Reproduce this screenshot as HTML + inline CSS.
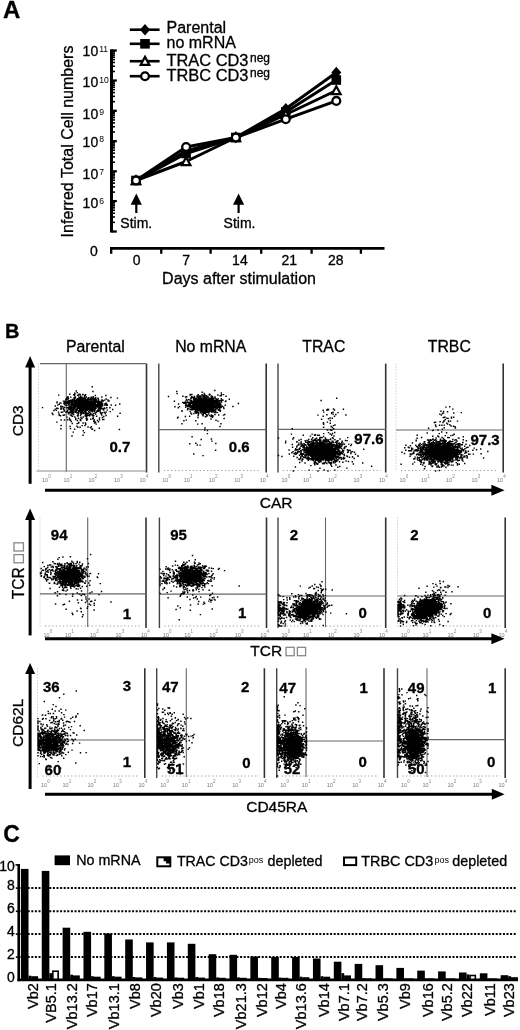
<!DOCTYPE html>
<html><head><meta charset="utf-8"><style>
html,body{margin:0;padding:0;background:#fff;overflow:hidden;}
svg{display:block;font-family:"Liberation Sans", sans-serif;filter:blur(0.35px);}
</style></head><body>
<svg width="520" height="1030" viewBox="0 0 520 1030">
<rect width="520" height="1030" fill="#fff"/>
<text x="3" y="18" font-size="24" font-weight="bold" fill="#000" stroke="#000" stroke-width="0.3">A</text>
<line x1="111.5" y1="49.3" x2="111.5" y2="232.5" stroke="#000" stroke-width="3.0"/>
<line x1="111.5" y1="50.5" x2="116.8" y2="50.5" stroke="#000" stroke-width="2.3"/>
<line x1="111.5" y1="80.5" x2="116.8" y2="80.5" stroke="#000" stroke-width="2.3"/>
<line x1="111.5" y1="110.8" x2="116.8" y2="110.8" stroke="#000" stroke-width="2.3"/>
<line x1="111.5" y1="141.2" x2="116.8" y2="141.2" stroke="#000" stroke-width="2.3"/>
<line x1="111.5" y1="171.3" x2="116.8" y2="171.3" stroke="#000" stroke-width="2.3"/>
<line x1="111.5" y1="201.1" x2="116.8" y2="201.1" stroke="#000" stroke-width="2.3"/>
<line x1="111.5" y1="231.5" x2="116.8" y2="231.5" stroke="#000" stroke-width="2.3"/>
<line x1="111.5" y1="71.46910013008056" x2="115.0" y2="71.46910013008056" stroke="#000" stroke-width="1.6"/>
<line x1="111.5" y1="66.18636235841012" x2="115.0" y2="66.18636235841012" stroke="#000" stroke-width="1.6"/>
<line x1="111.5" y1="62.438200260161125" x2="115.0" y2="62.438200260161125" stroke="#000" stroke-width="1.6"/>
<line x1="111.5" y1="59.53089986991944" x2="115.0" y2="59.53089986991944" stroke="#000" stroke-width="1.6"/>
<line x1="111.5" y1="57.15546248849069" x2="115.0" y2="57.15546248849069" stroke="#000" stroke-width="1.6"/>
<line x1="111.5" y1="55.14705879957229" x2="115.0" y2="55.14705879957229" stroke="#000" stroke-width="1.6"/>
<line x1="111.5" y1="53.407300390241694" x2="115.0" y2="53.407300390241694" stroke="#000" stroke-width="1.6"/>
<line x1="111.5" y1="51.87272471682026" x2="115.0" y2="51.87272471682026" stroke="#000" stroke-width="1.6"/>
<line x1="111.5" y1="101.67879113138137" x2="115.0" y2="101.67879113138137" stroke="#000" stroke-width="1.6"/>
<line x1="111.5" y1="96.34322598199422" x2="115.0" y2="96.34322598199422" stroke="#000" stroke-width="1.6"/>
<line x1="111.5" y1="92.55758226276274" x2="115.0" y2="92.55758226276274" stroke="#000" stroke-width="1.6"/>
<line x1="111.5" y1="89.62120886861862" x2="115.0" y2="89.62120886861862" stroke="#000" stroke-width="1.6"/>
<line x1="111.5" y1="87.2220171133756" x2="115.0" y2="87.2220171133756" stroke="#000" stroke-width="1.6"/>
<line x1="111.5" y1="85.19352938756802" x2="115.0" y2="85.19352938756802" stroke="#000" stroke-width="1.6"/>
<line x1="111.5" y1="83.43637339414411" x2="115.0" y2="83.43637339414411" stroke="#000" stroke-width="1.6"/>
<line x1="111.5" y1="81.88645196398846" x2="115.0" y2="81.88645196398846" stroke="#000" stroke-width="1.6"/>
<line x1="111.5" y1="132.04868813181497" x2="115.0" y2="132.04868813181497" stroke="#000" stroke-width="1.6"/>
<line x1="111.5" y1="126.69551385652225" x2="115.0" y2="126.69551385652225" stroke="#000" stroke-width="1.6"/>
<line x1="111.5" y1="122.89737626362994" x2="115.0" y2="122.89737626362994" stroke="#000" stroke-width="1.6"/>
<line x1="111.5" y1="119.95131186818503" x2="115.0" y2="119.95131186818503" stroke="#000" stroke-width="1.6"/>
<line x1="111.5" y1="117.54420198833722" x2="115.0" y2="117.54420198833722" stroke="#000" stroke-width="1.6"/>
<line x1="111.5" y1="115.50901958356658" x2="115.0" y2="115.50901958356658" stroke="#000" stroke-width="1.6"/>
<line x1="111.5" y1="113.7460643954449" x2="115.0" y2="113.7460643954449" stroke="#000" stroke-width="1.6"/>
<line x1="111.5" y1="112.19102771304452" x2="115.0" y2="112.19102771304452" stroke="#000" stroke-width="1.6"/>
<line x1="111.5" y1="162.23899713051418" x2="115.0" y2="162.23899713051418" stroke="#000" stroke-width="1.6"/>
<line x1="111.5" y1="156.93865023293816" x2="115.0" y2="156.93865023293816" stroke="#000" stroke-width="1.6"/>
<line x1="111.5" y1="153.17799426102832" x2="115.0" y2="153.17799426102832" stroke="#000" stroke-width="1.6"/>
<line x1="111.5" y1="150.26100286948582" x2="115.0" y2="150.26100286948582" stroke="#000" stroke-width="1.6"/>
<line x1="111.5" y1="147.87764736345233" x2="115.0" y2="147.87764736345233" stroke="#000" stroke-width="1.6"/>
<line x1="111.5" y1="145.86254899557088" x2="115.0" y2="145.86254899557088" stroke="#000" stroke-width="1.6"/>
<line x1="111.5" y1="144.11699139154248" x2="115.0" y2="144.11699139154248" stroke="#000" stroke-width="1.6"/>
<line x1="111.5" y1="142.5773004658763" x2="115.0" y2="142.5773004658763" stroke="#000" stroke-width="1.6"/>
<line x1="111.5" y1="192.12930612921335" x2="115.0" y2="192.12930612921335" stroke="#000" stroke-width="1.6"/>
<line x1="111.5" y1="186.88178660935407" x2="115.0" y2="186.88178660935407" stroke="#000" stroke-width="1.6"/>
<line x1="111.5" y1="183.15861225842673" x2="115.0" y2="183.15861225842673" stroke="#000" stroke-width="1.6"/>
<line x1="111.5" y1="180.27069387078666" x2="115.0" y2="180.27069387078666" stroke="#000" stroke-width="1.6"/>
<line x1="111.5" y1="177.91109273856742" x2="115.0" y2="177.91109273856742" stroke="#000" stroke-width="1.6"/>
<line x1="111.5" y1="175.91607840757516" x2="115.0" y2="175.91607840757516" stroke="#000" stroke-width="1.6"/>
<line x1="111.5" y1="174.18791838764008" x2="115.0" y2="174.18791838764008" stroke="#000" stroke-width="1.6"/>
<line x1="111.5" y1="172.66357321870814" x2="115.0" y2="172.66357321870814" stroke="#000" stroke-width="1.6"/>
<line x1="111.5" y1="222.34868813181498" x2="115.0" y2="222.34868813181498" stroke="#000" stroke-width="1.6"/>
<line x1="111.5" y1="216.99551385652225" x2="115.0" y2="216.99551385652225" stroke="#000" stroke-width="1.6"/>
<line x1="111.5" y1="213.19737626362993" x2="115.0" y2="213.19737626362993" stroke="#000" stroke-width="1.6"/>
<line x1="111.5" y1="210.251311868185" x2="115.0" y2="210.251311868185" stroke="#000" stroke-width="1.6"/>
<line x1="111.5" y1="207.84420198833723" x2="115.0" y2="207.84420198833723" stroke="#000" stroke-width="1.6"/>
<line x1="111.5" y1="205.8090195835666" x2="115.0" y2="205.8090195835666" stroke="#000" stroke-width="1.6"/>
<line x1="111.5" y1="204.04606439544492" x2="115.0" y2="204.04606439544492" stroke="#000" stroke-width="1.6"/>
<line x1="111.5" y1="202.49102771304453" x2="115.0" y2="202.49102771304453" stroke="#000" stroke-width="1.6"/>
<text x="98.2" y="55.8" font-size="14" text-anchor="end" fill="#000" stroke="#000" stroke-width="0.3">10</text>
<text x="99.2" y="51.5" font-size="8.6" fill="#000">11</text>
<text x="98.2" y="87.2" font-size="14" text-anchor="end" fill="#000" stroke="#000" stroke-width="0.3">10</text>
<text x="99.2" y="82.9" font-size="8.6" fill="#000">10</text>
<text x="98.2" y="118.8" font-size="14" text-anchor="end" fill="#000" stroke="#000" stroke-width="0.3">10</text>
<text x="99.2" y="114.5" font-size="8.6" fill="#000">9</text>
<text x="98.2" y="146.6" font-size="14" text-anchor="end" fill="#000" stroke="#000" stroke-width="0.3">10</text>
<text x="99.2" y="142.29999999999998" font-size="8.6" fill="#000">8</text>
<text x="98.2" y="179.1" font-size="14" text-anchor="end" fill="#000" stroke="#000" stroke-width="0.3">10</text>
<text x="99.2" y="174.79999999999998" font-size="8.6" fill="#000">7</text>
<text x="98.2" y="208.2" font-size="14" text-anchor="end" fill="#000" stroke="#000" stroke-width="0.3">10</text>
<text x="99.2" y="203.89999999999998" font-size="8.6" fill="#000">6</text>
<text transform="translate(72.9 141.5) rotate(-90)" font-size="16" text-anchor="middle" fill="#000" stroke="#000" stroke-width="0.3">Inferred Total Cell numbers</text>
<line x1="110" y1="248.4" x2="384.5" y2="248.4" stroke="#000" stroke-width="2.6"/>
<line x1="111.2" y1="248" x2="111.2" y2="253.8" stroke="#000" stroke-width="2.3"/>
<line x1="161.25" y1="248" x2="161.25" y2="253.8" stroke="#000" stroke-width="2.3"/>
<line x1="210.6" y1="248" x2="210.6" y2="253.8" stroke="#000" stroke-width="2.3"/>
<line x1="261.2" y1="248" x2="261.2" y2="253.8" stroke="#000" stroke-width="2.3"/>
<line x1="311.6" y1="248" x2="311.6" y2="253.8" stroke="#000" stroke-width="2.3"/>
<line x1="360.9" y1="248" x2="360.9" y2="253.8" stroke="#000" stroke-width="2.3"/>
<text x="93.8" y="256" font-size="14" text-anchor="middle" fill="#000" stroke="#000" stroke-width="0.3">0</text>
<text x="136.6" y="264.8" font-size="14" text-anchor="middle" fill="#000" stroke="#000" stroke-width="0.3">0</text>
<text x="186.2" y="264.8" font-size="14" text-anchor="middle" fill="#000" stroke="#000" stroke-width="0.3">7</text>
<text x="239.9" y="264.8" font-size="14" text-anchor="middle" fill="#000" stroke="#000" stroke-width="0.3">14</text>
<text x="289.3" y="264.8" font-size="14" text-anchor="middle" fill="#000" stroke="#000" stroke-width="0.3">21</text>
<text x="335.7" y="264.8" font-size="14" text-anchor="middle" fill="#000" stroke="#000" stroke-width="0.3">28</text>
<text x="162.1" y="284.3" font-size="16" fill="#000" stroke="#000" stroke-width="0.3">Days after stimulation</text>
<line x1="136.3" y1="203" x2="136.3" y2="213" stroke="#000" stroke-width="2.2"/>
<path d="M130.70000000000002 204.8 L136.3 193.5 L141.9 204.8 Z" fill="#000"/>
<text x="136.3" y="227.7" font-size="14" text-anchor="middle" fill="#000" stroke="#000" stroke-width="0.3">Stim.</text>
<line x1="238.6" y1="203" x2="238.6" y2="213" stroke="#000" stroke-width="2.2"/>
<path d="M233.0 204.8 L238.6 193.5 L244.2 204.8 Z" fill="#000"/>
<text x="239.5" y="227.7" font-size="14" text-anchor="middle" fill="#000" stroke="#000" stroke-width="0.3">Stim.</text>
<polyline points="136.0,180.5 186.1,151.0 235.8,137.5 285.8,108.8 336.3,72.5" fill="none" stroke="#000" stroke-width="3" stroke-linejoin="round"/>
<polyline points="136.0,180.5 186.1,153.5 235.8,137.5 285.8,112.0 336.3,80.0" fill="none" stroke="#000" stroke-width="3" stroke-linejoin="round"/>
<polyline points="136.0,180.5 186.1,161.5 235.8,137.5 285.8,114.5 336.3,90.5" fill="none" stroke="#000" stroke-width="3" stroke-linejoin="round"/>
<polyline points="136.0,180.5 186.1,147.0 235.8,137.5 285.8,119.2 336.3,100.9" fill="none" stroke="#000" stroke-width="3" stroke-linejoin="round"/>
<path d="M186.1 145.2 L191.1 151.0 L186.1 156.8 L181.1 151.0 Z" fill="#000"/>
<path d="M235.8 131.7 L240.8 137.5 L235.8 143.3 L230.8 137.5 Z" fill="#000"/>
<path d="M285.8 103.0 L290.8 108.8 L285.8 114.6 L280.8 108.8 Z" fill="#000"/>
<path d="M336.3 66.7 L341.3 72.5 L336.3 78.3 L331.3 72.5 Z" fill="#000"/>
<rect x="131.2" y="175.7" width="9.6" height="9.6" fill="#000"/>
<rect x="181.29999999999998" y="148.7" width="9.6" height="9.6" fill="#000"/>
<rect x="231.0" y="132.7" width="9.6" height="9.6" fill="#000"/>
<rect x="281.0" y="107.2" width="9.6" height="9.6" fill="#000"/>
<rect x="331.5" y="75.2" width="9.6" height="9.6" fill="#000"/>
<path d="M136.0 176.2 L140.3 184.1 L131.7 184.1 Z" fill="#fff" stroke="#000" stroke-width="2.2" stroke-linejoin="miter"/>
<path d="M186.1 157.2 L190.4 165.1 L181.79999999999998 165.1 Z" fill="#fff" stroke="#000" stroke-width="2.2" stroke-linejoin="miter"/>
<path d="M235.8 133.2 L240.10000000000002 141.1 L231.5 141.1 Z" fill="#fff" stroke="#000" stroke-width="2.2" stroke-linejoin="miter"/>
<path d="M285.8 110.2 L290.1 118.1 L281.5 118.1 Z" fill="#fff" stroke="#000" stroke-width="2.2" stroke-linejoin="miter"/>
<path d="M336.3 86.2 L340.6 94.1 L332.0 94.1 Z" fill="#fff" stroke="#000" stroke-width="2.2" stroke-linejoin="miter"/>
<circle cx="136.0" cy="180.5" r="3.9" fill="#fff" stroke="#000" stroke-width="2.3"/>
<circle cx="186.1" cy="147.0" r="3.9" fill="#fff" stroke="#000" stroke-width="2.3"/>
<circle cx="235.8" cy="137.5" r="3.9" fill="#fff" stroke="#000" stroke-width="2.3"/>
<circle cx="285.8" cy="119.2" r="3.9" fill="#fff" stroke="#000" stroke-width="2.3"/>
<circle cx="336.3" cy="100.9" r="3.9" fill="#fff" stroke="#000" stroke-width="2.3"/>
<line x1="129.8" y1="29.7" x2="159.6" y2="29.7" stroke="#000" stroke-width="2.6"/>
<path d="M145 23.9 L150 29.7 L145 35.5 L140 29.7 Z" fill="#000"/>
<text x="166.5" y="32.8" font-size="16" fill="#000" stroke="#000" stroke-width="0.3">Parental</text>
<line x1="129.8" y1="43.8" x2="159.6" y2="43.8" stroke="#000" stroke-width="2.6"/>
<rect x="140.2" y="39.0" width="9.6" height="9.6" fill="#000"/>
<text x="166.5" y="48.0" font-size="16" fill="#000" stroke="#000" stroke-width="0.3">no mRNA</text>
<line x1="129.8" y1="61.2" x2="159.6" y2="61.2" stroke="#000" stroke-width="2.6"/>
<path d="M145 56.900000000000006 L149.3 64.8 L140.7 64.8 Z" fill="#fff" stroke="#000" stroke-width="2.2" stroke-linejoin="miter"/>
<text x="166.5" y="65.8" font-size="16.4" fill="#000" stroke="#000" stroke-width="0.3">TRAC CD3</text>
<line x1="129.8" y1="76.2" x2="159.6" y2="76.2" stroke="#000" stroke-width="2.6"/>
<circle cx="145" cy="76.2" r="3.9" fill="#fff" stroke="#000" stroke-width="2.3"/>
<text x="166.5" y="80.8" font-size="16.4" fill="#000" stroke="#000" stroke-width="0.3">TRBC CD3</text>
<text x="250.0" y="61.6" font-size="12" fill="#000" stroke="#000" stroke-width="0.3">neg</text>
<text x="250.0" y="76.6" font-size="12" fill="#000" stroke="#000" stroke-width="0.3">neg</text>
<text x="5" y="338" font-size="20" font-weight="bold" fill="#000" stroke="#000" stroke-width="0.3">B</text>
<text x="95.3" y="351.5" font-size="15.8" text-anchor="middle" fill="#000" stroke="#000" stroke-width="0.3">Parental</text>
<text x="210.7" y="351.5" font-size="15.8" text-anchor="middle" fill="#000" stroke="#000" stroke-width="0.3">No mRNA</text>
<text x="323.8" y="351.5" font-size="15.8" text-anchor="middle" fill="#000" stroke="#000" stroke-width="0.3">TRAC</text>
<text x="449.3" y="351.5" font-size="15.8" text-anchor="middle" fill="#000" stroke="#000" stroke-width="0.3">TRBC</text>
<line x1="146.5" y1="363.6" x2="146.5" y2="472.5" stroke="#333" stroke-width="1.6"/>
<line x1="38.5" y1="363.6" x2="38.5" y2="471.5" stroke="#bbb" stroke-width="1.0" stroke-dasharray="1 2"/>
<line x1="40.0" y1="363.6" x2="146.5" y2="363.6" stroke="#666" stroke-width="1.3"/>
<line x1="36.5" y1="471.0" x2="146.5" y2="471.0" stroke="#888" stroke-width="1.0"/>
<text x="45.0" y="481.5" font-size="5.5" text-anchor="middle" fill="#777">10</text>
<text x="48.2" y="477.8" font-size="4.5" fill="#888">0</text>
<text x="66.5" y="481.5" font-size="5.5" text-anchor="middle" fill="#777">10</text>
<text x="69.7" y="477.8" font-size="4.5" fill="#888">1</text>
<text x="91.5" y="481.5" font-size="5.5" text-anchor="middle" fill="#777">10</text>
<text x="94.7" y="477.8" font-size="4.5" fill="#888">2</text>
<text x="117.0" y="481.5" font-size="5.5" text-anchor="middle" fill="#777">10</text>
<text x="120.2" y="477.8" font-size="4.5" fill="#888">3</text>
<text x="142.5" y="481.5" font-size="5.5" text-anchor="middle" fill="#777">10</text>
<text x="145.7" y="477.8" font-size="4.5" fill="#888">4</text>
<line x1="66.3" y1="363.6" x2="66.3" y2="471.5" stroke="#666" stroke-width="1.1"/>
<line x1="266.2" y1="363.6" x2="266.2" y2="472.5" stroke="#333" stroke-width="1.6"/>
<line x1="158.8" y1="363.6" x2="158.8" y2="472.5" stroke="#444" stroke-width="1.4"/>
<line x1="163.8" y1="470.5" x2="261.2" y2="470.5" stroke="#999" stroke-width="1.1" stroke-dasharray="1.2 2.4"/>
<text x="165.3" y="481.5" font-size="5.5" text-anchor="middle" fill="#777">10</text>
<text x="168.5" y="477.8" font-size="4.5" fill="#888">0</text>
<text x="186.8" y="481.5" font-size="5.5" text-anchor="middle" fill="#777">10</text>
<text x="190.0" y="477.8" font-size="4.5" fill="#888">1</text>
<text x="211.8" y="481.5" font-size="5.5" text-anchor="middle" fill="#777">10</text>
<text x="215.0" y="477.8" font-size="4.5" fill="#888">2</text>
<text x="237.3" y="481.5" font-size="5.5" text-anchor="middle" fill="#777">10</text>
<text x="240.5" y="477.8" font-size="4.5" fill="#888">3</text>
<text x="262.8" y="481.5" font-size="5.5" text-anchor="middle" fill="#777">10</text>
<text x="266.0" y="477.8" font-size="4.5" fill="#888">4</text>
<line x1="158.8" y1="429.6" x2="266.2" y2="429.6" stroke="#666" stroke-width="1.2"/>
<line x1="385.7" y1="363.6" x2="385.7" y2="472.5" stroke="#333" stroke-width="1.6"/>
<line x1="278.0" y1="363.6" x2="278.0" y2="472.5" stroke="#444" stroke-width="1.4"/>
<line x1="283.0" y1="470.5" x2="380.7" y2="470.5" stroke="#999" stroke-width="1.1" stroke-dasharray="1.2 2.4"/>
<text x="284.5" y="481.5" font-size="5.5" text-anchor="middle" fill="#777">10</text>
<text x="287.7" y="477.8" font-size="4.5" fill="#888">0</text>
<text x="306.0" y="481.5" font-size="5.5" text-anchor="middle" fill="#777">10</text>
<text x="309.2" y="477.8" font-size="4.5" fill="#888">1</text>
<text x="331.0" y="481.5" font-size="5.5" text-anchor="middle" fill="#777">10</text>
<text x="334.2" y="477.8" font-size="4.5" fill="#888">2</text>
<text x="356.5" y="481.5" font-size="5.5" text-anchor="middle" fill="#777">10</text>
<text x="359.7" y="477.8" font-size="4.5" fill="#888">3</text>
<text x="382.0" y="481.5" font-size="5.5" text-anchor="middle" fill="#777">10</text>
<text x="385.2" y="477.8" font-size="4.5" fill="#888">4</text>
<line x1="278.0" y1="429.4" x2="385.7" y2="429.4" stroke="#666" stroke-width="1.2"/>
<line x1="503.2" y1="363.6" x2="503.2" y2="472.5" stroke="#333" stroke-width="1.6"/>
<line x1="396.0" y1="363.6" x2="396.0" y2="471.5" stroke="#bbb" stroke-width="1.0" stroke-dasharray="1 2"/>
<line x1="401.0" y1="470.5" x2="498.2" y2="470.5" stroke="#999" stroke-width="1.1" stroke-dasharray="1.2 2.4"/>
<text x="402.5" y="481.5" font-size="5.5" text-anchor="middle" fill="#777">10</text>
<text x="405.7" y="477.8" font-size="4.5" fill="#888">0</text>
<text x="424.0" y="481.5" font-size="5.5" text-anchor="middle" fill="#777">10</text>
<text x="427.2" y="477.8" font-size="4.5" fill="#888">1</text>
<text x="449.0" y="481.5" font-size="5.5" text-anchor="middle" fill="#777">10</text>
<text x="452.2" y="477.8" font-size="4.5" fill="#888">2</text>
<text x="474.5" y="481.5" font-size="5.5" text-anchor="middle" fill="#777">10</text>
<text x="477.7" y="477.8" font-size="4.5" fill="#888">3</text>
<text x="500.0" y="481.5" font-size="5.5" text-anchor="middle" fill="#777">10</text>
<text x="503.2" y="477.8" font-size="4.5" fill="#888">4</text>
<line x1="396.0" y1="430.0" x2="503.2" y2="430.0" stroke="#666" stroke-width="1.2"/>
<line x1="30.1" y1="366.5" x2="30.1" y2="483.8" stroke="#000" stroke-width="3.0"/>
<path d="M25.1 367.5 L30.1 355.9 L35.1 367.5 Z" fill="#000"/>
<line x1="45.0" y1="490.2" x2="492.4" y2="490.2" stroke="#000" stroke-width="3.0"/>
<path d="M491.4 484.7 L504.6 490.2 L491.4 495.7 Z" fill="#000"/>
<text transform="translate(23.3 420.8) rotate(-90)" font-size="15.5" text-anchor="middle" fill="#000" stroke="#000" stroke-width="0.3">CD3</text>
<text x="259.8" y="507.9" font-size="15.5" fill="#000" stroke="#000" stroke-width="0.3">CAR</text>
<path d="M82.8 404.3h0M87.6 401.4h0M79.8 405.7h0M78.8 403.2h0M91.2 406.6h0M78.6 403.2h0M75.6 402.9h0M88.0 403.6h0M93.7 403.5h0M78.6 404.0h0M82.8 401.8h0M82.9 404.6h0M70.7 411.8h0M99.6 403.2h0M106.5 404.2h0M95.2 399.6h0M85.9 405.4h0M67.0 407.7h0M70.3 401.3h0M85.3 408.2h0M79.5 397.7h0M86.4 401.6h0M88.6 402.3h0M87.9 399.8h0M89.0 408.3h0M60.2 403.0h0M89.5 404.5h0M101.9 403.3h0M88.0 406.0h0M78.6 403.5h0M82.6 405.0h0M83.1 402.6h0M105.4 403.7h0M87.9 398.2h0M74.3 407.9h0M84.8 400.0h0M96.3 405.9h0M78.0 408.3h0M63.4 408.1h0M88.9 409.7h0M80.2 399.8h0M89.0 405.0h0M90.7 403.5h0M88.0 406.5h0M72.8 403.0h0M84.8 404.0h0M77.9 404.1h0M70.7 400.1h0M93.3 406.4h0M70.0 407.4h0M93.5 403.0h0M84.8 411.2h0M92.4 404.5h0M79.3 405.3h0M79.1 400.2h0M84.1 407.6h0M81.0 401.1h0M93.6 405.6h0M88.5 408.6h0M85.5 405.8h0M90.7 402.1h0M80.9 408.2h0M79.1 399.1h0M86.2 401.4h0M75.9 405.5h0M71.7 403.5h0M81.5 403.0h0M73.7 408.0h0M99.3 405.3h0M80.2 400.7h0M76.9 404.9h0M83.1 400.0h0M83.8 404.9h0M72.0 410.5h0M78.0 399.6h0M86.2 403.6h0M79.1 402.6h0M79.2 405.3h0M72.1 410.1h0M81.2 397.3h0M91.2 405.4h0M84.6 403.0h0M85.5 405.3h0M86.8 401.7h0M82.6 404.3h0M92.6 406.8h0M86.2 400.9h0M82.8 404.9h0M88.4 405.2h0M87.3 408.4h0M67.4 411.5h0M80.0 410.7h0M93.8 406.3h0M70.8 402.4h0M74.2 406.3h0M84.9 402.0h0M71.6 403.1h0M85.1 401.9h0M82.2 404.4h0M74.0 398.0h0M73.4 409.1h0M83.0 403.5h0M81.1 404.2h0M77.4 409.8h0M92.6 407.2h0M88.3 404.6h0M88.1 403.5h0M94.3 411.4h0M81.6 406.3h0M93.2 406.3h0M90.2 404.9h0M86.7 409.7h0M90.6 408.0h0M85.6 415.1h0M105.5 403.5h0M93.8 401.4h0M96.3 401.9h0M92.3 408.8h0M84.9 403.5h0M89.6 409.8h0M85.4 399.5h0M89.4 405.9h0M86.4 413.8h0M85.4 407.3h0M78.8 399.2h0M71.3 402.1h0M97.9 398.2h0M85.8 404.5h0M101.9 400.0h0M77.5 406.6h0M80.0 400.6h0M89.5 405.7h0M79.9 408.3h0M91.3 409.0h0M93.2 403.3h0M71.8 401.9h0M88.0 399.3h0M68.9 403.4h0M106.3 405.2h0M95.8 400.8h0M88.0 408.7h0M93.4 404.6h0M86.6 408.4h0M84.0 405.5h0M86.0 401.4h0M82.4 403.8h0M68.6 401.6h0M85.8 401.0h0M93.0 407.5h0M81.3 406.7h0M86.4 407.4h0M80.0 400.8h0M74.7 399.5h0M88.6 399.8h0M95.2 403.7h0M70.5 402.8h0M98.5 403.0h0M88.8 403.0h0M70.9 406.6h0M82.1 397.4h0M83.2 407.0h0M75.9 405.8h0M91.9 405.9h0M74.2 399.5h0M85.7 408.8h0M84.0 402.0h0M89.6 404.2h0M74.9 397.0h0M77.8 406.0h0M78.2 401.8h0M90.9 404.6h0M75.5 401.7h0M78.6 406.9h0M94.6 408.5h0M73.8 407.8h0M65.4 400.9h0M85.5 402.2h0M82.6 404.2h0M84.2 401.5h0M90.7 403.6h0M73.0 403.8h0M90.0 399.8h0M90.1 401.9h0M89.0 405.3h0M98.3 405.6h0M77.8 398.6h0M84.9 402.2h0M96.8 406.0h0M92.6 404.0h0M72.2 401.3h0M66.7 398.3h0M92.1 403.5h0M83.2 404.7h0M91.4 406.6h0M79.6 402.0h0M95.7 407.1h0M78.7 400.4h0M88.0 405.8h0M81.9 410.8h0M86.6 403.5h0M103.3 401.0h0M85.8 401.5h0M100.9 402.7h0M85.6 404.7h0M75.0 407.2h0M107.3 405.3h0M78.7 400.3h0M79.5 404.1h0M83.8 398.2h0M101.1 404.9h0M70.5 410.5h0M80.4 406.0h0M86.8 407.0h0M89.1 404.9h0M72.1 404.8h0M79.3 403.3h0M89.3 404.3h0M88.2 402.9h0M79.1 399.9h0M65.9 399.2h0M83.5 409.4h0M74.9 403.6h0M78.8 405.4h0M101.3 408.7h0M80.3 402.4h0M86.0 401.9h0M77.4 400.0h0M86.8 400.5h0M98.5 402.5h0M79.4 404.6h0M83.7 405.9h0M67.0 403.2h0M83.3 399.0h0M77.1 405.3h0M88.7 399.1h0M77.7 400.2h0M87.2 399.5h0M83.2 407.4h0M81.1 406.7h0M96.0 400.7h0M76.1 401.5h0M79.5 404.2h0M71.5 404.7h0M77.3 407.4h0M105.0 404.0h0M104.3 407.9h0M88.8 397.8h0M86.2 401.7h0M93.2 407.7h0M86.1 402.6h0M106.9 404.8h0M90.2 402.5h0M87.8 401.4h0M84.8 403.5h0M78.7 402.4h0M82.6 403.4h0M81.4 402.7h0M80.6 404.5h0M79.9 405.4h0M79.0 407.5h0M76.7 399.8h0M65.6 403.0h0M79.5 405.0h0M80.5 401.0h0M92.7 402.6h0M92.7 404.3h0M94.5 403.0h0M88.0 401.0h0M81.1 403.1h0M85.3 405.6h0M77.1 405.8h0M71.2 402.2h0M84.5 406.8h0M88.8 404.3h0M69.0 409.1h0M87.7 407.3h0M96.6 404.4h0M76.5 405.5h0M78.2 405.8h0M78.9 405.2h0M78.8 396.1h0M91.6 402.2h0M100.2 404.4h0M72.4 405.1h0M74.3 398.7h0M73.9 403.6h0M85.9 404.8h0M86.8 405.7h0M95.4 402.4h0M92.2 404.5h0M68.7 407.5h0M73.8 406.3h0M83.3 407.1h0M98.6 406.9h0M68.6 404.4h0M80.3 403.3h0M83.0 407.1h0M85.8 400.8h0M100.6 402.7h0M79.7 400.0h0M80.9 401.0h0M99.0 408.1h0M60.8 406.2h0M82.6 399.5h0M71.0 406.4h0M84.4 407.3h0M76.6 409.9h0M88.1 403.5h0M92.8 404.5h0M79.8 400.6h0M85.6 394.8h0M76.9 399.5h0M91.8 407.6h0M79.6 402.3h0M98.1 404.9h0M97.7 403.8h0M89.8 410.7h0M80.4 406.9h0M90.6 398.3h0M101.9 400.9h0M90.8 404.0h0M78.0 402.7h0M93.2 399.4h0M84.9 395.6h0M77.6 395.3h0M79.0 404.4h0M61.0 403.1h0M77.7 402.0h0M88.2 405.1h0M94.7 407.8h0M79.2 407.3h0M92.4 403.5h0M79.0 401.3h0M76.5 406.4h0M79.5 404.6h0M76.4 400.5h0M103.7 410.1h0M91.6 403.8h0M75.1 409.1h0M71.7 403.8h0M85.4 398.2h0M82.9 408.0h0M91.3 397.3h0M95.4 399.3h0M82.8 403.3h0M74.1 408.1h0M84.2 405.3h0M70.5 400.7h0M99.3 403.9h0M81.7 404.3h0M75.4 397.3h0M71.9 403.5h0M91.0 405.7h0M69.7 400.6h0M75.9 409.9h0M73.7 401.7h0M88.4 409.1h0M90.5 406.8h0M98.5 399.4h0M89.9 403.2h0M92.8 401.8h0M94.4 410.4h0M108.3 401.1h0M79.7 405.9h0M97.4 401.5h0M97.7 401.4h0M99.3 403.5h0M93.1 396.8h0M64.7 407.4h0M63.3 408.6h0M70.9 402.7h0M92.6 404.2h0M83.8 404.5h0M81.2 406.5h0M89.7 405.7h0M88.2 402.1h0M74.9 393.7h0M98.9 404.3h0M88.0 405.7h0M76.4 411.3h0M87.0 402.9h0M85.0 402.6h0M59.3 415.2h0M87.3 402.8h0M74.9 402.5h0M75.5 397.8h0M63.4 401.1h0M88.5 402.7h0M89.9 404.8h0M69.4 403.7h0M93.4 399.5h0M76.7 400.1h0M78.6 401.1h0M74.6 398.3h0M93.4 399.6h0M82.3 402.8h0M79.1 407.4h0M81.8 406.2h0M71.3 408.7h0M81.6 412.1h0M93.9 404.1h0M81.1 398.2h0M88.7 404.1h0M95.1 405.9h0M91.9 406.0h0M83.1 405.6h0M76.8 406.7h0M76.3 402.5h0M91.7 405.3h0M83.7 403.7h0M82.1 403.9h0M88.1 402.3h0M79.9 403.7h0M67.9 402.2h0M98.4 400.8h0M84.9 403.7h0M85.0 403.0h0M105.9 395.5h0M81.4 399.3h0M83.6 402.5h0M86.7 402.9h0M84.5 406.8h0M80.4 400.8h0M75.5 406.7h0M84.4 397.3h0M88.4 401.6h0M88.0 404.5h0M95.8 407.8h0M97.8 407.0h0M98.5 404.1h0M84.2 409.0h0M84.9 398.9h0M85.7 404.3h0M68.7 409.1h0M76.8 404.6h0M66.7 405.2h0M85.3 405.7h0M92.7 402.2h0M76.3 405.0h0M84.7 411.0h0M86.4 401.5h0M80.7 396.2h0M60.8 408.9h0M99.2 407.6h0M88.3 401.8h0M82.7 406.7h0M95.3 408.8h0M78.7 398.2h0M79.4 401.9h0M90.3 405.4h0M84.5 403.3h0M75.8 403.4h0M81.9 407.1h0M79.2 402.8h0M94.0 409.7h0M84.3 400.7h0M84.1 408.6h0M99.3 401.5h0M71.4 405.7h0M74.5 408.3h0M81.8 403.9h0M75.1 397.7h0M78.4 404.2h0M82.0 406.2h0M92.3 399.2h0M81.6 406.8h0M91.2 406.7h0M99.8 403.1h0M87.4 403.5h0M102.7 400.5h0M85.9 402.3h0M101.8 396.9h0M83.3 399.8h0M73.2 410.0h0M77.2 402.2h0M85.5 404.3h0M81.6 401.2h0M89.5 406.2h0M66.1 405.6h0M79.1 404.3h0M90.7 399.4h0M64.5 401.9h0M76.2 405.9h0M97.8 405.8h0M67.4 398.1h0M93.8 404.2h0M74.9 405.4h0M100.8 405.7h0M97.1 405.3h0M80.2 407.4h0M87.4 402.0h0M76.5 403.8h0M74.8 401.2h0M81.9 402.6h0M74.6 400.2h0M106.8 407.8h0M94.0 399.0h0M86.5 400.0h0M88.8 403.0h0M83.0 394.4h0M96.7 405.9h0M89.2 403.7h0M65.1 401.3h0M83.4 406.4h0M80.6 397.9h0M96.9 402.2h0M100.6 406.2h0M81.3 408.4h0M79.2 394.5h0M79.0 403.4h0M71.9 403.7h0M84.1 401.7h0M81.1 403.6h0M86.0 403.9h0M78.3 403.4h0M82.5 407.5h0M83.9 406.7h0M80.0 407.8h0M90.3 403.4h0M85.3 404.9h0M98.3 400.9h0M86.6 402.3h0M70.8 405.9h0M68.9 402.9h0M91.0 411.1h0M73.1 401.4h0M75.2 402.1h0M89.7 404.2h0M80.1 404.2h0M78.9 402.7h0M80.1 400.7h0M79.9 401.7h0M94.0 407.6h0M87.0 401.9h0M102.6 405.6h0M84.3 398.0h0M86.5 400.5h0M100.4 402.1h0M84.8 395.7h0M94.3 401.5h0M95.9 405.6h0M82.2 404.0h0M77.1 410.0h0M68.5 398.3h0M84.2 401.8h0M83.3 402.9h0M89.4 401.9h0M86.9 403.8h0M83.8 402.4h0M95.4 399.1h0M71.8 403.7h0M85.7 407.3h0M89.7 406.8h0M92.7 407.8h0M75.1 404.1h0M70.7 411.1h0M109.0 400.9h0M81.4 405.1h0M93.8 409.9h0M80.8 405.6h0M90.5 403.3h0M74.9 402.7h0M89.9 406.6h0M86.8 399.7h0M85.1 403.5h0M91.9 406.3h0M77.9 401.2h0M81.2 410.3h0M92.3 400.0h0M94.5 408.3h0M71.9 400.4h0M82.9 399.5h0M70.5 408.4h0M104.8 400.1h0M81.8 406.3h0M89.1 408.9h0M90.8 403.4h0M72.7 405.4h0M73.6 406.2h0M75.3 407.4h0M100.0 403.2h0M93.7 403.2h0M87.8 405.9h0M85.9 410.0h0M86.0 408.4h0M92.9 402.4h0M85.6 411.3h0M87.5 403.8h0M95.3 395.5h0M81.4 407.2h0M86.4 406.3h0M85.3 400.2h0M80.7 407.1h0M110.9 397.5h0M80.8 406.5h0M82.0 410.1h0M89.2 402.8h0M90.8 405.9h0M92.9 398.1h0M93.4 402.9h0M86.8 404.3h0M87.2 400.8h0M87.7 406.5h0M101.1 408.6h0M73.8 405.8h0M87.6 408.0h0M83.5 412.3h0M94.0 399.8h0M69.9 401.8h0M91.8 405.7h0M96.3 399.8h0M80.2 407.2h0M84.2 404.1h0M89.8 403.3h0M85.9 401.9h0M72.6 405.2h0M87.1 406.6h0M84.5 404.2h0M71.7 408.9h0M85.9 407.7h0M75.0 406.6h0M84.7 405.1h0M71.2 412.5h0M74.9 402.1h0M79.8 409.3h0M91.8 407.9h0M80.4 404.0h0M75.4 404.0h0M94.4 404.3h0M85.3 405.6h0M79.3 399.9h0M72.5 407.5h0M90.5 401.7h0M64.3 402.8h0M82.9 407.8h0M75.0 404.3h0M68.5 401.7h0M90.8 401.4h0M80.6 409.9h0M81.8 401.3h0M77.3 404.9h0M77.6 403.6h0M90.7 405.2h0M90.8 405.5h0M80.1 406.7h0M98.6 401.5h0M82.5 411.6h0M82.4 404.1h0M80.1 404.3h0M80.3 412.8h0M57.0 402.0h0M76.0 405.1h0M84.9 406.6h0M85.7 399.4h0M91.0 400.9h0M98.0 398.5h0M96.6 406.3h0M91.9 405.5h0M93.4 407.6h0M86.9 405.1h0M82.7 398.7h0M95.8 397.7h0M79.9 397.6h0M81.5 407.8h0M74.8 403.0h0M73.4 404.9h0M81.3 403.9h0M93.7 408.8h0M88.3 402.2h0M89.3 405.7h0M91.4 401.4h0M95.0 403.5h0M96.1 408.0h0M94.7 407.7h0M99.7 403.9h0M87.9 400.6h0M90.3 405.0h0M94.6 399.2h0M78.3 402.9h0M66.6 404.9h0M99.9 408.8h0M97.4 406.6h0M102.5 404.8h0M79.2 408.1h0M97.6 405.4h0M92.1 403.9h0M86.9 402.3h0M97.7 405.2h0M82.0 409.5h0M88.7 404.7h0M79.4 407.9h0M84.3 405.8h0M90.9 406.2h0M95.0 405.7h0M95.3 404.8h0M82.9 404.9h0M96.4 404.6h0M82.6 401.9h0M80.4 403.4h0M66.9 405.4h0M89.8 414.7h0M93.1 405.1h0M85.1 405.4h0M80.4 419.1h0M91.8 404.0h0M73.3 411.1h0M88.4 413.4h0M93.7 400.8h0M94.1 401.0h0M76.1 400.6h0M87.8 415.3h0M78.4 411.9h0M71.3 421.4h0M119.7 404.0h0M73.2 406.6h0M76.2 412.1h0M111.2 404.9h0M88.0 400.3h0M61.3 409.0h0M101.1 401.4h0M102.0 405.1h0M94.2 400.5h0M59.3 404.3h0M58.5 412.1h0M82.2 425.6h0M82.9 403.7h0M79.4 403.1h0M90.1 410.0h0M52.9 414.4h0M85.4 416.1h0M76.0 409.5h0M80.0 402.8h0M110.2 411.6h0M84.3 406.0h0M72.3 409.7h0M77.3 403.3h0M82.7 406.1h0M100.9 402.9h0M63.2 415.2h0M83.3 402.4h0M100.9 413.0h0M59.0 414.0h0M99.5 417.9h0M89.3 404.3h0M83.3 417.0h0M80.5 415.3h0M70.3 406.7h0M92.2 411.7h0M93.4 397.2h0M101.3 413.9h0M98.0 401.9h0M102.1 405.9h0M70.1 409.3h0M66.2 403.2h0M92.0 407.8h0M70.5 420.3h0M79.3 402.9h0M79.3 407.1h0M86.3 409.5h0M88.3 405.1h0M75.3 412.2h0M82.2 405.6h0M92.6 408.2h0M72.1 405.5h0M94.2 410.5h0M81.9 418.4h0M83.4 406.7h0M87.4 405.3h0M72.1 412.0h0M90.6 408.6h0M82.9 398.1h0M92.9 391.4h0M93.1 404.5h0M72.7 400.0h0M87.4 418.9h0M99.8 403.3h0M86.2 402.8h0M91.0 403.2h0M78.0 415.9h0M72.0 403.3h0M95.5 398.5h0M55.3 405.9h0M72.7 411.8h0M96.1 407.3h0M102.4 417.5h0M79.4 402.7h0M91.4 398.8h0M67.6 410.3h0M100.6 405.5h0M96.0 412.2h0M72.3 423.5h0M70.9 410.5h0M86.3 397.0h0M102.5 412.7h0M100.9 404.5h0M78.5 422.9h0M98.9 411.0h0M89.7 415.8h0M60.5 415.8h0M98.0 411.2h0M82.4 411.0h0M95.4 400.2h0M73.7 414.4h0M79.3 408.7h0M82.2 409.5h0M106.1 415.4h0M86.3 402.7h0M112.7 409.5h0M93.5 410.0h0M94.6 401.1h0M61.4 412.3h0M100.0 403.8h0M88.7 406.8h0M62.8 406.8h0M93.0 401.9h0M76.0 404.1h0M81.7 399.5h0M101.1 407.5h0M92.8 418.8h0M76.9 409.0h0M99.9 406.2h0M88.6 411.8h0M83.1 422.9h0M85.4 406.4h0M80.2 402.5h0M62.7 412.1h0M80.9 413.2h0M106.4 403.2h0M95.3 398.6h0M106.7 405.3h0M83.7 402.6h0M74.8 393.3h0M63.9 403.5h0M91.1 414.5h0M61.7 406.1h0M73.8 407.4h0M100.0 407.3h0M103.8 416.4h0M61.1 419.9h0M107.3 410.1h0M74.5 398.7h0M100.1 409.8h0M72.2 407.9h0M100.4 412.7h0M56.9 422.1h0M85.4 414.4h0M79.9 405.1h0M87.5 410.3h0M98.2 398.7h0M92.4 411.6h0M81.5 406.1h0M92.4 409.6h0M85.8 403.2h0M83.8 404.1h0M70.0 400.7h0M78.4 404.9h0M73.6 409.1h0M78.4 413.2h0M91.6 405.7h0M64.6 414.9h0M105.3 413.4h0M100.1 402.9h0M97.8 404.8h0M92.3 386.7h0M68.6 408.2h0M104.6 405.1h0M69.9 407.8h0M76.3 391.0h0M68.4 407.8h0M80.0 407.9h0M94.0 398.7h0M68.9 400.8h0M89.4 401.5h0M74.7 405.9h0M65.0 404.7h0M75.5 406.4h0M83.3 409.8h0M67.9 412.1h0M71.4 415.7h0M72.2 412.9h0M89.2 415.6h0M86.1 412.5h0M66.0 412.0h0M74.0 407.6h0M64.3 403.7h0M85.7 411.2h0M92.6 403.6h0M69.0 405.2h0M71.9 407.6h0M96.6 416.2h0M69.8 394.2h0M56.7 408.2h0M42.5 407.6h0M89.9 412.8h0M85.8 401.2h0M57.1 402.8h0M85.2 410.3h0M103.3 409.0h0M93.8 406.4h0M69.2 407.8h0M58.0 408.5h0M98.0 402.3h0M53.9 410.4h0M72.8 409.9h0M63.6 409.3h0M86.2 418.7h0M80.5 409.6h0M74.6 395.2h0M117.4 398.1h0M120.1 413.2h0M107.9 400.0h0M104.9 408.5h0M93.7 421.2h0M83.2 410.2h0M65.7 402.8h0M69.9 406.6h0M104.4 412.3h0M102.4 408.4h0M96.6 412.1h0M74.8 405.6h0M84.3 403.0h0M93.3 403.2h0M78.1 401.4h0M81.4 410.6h0M80.5 406.6h0M70.0 409.3h0M81.2 412.8h0M55.2 409.1h0M87.3 402.6h0M67.6 402.9h0M80.6 399.0h0M91.2 409.4h0M86.6 403.1h0M79.8 407.1h0M73.9 405.4h0M86.3 408.3h0M85.2 415.8h0M84.0 406.4h0M71.4 407.7h0M67.0 401.7h0M93.1 410.5h0M98.0 401.0h0M92.7 415.0h0M78.7 410.8h0M69.7 412.4h0M68.0 396.8h0M77.8 427.2h0M70.4 414.9h0M71.9 412.3h0M75.1 398.1h0M86.7 408.6h0M77.0 412.7h0M52.2 413.2h0M80.8 412.4h0M72.6 410.5h0M69.5 412.2h0M101.8 415.1h0M68.3 399.9h0M75.9 409.5h0M82.7 394.8h0M101.4 401.5h0M92.2 411.8h0M82.5 406.3h0M81.1 414.3h0M84.9 406.5h0M81.0 417.2h0M96.0 408.2h0M82.6 400.8h0M83.5 403.1h0M82.1 404.3h0M67.0 399.7h0M94.5 410.0h0M69.8 419.8h0M97.1 410.8h0M90.1 407.9h0M89.2 407.3h0M69.3 406.1h0M79.3 403.1h0M56.3 410.3h0M99.5 419.8h0M91.2 410.3h0M86.8 416.0h0M78.2 414.8h0M95.0 410.0h0M91.1 408.1h0M74.3 401.0h0M80.9 408.3h0M84.3 405.1h0M79.5 401.7h0M88.4 405.9h0M81.6 409.5h0M101.9 404.6h0M79.6 411.3h0M94.2 404.1h0M95.1 413.2h0M67.1 417.1h0M106.2 412.1h0M87.8 406.5h0M74.4 398.5h0M85.4 394.9h0M64.2 409.9h0M71.1 404.4h0M95.7 414.1h0M71.3 407.0h0M80.2 394.5h0M70.4 407.6h0M61.1 407.4h0M75.7 419.5h0M72.4 399.4h0M79.7 406.6h0M67.0 397.6h0M70.8 397.1h0M93.4 413.7h0M77.2 392.6h0M92.2 410.2h0M84.7 413.0h0M75.4 402.6h0M102.6 403.5h0M73.8 394.7h0M86.2 406.8h0M66.0 412.3h0M79.0 394.1h0M88.6 415.3h0M91.3 405.5h0M98.2 409.8h0M85.7 409.5h0M68.4 413.7h0M67.0 397.9h0M81.8 413.1h0M87.9 406.7h0M77.7 406.0h0M84.4 404.8h0M90.0 403.4h0M102.0 404.2h0M85.2 403.7h0M74.3 399.6h0M69.6 412.9h0M57.8 405.1h0M109.9 407.8h0M77.5 408.0h0M58.7 395.1h0M85.7 411.4h0M86.2 410.6h0M74.6 407.7h0M106.2 399.0h0M95.9 402.2h0M64.3 411.1h0M69.0 412.7h0M100.3 411.1h0M74.9 406.3h0M90.5 427.8h0M115.6 405.2h0M82.3 413.1h0M72.0 436.0h0M83.3 430.7h0M83.3 413.6h0M93.2 417.3h0M103.8 419.4h0M69.5 418.2h0M103.5 410.1h0M95.1 421.9h0M97.5 420.5h0M81.7 412.4h0M78.4 418.2h0M88.0 426.9h0M84.4 432.6h0M86.9 413.2h0M90.8 413.7h0M94.2 409.2h0M64.5 420.0h0M87.0 414.5h0M93.8 415.6h0M119.4 429.5h0M102.7 419.4h0M86.8 420.3h0M88.6 408.0h0M101.6 403.0h0M69.7 409.5h0M76.8 426.1h0M77.4 415.4h0M71.0 406.3h0M61.1 425.4h0M85.8 413.8h0M94.5 422.9h0M71.9 414.0h0M94.6 430.4h0M80.1 427.2h0M99.3 428.2h0M85.0 425.4h0M93.6 415.6h0M86.5 417.4h0M67.7 419.7h0M81.2 411.4h0M92.0 428.9h0M92.4 415.5h0M70.2 426.5h0M74.6 429.3h0M78.8 422.4h0M80.8 420.4h0M96.2 424.1h0M73.3 432.1h0M95.5 422.4h0M72.5 413.8h0M73.5 412.8h0M93.3 418.7h0M80.3 419.9h0M86.3 410.0h0M90.8 419.2h0M75.8 418.5h0M60.9 428.8h0M85.8 424.2h0M77.2 423.6h0M87.4 407.5h0M83.1 435.2h0M85.4 422.9h0M92.5 429.2h0M87.8 407.4h0M91.4 426.8h0M92.2 409.7h0M85.8 415.4h0M87.4 415.4h0M98.5 421.8h0M74.7 411.0h0M77.4 420.4h0M72.6 416.3h0M94.4 420.0h0M70.5 428.6h0M117.6 416.3h0M74.8 416.9h0M98.5 408.8h0" stroke="#000" stroke-width="1.45" stroke-linecap="square" fill="none"/>
<path d="M210.1 403.8h0M214.5 404.4h0M201.1 402.3h0M208.2 403.5h0M198.2 396.4h0M206.2 402.0h0M218.8 403.6h0M218.0 404.3h0M209.5 403.7h0M205.8 407.2h0M199.8 404.9h0M216.2 400.4h0M201.4 407.0h0M207.9 406.4h0M203.6 407.8h0M203.7 403.2h0M191.8 402.0h0M205.1 409.9h0M203.1 412.5h0M197.3 404.5h0M212.5 402.4h0M200.9 406.1h0M209.5 406.6h0M219.4 405.6h0M216.0 400.1h0M197.5 404.9h0M203.5 406.5h0M203.0 407.7h0M199.6 404.4h0M195.8 403.8h0M210.8 408.4h0M214.9 400.9h0M199.0 403.8h0M203.3 401.8h0M208.0 402.0h0M209.0 410.7h0M206.0 407.5h0M202.1 401.0h0M191.4 409.7h0M220.2 395.8h0M197.7 403.2h0M198.0 402.4h0M210.2 403.9h0M210.6 398.6h0M202.1 411.0h0M199.8 398.2h0M200.4 404.3h0M185.9 405.5h0M210.0 402.7h0M203.4 403.8h0M202.7 399.6h0M199.9 406.4h0M209.3 405.9h0M197.4 406.2h0M211.0 409.3h0M209.2 404.7h0M203.5 406.8h0M211.6 395.9h0M197.8 405.1h0M211.5 399.2h0M194.5 397.5h0M213.5 406.8h0M202.3 414.4h0M218.8 407.6h0M206.7 403.8h0M211.2 401.5h0M211.3 402.0h0M211.0 404.1h0M208.2 409.5h0M210.2 404.1h0M202.2 401.8h0M197.3 408.3h0M205.6 400.1h0M214.4 402.2h0M214.6 405.7h0M209.9 405.1h0M197.0 403.7h0M201.5 400.9h0M208.0 400.0h0M195.9 401.6h0M195.2 404.4h0M208.8 404.6h0M202.4 407.0h0M208.6 410.0h0M200.3 405.3h0M201.9 402.5h0M203.0 406.9h0M200.6 400.5h0M216.2 405.0h0M207.0 407.2h0M212.6 407.6h0M199.2 403.5h0M212.1 404.4h0M213.5 409.6h0M196.1 404.2h0M197.8 401.8h0M202.5 405.0h0M207.3 399.9h0M203.9 403.2h0M197.7 405.1h0M193.1 403.6h0M204.0 410.7h0M203.5 403.1h0M211.1 400.4h0M202.6 412.5h0M213.9 405.9h0M211.8 399.6h0M211.9 402.2h0M206.5 403.9h0M206.7 402.3h0M190.5 395.1h0M190.0 404.6h0M198.5 397.8h0M213.2 404.6h0M197.4 399.5h0M208.9 403.6h0M194.2 403.7h0M191.0 409.5h0M201.6 404.5h0M196.7 399.6h0M201.8 400.3h0M190.1 406.0h0M201.0 398.8h0M206.0 402.9h0M199.9 397.4h0M202.6 395.4h0M194.5 408.4h0M205.7 398.2h0M195.9 404.1h0M209.1 403.2h0M202.6 406.6h0M212.5 398.5h0M199.8 407.5h0M207.1 399.2h0M187.8 408.4h0M201.2 404.2h0M199.8 407.1h0M210.6 408.8h0M193.4 402.6h0M208.8 403.1h0M202.7 409.8h0M203.6 398.7h0M217.0 406.7h0M204.6 406.0h0M208.1 404.1h0M209.4 403.6h0M209.0 412.6h0M202.0 395.0h0M215.5 405.9h0M199.0 405.7h0M192.4 407.5h0M187.5 406.3h0M213.9 402.5h0M207.4 405.9h0M190.8 402.8h0M216.4 404.5h0M220.8 404.5h0M201.2 403.4h0M199.2 396.0h0M203.0 409.4h0M197.4 400.8h0M199.6 408.6h0M212.9 402.2h0M209.3 408.8h0M204.4 403.0h0M210.0 401.2h0M205.7 407.1h0M217.3 408.1h0M207.8 400.9h0M209.8 404.3h0M218.6 404.6h0M204.8 402.1h0M203.2 405.9h0M195.8 402.9h0M194.8 399.1h0M208.4 401.6h0M200.7 405.6h0M198.1 402.6h0M202.4 401.5h0M197.5 408.7h0M207.7 406.8h0M194.1 402.5h0M210.1 407.2h0M197.2 405.6h0M214.9 406.9h0M202.7 401.8h0M190.8 402.9h0M204.4 404.0h0M202.3 406.9h0M212.4 400.2h0M204.5 403.9h0M204.4 402.4h0M207.9 408.4h0M200.0 402.7h0M212.4 399.8h0M208.6 404.0h0M197.4 405.2h0M201.8 405.6h0M207.7 403.4h0M205.8 404.7h0M208.4 397.1h0M202.3 406.7h0M203.0 408.5h0M200.0 402.5h0M203.7 398.3h0M220.5 400.6h0M203.9 395.5h0M205.9 400.8h0M209.7 404.9h0M214.9 402.6h0M205.6 403.3h0M205.9 401.5h0M202.3 408.4h0M210.4 399.3h0M205.3 404.5h0M194.9 406.5h0M197.4 405.7h0M211.7 401.8h0M208.8 407.6h0M199.6 406.4h0M216.1 408.7h0M198.2 394.8h0M201.2 400.4h0M213.6 402.0h0M216.3 399.2h0M199.3 404.8h0M195.8 411.0h0M198.0 406.4h0M206.8 410.9h0M219.6 404.6h0M207.2 406.7h0M203.2 408.5h0M193.7 401.4h0M193.3 405.1h0M214.6 405.8h0M201.9 403.7h0M214.4 403.5h0M199.4 404.8h0M190.0 403.6h0M203.5 403.0h0M197.9 412.4h0M212.7 407.8h0M212.2 400.3h0M203.1 403.7h0M203.3 407.2h0M203.8 410.1h0M203.9 405.1h0M211.8 405.8h0M195.8 406.5h0M199.1 410.7h0M219.0 401.0h0M211.3 403.2h0M190.0 407.0h0M212.4 411.6h0M207.1 401.5h0M213.7 404.6h0M206.1 406.8h0M198.8 407.1h0M204.1 398.6h0M208.9 398.3h0M198.9 406.6h0M197.8 407.7h0M194.8 405.0h0M210.6 402.7h0M200.0 403.6h0M195.5 402.4h0M200.8 400.8h0M209.0 407.2h0M203.7 406.9h0M214.9 401.8h0M221.3 401.3h0M203.6 407.7h0M196.8 404.6h0M201.7 405.3h0M217.7 401.0h0M198.2 402.7h0M196.9 401.8h0M195.7 408.7h0M204.2 408.1h0M210.1 399.2h0M206.6 407.8h0M200.1 404.2h0M203.8 399.2h0M200.1 407.1h0M206.4 406.8h0M196.1 402.4h0M211.8 398.8h0M203.3 399.5h0M205.2 408.6h0M214.9 400.4h0M204.0 396.6h0M207.5 402.0h0M221.3 398.9h0M196.2 401.8h0M211.3 398.5h0M211.3 402.0h0M210.0 401.5h0M196.3 406.0h0M203.0 404.0h0M206.4 411.8h0M219.8 406.2h0M212.0 402.6h0M216.8 399.2h0M194.8 408.9h0M206.5 408.2h0M207.5 407.4h0M215.1 403.7h0M203.0 406.0h0M215.1 397.5h0M206.9 404.4h0M206.2 401.4h0M207.4 408.7h0M198.5 412.7h0M208.6 407.5h0M210.5 409.7h0M195.8 404.7h0M212.6 401.5h0M189.6 403.9h0M190.8 400.2h0M197.1 399.7h0M200.9 404.2h0M191.2 400.6h0M205.0 395.0h0M204.0 412.0h0M205.1 405.0h0M209.5 405.1h0M206.6 411.1h0M189.3 404.0h0M201.7 406.1h0M203.3 406.9h0M206.5 395.6h0M195.4 403.1h0M193.8 402.2h0M211.4 398.3h0M196.2 406.0h0M200.1 405.0h0M217.0 407.7h0M200.2 405.3h0M206.1 404.7h0M195.7 406.6h0M215.5 401.3h0M196.3 407.4h0M208.9 404.8h0M195.2 406.4h0M197.2 396.8h0M199.7 407.4h0M208.4 406.9h0M209.6 411.1h0M195.0 399.8h0M212.3 406.2h0M201.5 402.3h0M202.4 404.3h0M198.4 400.4h0M203.2 403.6h0M197.7 403.5h0M207.2 415.7h0M192.9 403.6h0M188.7 404.8h0M208.9 408.3h0M203.1 402.3h0M209.9 408.0h0M189.7 402.7h0M201.1 402.3h0M197.8 410.8h0M207.9 407.3h0M200.1 409.1h0M203.6 402.3h0M190.8 407.5h0M196.3 398.2h0M210.0 400.8h0M203.5 407.8h0M188.5 403.1h0M202.1 411.1h0M204.2 407.3h0M211.6 405.8h0M207.3 400.8h0M202.2 403.4h0M201.0 408.8h0M210.6 404.8h0M205.9 402.9h0M206.9 399.2h0M205.1 406.9h0M199.8 400.2h0M196.9 410.2h0M187.9 402.0h0M200.0 407.9h0M207.7 401.7h0M205.7 397.9h0M198.9 400.2h0M207.7 402.8h0M219.1 402.5h0M204.2 404.7h0M220.4 404.5h0M191.5 396.6h0M208.1 407.2h0M200.9 405.9h0M211.1 411.3h0M196.8 404.2h0M194.7 407.7h0M202.3 400.8h0M209.8 406.5h0M203.0 406.8h0M188.5 399.6h0M202.3 403.9h0M215.7 411.3h0M211.7 404.0h0M198.8 405.4h0M197.5 397.0h0M194.4 401.4h0M219.4 405.0h0M202.4 404.1h0M198.2 409.9h0M208.2 411.1h0M196.4 400.9h0M217.3 399.2h0M202.9 406.4h0M200.3 398.6h0M203.3 408.3h0M207.2 402.7h0M219.0 409.7h0M209.7 404.7h0M212.7 405.0h0M202.7 402.0h0M210.7 407.7h0M206.7 409.3h0M199.2 405.8h0M206.9 401.8h0M202.5 404.1h0M207.8 402.7h0M191.9 394.4h0M206.6 410.3h0M219.8 408.2h0M198.3 399.4h0M211.6 405.5h0M199.7 402.9h0M204.8 399.6h0M208.1 411.9h0M201.0 402.2h0M198.0 409.1h0M199.4 401.4h0M203.2 403.3h0M204.9 406.2h0M199.9 398.9h0M201.6 399.3h0M199.9 408.4h0M200.8 405.4h0M206.0 402.6h0M202.1 410.6h0M206.7 403.2h0M205.1 401.7h0M207.4 403.6h0M210.5 404.3h0M204.0 411.6h0M202.2 406.4h0M198.7 412.9h0M196.3 403.1h0M201.2 403.8h0M193.7 402.1h0M209.3 404.5h0M212.4 402.6h0M203.6 409.7h0M202.6 405.3h0M211.1 403.5h0M197.6 405.3h0M207.1 401.1h0M200.3 408.1h0M220.4 403.2h0M220.8 407.4h0M201.1 403.3h0M199.2 409.5h0M216.5 401.9h0M199.7 408.2h0M205.8 399.5h0M201.9 404.2h0M206.5 406.3h0M206.4 410.3h0M196.3 403.2h0M200.3 403.7h0M209.7 409.1h0M209.3 404.1h0M199.5 404.0h0M223.9 408.4h0M207.0 397.7h0M202.9 403.3h0M191.0 413.2h0M192.8 405.3h0M216.0 403.0h0M211.4 412.1h0M204.1 401.7h0M210.9 405.4h0M199.4 405.8h0M198.4 407.4h0M208.0 412.3h0M192.8 397.2h0M200.9 402.8h0M210.2 405.8h0M190.1 402.1h0M211.4 396.7h0M205.2 399.9h0M201.8 406.2h0M217.5 404.9h0M200.0 402.6h0M205.7 405.0h0M199.1 405.2h0M206.2 403.4h0M196.2 404.8h0M202.0 402.3h0M199.7 403.0h0M200.2 406.1h0M208.5 400.4h0M213.0 404.9h0M206.6 403.0h0M210.6 399.8h0M204.3 398.3h0M212.1 405.3h0M210.4 399.4h0M204.9 399.2h0M194.1 409.4h0M214.2 410.1h0M208.7 400.7h0M194.6 401.2h0M208.9 404.8h0M206.5 401.5h0M193.7 408.1h0M203.5 403.3h0M200.2 406.1h0M197.4 405.7h0M195.9 409.5h0M194.0 405.3h0M206.2 407.6h0M194.5 405.6h0M192.8 407.4h0M200.9 406.6h0M201.7 408.6h0M211.7 399.4h0M208.4 414.1h0M212.7 401.0h0M189.4 403.7h0M199.8 399.9h0M213.3 405.8h0M208.9 401.2h0M211.3 403.2h0M192.5 407.6h0M199.9 405.5h0M202.1 403.4h0M212.7 407.8h0M200.8 404.1h0M203.3 404.9h0M213.5 398.7h0M210.6 406.3h0M204.7 410.0h0M195.0 404.1h0M210.8 400.7h0M193.6 401.8h0M205.8 410.7h0M213.8 402.2h0M210.1 402.8h0M200.6 409.0h0M213.0 406.1h0M212.5 407.6h0M205.9 404.3h0M203.8 405.1h0M200.7 407.4h0M208.7 404.6h0M198.2 401.5h0M201.8 401.2h0M202.0 399.2h0M205.4 401.3h0M201.6 404.6h0M200.8 408.6h0M212.5 396.8h0M204.0 401.4h0M194.3 408.2h0M218.3 399.0h0M199.8 407.0h0M204.2 400.0h0M208.8 401.1h0M208.9 407.6h0M193.2 402.7h0M190.2 411.6h0M209.1 407.5h0M205.8 406.7h0M215.1 398.0h0M213.7 403.1h0M206.5 404.8h0M205.7 413.9h0M195.6 412.5h0M202.9 405.3h0M207.1 398.5h0M196.3 402.1h0M203.1 402.3h0M200.3 407.7h0M212.0 408.2h0M200.4 403.8h0M206.6 403.3h0M200.9 406.3h0M204.9 402.1h0M217.1 407.3h0M196.2 409.2h0M201.1 397.0h0M196.8 410.1h0M190.7 403.6h0M203.9 406.3h0M193.7 398.0h0M201.1 409.0h0M201.8 403.7h0M194.8 400.0h0M204.1 405.0h0M200.3 407.8h0M200.7 403.1h0M219.5 406.9h0M197.0 403.2h0M205.1 402.9h0M198.7 397.9h0M198.5 406.9h0M208.4 403.5h0M198.7 401.1h0M193.8 404.5h0M194.7 401.8h0M204.5 410.9h0M199.1 405.5h0M211.2 409.9h0M217.9 400.8h0M209.2 395.0h0M213.7 403.7h0M204.1 403.0h0M208.1 404.9h0M191.6 397.9h0M188.1 405.9h0M208.3 410.0h0M201.9 402.9h0M200.1 410.1h0M193.0 403.4h0M190.5 404.4h0M196.2 401.8h0M211.9 398.0h0M190.3 395.0h0M194.7 398.6h0M190.9 403.2h0M199.6 407.6h0M197.6 396.9h0M213.6 398.2h0M194.5 397.8h0M208.9 404.4h0M203.1 407.8h0M190.6 405.7h0M212.4 400.9h0M211.4 406.0h0M199.0 397.4h0M213.8 410.5h0M208.9 398.1h0M190.1 394.5h0M203.8 400.4h0M213.5 404.0h0M214.1 403.6h0M206.4 398.7h0M208.3 404.8h0M206.4 403.7h0M195.8 406.4h0M207.9 402.4h0M197.1 410.8h0M193.2 407.1h0M211.9 409.1h0M185.7 405.2h0M198.0 406.2h0M202.7 406.9h0M201.5 402.9h0M200.9 408.6h0M207.7 402.4h0M213.9 411.6h0M202.8 400.9h0M210.2 406.1h0M205.6 405.9h0M201.0 407.8h0M202.0 394.6h0M204.0 407.3h0M205.6 406.8h0M202.6 399.7h0M208.3 408.0h0M197.8 407.3h0M204.8 397.2h0M208.2 400.4h0M204.2 393.4h0M213.1 403.0h0M206.9 402.8h0M196.0 404.7h0M195.0 405.7h0M210.7 403.1h0M192.8 408.5h0M195.1 404.0h0M204.6 404.5h0M191.9 407.0h0M197.7 404.1h0M213.4 408.0h0M201.5 403.2h0M213.7 404.5h0M192.4 402.3h0M202.9 403.9h0M202.5 401.3h0M201.6 399.1h0M206.5 401.6h0M197.3 406.1h0M197.8 405.3h0M209.2 405.6h0M199.7 405.8h0M198.1 403.1h0M201.3 402.5h0M195.8 402.2h0M216.3 402.2h0M211.1 401.3h0M202.6 404.2h0M196.3 404.6h0M211.7 406.2h0M196.0 404.9h0M207.6 404.5h0M198.1 403.9h0M200.4 408.0h0M216.8 399.9h0M207.6 407.3h0M195.2 401.0h0M199.8 402.7h0M200.8 400.6h0M188.2 406.4h0M202.6 411.9h0M200.2 399.1h0M200.6 407.1h0M201.0 399.9h0M208.2 405.4h0M204.0 403.7h0M200.9 404.7h0M202.1 401.6h0M199.3 402.0h0M205.4 403.6h0M216.1 403.5h0M207.5 404.6h0M188.7 405.6h0M204.3 404.6h0M205.9 402.3h0M205.7 411.0h0M191.4 400.4h0M205.1 403.8h0M195.3 399.7h0M192.7 401.7h0M201.6 400.1h0M212.1 400.2h0M204.3 409.4h0M212.9 401.0h0M207.0 403.4h0M205.4 408.0h0M200.3 403.1h0M214.6 407.7h0M199.8 405.0h0M206.0 404.4h0M198.2 397.0h0M204.1 400.2h0M205.2 410.0h0M214.2 412.4h0M197.2 403.7h0M185.7 407.2h0M213.6 408.5h0M208.1 406.8h0M204.7 410.2h0M200.4 402.2h0M190.8 403.5h0M211.9 405.8h0M196.7 409.6h0M213.1 399.0h0M192.4 409.7h0M204.9 399.8h0M206.9 403.7h0M198.0 409.8h0M194.5 396.4h0M212.1 400.6h0M197.4 406.2h0M210.0 403.5h0M204.5 405.1h0M216.7 408.3h0M201.8 407.9h0M209.8 403.6h0M209.5 402.1h0M215.1 397.0h0M188.8 402.9h0M202.0 407.2h0M205.8 398.3h0M212.2 402.8h0M206.5 403.9h0M209.5 403.8h0M197.6 396.6h0M211.2 400.9h0M205.1 400.5h0M201.9 402.5h0M212.8 409.8h0M190.9 402.7h0M208.7 405.5h0M203.3 400.0h0M211.8 409.1h0M199.0 403.7h0M204.6 409.9h0M211.5 404.3h0M206.3 409.9h0M200.2 399.3h0M192.2 407.7h0M201.4 411.6h0M221.6 399.8h0M199.3 404.0h0M203.6 403.6h0M204.3 401.4h0M206.0 403.7h0M211.8 402.9h0M200.5 409.1h0M219.4 404.1h0M196.4 406.2h0M211.8 408.0h0M205.6 406.0h0M201.9 404.8h0M198.5 408.1h0M207.4 401.5h0M201.7 401.6h0M201.4 407.4h0M201.8 405.2h0M189.1 402.7h0M195.6 407.1h0M195.5 403.0h0M206.0 404.7h0M200.6 412.0h0M214.2 405.5h0M204.9 404.7h0M211.3 409.1h0M212.7 405.3h0M204.1 399.0h0M191.4 409.3h0M199.5 403.7h0M209.3 411.3h0M205.6 408.0h0M204.3 399.5h0M200.8 406.1h0M212.2 405.4h0M195.8 399.6h0M210.7 406.7h0M213.4 410.7h0M197.1 407.1h0M204.3 399.3h0M217.4 404.7h0M213.9 406.1h0M189.9 403.0h0M211.1 400.1h0M200.9 405.1h0M200.9 411.5h0M195.4 409.3h0M200.4 405.9h0M187.9 405.1h0M212.2 401.3h0M212.5 417.2h0M199.1 406.7h0M203.6 407.3h0M211.7 405.4h0M192.0 409.3h0M202.4 399.9h0M209.4 403.8h0M184.6 403.0h0M209.1 404.8h0M207.2 406.4h0M194.1 404.9h0M211.6 404.2h0M209.2 403.7h0M213.7 407.4h0M209.8 399.9h0M200.3 408.5h0M210.0 402.7h0M213.5 401.9h0M204.8 406.8h0M196.0 401.2h0M199.4 403.2h0M194.4 407.4h0M201.7 404.9h0M201.9 402.4h0M210.2 402.4h0M192.1 403.4h0M200.8 403.6h0M184.2 403.3h0M201.4 404.8h0M212.9 401.1h0M196.6 412.6h0M207.2 410.3h0M202.9 407.0h0M206.6 409.4h0M204.5 401.1h0M212.9 402.3h0M194.1 405.2h0M192.4 402.7h0M217.4 400.8h0M217.5 405.9h0M209.3 410.2h0M209.1 405.2h0M201.3 406.3h0M198.6 400.3h0M190.8 398.3h0M213.2 406.4h0M208.9 406.7h0M193.8 408.0h0M203.3 399.9h0M205.7 400.7h0M200.6 408.2h0M213.9 400.3h0M197.2 405.0h0M198.9 406.0h0M203.3 404.4h0M209.4 403.5h0M204.4 412.2h0M212.0 406.7h0M205.2 406.8h0M206.1 406.8h0M193.2 409.4h0M214.7 402.4h0M202.3 407.8h0M204.3 408.0h0M207.0 401.3h0M205.7 400.1h0M212.4 404.8h0M193.7 406.5h0M204.6 407.7h0M209.3 410.6h0M217.8 406.3h0M193.8 402.8h0M195.3 408.2h0M199.6 399.5h0M210.1 394.6h0M203.3 404.4h0M205.2 406.7h0M199.5 404.4h0M196.5 399.2h0M202.5 401.8h0M186.1 402.8h0M200.4 401.2h0M218.4 405.7h0M199.3 401.1h0M211.3 396.3h0M208.0 408.1h0M203.4 404.0h0M189.7 405.3h0M203.2 409.5h0M199.1 398.3h0M209.9 399.6h0M204.5 402.9h0M205.4 412.4h0M199.6 403.0h0M198.7 407.4h0M202.4 405.6h0M197.2 404.2h0M217.7 407.0h0M205.8 405.8h0M218.5 403.6h0M206.7 412.2h0M207.8 402.6h0M204.9 402.8h0M207.2 401.1h0M204.9 413.2h0M195.6 407.2h0M192.7 409.4h0M212.2 397.2h0M191.4 401.6h0M178.3 407.8h0M201.0 403.3h0M192.9 402.9h0M203.6 411.0h0M200.1 398.7h0M197.1 402.4h0M197.2 402.4h0M196.7 403.2h0M205.0 408.0h0M199.5 403.8h0M202.5 404.0h0M206.0 407.3h0M206.3 404.7h0M194.3 405.1h0M194.3 397.7h0M196.5 407.6h0M208.6 406.6h0M219.2 407.3h0M205.3 398.5h0M215.0 401.1h0M217.6 402.7h0M208.9 407.5h0M197.1 407.4h0M205.9 398.9h0M194.3 407.1h0M207.3 404.0h0M208.9 406.9h0M210.7 410.6h0M207.0 402.3h0M212.0 406.1h0M208.3 409.3h0M212.5 403.1h0M194.9 402.2h0M220.2 411.2h0M208.9 407.0h0M197.0 402.1h0M210.7 404.8h0M201.2 401.5h0M216.1 406.5h0M210.3 408.2h0M221.0 423.7h0M193.1 402.9h0M202.0 398.0h0M210.7 404.1h0M201.1 413.1h0M203.3 414.8h0M201.8 407.3h0M198.4 406.2h0M203.2 396.4h0M203.0 402.1h0M197.1 406.7h0M204.0 406.0h0M214.8 390.4h0M211.3 397.6h0M194.6 401.8h0M192.0 403.2h0M194.9 411.6h0M207.0 407.7h0M195.8 420.7h0M185.5 397.0h0M200.2 395.9h0M188.9 405.8h0M208.9 406.5h0M215.7 406.6h0M210.4 406.9h0M224.8 414.5h0M201.6 410.1h0M209.7 398.4h0M200.1 410.2h0M209.3 403.8h0M214.9 407.7h0M198.5 397.3h0M213.8 409.5h0M187.6 402.5h0M200.2 399.8h0M204.2 399.0h0M208.5 408.2h0M215.8 412.4h0M211.8 406.4h0M225.2 405.3h0M199.3 406.0h0M198.6 408.9h0M203.5 413.2h0M208.1 403.9h0M200.1 403.6h0M211.9 411.8h0M207.0 401.5h0M186.7 396.7h0M194.7 403.3h0M198.1 415.4h0M196.5 398.2h0M195.6 398.8h0M174.9 406.7h0M206.8 407.2h0M179.5 406.6h0M182.0 411.3h0M192.1 409.3h0M202.2 392.2h0M192.4 405.9h0M214.6 404.0h0M193.6 400.9h0M200.9 404.9h0M194.8 399.3h0M221.3 398.7h0M196.1 399.5h0M203.7 401.9h0M220.6 407.1h0M195.2 409.8h0M208.1 409.3h0M193.5 403.7h0M217.4 403.8h0M200.5 411.1h0M223.6 407.3h0M222.3 406.2h0M209.6 407.3h0M203.8 410.9h0M211.9 410.3h0M207.7 406.8h0M211.8 408.7h0M218.1 409.7h0M183.7 402.8h0M219.2 408.0h0M224.1 418.4h0M208.2 409.8h0M225.4 401.6h0M204.8 405.2h0M206.2 406.3h0M178.6 404.0h0M209.8 410.2h0M190.0 406.6h0M212.3 404.1h0M193.9 413.4h0M197.2 409.7h0M197.0 404.8h0M186.3 420.1h0M210.2 408.3h0M197.6 402.5h0M187.1 405.7h0M207.8 409.0h0M206.9 415.4h0M177.1 393.6h0M196.8 411.9h0M216.0 420.2h0M199.0 397.8h0M211.6 416.1h0M207.1 403.3h0M218.7 415.0h0M186.0 403.7h0M221.6 402.0h0M207.7 409.1h0M199.9 397.8h0M216.1 398.9h0M198.3 413.6h0M182.9 396.2h0M217.1 405.1h0M188.6 408.6h0M192.1 405.6h0M206.5 409.4h0M193.1 404.4h0M186.1 405.0h0M208.3 410.1h0M206.1 401.0h0M189.6 416.3h0M214.5 406.5h0M218.0 421.1h0M225.9 400.9h0M189.7 405.5h0M190.0 400.0h0M209.5 394.3h0M200.7 404.6h0M201.4 399.9h0M185.6 405.1h0M218.2 401.5h0M176.8 391.4h0M221.4 407.0h0M215.4 410.5h0M203.6 411.7h0M208.9 401.4h0M216.6 401.1h0M216.7 401.1h0M193.2 401.2h0M205.3 405.6h0M209.9 408.7h0M226.1 396.3h0M208.2 410.4h0M196.2 406.8h0M205.7 409.7h0M206.1 402.9h0M186.4 399.1h0M206.2 412.2h0M209.5 406.3h0M190.1 409.4h0M211.0 418.9h0M168.5 396.4h0M189.4 406.4h0M196.8 398.4h0M190.7 402.0h0M203.1 415.7h0M203.9 397.8h0M198.0 410.6h0M203.5 407.7h0M182.7 402.4h0M174.4 401.2h0M201.5 405.3h0M202.1 405.2h0M183.9 420.7h0M210.9 401.4h0M205.5 408.1h0M209.0 409.3h0M209.9 401.5h0M221.2 395.7h0M213.6 405.7h0M205.4 397.0h0M215.0 414.5h0M200.3 404.0h0M195.9 408.4h0M196.1 406.5h0M204.6 406.8h0M198.9 401.8h0M198.5 414.0h0M202.0 399.9h0M210.2 405.4h0M206.0 416.5h0M198.7 407.8h0M205.1 403.6h0M210.9 402.2h0M204.6 400.1h0M195.1 404.8h0M209.9 401.3h0M223.5 415.1h0M206.4 400.9h0M193.7 408.6h0M212.6 415.6h0M204.6 395.3h0M208.6 411.2h0M201.8 403.5h0M204.5 400.5h0M214.1 406.0h0M212.9 403.0h0M201.7 408.7h0M200.4 407.8h0M219.8 406.6h0M207.2 400.2h0M216.0 403.4h0M191.5 406.8h0M214.1 401.4h0M196.3 408.8h0M189.2 405.9h0M182.0 410.7h0M215.7 407.2h0M212.9 409.0h0M221.3 393.0h0M196.1 413.3h0M204.5 407.8h0M218.8 407.3h0M185.6 401.1h0M204.0 402.0h0M220.4 410.2h0M205.4 416.8h0M184.7 402.4h0M208.7 411.0h0M208.2 404.1h0M192.4 405.8h0M210.6 404.5h0M200.2 403.1h0M194.1 407.7h0M211.5 415.0h0M187.6 409.7h0M207.9 403.9h0M229.3 399.2h0M201.2 406.5h0M203.7 408.8h0M208.2 410.2h0M199.4 405.1h0M215.5 403.6h0M203.9 407.3h0M187.0 400.4h0M213.5 399.5h0M201.9 405.7h0M178.1 417.1h0M213.1 416.1h0M193.6 399.0h0M193.0 406.9h0M207.0 396.5h0M203.4 406.0h0M196.2 407.8h0M215.6 409.5h0M177.6 418.0h0M198.0 417.5h0M212.1 412.1h0M202.4 407.1h0M215.7 410.5h0M205.8 404.9h0M211.0 416.4h0M193.6 398.8h0M196.0 404.9h0M200.7 406.1h0M204.8 405.4h0M217.2 407.9h0M212.5 408.7h0M204.6 399.7h0M200.2 401.8h0M208.2 405.4h0M198.5 403.2h0M196.2 408.7h0M232.9 406.4h0M197.1 395.9h0M220.7 406.0h0M200.2 402.7h0M219.0 410.2h0M195.2 408.9h0M223.0 400.2h0M209.6 415.5h0M213.0 406.6h0M220.4 406.3h0M208.7 412.6h0M201.4 410.1h0M204.2 401.6h0M193.8 400.2h0M210.0 404.0h0M217.4 412.6h0M191.6 414.1h0M202.6 408.5h0M219.8 400.7h0M238.4 403.5h0M205.6 408.0h0M204.7 410.7h0M207.7 397.0h0M206.7 415.0h0M185.4 416.4h0M207.0 403.6h0M197.7 404.8h0M223.5 394.6h0M202.2 395.8h0M208.6 411.2h0M214.4 405.8h0M208.9 399.6h0M221.6 394.6h0M217.9 395.0h0M195.8 443.3h0M202.1 423.8h0M189.8 443.7h0M182.0 423.7h0M215.6 450.3h0M205.1 428.0h0M204.7 429.9h0M207.5 430.6h0M220.0 426.4h0M215.8 443.5h0M211.4 438.9h0M211.9 441.1h0M192.1 436.8h0M201.2 439.4h0M193.7 454.0h0M200.1 445.1h0M197.3 444.9h0M197.7 424.1h0M203.1 455.6h0M207.4 433.6h0" stroke="#000" stroke-width="1.45" stroke-linecap="square" fill="none"/>
<path d="M305.5 457.4h0M319.5 458.8h0M334.3 448.8h0M322.0 457.5h0M311.7 448.4h0M322.5 452.0h0M322.4 450.7h0M318.7 447.1h0M320.9 452.6h0M315.9 449.6h0M329.6 456.1h0M315.6 454.1h0M322.0 456.5h0M321.0 437.5h0M313.1 450.7h0M328.4 458.8h0M323.9 453.9h0M312.1 447.8h0M322.3 451.0h0M329.9 451.1h0M330.8 442.7h0M315.5 462.8h0M310.0 453.9h0M321.9 448.4h0M329.9 460.3h0M321.0 459.6h0M313.6 452.4h0M335.5 448.5h0M329.2 453.1h0M324.4 463.4h0M317.5 448.2h0M317.6 452.4h0M334.3 451.3h0M314.3 453.7h0M330.7 443.2h0M331.2 444.9h0M339.1 446.6h0M308.3 455.4h0M323.1 453.0h0M332.8 451.1h0M321.0 456.0h0M321.2 449.7h0M318.0 446.3h0M333.3 452.4h0M322.0 448.0h0M316.7 440.2h0M325.9 462.6h0M322.0 456.0h0M319.3 448.1h0M309.0 454.4h0M320.5 453.0h0M323.5 442.8h0M323.8 455.8h0M325.0 457.2h0M331.2 445.0h0M324.1 443.7h0M315.8 453.4h0M334.9 455.4h0M320.6 452.1h0M308.8 459.6h0M315.1 446.9h0M337.6 454.0h0M316.5 449.8h0M312.2 443.4h0M329.1 462.8h0M292.3 444.4h0M322.1 458.4h0M316.1 450.6h0M325.0 452.6h0M341.7 442.4h0M332.5 452.4h0M311.5 447.2h0M309.5 446.8h0M322.3 451.7h0M314.5 435.2h0M343.0 443.1h0M318.3 459.6h0M320.4 449.6h0M315.3 452.0h0M321.0 447.0h0M309.8 448.8h0M302.7 445.7h0M334.3 456.0h0M317.1 451.3h0M330.4 449.0h0M316.1 448.2h0M335.9 457.7h0M335.1 455.8h0M329.2 450.3h0M330.5 452.8h0M348.5 461.5h0M326.8 453.0h0M358.2 455.9h0M318.7 449.7h0M332.5 451.4h0M319.7 460.8h0M323.8 447.2h0M329.8 451.1h0M326.2 454.1h0M324.6 458.6h0M302.2 455.6h0M326.5 445.6h0M310.3 452.0h0M332.3 450.1h0M316.7 452.3h0M336.3 445.5h0M314.1 442.9h0M308.4 457.7h0M322.1 451.2h0M314.2 443.4h0M310.9 448.1h0M319.3 450.6h0M303.5 447.1h0M329.7 451.5h0M312.0 450.4h0M319.7 448.2h0M313.0 447.0h0M325.0 443.8h0M318.7 447.1h0M330.1 448.5h0M315.3 447.9h0M331.6 444.2h0M301.4 445.5h0M330.2 448.4h0M321.2 455.6h0M322.3 455.3h0M335.3 456.5h0M308.2 458.4h0M330.5 451.3h0M341.6 448.4h0M348.6 450.5h0M333.0 446.2h0M327.5 450.4h0M309.4 452.7h0M324.6 444.2h0M328.3 461.0h0M307.7 450.6h0M351.0 452.0h0M350.9 453.5h0M314.1 446.8h0M315.0 446.3h0M339.0 447.3h0M332.5 451.5h0M314.5 459.1h0M318.1 455.4h0M334.0 448.7h0M318.3 454.3h0M328.8 451.2h0M327.1 459.2h0M331.5 449.7h0M323.9 451.4h0M342.6 450.0h0M333.4 445.2h0M313.2 450.8h0M315.2 455.8h0M325.3 456.2h0M333.4 448.9h0M310.6 450.3h0M300.9 450.6h0M312.3 444.2h0M337.1 447.1h0M316.8 441.4h0M310.2 454.7h0M320.3 461.5h0M326.8 445.6h0M307.0 440.5h0M316.6 457.2h0M330.5 446.6h0M327.8 452.7h0M330.1 453.6h0M337.1 454.3h0M322.8 451.7h0M324.6 451.4h0M323.3 449.7h0M308.6 458.2h0M325.8 447.3h0M341.4 451.9h0M309.2 441.6h0M316.0 442.8h0M310.9 445.7h0M318.4 449.2h0M322.2 459.4h0M327.4 449.8h0M325.3 455.2h0M302.9 446.9h0M335.5 461.8h0M318.7 451.2h0M312.7 450.4h0M304.7 457.5h0M330.2 451.8h0M313.1 449.6h0M306.8 451.3h0M317.8 451.6h0M318.7 450.4h0M312.5 458.1h0M321.9 454.8h0M322.8 452.0h0M316.4 449.5h0M321.6 449.1h0M332.3 456.0h0M315.9 448.2h0M333.3 459.2h0M313.7 447.0h0M328.0 454.5h0M317.8 449.0h0M303.3 447.3h0M311.7 454.6h0M317.7 452.4h0M318.0 450.4h0M340.0 443.6h0M339.8 445.9h0M322.3 458.1h0M321.8 445.5h0M317.3 444.0h0M324.8 451.7h0M339.6 444.5h0M319.7 444.8h0M328.4 440.0h0M322.3 443.2h0M329.3 452.2h0M316.5 456.0h0M317.3 460.0h0M332.0 450.8h0M324.9 446.7h0M323.6 447.0h0M318.2 453.8h0M313.6 450.1h0M326.1 449.2h0M327.6 448.8h0M325.1 458.8h0M319.6 448.4h0M314.2 448.1h0M313.8 447.6h0M317.4 451.2h0M338.5 456.4h0M334.0 458.7h0M316.7 458.4h0M312.1 454.1h0M321.8 455.3h0M332.0 458.6h0M342.2 452.0h0M323.7 447.2h0M327.7 460.2h0M315.6 452.5h0M299.9 447.9h0M330.4 446.2h0M306.5 448.4h0M320.5 452.2h0M317.2 450.7h0M320.1 455.4h0M319.1 450.6h0M322.1 451.8h0M340.0 438.9h0M321.5 450.0h0M333.9 457.2h0M306.5 452.3h0M308.3 460.3h0M317.8 457.6h0M314.8 449.3h0M316.3 463.7h0M339.4 446.3h0M320.0 444.3h0M320.0 453.2h0M337.9 447.4h0M321.0 461.8h0M318.2 449.9h0M318.8 454.5h0M323.9 441.3h0M314.6 447.0h0M328.2 446.8h0M330.9 457.0h0M339.5 444.9h0M326.9 446.0h0M307.8 451.8h0M300.1 448.5h0M313.7 441.9h0M319.2 449.8h0M328.6 452.9h0M304.6 445.1h0M332.5 446.7h0M320.6 457.9h0M322.5 457.3h0M298.6 451.6h0M324.6 450.1h0M327.7 444.6h0M313.2 447.7h0M335.3 445.3h0M327.7 454.8h0M322.0 454.7h0M326.1 458.5h0M316.9 453.9h0M312.9 459.9h0M334.2 459.4h0M312.8 447.5h0M339.8 466.4h0M328.6 444.6h0M308.5 449.5h0M320.1 451.8h0M325.5 455.3h0M335.5 456.3h0M303.9 447.8h0M331.9 446.4h0M318.2 447.9h0M334.9 456.2h0M326.9 448.4h0M328.0 446.5h0M304.1 445.6h0M337.0 445.5h0M329.2 443.9h0M331.0 442.7h0M320.7 457.8h0M328.4 452.1h0M327.8 449.8h0M316.4 453.0h0M323.0 456.3h0M335.7 455.7h0M323.1 453.9h0M311.1 452.5h0M300.3 458.8h0M340.4 447.5h0M317.2 449.8h0M319.1 447.4h0M316.6 450.1h0M319.1 447.7h0M337.9 447.7h0M317.5 450.1h0M324.8 456.4h0M319.3 445.3h0M331.9 446.8h0M321.6 454.5h0M338.9 454.8h0M336.5 444.5h0M336.9 444.8h0M312.0 451.2h0M302.8 444.2h0M330.1 463.2h0M320.9 448.2h0M327.6 451.5h0M328.3 448.1h0M327.2 443.3h0M325.1 455.4h0M322.2 453.6h0M314.2 457.9h0M309.5 450.8h0M308.1 452.6h0M316.7 449.9h0M329.3 453.7h0M317.1 442.0h0M302.4 449.5h0M312.4 442.9h0M307.9 443.1h0M319.0 454.6h0M312.4 445.5h0M314.9 449.8h0M322.0 443.4h0M309.6 452.6h0M319.3 456.0h0M327.4 450.4h0M308.3 451.4h0M310.9 451.0h0M336.5 456.5h0M330.7 452.9h0M317.1 452.9h0M336.4 444.8h0M324.8 451.2h0M328.8 452.4h0M327.2 456.2h0M324.0 452.1h0M342.9 451.0h0M330.1 453.2h0M323.7 453.8h0M312.0 449.1h0M317.4 456.6h0M319.1 451.2h0M331.1 453.6h0M317.1 441.9h0M320.5 451.6h0M323.6 450.0h0M320.4 457.9h0M314.2 451.4h0M317.4 449.0h0M322.2 449.6h0M330.6 452.0h0M327.8 441.3h0M330.9 448.4h0M330.5 448.4h0M315.4 450.7h0M316.7 448.0h0M328.4 447.8h0M332.9 447.6h0M311.4 456.2h0M323.3 457.0h0M314.9 452.3h0M327.3 451.5h0M322.6 450.1h0M318.6 454.1h0M331.9 454.4h0M329.8 447.2h0M329.4 449.7h0M322.7 450.0h0M329.5 458.6h0M333.0 452.6h0M304.0 451.9h0M310.8 444.7h0M327.5 452.3h0M311.4 448.1h0M342.6 444.6h0M329.7 442.8h0M320.5 457.8h0M307.1 450.7h0M320.0 456.5h0M323.4 459.7h0M340.4 452.5h0M324.4 448.9h0M325.4 448.3h0M320.0 449.5h0M319.4 457.7h0M335.5 448.8h0M323.3 452.5h0M324.8 447.2h0M306.9 453.3h0M319.7 447.8h0M295.0 450.1h0M315.6 457.1h0M320.0 451.6h0M330.8 449.1h0M333.4 450.5h0M313.8 450.0h0M338.1 454.2h0M320.8 460.6h0M307.4 442.6h0M317.1 455.0h0M316.2 445.5h0M331.5 449.0h0M324.8 447.3h0M318.7 457.7h0M315.0 449.5h0M325.3 451.7h0M316.1 454.8h0M311.9 453.4h0M318.7 454.0h0M323.4 457.1h0M344.8 447.0h0M329.1 448.7h0M318.8 454.5h0M332.4 444.7h0M327.2 450.0h0M332.0 451.8h0M332.0 453.8h0M296.8 442.0h0M306.4 453.7h0M321.7 443.2h0M308.2 448.7h0M325.9 448.1h0M337.5 452.8h0M331.8 458.0h0M301.0 456.8h0M317.2 447.2h0M323.8 452.2h0M331.4 453.7h0M315.5 435.0h0M321.1 444.6h0M310.4 447.7h0M334.4 453.5h0M327.4 452.3h0M328.5 448.2h0M317.6 447.0h0M325.1 456.3h0M301.9 445.7h0M317.0 449.7h0M334.1 451.0h0M329.4 453.6h0M324.9 451.9h0M324.2 444.6h0M309.8 454.9h0M323.2 450.1h0M336.6 447.1h0M312.0 446.2h0M329.1 445.0h0M327.5 447.1h0M327.6 457.6h0M319.7 438.0h0M330.2 445.3h0M328.7 443.5h0M309.3 446.2h0M327.8 454.6h0M315.8 449.2h0M321.4 452.6h0M352.4 451.6h0M326.8 451.9h0M315.3 445.3h0M330.7 455.7h0M319.2 449.3h0M322.3 447.7h0M336.5 457.0h0M317.2 451.9h0M319.2 447.7h0M317.5 450.5h0M316.9 444.1h0M320.0 452.9h0M318.0 447.1h0M337.2 441.3h0M325.3 451.8h0M323.5 451.2h0M348.2 452.0h0M317.4 459.4h0M311.5 445.0h0M318.1 455.1h0M322.7 452.3h0M316.6 450.1h0M317.3 448.5h0M324.6 455.0h0M330.3 454.5h0M323.6 448.9h0M320.7 449.8h0M322.3 455.2h0M311.6 458.1h0M332.6 451.9h0M316.0 453.8h0M326.0 454.1h0M304.1 446.9h0M330.0 448.2h0M329.8 452.4h0M319.9 446.2h0M316.4 452.9h0M331.8 445.4h0M311.2 452.9h0M332.3 453.0h0M332.0 446.2h0M317.9 446.8h0M307.7 453.4h0M314.1 451.4h0M327.0 454.7h0M312.5 456.1h0M331.9 459.5h0M325.2 457.9h0M313.0 444.0h0M327.3 443.5h0M328.4 454.8h0M343.5 457.5h0M317.9 457.5h0M331.6 445.4h0M332.0 448.5h0M329.5 445.1h0M316.9 455.5h0M320.5 448.6h0M315.2 445.8h0M318.2 452.1h0M320.2 449.7h0M335.9 465.0h0M344.1 454.3h0M312.9 451.1h0M334.7 459.9h0M327.4 458.2h0M316.3 451.3h0M326.1 453.5h0M349.5 457.3h0M323.4 463.7h0M321.2 457.2h0M328.6 457.7h0M321.4 452.1h0M328.6 455.4h0M325.9 452.0h0M313.0 456.4h0M323.1 458.3h0M314.3 443.6h0M347.4 449.9h0M315.7 456.7h0M338.3 447.2h0M323.2 440.5h0M312.5 451.0h0M306.8 454.2h0M317.9 452.0h0M325.7 449.1h0M338.7 447.7h0M294.1 453.5h0M326.8 454.6h0M327.1 452.7h0M318.6 451.8h0M319.3 445.5h0M313.4 454.0h0M315.7 460.2h0M329.5 458.2h0M333.5 456.9h0M318.3 453.3h0M322.9 449.0h0M323.9 446.3h0M323.1 453.0h0M324.7 449.6h0M326.1 447.9h0M312.0 447.2h0M317.3 446.3h0M312.3 452.5h0M309.9 446.0h0M313.4 460.6h0M334.9 450.2h0M312.2 442.2h0M320.4 441.9h0M333.4 452.1h0M332.8 446.5h0M321.5 448.4h0M326.3 452.6h0M322.5 458.6h0M320.4 448.4h0M337.0 447.2h0M331.6 446.8h0M316.6 449.7h0M310.4 455.7h0M338.5 449.9h0M329.5 459.7h0M327.5 449.4h0M341.0 446.4h0M322.3 450.0h0M337.1 442.7h0M339.2 458.0h0M325.0 448.0h0M324.2 456.2h0M312.0 444.8h0M311.4 451.1h0M320.7 453.0h0M316.6 452.3h0M328.8 454.2h0M296.3 450.1h0M305.7 450.5h0M335.4 454.5h0M315.1 452.5h0M323.6 446.3h0M328.0 459.4h0M325.3 449.9h0M321.3 444.3h0M326.0 447.5h0M320.0 439.5h0M325.6 459.7h0M308.1 457.1h0M318.4 460.1h0M325.1 458.2h0M316.1 449.4h0M333.3 451.2h0M334.9 447.4h0M336.0 446.8h0M307.3 458.9h0M316.5 445.6h0M317.7 448.5h0M311.4 449.4h0M329.2 448.4h0M316.2 453.5h0M330.4 447.8h0M325.2 450.2h0M330.0 444.5h0M330.7 450.5h0M315.7 456.8h0M318.4 458.2h0M326.6 444.5h0M329.7 458.1h0M337.7 445.6h0M317.5 445.9h0M334.6 454.7h0M320.5 452.6h0M332.4 453.2h0M330.1 455.5h0M297.3 452.9h0M326.5 459.0h0M318.6 451.4h0M329.0 452.5h0M332.3 456.6h0M311.8 455.8h0M327.4 453.6h0M320.8 450.3h0M315.7 454.0h0M328.9 448.0h0M347.1 440.6h0M322.1 454.0h0M325.8 457.0h0M326.0 453.3h0M319.0 452.3h0M324.7 452.3h0M310.4 454.9h0M314.2 456.3h0M305.6 449.6h0M328.5 453.0h0M322.0 447.9h0M326.4 441.3h0M318.6 445.4h0M311.5 450.1h0M330.1 454.6h0M320.4 458.0h0M317.0 453.1h0M334.0 452.7h0M322.0 451.4h0M301.0 446.3h0M320.5 449.6h0M323.7 449.1h0M306.9 458.2h0M321.9 456.9h0M307.1 449.7h0M303.4 454.3h0M336.2 451.2h0M309.2 455.0h0M330.4 457.9h0M321.2 448.4h0M324.9 441.4h0M321.9 449.0h0M322.5 455.3h0M328.0 441.4h0M334.5 452.1h0M332.2 450.4h0M323.8 439.9h0M320.2 442.6h0M331.8 451.1h0M322.2 451.2h0M319.9 444.2h0M324.5 447.8h0M316.7 458.3h0M304.2 447.1h0M308.1 455.4h0M331.2 452.4h0M314.8 451.2h0M336.1 447.6h0M343.7 450.6h0M325.7 461.0h0M321.2 448.9h0M325.6 452.4h0M319.6 448.6h0M319.3 454.1h0M328.9 453.0h0M334.4 460.9h0M326.8 449.9h0M329.2 462.4h0M317.9 454.5h0M326.0 446.2h0M325.9 441.6h0M333.6 453.8h0M313.8 458.1h0M311.3 450.9h0M333.7 442.7h0M332.0 441.1h0M324.4 455.5h0M332.7 447.6h0M347.0 455.9h0M313.1 454.1h0M310.4 436.1h0M311.3 448.8h0M322.6 453.4h0M324.7 451.8h0M331.9 453.3h0M312.7 446.9h0M318.0 449.1h0M338.5 445.7h0M332.1 446.3h0M308.5 454.6h0M324.1 449.5h0M326.5 451.8h0M335.1 455.2h0M339.7 451.0h0M311.7 446.6h0M315.8 453.2h0M338.8 453.8h0M333.6 451.4h0M326.5 452.4h0M327.0 446.0h0M315.1 458.8h0M328.6 453.5h0M312.7 450.0h0M308.4 452.2h0M330.7 457.6h0M320.4 456.8h0M324.7 446.8h0M332.3 449.9h0M309.9 442.3h0M323.9 450.1h0M330.8 464.8h0M318.5 455.9h0M316.5 444.3h0M317.7 442.7h0M314.6 449.0h0M321.3 444.8h0M319.2 455.8h0M314.1 454.2h0M320.2 442.2h0M339.5 461.8h0M337.2 453.8h0M332.9 448.7h0M311.8 450.7h0M304.6 457.3h0M332.1 450.8h0M328.0 450.6h0M322.8 449.1h0M328.8 448.7h0M335.0 453.3h0M328.2 444.8h0M297.1 457.5h0M313.9 451.7h0M321.2 456.6h0M324.1 446.4h0M311.6 448.6h0M312.3 440.1h0M299.5 455.3h0M323.9 453.9h0M319.4 450.7h0M309.2 451.1h0M325.2 454.2h0M312.3 459.2h0M323.7 450.0h0M293.8 456.2h0M315.6 445.5h0M316.9 450.4h0M317.8 456.0h0M332.4 454.2h0M335.5 451.9h0M325.9 446.3h0M319.2 440.2h0M318.5 452.9h0M319.8 458.1h0M325.6 448.1h0M323.9 450.8h0M331.4 446.2h0M338.9 450.7h0M339.2 443.4h0M324.4 447.6h0M310.4 452.5h0M335.9 460.6h0M320.3 453.7h0M321.6 453.6h0M334.9 462.8h0M320.7 453.3h0M332.1 457.5h0M337.4 457.4h0M315.3 452.8h0M334.3 454.9h0M316.7 448.0h0M323.7 452.7h0M326.6 456.4h0M326.0 451.2h0M321.2 445.6h0M329.6 450.3h0M318.0 448.7h0M315.8 449.0h0M318.0 471.0h0M338.0 451.5h0M315.6 458.9h0M317.3 449.2h0M322.6 463.4h0M327.4 450.5h0M315.1 447.0h0M319.2 460.4h0M332.1 457.0h0M327.4 452.2h0M326.9 451.4h0M338.7 450.6h0M340.3 447.1h0M340.3 454.3h0M319.2 453.6h0M322.8 448.8h0M312.2 457.6h0M310.7 444.2h0M328.9 444.2h0M334.1 451.1h0M313.5 456.4h0M315.0 447.2h0M325.7 448.5h0M327.7 457.7h0M327.7 450.0h0M312.9 443.5h0M311.0 459.8h0M313.2 446.5h0M329.2 455.8h0M296.0 454.2h0M307.3 448.0h0M328.3 440.3h0M324.3 454.4h0M324.3 447.1h0M323.3 452.5h0M309.9 450.8h0M329.7 462.8h0M327.8 454.2h0M326.4 455.3h0M339.9 444.4h0M328.0 454.1h0M336.0 452.2h0M309.3 445.7h0M316.3 451.7h0M316.7 463.2h0M314.0 458.6h0M316.3 441.9h0M312.6 450.0h0M325.9 447.0h0M332.9 446.7h0M320.7 453.7h0M313.5 451.6h0M322.7 452.9h0M340.8 457.5h0M337.6 449.7h0M320.9 452.3h0M326.9 446.2h0M329.9 446.8h0M316.1 450.6h0M318.9 445.7h0M332.8 451.2h0M328.9 450.8h0M308.7 450.3h0M320.4 448.3h0M329.5 450.0h0M328.3 445.6h0M319.6 448.6h0M315.3 453.6h0M323.4 452.5h0M313.6 458.3h0M335.7 451.8h0M320.7 448.8h0M328.4 443.9h0M313.2 440.9h0M317.3 449.0h0M312.9 448.7h0M313.0 458.4h0M338.4 451.3h0M331.3 451.3h0M331.9 452.9h0M323.5 458.6h0M307.9 454.8h0M323.9 453.3h0M324.7 457.7h0M298.4 449.1h0M336.0 458.7h0M333.3 442.5h0M336.0 453.3h0M344.2 455.0h0M328.3 455.4h0M319.5 452.9h0M309.0 452.0h0M324.9 452.8h0M330.6 452.3h0M326.7 449.0h0M309.9 451.6h0M303.6 457.3h0M316.5 454.7h0M326.1 450.8h0M321.6 443.7h0M313.2 446.7h0M315.6 453.0h0M313.9 448.1h0M311.8 444.2h0M312.4 446.7h0M331.6 453.5h0M314.4 452.9h0M315.1 454.8h0M309.3 446.4h0M318.9 443.6h0M341.4 453.6h0M322.2 447.4h0M338.6 445.8h0M323.8 452.9h0M339.4 455.0h0M338.7 453.9h0M312.0 453.6h0M317.9 458.5h0M335.3 450.4h0M311.2 453.3h0M310.0 449.7h0M315.4 458.6h0M313.3 451.6h0M306.0 451.4h0M317.0 445.9h0M326.3 451.0h0M312.9 451.6h0M344.1 448.3h0M294.9 454.1h0M327.8 446.4h0M309.4 444.2h0M323.1 458.3h0M333.2 457.5h0M319.9 446.4h0M310.9 446.6h0M310.8 449.3h0M331.2 463.4h0M328.5 445.4h0M323.6 453.2h0M337.0 440.9h0M320.4 450.1h0M315.0 456.3h0M322.4 452.8h0M311.2 441.4h0M327.3 455.6h0M326.6 449.9h0M321.9 452.5h0M330.6 449.9h0M330.3 454.1h0M304.2 457.2h0M325.8 455.4h0M327.0 458.2h0M329.7 456.0h0M301.0 452.6h0M325.0 445.7h0M336.4 452.6h0M318.1 460.8h0M318.5 453.6h0M289.1 450.0h0M335.7 442.3h0M319.6 449.0h0M309.6 458.4h0M329.7 457.7h0M332.9 448.4h0M318.1 452.2h0M323.9 446.8h0M328.4 454.2h0M319.9 452.8h0M344.4 444.2h0M308.5 458.5h0M315.5 454.8h0M336.4 458.6h0M329.5 451.4h0M313.3 446.8h0M326.9 443.2h0M302.9 459.3h0M314.0 446.7h0M318.9 446.6h0M330.2 458.6h0M318.7 461.3h0M329.7 452.6h0M322.5 448.2h0M322.7 459.9h0M304.3 449.5h0M329.2 446.2h0M332.7 456.8h0M316.2 459.1h0M332.3 454.7h0M321.8 451.6h0M329.1 455.8h0M347.5 456.4h0M327.1 449.7h0M324.5 451.6h0M326.1 448.7h0M314.7 449.1h0M298.6 459.1h0M319.9 441.2h0M311.5 446.2h0M305.9 457.8h0M317.6 444.3h0M337.2 456.2h0M328.9 445.0h0M317.5 457.1h0M322.4 459.3h0M311.3 447.7h0M317.1 450.9h0M326.1 449.9h0M315.7 454.5h0M306.8 446.9h0M321.8 455.7h0M306.9 446.4h0M299.4 449.3h0M311.2 451.3h0M315.1 451.0h0M334.5 453.2h0M324.9 445.0h0M314.6 454.6h0M324.9 453.3h0M323.6 449.5h0M322.2 455.7h0M325.1 441.3h0M332.0 444.9h0M328.1 445.1h0M328.0 446.4h0M297.9 451.5h0M314.8 454.7h0M333.6 455.7h0M329.7 447.8h0M323.6 442.1h0M323.9 446.3h0M337.4 453.1h0M309.2 445.3h0M340.0 453.5h0M332.5 451.6h0M312.2 452.9h0M306.4 449.1h0M334.7 432.5h0M319.6 456.2h0M308.0 452.5h0M336.8 445.6h0M318.0 448.6h0M339.0 458.6h0M325.6 446.2h0M317.1 447.7h0M323.3 445.5h0M341.0 443.9h0M318.9 445.4h0M332.5 437.8h0M315.6 455.1h0M327.9 459.8h0M325.2 459.8h0M335.3 448.5h0M329.7 456.2h0M329.0 454.9h0M328.1 455.5h0M319.9 447.3h0M317.7 453.1h0M331.7 466.3h0M335.1 445.5h0M329.7 456.8h0M309.7 447.9h0M326.7 450.1h0M318.7 456.6h0M329.0 458.1h0M321.7 451.7h0M324.3 457.3h0M332.5 446.9h0M304.6 454.9h0M325.7 446.6h0M318.7 440.0h0M305.8 442.2h0M307.1 449.0h0M306.2 451.0h0M325.6 453.9h0M318.7 456.1h0M293.0 451.6h0M308.7 445.3h0M317.4 446.1h0M312.0 442.7h0M324.0 455.0h0M323.6 446.5h0M329.3 456.0h0M325.0 450.1h0M332.8 446.8h0M309.9 454.6h0M332.3 451.6h0M308.3 450.7h0M341.9 445.1h0M329.1 448.2h0M327.6 448.2h0M343.7 457.7h0M317.1 450.5h0M324.2 449.5h0M322.5 445.9h0M321.0 447.9h0M316.6 438.3h0M321.5 453.9h0M310.7 450.1h0M317.8 447.5h0M308.0 441.2h0M326.9 451.1h0M330.7 449.4h0M314.7 453.8h0M336.5 445.0h0M319.0 458.9h0M330.2 455.0h0M321.5 444.8h0M311.2 450.0h0M320.3 449.6h0M334.8 453.2h0M311.0 452.5h0M327.6 446.0h0M304.2 449.1h0M315.1 458.3h0M310.8 465.6h0M326.4 445.6h0M318.8 447.3h0M330.2 453.6h0M325.4 438.0h0M317.8 454.8h0M347.5 449.6h0M318.8 448.3h0M323.3 444.2h0M325.6 453.2h0M328.5 447.4h0M307.0 447.4h0M319.2 445.6h0M320.5 454.6h0M312.1 457.3h0M331.2 449.5h0M305.5 455.9h0M324.5 450.1h0M316.0 453.4h0M304.1 443.6h0M309.5 447.4h0M314.4 449.3h0M321.1 444.0h0M334.0 454.7h0M330.3 459.1h0M319.2 439.7h0M319.8 449.7h0M333.3 444.7h0M327.8 446.5h0M313.2 446.6h0M335.9 449.0h0M318.5 451.7h0M325.9 454.6h0M301.7 453.9h0M320.7 448.7h0M329.2 451.0h0M325.8 455.7h0M310.9 458.8h0M321.8 446.2h0M326.9 456.3h0M322.1 452.7h0M329.3 447.2h0M334.2 445.5h0M309.0 454.2h0M329.7 442.5h0M326.2 445.8h0M310.1 444.4h0M313.4 445.7h0M333.5 457.7h0M324.8 456.7h0M328.9 458.3h0M304.8 450.8h0M318.1 448.0h0M319.3 456.3h0M325.1 451.2h0M328.7 455.3h0M325.5 449.4h0M331.2 453.3h0M319.1 450.7h0M311.0 449.3h0M324.3 454.4h0M305.0 452.7h0M314.1 443.4h0M320.6 449.4h0M323.0 449.6h0M328.0 456.4h0M338.1 453.8h0M301.2 442.0h0M328.4 443.8h0M318.3 454.9h0M334.0 449.6h0M329.0 450.9h0M326.1 440.2h0M334.8 453.6h0M309.8 448.0h0M319.3 447.5h0M337.7 445.2h0M333.3 454.2h0M332.8 441.3h0M322.0 454.1h0M316.5 444.0h0M301.9 455.2h0M337.6 457.4h0M325.5 450.9h0M344.5 448.5h0M322.5 442.1h0M336.8 446.3h0M339.5 453.1h0M312.7 452.0h0M328.4 458.1h0M320.4 437.4h0M324.7 449.6h0M339.8 454.9h0M316.5 452.7h0M318.4 450.8h0M311.8 456.6h0M315.4 454.3h0M332.5 437.8h0M326.3 446.8h0M301.1 454.4h0M320.3 450.5h0M318.2 456.4h0M305.6 455.0h0M317.7 442.9h0M308.2 448.6h0M330.7 452.5h0M339.9 452.7h0M328.6 452.5h0M327.3 454.3h0M337.0 448.0h0M313.2 442.8h0M326.0 453.9h0M322.2 442.1h0M316.3 447.1h0M331.0 456.1h0M320.4 450.1h0M335.2 448.8h0M330.3 454.8h0M326.6 447.9h0M320.8 449.4h0M330.5 453.3h0M329.6 459.1h0M315.8 451.6h0M335.9 446.9h0M325.8 454.3h0M327.9 450.0h0M331.5 452.5h0M334.3 444.8h0M328.2 451.0h0M309.5 451.8h0M317.9 447.9h0M317.5 448.2h0M324.2 453.9h0M336.9 448.9h0M312.9 458.4h0M311.7 448.5h0M335.8 452.7h0M318.9 456.5h0M317.0 453.5h0M314.0 444.3h0M321.6 444.3h0M322.2 448.1h0M323.4 451.9h0M337.9 440.8h0M317.7 452.7h0M313.4 456.6h0M308.6 451.7h0M336.6 451.8h0M347.6 452.5h0M323.7 446.8h0M336.9 460.1h0M326.7 454.9h0M328.3 461.5h0M335.4 448.3h0M317.2 446.0h0M315.5 450.0h0M336.9 443.9h0M308.8 452.1h0M302.0 453.6h0M321.7 452.7h0M333.4 461.8h0M320.3 449.7h0M327.3 452.8h0M312.8 442.8h0M315.7 441.0h0M312.1 446.8h0M305.1 444.7h0M313.2 452.0h0M313.9 453.9h0M330.6 439.0h0M329.2 449.1h0M307.8 457.7h0M316.5 456.6h0M320.3 452.6h0M328.7 461.8h0M322.8 450.6h0M295.7 449.3h0M315.6 453.1h0M315.2 453.4h0M326.6 450.7h0M308.2 454.8h0M312.5 444.7h0M316.0 452.1h0M325.6 452.9h0M328.2 451.6h0M319.9 446.6h0M315.4 449.6h0M331.8 451.3h0M317.1 458.4h0M315.5 445.4h0M339.4 452.0h0M318.3 447.2h0M339.0 451.7h0M314.3 463.4h0M317.4 452.1h0M318.6 450.5h0M329.6 445.6h0M306.1 445.1h0M343.3 452.1h0M315.9 455.6h0M319.0 455.2h0M332.8 447.5h0M328.5 453.6h0M330.2 458.6h0M331.1 459.7h0M313.9 448.8h0M331.8 442.9h0M324.2 457.2h0M323.1 450.8h0M334.5 451.8h0M324.7 444.7h0M322.1 445.3h0M329.7 452.3h0M319.3 453.8h0M336.7 452.8h0M326.3 455.3h0M323.6 448.8h0M338.8 443.3h0M330.2 455.0h0M303.8 447.5h0M321.2 452.4h0M315.6 451.0h0M306.0 453.1h0M327.6 447.3h0M316.0 460.5h0M321.6 442.8h0M314.0 455.0h0M320.0 449.0h0M311.2 455.4h0M329.2 448.2h0M334.5 451.0h0M319.1 453.0h0M307.7 450.9h0M315.4 448.1h0M336.8 461.2h0M330.9 450.9h0M311.5 446.0h0M321.0 455.2h0M333.7 454.0h0M329.8 456.0h0M316.5 452.5h0M311.1 441.4h0M310.4 445.9h0M328.5 448.6h0M328.1 448.1h0M307.0 450.3h0M316.2 440.4h0M330.0 455.8h0M316.4 447.1h0M308.4 442.6h0M330.1 448.3h0M334.0 446.0h0M319.7 452.7h0M314.4 448.8h0M348.7 444.1h0M310.3 454.4h0M318.7 454.2h0M297.0 449.8h0M333.6 445.3h0M317.5 447.7h0M326.1 459.9h0M308.4 449.0h0M324.3 447.2h0M318.8 457.5h0M316.4 456.6h0M306.0 455.1h0M325.3 446.8h0M305.0 448.1h0M313.5 440.3h0M337.1 448.4h0M323.5 447.5h0M312.5 454.6h0M330.5 455.6h0M319.0 452.5h0M331.4 446.6h0M316.8 448.7h0M314.1 452.4h0M322.6 449.0h0M303.0 450.0h0M319.8 448.1h0M315.4 453.6h0M312.2 449.5h0M332.5 452.0h0M308.6 448.7h0M323.7 453.7h0M321.5 453.3h0M310.8 456.0h0M316.2 457.7h0M314.2 450.1h0M312.8 443.0h0M333.7 450.2h0M317.9 456.5h0M328.3 444.2h0M318.0 451.3h0M326.1 444.6h0M319.7 457.2h0M316.4 449.8h0M339.3 450.8h0M319.8 454.9h0M332.3 449.8h0M313.9 459.7h0M325.0 453.5h0M319.1 451.0h0M329.4 441.6h0M301.1 439.5h0M314.5 448.8h0M330.3 454.1h0M314.1 455.1h0M316.6 457.7h0M314.7 451.0h0M312.7 453.1h0M320.3 457.5h0M328.8 452.1h0M308.8 454.7h0M334.9 456.5h0M308.8 439.4h0M314.8 451.4h0M325.8 447.8h0M321.6 455.3h0M322.0 450.5h0M317.9 458.9h0M326.8 447.5h0M316.2 446.3h0M313.2 452.5h0M326.2 447.6h0M309.2 445.7h0M331.0 446.8h0M318.0 459.7h0M325.1 451.1h0M329.4 453.0h0M326.5 447.9h0M336.4 447.4h0M312.7 437.7h0M298.4 451.3h0M328.6 453.2h0M326.9 443.9h0M321.4 447.7h0M313.4 450.3h0M337.8 454.3h0M320.4 453.4h0M311.3 449.1h0M331.6 457.0h0M325.5 439.1h0M311.0 446.1h0M314.9 450.6h0M320.8 441.2h0M324.2 457.5h0M317.5 464.2h0M302.3 458.9h0M337.0 444.2h0M321.8 451.1h0M303.0 453.8h0M324.5 440.4h0M313.9 452.6h0M325.3 448.1h0M329.8 454.9h0M328.0 471.0h0M337.9 459.8h0M298.2 445.0h0M334.9 470.1h0M324.2 469.9h0M321.6 450.8h0M305.5 444.9h0M306.2 449.9h0M313.8 454.0h0M335.5 461.8h0M339.6 457.5h0M299.6 459.6h0M293.4 471.0h0M310.5 444.8h0M332.2 453.8h0M344.4 458.2h0M347.7 437.6h0M325.6 450.1h0M314.3 451.3h0M319.6 450.1h0M330.6 457.7h0M322.9 452.3h0M330.2 439.4h0M337.2 452.4h0M314.9 439.8h0M323.6 436.4h0M307.9 444.3h0M320.2 452.7h0M321.5 457.9h0M355.5 454.2h0M312.0 452.3h0M326.5 456.7h0M319.2 454.5h0M311.5 446.9h0M317.1 447.1h0M341.6 446.0h0M306.2 455.8h0M293.6 437.7h0M325.2 442.2h0M314.4 462.0h0M312.6 458.1h0M331.9 458.4h0M322.1 458.1h0M327.6 453.0h0M321.6 452.7h0M318.1 447.7h0M362.7 462.9h0M296.9 446.3h0M285.6 442.8h0M299.5 451.7h0M333.2 462.7h0M329.7 455.8h0M331.7 447.9h0M319.9 458.8h0M323.0 459.5h0M325.1 451.6h0M308.8 449.2h0M335.4 451.8h0M330.7 450.9h0M334.1 448.6h0M315.3 439.0h0M291.9 452.8h0M325.8 447.2h0M285.7 441.1h0M304.6 447.5h0M308.1 456.3h0M310.3 452.6h0M322.8 455.6h0M314.4 455.6h0M320.9 444.7h0M303.3 435.3h0M339.3 444.2h0M337.9 446.3h0M329.1 450.3h0M336.9 443.2h0M306.2 447.9h0M278.5 438.0h0M319.3 442.3h0M346.2 446.5h0M326.9 463.5h0M346.1 460.9h0M337.8 467.3h0M310.5 454.1h0M331.2 462.5h0M325.9 453.0h0M337.7 445.1h0M298.9 443.1h0M307.7 447.4h0M289.3 454.0h0M333.9 451.9h0M319.9 447.2h0M311.8 450.9h0M317.8 463.4h0M315.2 445.3h0M312.2 454.2h0M352.5 457.1h0M355.3 441.2h0M320.8 454.6h0M326.3 441.4h0M322.8 443.3h0M339.1 448.6h0M320.8 444.7h0M324.1 462.5h0M315.2 434.7h0M312.8 455.4h0M316.1 455.4h0M323.3 455.5h0M345.5 440.5h0M319.4 449.9h0M350.7 445.6h0M323.6 458.1h0M313.5 459.8h0M297.7 452.5h0M291.4 434.1h0M317.3 444.5h0M309.8 446.0h0M311.0 443.7h0M320.0 440.2h0M310.3 447.8h0M309.1 470.1h0M371.6 466.2h0M320.4 452.6h0M341.2 459.3h0M319.2 462.3h0M352.3 461.8h0M333.3 445.3h0M327.6 429.9h0M325.5 458.4h0M326.6 453.5h0M309.1 457.9h0M322.1 437.6h0M314.4 446.6h0M322.3 456.1h0M317.8 460.6h0M307.6 447.5h0M332.2 447.0h0M317.7 457.6h0M298.9 444.7h0M329.6 442.3h0M352.6 456.6h0M322.9 448.5h0M336.1 458.6h0M305.1 463.0h0M322.2 446.2h0M292.8 439.0h0M326.7 455.6h0M315.7 440.9h0M302.0 460.9h0M343.3 458.9h0M337.4 449.4h0M330.3 447.5h0M304.3 450.4h0M307.5 448.0h0M350.1 450.2h0M357.8 455.9h0M296.5 453.2h0M315.6 453.3h0M321.7 442.1h0M319.1 454.9h0M323.2 446.0h0M319.9 468.3h0M297.0 441.6h0M321.2 451.0h0M331.7 460.6h0M318.8 450.5h0M363.7 449.3h0M335.6 457.5h0M292.3 428.8h0M335.0 451.5h0M327.0 459.9h0M302.1 445.3h0M310.9 445.1h0M325.1 453.8h0M346.9 468.1h0M314.0 444.8h0M325.5 449.9h0M296.7 446.9h0M299.7 462.4h0M305.2 440.8h0M332.8 457.9h0M295.4 466.9h0M342.3 441.1h0M308.3 458.6h0M295.7 448.6h0M326.7 439.4h0M330.9 452.2h0M339.3 443.1h0M316.7 453.9h0M340.3 447.8h0M315.0 443.5h0M308.3 447.9h0M278.5 455.4h0M322.3 451.5h0M334.0 436.0h0M342.5 453.8h0M329.1 451.3h0M344.6 458.4h0M322.1 452.4h0M334.9 439.8h0M330.4 453.1h0M306.0 455.5h0M329.6 455.1h0M317.6 435.3h0M311.2 447.1h0M332.7 446.9h0M337.9 459.9h0M316.6 449.8h0M313.4 455.8h0M323.6 445.9h0M317.8 458.4h0M342.9 462.3h0M318.3 454.5h0M332.2 458.1h0M318.0 443.9h0M320.7 459.2h0M319.7 443.2h0M302.0 460.2h0M317.5 440.0h0M313.1 458.0h0M351.4 444.5h0M332.9 447.7h0M320.9 440.1h0M333.2 438.5h0M312.1 434.1h0M321.4 451.7h0M332.0 453.9h0M318.5 457.0h0M300.7 457.4h0M310.1 445.9h0M305.3 455.8h0M321.9 450.2h0M315.0 446.0h0M310.5 453.7h0M300.9 443.4h0M314.6 458.1h0M341.3 453.1h0M328.9 454.6h0M314.7 464.7h0M301.1 444.0h0M334.4 453.9h0M318.2 449.2h0M323.9 456.1h0M336.3 445.5h0M312.3 456.3h0M354.4 452.2h0M325.3 452.3h0M301.2 451.3h0M326.5 456.6h0M331.6 455.4h0M312.9 452.3h0M292.6 447.3h0M323.2 443.4h0M314.1 453.0h0M302.8 456.6h0M311.6 439.3h0M306.2 451.0h0M330.2 434.0h0M309.1 453.1h0M321.4 455.1h0M320.6 449.2h0M326.2 458.0h0M322.0 459.7h0M336.6 443.7h0M281.9 456.4h0M336.3 451.6h0M302.3 445.2h0M325.6 451.1h0M354.2 458.5h0M316.0 457.3h0M324.5 453.1h0M338.0 454.6h0M315.1 461.6h0M325.0 449.3h0M310.5 455.0h0M332.4 452.7h0M322.0 450.6h0M319.2 435.3h0M300.6 454.0h0M326.6 457.8h0M316.3 441.5h0M344.5 455.5h0M323.3 448.8h0M314.8 440.2h0M295.4 452.4h0M353.4 463.9h0M327.9 456.5h0M322.9 459.3h0M330.1 443.8h0M300.6 450.6h0M299.0 440.3h0M310.1 455.0h0M341.8 458.1h0M323.1 448.4h0M333.2 414.1h0M333.4 425.6h0M323.5 422.6h0M338.0 412.6h0M323.7 424.3h0M330.3 420.4h0M334.5 416.3h0M332.4 427.5h0M326.9 414.7h0M333.1 412.1h0M330.1 417.9h0M334.5 409.9h0M327.9 409.3h0M323.4 423.4h0M331.1 426.5h0M336.7 398.3h0M323.2 410.3h0M343.4 409.2h0M321.1 400.4h0M328.5 432.6h0M326.7 410.0h0M327.2 410.0h0M345.9 415.0h0M317.9 415.1h0M323.7 433.6h0M333.7 428.7h0M323.6 427.3h0M332.5 433.4h0M328.5 409.7h0M331.6 435.0h0M333.5 409.0h0M332.3 418.3h0M335.0 424.9h0M331.7 412.6h0M323.7 412.1h0M327.3 430.1h0M321.6 419.3h0M335.8 414.4h0M330.4 429.9h0M331.9 430.2h0M330.3 423.3h0M328.5 418.7h0M323.2 416.2h0M327.4 422.1h0M331.6 413.6h0" stroke="#000" stroke-width="1.45" stroke-linecap="square" fill="none"/>
<path d="M432.6 455.2h0M431.8 454.7h0M442.3 449.4h0M435.5 455.5h0M433.2 441.6h0M431.6 454.7h0M440.4 457.9h0M447.3 459.4h0M421.0 453.6h0M439.1 451.6h0M442.7 446.1h0M440.0 448.7h0M451.4 449.4h0M431.0 447.4h0M437.4 445.2h0M454.7 452.8h0M459.2 443.6h0M435.1 447.2h0M442.4 442.9h0M452.9 452.1h0M430.1 450.8h0M437.4 454.7h0M442.4 447.6h0M442.9 452.4h0M440.6 451.2h0M440.4 444.7h0M438.4 442.0h0M431.1 448.9h0M434.4 455.0h0M435.2 462.9h0M446.0 463.2h0M439.4 452.3h0M437.7 444.0h0M445.1 451.9h0M424.3 441.9h0M443.5 438.5h0M446.0 454.5h0M438.8 449.6h0M464.9 453.3h0M441.5 443.8h0M431.8 455.7h0M439.8 457.6h0M457.5 465.0h0M440.3 446.9h0M437.4 449.4h0M454.7 453.4h0M439.4 456.2h0M414.5 462.1h0M458.1 450.2h0M422.6 448.9h0M433.4 463.0h0M441.7 447.7h0M442.2 446.5h0M441.4 457.0h0M437.0 453.7h0M452.8 448.4h0M439.8 451.0h0M451.2 456.8h0M426.8 444.8h0M438.4 455.4h0M423.8 463.3h0M443.8 451.3h0M436.5 445.8h0M454.3 451.7h0M425.7 450.5h0M430.0 454.3h0M447.7 448.7h0M436.6 455.2h0M424.4 458.3h0M449.6 455.6h0M436.0 450.9h0M431.2 457.7h0M418.1 460.3h0M456.7 446.7h0M441.8 454.7h0M449.7 460.8h0M455.3 453.2h0M452.4 447.9h0M452.0 459.1h0M447.0 447.4h0M426.9 447.8h0M447.3 453.8h0M431.6 455.7h0M413.5 452.3h0M432.9 457.5h0M433.9 450.5h0M439.8 454.7h0M435.8 444.7h0M457.5 458.5h0M426.3 450.3h0M431.1 458.5h0M441.2 449.1h0M456.9 444.3h0M446.6 445.1h0M439.4 453.5h0M457.7 457.2h0M421.7 446.9h0M443.0 451.9h0M441.8 452.2h0M450.8 452.9h0M448.1 444.0h0M428.9 446.8h0M455.6 444.9h0M452.7 456.3h0M438.0 455.9h0M437.6 454.0h0M441.2 449.6h0M447.7 452.8h0M429.2 449.9h0M427.2 454.1h0M433.6 462.0h0M423.3 446.6h0M424.4 447.2h0M428.4 439.9h0M440.4 452.7h0M452.1 454.6h0M457.6 454.9h0M462.2 448.1h0M447.4 452.5h0M435.0 452.1h0M449.2 456.6h0M446.1 452.1h0M433.4 449.8h0M461.3 450.9h0M427.6 452.2h0M446.6 458.0h0M436.4 459.7h0M445.9 467.3h0M420.8 462.0h0M442.6 451.5h0M455.5 446.5h0M453.3 450.4h0M448.5 454.8h0M436.7 453.8h0M454.5 443.5h0M456.5 455.8h0M449.2 453.3h0M429.6 447.8h0M430.4 459.6h0M452.2 453.8h0M426.7 451.1h0M441.6 447.5h0M442.0 452.5h0M436.6 453.5h0M440.4 457.1h0M437.9 459.8h0M455.8 447.0h0M442.1 456.0h0M452.8 446.0h0M432.2 444.3h0M449.2 455.2h0M425.9 454.8h0M439.0 450.6h0M425.1 443.6h0M428.6 452.0h0M439.4 443.0h0M450.9 443.5h0M429.6 453.9h0M440.8 455.6h0M473.3 454.1h0M466.4 440.8h0M450.1 445.0h0M431.2 454.5h0M429.5 449.6h0M435.1 449.4h0M433.3 445.0h0M458.1 443.8h0M442.8 453.6h0M431.9 460.9h0M455.2 457.1h0M433.1 447.8h0M432.8 446.0h0M426.8 455.1h0M452.0 449.3h0M451.3 454.4h0M446.5 449.2h0M458.1 445.9h0M438.4 454.5h0M444.2 452.6h0M448.4 452.9h0M444.7 444.2h0M429.4 451.8h0M434.2 442.6h0M440.3 452.6h0M437.8 436.0h0M454.8 454.9h0M431.1 449.8h0M442.0 454.9h0M442.6 461.7h0M439.2 458.2h0M453.1 448.5h0M432.6 443.3h0M463.7 450.1h0M436.3 464.1h0M450.7 450.1h0M439.2 451.8h0M428.0 445.9h0M449.5 451.3h0M434.7 457.0h0M437.3 444.8h0M432.0 454.6h0M438.7 448.8h0M433.7 449.6h0M469.9 454.1h0M440.4 447.8h0M444.5 448.8h0M454.8 455.3h0M442.9 456.8h0M441.8 462.9h0M425.9 449.5h0M440.7 457.8h0M424.0 453.7h0M450.2 452.1h0M452.0 449.4h0M429.5 463.9h0M462.3 444.6h0M443.4 460.2h0M445.9 450.2h0M462.5 458.7h0M453.8 450.9h0M447.6 449.4h0M436.6 453.6h0M447.6 457.2h0M439.9 450.0h0M439.1 451.5h0M450.4 456.5h0M445.0 451.5h0M436.0 447.7h0M430.4 452.4h0M433.6 444.1h0M445.1 448.1h0M442.0 454.3h0M447.9 459.3h0M421.6 451.3h0M422.7 451.5h0M440.1 458.0h0M451.0 458.2h0M422.0 450.5h0M445.6 453.4h0M438.1 443.4h0M462.2 460.1h0M437.5 454.5h0M439.4 467.1h0M442.6 456.4h0M438.4 455.4h0M448.2 447.2h0M456.4 454.3h0M442.6 455.1h0M445.2 451.7h0M427.9 450.1h0M418.0 449.0h0M453.1 449.6h0M443.2 452.8h0M445.4 446.3h0M436.7 456.0h0M438.1 447.9h0M442.3 446.7h0M449.6 454.2h0M443.5 441.9h0M437.6 448.0h0M451.1 454.5h0M449.1 453.8h0M449.4 446.0h0M437.1 447.2h0M431.8 443.0h0M443.9 449.7h0M435.3 454.2h0M436.9 451.0h0M430.2 446.5h0M410.0 456.2h0M455.0 460.1h0M438.8 449.4h0M436.9 466.9h0M450.3 459.1h0M433.9 448.0h0M438.0 455.7h0M448.3 450.8h0M444.2 454.0h0M417.1 438.2h0M436.1 449.4h0M451.6 444.1h0M441.3 452.7h0M436.6 450.9h0M441.1 456.2h0M464.7 463.5h0M445.1 451.6h0M451.9 450.8h0M434.5 455.5h0M417.2 454.0h0M458.7 449.9h0M440.5 451.1h0M454.8 446.3h0M450.3 455.9h0M435.6 451.9h0M452.3 448.4h0M436.0 455.6h0M429.9 457.1h0M435.4 450.5h0M411.4 450.8h0M455.2 450.5h0M457.0 455.5h0M432.1 456.7h0M447.3 449.0h0M444.5 450.7h0M430.6 453.2h0M443.0 448.6h0M442.9 458.2h0M443.5 440.2h0M454.2 456.9h0M428.6 454.3h0M425.2 457.1h0M431.7 451.7h0M442.4 453.2h0M446.0 456.8h0M454.2 456.7h0M424.7 452.7h0M436.0 457.6h0M459.0 444.5h0M429.9 444.8h0M418.8 448.3h0M446.3 455.3h0M449.2 448.5h0M436.9 454.8h0M437.7 451.5h0M444.6 459.4h0M439.8 453.2h0M438.2 455.9h0M434.2 454.8h0M437.1 455.7h0M425.9 447.8h0M423.2 445.4h0M444.2 450.4h0M449.0 452.6h0M459.7 458.0h0M447.1 455.0h0M435.0 447.8h0M446.2 454.2h0M433.8 454.8h0M461.6 452.0h0M442.4 446.1h0M453.8 448.1h0M431.5 455.7h0M439.0 457.6h0M435.0 454.8h0M438.0 447.6h0M454.8 440.1h0M445.7 448.6h0M426.2 449.3h0M453.4 455.5h0M439.6 454.4h0M421.3 450.1h0M433.5 455.1h0M450.8 459.9h0M431.3 458.6h0M447.8 449.7h0M430.3 452.8h0M442.9 453.4h0M441.7 446.7h0M436.1 450.5h0M431.7 452.9h0M448.5 451.8h0M461.6 454.6h0M438.0 450.6h0M444.1 446.4h0M444.8 452.0h0M439.1 447.1h0M445.0 451.0h0M435.5 446.1h0M439.8 443.8h0M447.1 452.5h0M448.1 453.3h0M418.1 454.0h0M442.2 456.2h0M452.0 453.1h0M440.6 439.9h0M444.9 450.0h0M443.6 449.7h0M439.7 452.4h0M440.1 451.3h0M450.8 460.0h0M447.6 448.5h0M445.0 456.4h0M439.1 449.8h0M434.7 447.0h0M453.2 454.2h0M427.9 446.0h0M438.4 466.6h0M442.0 456.2h0M438.2 448.3h0M436.0 455.5h0M426.6 458.0h0M429.2 444.8h0M448.6 453.5h0M431.6 452.2h0M452.2 453.1h0M440.1 453.7h0M432.0 450.9h0M448.6 447.6h0M430.2 456.4h0M432.9 439.4h0M429.9 454.0h0M431.3 459.0h0M427.0 451.3h0M454.6 451.4h0M451.0 448.5h0M433.7 460.4h0M451.3 454.9h0M436.3 454.9h0M438.5 445.4h0M420.3 449.8h0M442.8 456.4h0M441.2 464.4h0M432.3 455.1h0M437.7 449.9h0M449.2 449.3h0M433.8 452.5h0M433.1 446.2h0M423.0 443.8h0M466.0 444.3h0M445.2 454.4h0M446.1 452.2h0M424.3 452.2h0M439.9 448.1h0M445.0 450.2h0M426.8 454.0h0M427.3 460.1h0M440.8 456.8h0M465.6 451.6h0M437.8 447.5h0M452.5 450.3h0M447.8 454.3h0M451.2 449.2h0M445.6 447.6h0M430.2 452.9h0M419.3 457.7h0M445.2 452.7h0M443.2 452.8h0M443.8 455.1h0M443.3 460.2h0M433.4 450.4h0M449.5 453.3h0M452.7 458.4h0M434.0 458.4h0M446.7 448.1h0M441.1 449.7h0M434.9 445.7h0M432.5 453.5h0M422.2 451.3h0M442.1 465.5h0M431.2 457.5h0M437.8 447.6h0M436.7 449.2h0M434.7 448.6h0M446.1 441.3h0M459.1 445.6h0M449.2 455.2h0M429.2 454.9h0M422.9 454.7h0M441.1 456.5h0M449.1 460.9h0M454.7 454.8h0M446.6 456.7h0M426.8 451.2h0M453.4 451.0h0M439.9 455.7h0M439.3 449.7h0M426.1 455.6h0M447.6 448.6h0M435.5 448.3h0M432.3 460.1h0M429.1 455.0h0M450.8 454.3h0M431.1 443.7h0M434.0 448.4h0M438.9 456.0h0M453.5 449.3h0M437.4 455.3h0M428.9 449.2h0M431.5 451.6h0M449.7 455.1h0M436.8 453.2h0M424.5 446.1h0M437.7 450.3h0M448.7 459.8h0M442.9 455.6h0M437.8 452.4h0M457.0 449.5h0M447.9 447.6h0M436.8 453.8h0M438.4 457.7h0M448.7 448.2h0M457.3 448.1h0M450.4 443.7h0M460.4 457.3h0M447.1 450.9h0M415.5 450.8h0M438.8 444.3h0M445.4 454.8h0M424.7 445.5h0M452.2 450.3h0M434.3 453.3h0M438.1 452.1h0M446.8 447.8h0M436.0 447.1h0M440.3 452.4h0M440.5 454.9h0M448.2 452.6h0M427.6 452.1h0M432.3 446.9h0M447.1 455.9h0M437.4 452.9h0M448.2 452.2h0M446.7 452.9h0M449.6 453.4h0M443.9 452.6h0M437.4 443.9h0M442.2 451.1h0M449.7 441.6h0M421.1 460.5h0M428.1 450.4h0M432.9 460.5h0M436.0 453.6h0M431.1 448.5h0M436.6 454.5h0M443.4 448.8h0M448.9 462.6h0M448.1 451.6h0M457.9 460.8h0M444.9 456.7h0M451.4 465.1h0M435.9 449.8h0M452.4 450.8h0M435.8 457.4h0M445.2 457.6h0M441.8 461.6h0M445.9 455.5h0M447.0 449.0h0M463.3 436.8h0M437.8 445.7h0M440.1 446.2h0M428.5 456.0h0M449.5 452.5h0M455.6 454.2h0M450.9 454.9h0M432.4 449.0h0M424.3 445.4h0M448.2 455.4h0M429.2 442.2h0M443.7 441.0h0M440.9 454.0h0M431.8 461.3h0M435.3 458.4h0M452.4 453.4h0M437.3 448.1h0M444.8 447.8h0M441.2 449.0h0M456.1 456.3h0M440.0 453.7h0M439.1 446.4h0M446.0 459.8h0M444.6 454.4h0M445.1 457.4h0M446.2 462.9h0M445.5 457.8h0M453.6 454.0h0M453.8 455.8h0M442.1 464.5h0M440.5 447.2h0M447.5 453.5h0M451.5 444.4h0M430.3 449.7h0M456.1 449.7h0M422.7 456.7h0M446.8 446.9h0M425.2 458.3h0M425.0 452.8h0M441.0 447.7h0M459.9 451.0h0M429.8 456.8h0M438.8 452.3h0M443.3 449.8h0M456.2 457.4h0M428.5 447.0h0M462.0 450.0h0M451.4 441.6h0M429.1 453.1h0M452.0 457.0h0M434.1 454.8h0M420.7 447.8h0M438.1 456.2h0M428.6 444.5h0M432.1 446.7h0M440.1 447.3h0M427.0 449.3h0M458.5 444.4h0M453.0 445.0h0M443.7 448.7h0M472.9 450.3h0M436.9 448.3h0M439.2 452.4h0M457.6 458.0h0M437.1 457.4h0M441.3 451.9h0M433.9 448.9h0M439.3 446.4h0M458.3 451.7h0M456.4 452.9h0M447.1 459.6h0M434.7 453.5h0M430.7 453.0h0M453.7 450.9h0M426.2 451.6h0M437.1 449.5h0M445.4 453.9h0M427.4 449.1h0M435.2 452.9h0M437.3 452.0h0M449.7 458.1h0M432.6 466.0h0M439.1 446.3h0M444.3 450.8h0M459.3 446.6h0M461.9 457.5h0M441.2 449.4h0M431.2 455.8h0M450.4 450.5h0M450.6 447.0h0M436.7 449.1h0M459.6 447.0h0M433.1 439.0h0M454.9 453.7h0M448.4 445.7h0M458.1 453.0h0M449.5 450.1h0M436.2 450.2h0M452.6 452.5h0M418.6 445.2h0M437.7 456.5h0M453.1 449.0h0M428.2 451.7h0M433.3 452.9h0M440.2 444.7h0M430.4 452.0h0M441.3 459.9h0M449.0 457.8h0M443.2 449.1h0M417.9 447.6h0M431.3 445.3h0M434.2 450.2h0M437.4 448.3h0M447.6 446.1h0M427.9 458.7h0M432.8 436.2h0M461.3 445.0h0M435.0 452.6h0M436.4 452.4h0M434.8 443.1h0M435.7 446.3h0M442.5 442.6h0M451.2 449.2h0M443.2 456.3h0M456.5 459.7h0M441.6 451.1h0M452.9 456.1h0M427.4 445.5h0M435.6 444.9h0M445.5 457.4h0M448.5 451.2h0M456.3 452.0h0M432.5 439.6h0M450.0 451.0h0M434.1 459.2h0M442.1 452.4h0M438.5 446.3h0M439.7 452.3h0M442.8 451.1h0M442.7 446.4h0M441.5 459.5h0M442.8 459.5h0M450.5 457.8h0M435.8 452.1h0M430.4 447.4h0M442.9 453.9h0M447.8 454.1h0M447.5 452.8h0M456.6 453.0h0M449.2 464.4h0M446.3 449.8h0M445.8 450.7h0M447.9 452.8h0M434.8 451.3h0M431.7 453.4h0M455.0 446.3h0M443.5 451.5h0M433.3 456.8h0M433.7 456.0h0M439.6 455.0h0M449.5 454.4h0M441.9 446.6h0M448.5 448.4h0M443.3 449.9h0M439.4 448.9h0M460.4 448.3h0M447.6 452.6h0M453.4 448.6h0M422.8 454.7h0M443.0 458.6h0M435.9 451.2h0M417.3 459.0h0M435.1 456.8h0M434.4 447.4h0M448.7 455.2h0M438.4 446.9h0M443.7 453.0h0M445.9 448.7h0M432.6 459.5h0M458.4 445.7h0M413.9 453.3h0M442.9 450.6h0M452.8 457.4h0M423.1 449.1h0M422.3 459.2h0M437.0 459.1h0M441.5 450.2h0M436.6 449.1h0M455.1 449.8h0M449.8 451.6h0M425.9 454.6h0M452.0 445.4h0M429.7 455.8h0M444.7 446.8h0M450.2 453.8h0M431.3 454.2h0M433.2 456.9h0M441.4 448.7h0M439.5 446.8h0M440.3 454.9h0M444.6 449.7h0M453.0 460.7h0M438.5 454.2h0M441.6 458.3h0M424.0 452.9h0M444.3 451.8h0M444.9 452.8h0M444.5 450.2h0M440.9 452.1h0M451.3 450.2h0M434.5 446.8h0M464.8 456.9h0M428.1 457.2h0M452.1 447.8h0M445.0 457.4h0M423.1 456.8h0M429.7 452.7h0M423.5 446.7h0M437.3 453.3h0M450.5 457.1h0M457.6 450.3h0M424.8 459.5h0M428.8 456.1h0M448.5 455.7h0M433.7 453.3h0M440.9 440.6h0M438.2 455.6h0M442.5 453.8h0M454.7 448.7h0M445.0 462.4h0M421.3 451.1h0M427.3 452.3h0M445.5 463.9h0M440.8 447.7h0M444.3 447.6h0M447.4 456.9h0M428.1 446.7h0M450.7 444.8h0M437.0 445.5h0M446.8 461.7h0M456.4 454.6h0M420.1 445.7h0M445.3 441.2h0M459.4 451.8h0M434.2 451.1h0M444.4 454.1h0M450.6 459.9h0M440.5 447.2h0M439.2 451.8h0M434.9 454.4h0M431.0 456.3h0M424.7 441.6h0M429.9 443.5h0M459.1 438.1h0M446.3 452.3h0M442.6 450.4h0M446.5 443.8h0M446.6 451.4h0M430.9 465.0h0M444.0 462.3h0M442.7 450.6h0M451.6 448.4h0M449.6 441.8h0M433.3 449.8h0M439.3 447.7h0M443.4 447.3h0M429.3 453.4h0M420.2 443.4h0M430.6 449.8h0M422.8 465.0h0M434.9 451.4h0M440.4 452.7h0M445.3 445.8h0M421.3 455.2h0M447.6 454.3h0M448.0 450.9h0M461.7 449.5h0M449.8 458.2h0M426.5 453.0h0M424.7 454.6h0M434.7 445.9h0M436.3 442.3h0M437.8 451.9h0M435.9 453.9h0M441.6 453.8h0M431.7 448.4h0M440.4 451.4h0M435.1 446.8h0M427.9 458.7h0M457.1 447.5h0M458.1 447.7h0M443.1 455.0h0M447.9 445.6h0M433.2 453.7h0M433.7 451.3h0M418.3 450.4h0M438.6 451.9h0M425.2 449.7h0M424.5 445.0h0M457.8 451.8h0M438.7 436.8h0M436.4 455.9h0M466.6 452.5h0M441.1 454.7h0M423.4 448.8h0M435.1 455.7h0M442.0 449.1h0M446.1 456.2h0M438.5 456.3h0M445.3 449.5h0M424.1 442.6h0M464.9 456.0h0M452.0 454.0h0M445.4 447.6h0M433.3 452.3h0M440.0 459.4h0M427.4 449.5h0M438.1 450.3h0M440.1 457.8h0M444.1 453.5h0M440.1 454.3h0M437.9 454.4h0M445.2 452.2h0M443.3 443.8h0M437.0 457.5h0M438.8 449.7h0M454.8 443.6h0M457.4 451.2h0M439.1 442.1h0M443.6 447.3h0M424.0 462.4h0M454.8 450.0h0M431.3 457.6h0M450.9 453.2h0M434.7 453.0h0M439.6 450.9h0M436.3 453.6h0M411.8 449.4h0M450.5 449.2h0M444.3 449.4h0M437.2 456.5h0M427.6 439.9h0M412.7 448.9h0M426.5 446.1h0M452.3 446.6h0M442.8 446.4h0M445.3 450.1h0M450.5 445.5h0M442.1 452.4h0M428.4 458.9h0M422.9 453.5h0M435.7 452.5h0M455.6 453.0h0M445.6 446.5h0M449.2 454.2h0M434.8 461.4h0M430.6 458.0h0M434.6 453.5h0M438.0 453.9h0M466.7 455.6h0M442.2 465.7h0M421.0 456.1h0M441.5 452.3h0M462.8 455.1h0M445.3 447.5h0M432.3 449.8h0M447.0 459.8h0M462.0 459.5h0M432.9 454.0h0M434.2 447.9h0M431.5 440.3h0M452.4 459.4h0M453.3 454.2h0M439.9 460.9h0M442.4 448.8h0M437.8 454.5h0M449.5 447.1h0M430.8 458.7h0M448.0 452.2h0M436.9 463.6h0M435.1 456.7h0M439.9 455.7h0M420.7 464.3h0M437.0 450.1h0M423.8 454.9h0M445.5 449.1h0M438.3 454.4h0M464.7 446.3h0M447.7 457.2h0M438.8 460.7h0M446.7 453.0h0M424.2 445.6h0M447.4 451.8h0M428.8 442.8h0M431.4 456.4h0M437.5 452.6h0M436.1 454.6h0M443.3 446.1h0M457.2 453.3h0M439.9 443.8h0M446.3 453.2h0M456.2 456.1h0M460.1 444.0h0M447.2 450.2h0M431.0 461.6h0M444.0 450.9h0M449.7 448.5h0M435.6 444.9h0M435.9 448.1h0M442.0 448.7h0M443.8 457.2h0M440.8 462.5h0M444.7 450.0h0M445.5 459.0h0M432.2 447.3h0M453.8 448.4h0M447.7 453.9h0M448.8 451.0h0M430.1 454.2h0M445.1 458.9h0M446.3 460.9h0M422.1 452.3h0M443.3 450.1h0M449.3 452.5h0M443.5 451.7h0M436.8 457.1h0M458.2 450.0h0M442.7 454.5h0M446.2 460.2h0M453.4 448.5h0M435.6 455.1h0M441.7 455.4h0M449.9 451.4h0M459.8 454.0h0M451.5 451.5h0M442.7 448.5h0M428.7 445.2h0M439.8 448.5h0M437.5 456.6h0M443.6 446.1h0M436.4 454.1h0M449.0 449.7h0M438.2 465.4h0M426.7 449.9h0M430.9 452.1h0M438.5 454.5h0M442.4 455.9h0M439.6 453.8h0M431.6 447.8h0M449.8 452.1h0M445.7 450.7h0M429.9 453.4h0M443.2 444.5h0M445.5 452.5h0M441.0 450.8h0M442.3 455.7h0M436.1 464.9h0M436.9 458.2h0M439.9 452.7h0M432.0 452.7h0M419.8 460.9h0M436.4 440.1h0M433.7 455.4h0M428.3 451.7h0M439.7 448.1h0M448.5 453.2h0M441.9 457.7h0M442.0 440.9h0M439.3 458.0h0M454.6 456.8h0M440.3 443.5h0M434.4 444.0h0M454.0 449.0h0M451.9 457.1h0M449.4 448.9h0M429.6 452.9h0M458.2 456.6h0M440.1 440.9h0M445.1 450.6h0M435.4 458.9h0M445.1 447.2h0M433.3 462.0h0M444.9 444.4h0M440.6 447.1h0M453.5 453.8h0M451.7 452.5h0M466.5 447.7h0M441.8 454.5h0M442.4 452.6h0M444.3 455.3h0M439.9 452.6h0M435.9 455.7h0M442.3 447.5h0M442.7 455.0h0M447.8 458.0h0M454.9 450.8h0M452.4 459.4h0M432.1 452.7h0M435.0 454.8h0M431.3 452.2h0M426.4 459.4h0M421.8 462.6h0M459.6 450.6h0M439.9 453.9h0M448.0 461.0h0M440.8 457.2h0M417.2 450.9h0M456.7 455.3h0M425.5 452.9h0M431.4 463.6h0M447.1 462.0h0M439.4 470.5h0M454.4 453.3h0M451.8 444.1h0M432.3 447.5h0M446.0 450.0h0M452.7 441.4h0M437.5 449.9h0M429.2 458.9h0M449.0 451.7h0M429.7 453.1h0M448.1 464.2h0M449.9 449.8h0M450.0 441.0h0M439.1 448.3h0M451.1 451.5h0M450.8 454.7h0M438.6 442.3h0M446.0 455.3h0M440.3 458.6h0M438.9 450.2h0M444.1 451.2h0M433.6 450.9h0M436.1 452.1h0M435.4 446.9h0M434.5 456.1h0M438.6 459.6h0M433.4 455.0h0M445.7 456.0h0M451.1 456.4h0M460.7 452.8h0M457.1 444.1h0M433.0 452.3h0M448.2 444.3h0M444.5 457.1h0M443.9 456.9h0M440.1 454.9h0M459.5 452.5h0M448.5 453.7h0M448.1 455.3h0M427.5 453.6h0M443.0 445.9h0M446.9 446.9h0M449.4 455.3h0M446.3 459.6h0M439.3 450.1h0M454.6 456.4h0M439.0 453.2h0M451.1 461.5h0M445.2 449.8h0M432.4 453.5h0M413.8 458.9h0M436.0 443.3h0M446.6 451.3h0M429.1 452.6h0M428.3 454.6h0M448.2 451.3h0M450.2 444.3h0M419.4 444.5h0M456.3 450.5h0M449.8 443.9h0M429.7 444.7h0M443.0 455.3h0M426.1 452.5h0M453.9 443.8h0M436.6 449.5h0M429.3 444.9h0M446.7 451.7h0M447.8 450.7h0M449.2 447.3h0M435.5 451.2h0M420.1 454.4h0M434.8 448.5h0M448.6 455.8h0M440.2 443.2h0M445.3 448.8h0M440.9 455.0h0M427.1 456.4h0M433.6 451.8h0M444.2 454.2h0M436.3 458.0h0M453.6 447.6h0M434.0 451.8h0M419.8 446.2h0M448.5 444.6h0M442.4 452.7h0M429.0 462.0h0M436.3 459.6h0M448.6 454.8h0M446.9 454.5h0M437.4 458.9h0M429.2 461.0h0M443.7 451.8h0M442.0 446.7h0M441.4 444.8h0M431.9 461.7h0M439.6 448.8h0M447.3 447.3h0M448.3 454.7h0M431.1 457.0h0M457.8 449.4h0M461.2 450.2h0M441.4 466.9h0M446.3 453.9h0M446.7 459.6h0M453.1 446.7h0M442.3 464.4h0M452.8 461.4h0M426.9 459.2h0M428.5 447.4h0M439.6 453.7h0M444.3 451.6h0M424.4 459.9h0M460.8 452.1h0M442.2 459.1h0M428.9 447.5h0M444.8 450.9h0M420.6 448.5h0M444.6 452.7h0M449.2 445.2h0M432.4 459.1h0M463.5 457.0h0M436.2 448.6h0M441.7 454.6h0M439.8 445.3h0M431.8 449.2h0M447.7 455.3h0M438.8 452.3h0M441.4 455.4h0M435.6 445.5h0M446.6 452.8h0M446.7 455.4h0M434.9 446.8h0M432.2 450.7h0M457.2 448.1h0M449.1 453.0h0M442.7 453.9h0M439.3 454.3h0M449.5 444.3h0M434.3 455.6h0M431.3 447.3h0M444.5 451.6h0M455.8 458.5h0M450.3 455.7h0M438.3 446.4h0M444.3 456.8h0M431.3 450.9h0M436.9 455.6h0M442.9 454.1h0M450.3 456.0h0M463.3 449.6h0M446.4 445.3h0M442.2 449.6h0M432.5 448.7h0M442.0 457.7h0M439.8 453.2h0M452.1 443.8h0M448.2 454.3h0M431.6 446.4h0M433.4 447.2h0M443.5 447.1h0M426.1 451.5h0M425.7 445.0h0M436.4 455.4h0M437.3 452.2h0M440.9 453.2h0M443.2 454.3h0M445.0 449.8h0M423.4 449.5h0M442.0 461.1h0M446.8 459.7h0M449.6 454.0h0M447.8 448.4h0M449.4 454.1h0M432.1 451.2h0M446.7 456.2h0M459.9 446.1h0M427.5 445.3h0M442.7 453.8h0M437.5 451.2h0M438.1 449.7h0M434.9 448.5h0M431.5 450.8h0M445.4 442.4h0M447.9 446.9h0M434.9 452.5h0M441.1 449.8h0M442.9 452.5h0M444.1 458.5h0M439.9 452.6h0M453.8 451.1h0M431.5 442.8h0M445.3 454.3h0M435.5 448.8h0M447.8 437.4h0M450.7 453.8h0M416.6 446.6h0M445.9 451.9h0M442.5 456.1h0M434.7 454.5h0M444.1 457.2h0M443.7 454.7h0M432.6 447.7h0M438.3 450.4h0M430.0 453.7h0M438.4 449.3h0M429.5 454.4h0M457.4 451.6h0M441.4 455.4h0M434.2 458.3h0M432.7 453.2h0M439.8 449.4h0M447.7 457.1h0M434.0 451.4h0M442.7 457.0h0M456.7 459.7h0M438.7 448.7h0M449.4 455.9h0M424.1 459.2h0M431.5 451.6h0M429.8 446.6h0M442.8 452.6h0M438.1 460.2h0M440.6 443.8h0M449.4 453.3h0M429.8 463.3h0M432.9 457.0h0M460.7 457.7h0M436.4 448.9h0M441.8 460.4h0M425.8 449.5h0M435.0 453.0h0M421.5 460.2h0M435.8 455.0h0M446.7 453.5h0M436.2 455.5h0M454.0 453.1h0M421.5 451.7h0M445.8 456.6h0M434.2 458.6h0M446.5 452.6h0M433.5 447.7h0M453.0 456.1h0M447.1 456.3h0M444.5 448.2h0M461.1 455.0h0M438.8 456.3h0M424.4 450.0h0M432.4 445.1h0M416.4 449.6h0M433.1 452.5h0M451.6 445.1h0M442.8 449.8h0M426.8 446.0h0M436.5 459.6h0M432.1 456.8h0M430.4 445.1h0M419.9 451.0h0M435.3 452.7h0M455.2 454.1h0M450.5 450.8h0M446.1 453.8h0M447.3 453.8h0M439.0 454.0h0M436.5 444.1h0M449.7 446.9h0M434.0 456.5h0M430.8 449.1h0M430.4 456.3h0M417.9 446.7h0M438.0 442.5h0M459.2 443.9h0M447.8 461.0h0M431.4 449.2h0M436.4 452.3h0M446.1 447.0h0M432.4 446.3h0M439.1 449.0h0M458.3 454.8h0M438.7 453.3h0M437.3 455.7h0M441.1 448.9h0M432.4 455.9h0M436.4 450.1h0M434.3 447.0h0M434.4 453.1h0M440.1 445.9h0M437.5 450.5h0M439.1 461.0h0M429.3 453.3h0M448.9 451.0h0M450.1 455.0h0M451.1 452.0h0M439.1 450.0h0M458.1 452.2h0M442.5 447.1h0M448.5 453.8h0M423.6 455.6h0M455.4 455.1h0M440.6 451.4h0M439.9 442.5h0M434.8 456.6h0M450.5 452.6h0M442.3 455.0h0M444.0 454.4h0M443.8 458.4h0M425.1 466.5h0M439.2 444.1h0M446.2 455.8h0M429.8 455.8h0M417.2 454.3h0M448.7 450.8h0M447.9 451.8h0M447.4 463.8h0M428.9 451.3h0M436.6 450.3h0M420.5 452.3h0M455.2 452.7h0M437.8 459.6h0M455.3 447.4h0M416.3 450.8h0M425.4 444.4h0M445.1 455.6h0M445.4 455.8h0M452.1 454.1h0M428.8 456.0h0M434.9 456.4h0M457.1 456.6h0M428.4 458.5h0M449.0 441.8h0M459.3 464.3h0M451.5 456.3h0M442.1 437.5h0M432.7 445.3h0M443.6 453.1h0M440.4 450.5h0M446.5 450.3h0M433.6 457.6h0M442.6 453.4h0M422.0 450.4h0M449.5 443.3h0M440.9 454.3h0M415.2 449.9h0M453.7 447.3h0M433.8 455.8h0M442.5 459.6h0M437.9 449.1h0M444.3 453.8h0M441.0 448.8h0M446.7 444.3h0M433.4 459.5h0M444.5 449.6h0M447.3 462.4h0M438.2 455.6h0M431.6 453.2h0M425.0 449.0h0M445.4 442.9h0M422.1 454.5h0M447.5 445.7h0M444.7 456.4h0M449.2 457.8h0M449.8 450.6h0M424.7 457.3h0M437.0 454.2h0M444.0 465.9h0M419.3 452.7h0M442.7 457.1h0M433.3 450.8h0M429.2 447.9h0M453.2 465.1h0M432.0 457.2h0M440.7 448.4h0M439.2 450.0h0M428.0 449.4h0M443.0 457.9h0M445.5 451.3h0M437.1 447.5h0M441.3 448.0h0M445.3 460.6h0M442.7 454.7h0M444.6 455.4h0M416.6 454.8h0M443.0 451.2h0M437.6 458.3h0M442.7 453.5h0M461.2 457.3h0M458.3 456.9h0M443.5 452.3h0M459.8 453.3h0M447.5 446.9h0M448.9 452.8h0M429.5 456.1h0M421.2 461.3h0M448.8 455.6h0M441.6 450.3h0M451.8 462.0h0M452.4 448.1h0M454.1 452.3h0M437.7 441.8h0M449.1 448.1h0M434.6 449.1h0M448.5 447.0h0M429.3 452.7h0M442.7 461.0h0M435.5 461.1h0M450.2 452.0h0M449.9 453.9h0M450.9 451.8h0M430.0 455.3h0M448.6 455.9h0M436.5 454.4h0M432.7 453.8h0M445.6 452.4h0M444.9 455.2h0M412.4 442.9h0M430.3 439.6h0M418.8 455.0h0M442.9 447.9h0M451.3 454.1h0M454.0 449.6h0M433.1 461.5h0M446.8 452.1h0M442.8 451.5h0M442.0 453.7h0M424.1 446.1h0M456.0 439.7h0M432.3 455.2h0M449.2 449.8h0M456.5 456.6h0M456.0 442.3h0M447.9 456.1h0M446.6 457.5h0M447.1 444.9h0M427.5 452.8h0M456.3 451.3h0M432.2 463.0h0M435.0 453.3h0M453.4 448.3h0M468.6 454.2h0M448.7 444.4h0M440.8 460.9h0M441.3 451.2h0M443.4 453.3h0M437.7 444.3h0M439.3 448.6h0M437.0 454.8h0M440.1 450.4h0M442.0 450.1h0M442.8 452.8h0M441.1 453.0h0M441.0 449.7h0M447.2 448.8h0M441.8 440.4h0M435.2 464.2h0M432.3 445.0h0M444.2 449.6h0M436.1 455.6h0M429.3 444.8h0M446.3 459.7h0M447.9 465.6h0M452.6 449.3h0M420.2 454.4h0M432.8 448.3h0M452.4 447.4h0M421.7 437.4h0M445.3 435.6h0M432.8 459.3h0M448.5 443.3h0M404.7 447.8h0M463.3 439.8h0M444.7 443.0h0M439.4 455.8h0M439.1 467.3h0M441.4 448.8h0M430.8 449.0h0M438.1 456.4h0M443.7 444.8h0M434.8 457.8h0M437.6 456.2h0M419.0 447.9h0M444.6 439.7h0M408.8 450.7h0M457.5 463.8h0M438.3 456.3h0M449.5 455.7h0M410.4 445.7h0M448.0 454.1h0M436.1 451.3h0M442.3 453.2h0M418.4 458.1h0M404.5 453.4h0M436.1 438.0h0M408.3 447.3h0M436.6 451.0h0M447.6 442.7h0M428.8 440.8h0M453.0 455.0h0M450.5 455.4h0M442.7 447.6h0M455.0 446.6h0M428.8 464.1h0M436.2 451.9h0M453.2 446.4h0M405.7 450.2h0M439.5 445.9h0M443.6 449.4h0M440.6 453.5h0M429.3 448.7h0M459.5 452.4h0M441.1 456.0h0M447.4 457.5h0M448.9 454.3h0M487.8 451.4h0M425.6 456.1h0M447.5 453.0h0M439.1 451.9h0M429.4 451.8h0M434.4 443.1h0M410.3 454.0h0M422.9 447.8h0M452.8 458.9h0M411.6 447.9h0M436.6 447.6h0M442.3 449.3h0M469.8 445.4h0M434.1 456.6h0M429.0 453.9h0M443.7 454.9h0M454.4 451.1h0M444.8 454.0h0M448.7 453.7h0M432.4 444.8h0M461.6 449.6h0M468.4 451.2h0M428.7 449.7h0M452.8 439.5h0M429.4 463.9h0M437.6 458.5h0M426.2 453.5h0M434.3 440.3h0M421.2 449.5h0M414.8 458.7h0M423.6 453.1h0M451.6 449.2h0M440.8 452.5h0M414.4 450.8h0M443.0 455.5h0M456.5 451.2h0M444.8 463.3h0M430.6 449.0h0M415.8 445.2h0M442.7 440.8h0M476.5 449.7h0M430.3 462.7h0M434.6 462.0h0M474.3 448.1h0M442.0 460.0h0M454.7 451.9h0M440.7 461.1h0M438.3 452.9h0M441.8 461.1h0M446.2 446.5h0M442.0 461.8h0M454.6 449.2h0M438.3 458.8h0M453.4 453.7h0M440.4 439.2h0M441.4 455.1h0M416.2 440.2h0M423.2 446.3h0M430.4 443.9h0M432.7 449.9h0M439.2 446.5h0M449.6 460.0h0M428.9 452.7h0M465.7 451.0h0M445.2 450.2h0M409.1 447.8h0M445.9 467.5h0M419.5 454.9h0M443.4 445.3h0M442.2 452.9h0M438.6 458.3h0M457.4 459.8h0M446.9 455.4h0M418.0 450.4h0M448.8 449.9h0M483.6 458.0h0M457.4 446.6h0M461.8 444.7h0M444.2 452.5h0M425.9 444.7h0M428.3 451.1h0M436.4 450.6h0M434.4 461.0h0M456.3 446.7h0M425.6 453.1h0M462.7 442.4h0M432.2 450.7h0M448.4 452.2h0M440.1 446.7h0M435.1 456.7h0M440.4 452.0h0M436.0 456.1h0M481.1 453.7h0M444.1 441.8h0M447.0 455.7h0M467.1 458.0h0M412.8 463.9h0M463.1 449.7h0M421.5 444.6h0M424.5 468.8h0M444.0 449.1h0M442.1 466.2h0M450.6 445.4h0M443.7 449.8h0M438.0 447.3h0M447.6 452.2h0M456.7 457.5h0M432.6 430.6h0M444.7 444.5h0M461.1 456.2h0M428.2 446.7h0M417.2 435.2h0M440.6 440.0h0M452.2 449.7h0M442.8 445.5h0M464.9 448.7h0M463.6 450.8h0M437.6 450.7h0M435.5 439.7h0M431.5 445.6h0M452.0 457.5h0M449.2 447.2h0M449.9 441.5h0M427.9 458.6h0M449.6 451.7h0M429.3 456.5h0M430.8 453.3h0M428.7 452.4h0M465.8 451.9h0M438.2 462.1h0M401.9 452.2h0M432.4 449.8h0M401.1 464.2h0M444.7 455.1h0M436.0 440.9h0M450.9 435.6h0M440.6 450.2h0M444.3 452.5h0M449.2 437.6h0M436.8 454.5h0M423.7 458.6h0M441.0 448.2h0M420.0 454.8h0M429.8 455.6h0M451.6 449.9h0M413.3 453.5h0M445.0 446.6h0M438.7 449.7h0M439.3 433.6h0M452.9 435.3h0M421.4 448.9h0M405.9 445.3h0M431.3 460.7h0M411.9 454.0h0M457.8 453.5h0M442.1 451.0h0M425.7 450.2h0M426.5 460.0h0M439.5 441.6h0M446.0 461.5h0M438.3 447.4h0M442.2 459.8h0M447.7 452.7h0M430.4 440.7h0M433.4 442.0h0M433.6 459.7h0M415.1 457.1h0M438.9 461.4h0M443.0 452.7h0M431.7 450.8h0M444.6 448.4h0M458.0 452.2h0M443.6 453.8h0M429.4 441.7h0M440.2 452.0h0M419.7 459.5h0M442.0 454.0h0M467.2 456.4h0M440.9 460.8h0M454.9 443.1h0M443.1 465.2h0M439.7 454.8h0M425.4 452.0h0M433.1 457.4h0M422.9 448.5h0M441.5 450.0h0M436.2 451.8h0M456.3 462.6h0M440.1 450.9h0M437.9 461.6h0M448.6 451.8h0M441.3 458.9h0M443.0 440.8h0M445.9 440.8h0M463.1 461.1h0M456.5 449.9h0M433.9 457.5h0M460.7 451.8h0M454.2 452.1h0M436.2 448.2h0M416.2 440.8h0M449.5 455.4h0M421.8 457.5h0M446.5 447.9h0M440.3 446.5h0M468.0 447.2h0M435.6 471.0h0M428.1 442.7h0M455.2 447.0h0M433.9 450.4h0M433.8 461.3h0M450.0 451.3h0M432.6 455.1h0M417.5 457.3h0M429.0 457.1h0M428.4 447.5h0M437.8 453.2h0M440.3 460.9h0M442.3 455.1h0M440.9 456.6h0M426.1 448.9h0M420.2 457.1h0M480.7 449.0h0M435.3 451.0h0M424.8 454.3h0M424.9 457.9h0M456.6 452.7h0M411.0 454.5h0M434.8 448.6h0M431.3 451.7h0M430.5 455.7h0M444.9 444.1h0M431.1 454.3h0M459.4 460.3h0M432.1 466.4h0M444.2 445.3h0M450.4 460.8h0M438.4 456.6h0M410.1 450.7h0M458.3 452.1h0M457.0 440.9h0M452.8 409.1h0M439.6 425.2h0M443.8 420.9h0M436.0 426.5h0M445.0 417.1h0M448.7 421.5h0M441.7 432.0h0M444.7 441.4h0M439.7 414.1h0M451.5 417.3h0M442.4 429.2h0M443.5 413.1h0M445.9 407.1h0M435.5 425.0h0M447.6 411.8h0M445.3 419.4h0M441.3 415.0h0M446.8 423.3h0M461.3 412.6h0M457.5 421.1h0M444.2 417.3h0M435.5 422.2h0M453.7 417.2h0M449.8 424.8h0M455.1 426.7h0M458.3 438.1h0M449.7 406.7h0M444.3 427.8h0M454.2 434.3h0M453.7 412.9h0M433.3 430.1h0M428.6 428.3h0M447.6 424.1h0M443.6 411.5h0M434.4 422.5h0M440.1 421.7h0M438.0 429.9h0M451.1 425.9h0M427.2 433.0h0M451.4 418.1h0M441.9 425.2h0M450.6 421.1h0M444.3 425.1h0M443.3 417.6h0M455.4 427.9h0M443.0 422.4h0M448.5 421.0h0M441.0 411.3h0M448.1 418.5h0M444.4 420.9h0M442.5 413.4h0M462.9 442.5h0M453.5 426.2h0M446.6 432.8h0M446.8 418.1h0" stroke="#000" stroke-width="1.45" stroke-linecap="square" fill="none"/>
<text x="109.5" y="451.8" font-size="15" font-weight="bold" fill="#000" stroke="#000" stroke-width="0.3">0.7</text>
<text x="228.8" y="451.7" font-size="15" font-weight="bold" fill="#000" stroke="#000" stroke-width="0.3">0.6</text>
<text x="354.3" y="444.3" font-size="15" font-weight="bold" fill="#000" stroke="#000" stroke-width="0.3">97.6</text>
<text x="470.5" y="444.7" font-size="15" font-weight="bold" fill="#000" stroke="#000" stroke-width="0.3">97.3</text>
<line x1="146.0" y1="517.5" x2="146.0" y2="628.0" stroke="#333" stroke-width="1.6"/>
<line x1="40.0" y1="517.5" x2="40.0" y2="627.0" stroke="#bbb" stroke-width="1.0" stroke-dasharray="1 2"/>
<line x1="45.0" y1="626.0" x2="141.0" y2="626.0" stroke="#999" stroke-width="1.1" stroke-dasharray="1.2 2.4"/>
<text x="46.5" y="637.0" font-size="5.5" text-anchor="middle" fill="#777">10</text>
<text x="49.7" y="633.3" font-size="4.5" fill="#888">0</text>
<text x="68.0" y="637.0" font-size="5.5" text-anchor="middle" fill="#777">10</text>
<text x="71.2" y="633.3" font-size="4.5" fill="#888">1</text>
<text x="93.0" y="637.0" font-size="5.5" text-anchor="middle" fill="#777">10</text>
<text x="96.2" y="633.3" font-size="4.5" fill="#888">2</text>
<text x="118.5" y="637.0" font-size="5.5" text-anchor="middle" fill="#777">10</text>
<text x="121.7" y="633.3" font-size="4.5" fill="#888">3</text>
<text x="144.0" y="637.0" font-size="5.5" text-anchor="middle" fill="#777">10</text>
<text x="147.2" y="633.3" font-size="4.5" fill="#888">4</text>
<line x1="87.7" y1="517.5" x2="87.7" y2="627.0" stroke="#666" stroke-width="1.1"/>
<line x1="40.0" y1="593.8" x2="146.0" y2="593.8" stroke="#666" stroke-width="1.2"/>
<line x1="266.5" y1="517.5" x2="266.5" y2="628.0" stroke="#333" stroke-width="1.6"/>
<line x1="159.4" y1="517.5" x2="159.4" y2="628.0" stroke="#444" stroke-width="1.4"/>
<line x1="164.4" y1="626.0" x2="261.5" y2="626.0" stroke="#999" stroke-width="1.1" stroke-dasharray="1.2 2.4"/>
<text x="165.9" y="637.0" font-size="5.5" text-anchor="middle" fill="#777">10</text>
<text x="169.1" y="633.3" font-size="4.5" fill="#888">0</text>
<text x="187.4" y="637.0" font-size="5.5" text-anchor="middle" fill="#777">10</text>
<text x="190.6" y="633.3" font-size="4.5" fill="#888">1</text>
<text x="212.4" y="637.0" font-size="5.5" text-anchor="middle" fill="#777">10</text>
<text x="215.6" y="633.3" font-size="4.5" fill="#888">2</text>
<text x="237.9" y="637.0" font-size="5.5" text-anchor="middle" fill="#777">10</text>
<text x="241.1" y="633.3" font-size="4.5" fill="#888">3</text>
<text x="263.4" y="637.0" font-size="5.5" text-anchor="middle" fill="#777">10</text>
<text x="266.6" y="633.3" font-size="4.5" fill="#888">4</text>
<line x1="159.4" y1="594.2" x2="266.5" y2="594.2" stroke="#666" stroke-width="1.2"/>
<line x1="385.7" y1="517.5" x2="385.7" y2="628.0" stroke="#333" stroke-width="1.6"/>
<line x1="278.0" y1="517.5" x2="278.0" y2="628.0" stroke="#444" stroke-width="1.4"/>
<line x1="283.0" y1="626.0" x2="380.7" y2="626.0" stroke="#999" stroke-width="1.1" stroke-dasharray="1.2 2.4"/>
<text x="284.5" y="637.0" font-size="5.5" text-anchor="middle" fill="#777">10</text>
<text x="287.7" y="633.3" font-size="4.5" fill="#888">0</text>
<text x="306.0" y="637.0" font-size="5.5" text-anchor="middle" fill="#777">10</text>
<text x="309.2" y="633.3" font-size="4.5" fill="#888">1</text>
<text x="331.0" y="637.0" font-size="5.5" text-anchor="middle" fill="#777">10</text>
<text x="334.2" y="633.3" font-size="4.5" fill="#888">2</text>
<text x="356.5" y="637.0" font-size="5.5" text-anchor="middle" fill="#777">10</text>
<text x="359.7" y="633.3" font-size="4.5" fill="#888">3</text>
<text x="382.0" y="637.0" font-size="5.5" text-anchor="middle" fill="#777">10</text>
<text x="385.2" y="633.3" font-size="4.5" fill="#888">4</text>
<line x1="325.5" y1="517.5" x2="325.5" y2="627.0" stroke="#666" stroke-width="1.1"/>
<line x1="278.0" y1="596.0" x2="385.7" y2="596.0" stroke="#666" stroke-width="1.2"/>
<line x1="505.2" y1="517.5" x2="505.2" y2="628.0" stroke="#333" stroke-width="1.6"/>
<line x1="397.5" y1="517.5" x2="397.5" y2="627.0" stroke="#bbb" stroke-width="1.0" stroke-dasharray="1 2"/>
<line x1="402.5" y1="626.0" x2="500.2" y2="626.0" stroke="#999" stroke-width="1.1" stroke-dasharray="1.2 2.4"/>
<text x="404.0" y="637.0" font-size="5.5" text-anchor="middle" fill="#777">10</text>
<text x="407.2" y="633.3" font-size="4.5" fill="#888">0</text>
<text x="425.5" y="637.0" font-size="5.5" text-anchor="middle" fill="#777">10</text>
<text x="428.7" y="633.3" font-size="4.5" fill="#888">1</text>
<text x="450.5" y="637.0" font-size="5.5" text-anchor="middle" fill="#777">10</text>
<text x="453.7" y="633.3" font-size="4.5" fill="#888">2</text>
<text x="476.0" y="637.0" font-size="5.5" text-anchor="middle" fill="#777">10</text>
<text x="479.2" y="633.3" font-size="4.5" fill="#888">3</text>
<text x="501.5" y="637.0" font-size="5.5" text-anchor="middle" fill="#777">10</text>
<text x="504.7" y="633.3" font-size="4.5" fill="#888">4</text>
<line x1="397.5" y1="596.0" x2="505.2" y2="596.0" stroke="#666" stroke-width="1.2"/>
<line x1="30.1" y1="519.0" x2="30.1" y2="635.4" stroke="#000" stroke-width="3.0"/>
<path d="M25.1 520.0 L30.1 508.6 L35.1 520.0 Z" fill="#000"/>
<line x1="45.0" y1="638.8" x2="492.4" y2="638.8" stroke="#000" stroke-width="3.0"/>
<path d="M491.4 633.3 L504.6 638.8 L491.4 644.3 Z" fill="#000"/>
<text transform="translate(23.9 567.1) rotate(-90)" font-size="15.6" text-anchor="end" fill="#000" stroke="#000" stroke-width="0.3">TCR</text>
<text x="250.3" y="656.2" font-size="15.5" fill="#000" stroke="#000" stroke-width="0.3">TCR</text>
<path d="M72.4 575.6h0M69.8 584.4h0M66.8 571.4h0M72.2 575.8h0M68.9 569.2h0M76.1 580.9h0M76.9 565.8h0M70.7 570.6h0M80.8 579.7h0M61.6 567.2h0M65.7 574.3h0M63.0 580.5h0M60.5 575.6h0M73.1 573.7h0M76.5 578.3h0M62.3 567.7h0M65.0 563.7h0M60.7 568.4h0M71.2 572.3h0M68.6 577.3h0M81.2 576.6h0M72.9 570.2h0M63.6 577.8h0M66.3 580.0h0M62.6 586.0h0M69.3 572.5h0M69.5 570.4h0M66.1 571.5h0M75.5 581.5h0M74.4 569.9h0M58.4 577.6h0M64.1 572.9h0M73.6 572.9h0M64.8 576.6h0M68.4 581.5h0M61.8 575.7h0M74.6 583.8h0M71.0 565.2h0M59.2 569.9h0M63.2 582.3h0M73.8 574.7h0M68.5 568.5h0M66.9 579.1h0M70.5 571.1h0M80.1 572.9h0M70.3 585.2h0M68.1 582.6h0M73.0 578.3h0M77.2 575.2h0M67.2 563.4h0M80.4 579.7h0M77.9 571.4h0M64.4 576.2h0M68.8 579.3h0M78.1 589.1h0M81.3 571.1h0M63.5 576.2h0M65.1 575.6h0M70.3 578.2h0M68.4 572.2h0M68.2 575.5h0M76.0 563.7h0M75.1 580.5h0M61.9 576.9h0M69.2 574.5h0M81.5 581.0h0M65.4 584.1h0M62.2 576.1h0M79.9 581.9h0M58.9 576.3h0M67.5 578.3h0M80.0 574.2h0M76.4 574.1h0M69.6 581.2h0M66.2 568.9h0M61.2 575.9h0M75.5 581.0h0M67.6 576.1h0M65.2 575.4h0M68.2 570.3h0M78.3 576.9h0M66.0 591.1h0M82.0 571.0h0M72.4 576.2h0M61.5 575.5h0M67.0 581.6h0M64.9 585.5h0M77.5 575.6h0M72.6 582.3h0M80.7 580.1h0M76.2 588.7h0M70.2 581.1h0M71.6 573.7h0M74.4 571.2h0M64.5 576.8h0M74.4 579.0h0M64.7 576.3h0M61.0 579.3h0M64.0 567.5h0M67.8 571.6h0M78.2 574.5h0M60.2 575.8h0M57.6 583.3h0M65.0 577.1h0M60.2 581.7h0M74.4 579.1h0M59.8 579.3h0M71.5 576.8h0M57.4 580.1h0M71.0 584.7h0M74.1 572.6h0M72.8 575.2h0M84.7 583.0h0M83.2 578.6h0M81.7 569.3h0M66.9 577.6h0M68.5 575.2h0M74.8 571.6h0M60.3 572.1h0M67.1 580.1h0M68.5 577.4h0M70.4 556.8h0M57.4 563.8h0M69.2 576.0h0M69.0 580.7h0M58.7 582.0h0M82.3 572.4h0M82.5 563.9h0M74.9 570.7h0M74.2 576.3h0M61.9 583.5h0M75.8 580.6h0M75.9 580.8h0M69.6 580.7h0M61.3 570.5h0M85.2 583.2h0M72.6 575.6h0M67.6 571.2h0M70.6 569.5h0M55.4 579.4h0M74.0 578.9h0M67.5 580.9h0M67.7 573.0h0M59.3 577.9h0M67.1 579.2h0M77.3 571.3h0M70.6 578.4h0M66.0 594.6h0M67.0 572.7h0M69.9 578.1h0M66.4 577.8h0M72.9 581.1h0M65.8 587.4h0M58.9 573.1h0M68.3 571.4h0M82.3 586.4h0M85.7 574.0h0M66.3 575.6h0M73.2 573.5h0M71.4 580.0h0M77.6 579.8h0M68.8 582.6h0M49.3 569.6h0M72.5 578.3h0M69.5 575.0h0M76.5 574.6h0M63.5 583.4h0M67.2 585.2h0M63.8 569.1h0M67.3 576.6h0M69.5 576.6h0M67.2 569.8h0M66.8 575.5h0M65.0 581.8h0M71.7 569.5h0M79.7 574.3h0M72.9 565.4h0M59.9 569.3h0M75.7 577.3h0M72.7 580.2h0M62.8 582.1h0M73.7 579.4h0M68.3 575.3h0M55.8 575.5h0M69.7 573.8h0M55.2 576.6h0M69.5 576.2h0M68.7 574.7h0M67.5 575.2h0M67.5 576.6h0M71.8 584.8h0M71.0 566.0h0M65.0 580.5h0M66.6 578.0h0M65.2 585.7h0M75.8 569.9h0M61.7 574.4h0M68.6 568.4h0M62.5 577.4h0M82.8 575.7h0M75.7 575.5h0M62.5 575.1h0M74.5 574.9h0M76.2 575.3h0M56.9 573.1h0M70.5 583.3h0M72.0 586.2h0M68.9 582.4h0M62.9 578.7h0M62.9 579.4h0M72.5 577.0h0M71.9 579.0h0M69.6 576.3h0M64.9 580.3h0M57.0 569.0h0M60.5 569.9h0M70.7 572.3h0M76.9 579.9h0M65.3 571.2h0M78.0 575.2h0M65.0 581.7h0M75.2 579.7h0M82.2 578.7h0M72.2 576.0h0M69.2 576.1h0M70.3 574.1h0M79.5 585.2h0M76.6 570.8h0M62.5 577.3h0M65.3 568.4h0M71.3 576.6h0M74.1 575.7h0M71.9 570.8h0M76.9 578.8h0M80.2 565.9h0M69.8 573.5h0M70.9 565.9h0M77.2 579.4h0M65.3 578.5h0M74.0 581.8h0M64.2 582.8h0M68.2 572.2h0M59.1 578.6h0M69.8 577.1h0M65.5 575.1h0M62.3 580.1h0M79.9 573.0h0M64.7 572.6h0M73.4 577.1h0M76.6 571.4h0M73.8 571.3h0M71.4 578.1h0M79.3 579.7h0M70.1 573.9h0M77.4 579.2h0M64.5 571.3h0M60.3 572.5h0M73.5 574.8h0M73.4 577.8h0M97.3 577.0h0M78.3 575.4h0M67.8 572.0h0M66.5 571.3h0M65.7 584.7h0M60.1 573.7h0M60.3 573.7h0M55.2 563.7h0M68.1 574.3h0M69.0 570.1h0M61.5 573.4h0M69.8 573.5h0M66.5 578.0h0M74.5 569.5h0M72.2 572.8h0M75.8 573.6h0M75.2 577.4h0M53.9 576.4h0M74.8 569.0h0M71.9 569.8h0M77.8 579.2h0M84.8 577.6h0M74.9 568.1h0M62.1 577.3h0M69.0 575.2h0M76.7 573.8h0M73.9 573.3h0M67.1 562.6h0M76.8 573.7h0M79.6 579.2h0M70.8 579.7h0M74.8 572.4h0M77.4 582.8h0M78.6 577.7h0M71.0 578.0h0M64.8 585.0h0M59.8 568.7h0M79.8 567.7h0M74.9 572.1h0M64.7 565.7h0M64.5 577.0h0M55.5 571.0h0M68.6 585.3h0M66.4 572.6h0M74.2 581.9h0M74.0 579.1h0M77.2 576.3h0M75.7 573.2h0M61.9 575.2h0M75.3 578.8h0M76.0 576.2h0M59.8 572.9h0M75.5 577.6h0M65.7 579.5h0M69.2 574.9h0M58.8 574.3h0M66.1 571.2h0M69.0 570.6h0M71.7 581.5h0M81.1 581.6h0M73.4 575.1h0M79.7 578.0h0M72.2 565.8h0M61.8 579.8h0M69.9 570.8h0M83.6 576.9h0M58.7 574.1h0M68.3 575.8h0M78.2 573.4h0M54.0 577.2h0M68.8 570.4h0M74.8 568.1h0M71.3 580.0h0M65.8 582.7h0M76.8 575.1h0M75.1 582.0h0M67.3 573.5h0M80.2 580.7h0M61.4 573.4h0M63.6 571.2h0M69.7 577.0h0M68.0 576.1h0M71.0 575.5h0M63.5 579.4h0M73.5 579.8h0M65.1 573.8h0M76.9 580.0h0M81.1 568.0h0M64.1 569.8h0M75.4 581.7h0M78.0 579.6h0M56.6 572.7h0M80.8 574.5h0M60.1 579.9h0M64.8 577.3h0M70.2 568.6h0M74.9 568.3h0M73.2 584.2h0M74.1 578.1h0M73.9 582.0h0M67.5 580.7h0M66.6 577.3h0M80.8 573.0h0M61.0 577.9h0M64.2 570.8h0M77.7 578.7h0M66.6 575.8h0M70.3 570.9h0M64.8 568.5h0M72.5 572.6h0M62.9 571.2h0M62.9 571.9h0M69.3 577.6h0M60.9 585.6h0M64.8 571.5h0M59.5 587.2h0M71.0 581.0h0M66.8 574.4h0M70.2 578.8h0M81.0 566.1h0M67.9 572.6h0M78.6 576.8h0M77.2 562.4h0M75.1 574.2h0M74.5 566.7h0M61.8 572.5h0M71.2 580.1h0M78.9 568.8h0M56.8 567.5h0M69.3 564.8h0M67.4 590.0h0M73.9 574.8h0M75.7 570.2h0M75.4 579.9h0M73.3 565.8h0M60.5 578.5h0M61.9 575.0h0M71.1 572.0h0M70.4 573.3h0M72.3 572.2h0M79.2 577.5h0M69.2 574.5h0M80.3 578.6h0M62.6 582.1h0M58.6 573.6h0M78.2 567.6h0M84.8 576.2h0M56.0 578.8h0M73.0 585.0h0M67.1 579.9h0M82.5 577.8h0M69.8 575.0h0M67.1 576.8h0M77.3 581.0h0M69.2 578.8h0M72.1 570.9h0M69.2 579.2h0M74.7 565.7h0M69.5 571.9h0M72.2 579.5h0M75.4 574.0h0M62.3 585.6h0M67.6 572.2h0M71.7 571.6h0M69.9 572.2h0M75.8 579.8h0M69.7 576.4h0M80.4 567.7h0M70.8 586.2h0M69.2 574.4h0M63.7 573.3h0M60.4 571.5h0M70.9 574.1h0M63.7 576.7h0M72.2 571.4h0M74.2 571.2h0M71.9 579.8h0M64.0 578.1h0M61.8 571.7h0M72.1 571.1h0M72.9 584.9h0M80.4 574.6h0M72.0 572.6h0M75.1 577.3h0M63.4 571.8h0M66.9 568.5h0M64.5 577.8h0M67.2 579.6h0M59.4 579.6h0M75.2 575.6h0M70.7 569.6h0M71.3 573.2h0M87.6 576.5h0M76.1 567.2h0M64.7 567.8h0M82.6 574.9h0M72.7 568.7h0M67.8 578.3h0M84.9 576.2h0M85.9 572.6h0M66.7 580.0h0M75.8 581.6h0M80.1 576.2h0M72.6 579.1h0M80.0 574.7h0M71.1 584.8h0M64.3 569.4h0M73.3 586.1h0M69.4 581.7h0M65.4 576.0h0M66.4 583.4h0M66.8 567.1h0M81.1 568.0h0M70.9 583.0h0M71.2 582.9h0M55.2 576.7h0M78.0 568.7h0M63.8 578.3h0M64.8 587.4h0M67.8 580.7h0M69.0 584.3h0M72.1 571.0h0M63.4 584.0h0M78.0 573.6h0M65.4 578.5h0M62.2 579.3h0M77.2 571.6h0M66.2 574.9h0M69.9 579.6h0M65.9 586.7h0M82.0 574.0h0M69.1 568.6h0M70.8 574.4h0M75.5 572.2h0M72.0 571.5h0M72.3 580.0h0M71.4 570.6h0M72.6 575.0h0M69.7 571.1h0M62.8 565.6h0M69.9 583.8h0M72.3 577.6h0M53.1 578.4h0M61.4 570.6h0M68.6 575.4h0M77.8 576.7h0M74.2 574.3h0M75.5 568.7h0M65.3 577.1h0M59.7 573.6h0M71.9 574.0h0M68.6 573.8h0M74.0 571.5h0M70.4 575.0h0M69.4 575.7h0M66.1 581.2h0M65.5 580.0h0M61.6 584.3h0M56.7 570.6h0M62.6 569.5h0M67.7 569.3h0M85.8 580.9h0M62.5 584.3h0M85.3 573.6h0M65.3 574.6h0M79.1 571.8h0M85.9 572.5h0M69.7 564.6h0M66.8 573.4h0M64.9 566.5h0M76.1 580.5h0M77.0 568.2h0M84.7 571.4h0M66.2 583.1h0M70.7 575.5h0M63.5 574.3h0M58.4 575.3h0M63.5 581.4h0M65.9 574.4h0M81.7 575.2h0M74.7 576.1h0M67.6 584.8h0M75.7 569.8h0M70.5 575.1h0M71.5 583.5h0M76.7 580.5h0M70.8 570.0h0M63.6 570.1h0M64.9 579.0h0M57.4 576.7h0M66.3 581.2h0M74.6 577.7h0M56.0 574.4h0M77.2 584.9h0M64.0 573.0h0M78.6 584.9h0M68.9 574.8h0M68.7 571.3h0M71.3 579.4h0M63.8 577.4h0M68.3 573.4h0M67.2 565.7h0M69.3 573.1h0M65.5 572.6h0M68.2 571.8h0M62.2 573.5h0M66.7 578.5h0M72.3 569.7h0M68.4 571.8h0M67.5 584.7h0M74.2 568.9h0M65.8 575.7h0M57.4 575.9h0M67.0 575.5h0M75.4 576.5h0M74.4 571.9h0M65.5 575.9h0M78.3 572.4h0M62.5 574.1h0M72.2 580.2h0M70.9 575.0h0M65.5 575.1h0M76.1 580.6h0M73.1 578.1h0M65.4 577.7h0M74.1 573.0h0M70.3 578.4h0M71.9 578.7h0M67.6 581.3h0M69.7 570.2h0M75.7 578.8h0M68.5 564.0h0M74.3 574.4h0M71.8 579.8h0M64.8 563.9h0M78.7 581.2h0M77.9 575.9h0M70.4 572.4h0M62.4 585.5h0M65.6 574.2h0M60.2 572.1h0M67.1 575.8h0M73.6 565.3h0M77.1 570.1h0M56.7 578.7h0M87.0 575.6h0M61.3 576.7h0M64.1 583.1h0M67.6 577.2h0M64.0 574.4h0M75.5 569.1h0M67.6 570.4h0M61.6 565.5h0M82.6 570.4h0M67.8 578.1h0M70.0 584.4h0M76.9 569.9h0M62.1 577.8h0M72.1 579.1h0M76.8 569.7h0M68.2 579.1h0M76.9 577.9h0M74.1 573.3h0M67.3 567.5h0M66.8 575.6h0M83.4 573.1h0M60.7 577.8h0M60.6 572.4h0M73.1 582.0h0M68.7 575.3h0M64.7 572.0h0M75.5 575.6h0M71.0 574.8h0M65.1 582.7h0M70.0 572.5h0M82.8 576.5h0M76.5 583.2h0M75.7 581.1h0M86.4 566.9h0M72.6 577.6h0M58.1 575.7h0M80.1 579.8h0M67.4 582.0h0M67.8 568.9h0M76.6 581.5h0M72.1 575.0h0M65.9 571.0h0M64.6 575.5h0M78.2 577.6h0M68.6 577.6h0M75.1 576.3h0M72.0 579.3h0M60.1 568.6h0M67.8 576.1h0M79.4 577.8h0M68.9 572.8h0M72.8 576.6h0M79.8 576.4h0M73.0 574.8h0M76.6 581.2h0M66.1 576.3h0M74.6 583.6h0M69.2 573.9h0M68.6 573.3h0M67.0 575.6h0M72.8 584.8h0M62.4 575.6h0M72.8 579.6h0M63.5 573.4h0M67.7 581.9h0M76.0 578.9h0M69.3 567.1h0M59.5 574.1h0M66.7 579.6h0M66.8 576.5h0M82.7 581.3h0M74.7 566.1h0M77.2 575.5h0M63.1 573.5h0M71.7 577.0h0M67.6 573.9h0M73.3 568.7h0M64.3 571.6h0M72.6 572.6h0M65.2 580.4h0M69.5 573.4h0M66.5 580.0h0M75.4 569.3h0M69.8 583.1h0M76.4 583.7h0M67.2 582.5h0M77.5 571.6h0M73.6 574.5h0M64.2 579.8h0M77.3 561.7h0M83.6 571.3h0M70.3 586.7h0M79.6 585.5h0M65.1 578.6h0M67.3 568.6h0M67.9 579.0h0M79.0 586.6h0M68.7 573.1h0M76.1 583.6h0M69.7 580.0h0M73.3 570.2h0M59.9 576.3h0M77.4 568.7h0M69.2 582.4h0M71.1 579.2h0M76.0 582.0h0M66.2 577.8h0M68.3 570.9h0M71.4 564.3h0M89.9 573.6h0M77.7 586.2h0M70.9 588.3h0M64.0 576.0h0M78.5 581.3h0M73.7 567.4h0M70.3 581.5h0M73.9 575.1h0M67.8 571.3h0M62.8 573.1h0M70.4 576.0h0M74.3 575.6h0M61.9 577.8h0M69.3 574.6h0M74.7 581.0h0M60.6 574.5h0M73.8 571.9h0M69.8 573.6h0M57.6 573.9h0M63.9 584.7h0M77.3 572.0h0M68.1 574.6h0M70.4 570.5h0M66.1 578.5h0M67.3 571.7h0M75.2 571.8h0M69.1 580.0h0M73.3 577.4h0M70.6 570.0h0M66.9 574.6h0M63.1 578.3h0M80.3 574.8h0M78.6 576.1h0M74.1 575.7h0M77.4 576.4h0M60.2 565.4h0M72.0 577.2h0M69.9 573.3h0M60.5 579.4h0M69.2 565.4h0M66.3 575.5h0M74.2 579.7h0M83.0 575.6h0M70.2 568.9h0M58.9 577.3h0M71.2 582.8h0M62.8 577.6h0M68.7 585.3h0M62.9 578.0h0M77.6 580.6h0M72.6 575.7h0M74.1 568.9h0M89.3 576.1h0M74.6 577.4h0M66.2 579.6h0M72.5 583.8h0M77.7 575.3h0M66.3 578.1h0M62.4 577.9h0M54.3 583.4h0M83.2 572.6h0M76.7 575.3h0M67.8 572.5h0M70.0 572.8h0M78.7 573.4h0M72.7 579.4h0M63.1 579.1h0M70.4 572.2h0M68.5 578.8h0M65.3 578.1h0M66.2 577.6h0M73.9 573.2h0M69.0 582.8h0M73.7 565.9h0M67.3 574.2h0M69.5 576.2h0M81.7 577.2h0M69.4 577.6h0M70.8 578.7h0M69.3 572.0h0M84.0 569.0h0M79.1 580.2h0M62.0 572.5h0M69.3 577.7h0M70.6 575.8h0M72.9 562.2h0M66.3 573.9h0M69.5 577.0h0M62.6 574.9h0M74.8 579.5h0M64.0 572.6h0M79.9 576.0h0M71.5 576.6h0M63.8 572.9h0M69.7 574.2h0M71.7 582.0h0M65.1 571.5h0M76.2 569.4h0M72.2 578.1h0M75.2 582.7h0M58.9 578.9h0M70.2 568.7h0M63.7 574.1h0M65.8 577.3h0M68.8 569.8h0M60.1 565.2h0M66.9 571.9h0M74.4 572.9h0M55.7 570.4h0M69.4 575.9h0M66.5 583.1h0M65.9 576.9h0M72.5 568.5h0M68.9 572.9h0M66.6 576.7h0M62.9 556.9h0M68.5 571.4h0M71.8 580.1h0M67.0 572.2h0M78.7 573.1h0M86.3 570.0h0M54.7 577.9h0M59.7 578.5h0M73.0 578.3h0M77.1 577.4h0M90.5 573.4h0M73.2 571.9h0M66.6 575.0h0M64.9 570.8h0M71.6 580.2h0M73.4 573.8h0M71.1 574.9h0M68.0 578.1h0M71.1 579.4h0M66.5 571.1h0M65.1 573.8h0M58.5 573.5h0M74.5 574.7h0M73.2 571.5h0M65.1 576.4h0M76.3 570.6h0M78.3 575.7h0M67.4 572.6h0M87.1 575.3h0M69.9 575.9h0M78.1 570.8h0M74.9 574.5h0M68.9 567.0h0M73.1 578.3h0M59.3 573.3h0M71.9 572.3h0M54.4 582.4h0M68.1 568.9h0M57.1 577.4h0M63.0 575.0h0M67.1 579.4h0M71.1 576.8h0M74.7 572.1h0M78.6 581.9h0M79.9 568.6h0M80.1 580.4h0M60.3 575.9h0M76.1 585.8h0M66.5 574.6h0M67.3 575.7h0M72.9 578.8h0M64.6 579.6h0M63.2 580.4h0M73.1 569.2h0M69.2 578.9h0M63.7 578.5h0M70.4 575.4h0M68.2 575.1h0M62.6 587.2h0M73.3 573.3h0M73.9 567.2h0M68.2 575.4h0M74.3 582.1h0M72.1 578.9h0M63.2 578.2h0M82.9 581.9h0M72.2 572.2h0M75.2 574.8h0M65.0 577.6h0M76.3 572.7h0M78.5 585.3h0M68.7 582.2h0M62.4 590.3h0M63.4 577.2h0M72.2 576.7h0M56.1 569.4h0M74.5 586.7h0M68.2 572.1h0M81.0 576.2h0M65.3 580.7h0M61.3 571.0h0M63.5 576.3h0M66.8 569.0h0M59.7 570.3h0M82.3 577.3h0M59.2 563.1h0M98.5 573.7h0M74.2 586.9h0M79.2 570.6h0M61.8 564.2h0M59.5 576.8h0M57.9 583.6h0M60.6 583.5h0M69.4 579.4h0M63.8 590.5h0M75.4 567.2h0M47.9 570.4h0M81.4 566.0h0M52.5 569.7h0M58.6 571.8h0M45.1 574.5h0M71.6 575.3h0M89.7 585.3h0M56.5 577.7h0M53.3 567.2h0M57.9 559.2h0M66.9 582.3h0M72.3 577.9h0M70.1 584.2h0M87.1 575.2h0M70.2 573.7h0M76.4 572.1h0M73.7 573.5h0M62.2 573.4h0M81.4 569.4h0M71.3 577.8h0M50.1 588.4h0M64.0 573.8h0M57.2 567.0h0M58.2 581.6h0M66.6 568.9h0M66.0 577.6h0M84.2 568.2h0M62.1 579.2h0M55.1 574.3h0M75.0 582.1h0M59.2 557.6h0M42.7 570.1h0M90.6 554.5h0M67.2 576.2h0M55.1 592.7h0M61.2 575.8h0M68.1 579.1h0M63.4 567.2h0M69.1 583.7h0M55.5 574.0h0M66.8 573.7h0M70.5 567.5h0M69.9 567.3h0M59.2 582.1h0M54.3 563.4h0M69.0 582.5h0M74.8 575.8h0M66.4 584.3h0M77.3 574.2h0M60.3 574.4h0M59.9 574.1h0M69.6 579.0h0M66.9 566.8h0M63.4 588.7h0M78.3 573.6h0M60.2 582.7h0M61.2 573.2h0M75.6 571.8h0M62.2 581.6h0M88.4 563.4h0M66.1 581.8h0M80.2 578.6h0M79.8 572.4h0M64.4 579.4h0M61.8 575.3h0M55.2 571.5h0M72.0 574.9h0M71.7 561.1h0M68.7 564.4h0M83.3 569.8h0M74.6 575.0h0M68.7 583.8h0M66.7 577.9h0M69.9 570.4h0M82.0 565.4h0M78.3 579.5h0M97.8 577.6h0M76.4 578.3h0M70.4 582.2h0M63.4 572.4h0M58.3 565.0h0M55.8 574.9h0M67.2 571.3h0M79.6 576.4h0M64.5 581.8h0M70.0 577.8h0M60.5 564.6h0M68.7 572.5h0M56.9 570.0h0M78.4 577.4h0M86.7 586.3h0M63.6 571.6h0M77.5 579.9h0M61.2 570.9h0M71.8 579.0h0M77.7 573.1h0M79.1 564.1h0M60.0 576.1h0M54.7 573.8h0M60.9 577.6h0M66.9 578.3h0M63.0 577.9h0M63.5 571.0h0M71.3 574.3h0M77.9 576.3h0M61.9 583.3h0M100.3 583.6h0M41.4 572.9h0M77.0 578.8h0M80.6 588.3h0M54.9 583.6h0M49.6 564.9h0M63.0 574.6h0M80.4 565.7h0M70.2 563.4h0M73.3 578.9h0M67.8 573.8h0M72.3 568.0h0M72.0 573.9h0M81.6 576.1h0M67.6 571.2h0M60.1 571.1h0M53.1 576.4h0M65.1 580.8h0M53.1 571.0h0M77.3 593.0h0M40.5 573.0h0M64.5 566.2h0M65.8 575.0h0M78.4 583.4h0M86.0 568.9h0M59.7 569.4h0M57.8 571.7h0M60.8 581.9h0M59.8 580.1h0M72.9 594.2h0M61.0 575.7h0M76.9 580.3h0M57.7 576.8h0M88.7 582.9h0M61.7 574.8h0M74.3 569.6h0M68.7 575.4h0M71.8 573.5h0M88.3 567.0h0M73.5 573.3h0M71.3 563.2h0M71.6 578.5h0M45.6 569.9h0M50.6 572.0h0M69.5 584.2h0M70.8 581.5h0M68.9 576.2h0M87.4 574.1h0M57.5 591.7h0M66.8 587.5h0M55.8 566.8h0M65.7 581.9h0M71.7 570.8h0M57.5 564.3h0M70.1 565.7h0M71.8 570.6h0M77.3 561.5h0M55.8 580.5h0M68.9 576.0h0M90.0 580.7h0M60.4 579.0h0M61.0 585.1h0M55.7 572.2h0M77.1 577.2h0M63.4 577.6h0M75.7 567.9h0M65.0 574.2h0M62.9 578.7h0M64.1 574.6h0M73.1 579.7h0M64.8 565.6h0M87.5 558.7h0M56.0 580.4h0M65.8 580.2h0M73.8 577.1h0M73.7 563.5h0M51.3 567.0h0M70.4 574.8h0M49.3 583.2h0M70.7 574.9h0M43.4 570.2h0M80.0 566.4h0M58.5 566.2h0M54.7 573.7h0M52.9 561.8h0M81.9 570.6h0M68.2 579.2h0M74.5 567.8h0M62.6 574.1h0M56.1 575.0h0M69.6 582.4h0M65.6 576.1h0M56.6 578.5h0M72.2 577.4h0M79.8 562.2h0M58.3 568.8h0M69.9 576.4h0M71.2 579.1h0M76.0 579.1h0M73.9 572.7h0M77.1 567.9h0M71.7 570.8h0M65.1 574.8h0M67.6 579.5h0M74.5 585.0h0M76.2 570.7h0M57.1 584.2h0M60.0 583.4h0M72.0 577.2h0M86.0 599.0h0M74.2 582.1h0M53.2 579.4h0M70.3 580.1h0M70.8 574.5h0M78.5 571.4h0M59.8 580.5h0M78.4 581.6h0M59.6 563.8h0M60.1 565.8h0M76.1 574.0h0M50.9 570.2h0M50.7 564.9h0M52.8 566.2h0M45.9 568.8h0M41.4 575.8h0M49.8 577.4h0M47.3 576.2h0M46.9 574.7h0M48.9 577.4h0M46.6 580.9h0M46.1 574.8h0M44.3 577.4h0M47.5 571.0h0M41.5 571.1h0M41.2 576.2h0M51.9 570.0h0M45.2 573.2h0M47.8 567.4h0M46.5 568.5h0M45.7 574.4h0M50.8 574.4h0M46.4 579.5h0M43.9 577.2h0M40.5 573.7h0M47.3 577.3h0M51.6 579.7h0M45.6 578.8h0M46.1 571.8h0M49.7 583.1h0M51.0 573.2h0M47.9 579.5h0M42.7 562.5h0M47.9 565.4h0M44.2 566.6h0M47.2 574.8h0M41.2 568.5h0M48.1 572.2h0M53.1 567.5h0M51.0 578.2h0M44.5 576.2h0M80.6 608.2h0M85.9 596.9h0M94.1 610.0h0M69.4 601.2h0M81.2 595.3h0M111.0 601.9h0M87.7 606.6h0M99.0 594.6h0M87.2 608.3h0M81.5 591.0h0M77.5 599.9h0M72.8 614.4h0M66.1 609.2h0M85.5 602.5h0M92.0 592.0h0M77.1 610.9h0M89.1 598.9h0M94.3 605.3h0M82.9 594.3h0M64.5 604.3h0M84.6 594.7h0M59.8 594.0h0M101.5 591.5h0M81.7 600.2h0M79.5 594.1h0M81.0 608.6h0M55.6 604.0h0M90.5 601.5h0M57.4 595.8h0M91.7 601.3h0M81.4 595.6h0M72.2 613.3h0M72.8 585.2h0M82.4 616.7h0M90.0 593.0h0M83.0 614.7h0M81.3 611.7h0M87.0 601.0h0M78.4 602.8h0M90.5 604.9h0M63.2 604.8h0M89.2 603.9h0M95.0 600.3h0M94.2 603.2h0M72.6 596.2h0" stroke="#000" stroke-width="1.45" stroke-linecap="square" fill="none"/>
<path d="M200.5 571.3h0M195.7 577.3h0M203.6 568.3h0M194.8 570.6h0M189.5 576.3h0M194.0 566.4h0M190.1 577.9h0M183.8 572.4h0M188.7 585.4h0M202.1 581.5h0M181.7 576.0h0M181.4 576.4h0M186.8 586.5h0M191.8 575.3h0M186.3 576.8h0M189.6 575.6h0M201.1 574.2h0M186.3 573.9h0M182.8 577.6h0M187.7 576.8h0M202.6 580.5h0M191.9 578.3h0M197.3 575.0h0M192.2 576.3h0M186.0 578.7h0M185.0 571.3h0M193.5 574.4h0M190.4 577.5h0M192.5 578.4h0M201.1 583.3h0M182.4 573.6h0M182.1 576.2h0M185.6 570.4h0M207.0 574.4h0M180.2 575.9h0M180.9 568.3h0M199.2 575.9h0M199.3 576.1h0M187.0 579.1h0M195.2 584.6h0M193.0 578.6h0M185.6 577.0h0M188.0 571.9h0M193.9 571.0h0M198.1 580.6h0M183.1 578.9h0M190.4 576.8h0M194.1 575.6h0M198.7 576.2h0M199.9 584.7h0M187.0 581.6h0M176.8 579.1h0M194.9 575.4h0M200.7 572.6h0M185.7 579.7h0M183.8 580.3h0M168.2 568.0h0M195.0 570.8h0M188.9 579.1h0M188.9 575.1h0M193.3 579.5h0M197.1 575.8h0M199.5 578.3h0M193.8 579.8h0M191.8 579.1h0M189.8 571.7h0M189.4 573.1h0M190.8 573.1h0M199.8 568.2h0M197.9 579.1h0M199.7 574.2h0M193.6 578.3h0M185.8 575.1h0M179.7 581.1h0M195.4 569.3h0M193.8 574.2h0M194.3 571.1h0M190.4 578.0h0M196.4 573.0h0M184.6 572.5h0M192.1 570.3h0M201.2 573.5h0M189.6 579.0h0M197.1 573.2h0M192.4 575.4h0M191.1 582.6h0M182.4 576.9h0M185.4 572.5h0M191.0 586.0h0M191.1 568.7h0M194.0 576.0h0M189.4 572.1h0M194.7 568.3h0M194.3 566.6h0M184.5 569.0h0M206.1 574.1h0M200.0 566.9h0M204.0 566.7h0M181.4 575.5h0M200.1 573.2h0M192.3 579.9h0M198.9 580.6h0M194.3 578.1h0M191.9 573.3h0M177.7 565.5h0M187.9 574.2h0M187.4 580.9h0M187.4 582.6h0M198.0 575.7h0M193.1 577.4h0M187.8 577.2h0M185.2 573.7h0M183.3 578.0h0M198.1 568.5h0M194.6 574.8h0M187.1 576.1h0M192.3 575.0h0M181.6 572.8h0M188.8 577.3h0M189.9 575.8h0M187.3 572.8h0M184.1 586.5h0M204.8 586.9h0M187.2 590.7h0M201.3 579.4h0M197.8 583.8h0M183.7 577.9h0M191.5 577.3h0M190.4 571.9h0M201.3 577.1h0M195.8 580.9h0M184.5 571.6h0M198.7 575.2h0M181.1 579.8h0M191.6 580.5h0M191.5 581.2h0M188.7 582.4h0M194.7 578.5h0M191.2 576.4h0M187.2 575.1h0M197.2 570.5h0M188.8 575.5h0M194.0 584.8h0M186.0 581.7h0M182.1 573.9h0M188.9 576.4h0M179.6 574.8h0M196.5 581.1h0M191.9 577.3h0M189.6 575.2h0M196.4 572.4h0M179.5 572.9h0M201.9 570.5h0M195.1 563.2h0M194.0 573.1h0M182.5 577.9h0M197.2 573.1h0M190.5 566.4h0M192.0 571.0h0M200.5 576.8h0M183.3 575.3h0M187.5 573.8h0M192.6 579.0h0M199.2 578.6h0M192.2 578.9h0M190.3 579.8h0M185.1 578.3h0M200.3 579.2h0M197.0 581.2h0M188.0 574.4h0M186.4 579.5h0M188.4 580.7h0M188.5 577.5h0M186.7 572.0h0M199.1 572.8h0M185.6 573.8h0M182.6 568.7h0M204.9 566.0h0M190.3 577.6h0M189.5 580.8h0M184.9 576.0h0M192.9 580.6h0M184.5 576.4h0M200.7 583.6h0M195.1 574.8h0M189.0 581.5h0M180.7 569.8h0M192.3 574.3h0M198.0 581.0h0M197.0 573.9h0M178.5 568.2h0M191.3 577.6h0M203.0 580.4h0M190.9 574.6h0M193.4 568.1h0M188.1 580.0h0M189.9 570.7h0M196.8 582.1h0M176.2 569.8h0M182.0 573.8h0M185.6 575.2h0M180.8 585.2h0M180.7 570.5h0M192.1 579.2h0M195.4 573.6h0M193.9 578.6h0M193.7 583.7h0M197.4 569.0h0M197.7 578.1h0M197.2 574.4h0M193.3 570.9h0M190.7 568.9h0M181.5 576.4h0M185.9 571.0h0M190.0 571.0h0M182.9 583.3h0M199.4 581.7h0M196.8 571.4h0M196.5 578.9h0M197.5 574.6h0M189.7 577.5h0M190.4 569.5h0M203.2 582.1h0M188.8 579.3h0M196.4 573.6h0M178.1 581.6h0M183.9 577.9h0M194.7 577.8h0M183.5 584.5h0M190.1 568.0h0M193.4 590.7h0M199.1 577.4h0M197.9 584.2h0M195.8 577.2h0M171.6 581.3h0M187.0 576.8h0M195.8 581.4h0M198.8 577.0h0M191.9 576.2h0M197.1 569.9h0M194.7 574.5h0M194.9 573.8h0M186.8 585.3h0M193.3 579.4h0M192.3 576.0h0M197.3 570.9h0M192.1 570.2h0M186.6 574.0h0M192.6 576.8h0M190.0 575.6h0M186.7 576.5h0M180.6 568.9h0M195.9 573.8h0M209.1 568.0h0M191.4 575.2h0M189.1 578.6h0M199.4 577.5h0M189.9 576.2h0M197.7 578.1h0M196.9 574.4h0M184.8 591.9h0M178.9 583.5h0M187.4 567.2h0M188.2 577.1h0M191.3 575.1h0M180.7 577.8h0M193.2 571.9h0M204.9 577.1h0M188.2 573.1h0M195.3 572.4h0M206.4 570.3h0M197.0 572.4h0M194.4 565.1h0M184.8 572.3h0M196.4 569.4h0M189.5 575.8h0M190.4 580.0h0M184.2 578.9h0M195.5 579.1h0M203.9 585.6h0M181.1 579.2h0M190.5 571.5h0M188.3 573.6h0M193.1 575.7h0M185.6 572.8h0M186.1 582.1h0M194.6 576.2h0M182.2 573.2h0M188.7 574.0h0M203.3 573.5h0M192.7 570.8h0M187.7 574.6h0M191.2 581.4h0M187.6 574.2h0M204.7 573.7h0M202.4 574.5h0M193.3 573.3h0M196.3 569.8h0M174.2 572.5h0M188.3 576.5h0M187.5 578.9h0M214.1 579.1h0M191.6 575.5h0M193.0 567.6h0M180.1 580.7h0M202.1 574.8h0M181.0 576.4h0M188.9 578.3h0M190.2 578.5h0M202.7 575.0h0M193.0 573.3h0M179.7 576.7h0M205.1 567.6h0M188.8 578.6h0M189.3 579.4h0M186.2 572.9h0M180.7 575.6h0M202.2 573.9h0M187.2 577.1h0M187.9 580.1h0M194.6 563.3h0M188.2 572.2h0M196.5 568.6h0M191.4 573.8h0M189.9 570.5h0M196.5 583.7h0M195.8 575.5h0M189.0 574.8h0M183.3 588.0h0M190.4 572.4h0M199.8 570.5h0M188.6 577.0h0M185.3 582.3h0M197.1 575.6h0M188.2 567.2h0M189.9 575.2h0M190.7 574.3h0M200.9 574.7h0M192.8 580.7h0M193.3 585.4h0M197.5 570.3h0M198.5 580.9h0M177.2 575.4h0M193.2 579.1h0M196.6 579.4h0M195.4 575.3h0M182.8 573.3h0M196.0 574.2h0M208.5 571.0h0M207.0 574.0h0M201.5 583.7h0M197.2 577.2h0M199.0 585.1h0M192.0 570.3h0M188.6 580.0h0M191.1 573.6h0M189.2 574.8h0M176.4 578.3h0M191.4 574.9h0M195.5 582.3h0M183.6 577.4h0M190.2 581.2h0M193.0 571.8h0M182.7 571.5h0M189.5 570.4h0M196.7 576.3h0M196.8 583.3h0M207.7 571.1h0M189.5 579.4h0M192.0 567.6h0M193.2 579.2h0M196.1 578.1h0M179.1 567.6h0M191.0 570.8h0M188.3 581.8h0M198.8 573.0h0M192.5 584.1h0M189.8 573.3h0M186.0 575.0h0M178.5 580.1h0M191.7 582.7h0M187.7 576.6h0M191.4 574.2h0M205.1 578.6h0M187.2 580.0h0M183.9 574.4h0M195.6 579.7h0M192.2 568.8h0M201.0 573.2h0M183.6 578.9h0M188.3 579.3h0M175.7 580.6h0M187.5 577.5h0M189.2 574.3h0M187.8 573.8h0M197.2 573.0h0M185.8 570.0h0M185.0 574.5h0M201.8 577.4h0M198.0 576.3h0M193.0 567.7h0M198.6 571.2h0M188.9 579.1h0M187.7 578.2h0M194.2 577.3h0M213.1 573.7h0M183.6 574.6h0M201.0 568.0h0M189.5 571.0h0M185.4 573.9h0M183.2 575.5h0M190.6 575.1h0M194.5 578.8h0M193.3 567.8h0M195.8 576.7h0M199.2 586.1h0M186.2 578.2h0M181.1 577.9h0M193.7 579.4h0M193.3 576.2h0M191.0 572.8h0M190.3 572.3h0M183.6 565.4h0M196.9 580.4h0M184.7 572.5h0M182.9 580.0h0M209.1 576.7h0M190.6 579.5h0M188.4 583.6h0M198.4 581.2h0M192.8 583.8h0M190.2 579.1h0M190.9 572.0h0M178.9 573.3h0M187.3 568.9h0M183.9 572.4h0M186.1 580.7h0M212.2 578.0h0M196.9 580.4h0M208.5 580.5h0M198.2 576.8h0M192.3 585.6h0M189.0 576.9h0M203.2 574.4h0M178.6 579.7h0M187.9 572.5h0M195.4 576.1h0M173.7 586.0h0M195.3 580.1h0M184.4 573.4h0M197.3 578.4h0M185.8 580.4h0M198.3 581.2h0M182.8 573.5h0M201.0 570.4h0M200.0 568.4h0M195.9 578.7h0M195.6 577.9h0M174.9 577.0h0M175.5 570.1h0M199.8 572.0h0M180.6 580.7h0M187.5 572.2h0M192.5 570.4h0M190.0 574.9h0M187.2 578.0h0M199.0 563.0h0M180.5 580.3h0M186.2 569.4h0M187.7 575.7h0M199.3 578.4h0M188.0 574.4h0M181.4 579.5h0M204.3 583.7h0M183.4 572.6h0M184.3 582.5h0M187.4 585.3h0M187.6 581.8h0M193.8 576.0h0M179.6 573.4h0M199.0 572.9h0M196.1 577.4h0M200.8 576.1h0M192.6 573.7h0M194.1 581.6h0M185.7 572.4h0M199.9 585.9h0M199.6 581.5h0M181.7 568.2h0M195.6 568.8h0M187.1 578.3h0M182.1 575.3h0M203.4 576.9h0M183.6 574.1h0M195.0 577.3h0M199.1 580.1h0M181.7 565.8h0M194.1 576.9h0M197.7 570.6h0M192.2 575.6h0M184.4 580.9h0M189.3 582.9h0M200.2 580.9h0M178.9 575.2h0M200.1 570.5h0M183.0 577.2h0M190.6 581.2h0M187.8 577.8h0M194.8 573.2h0M175.9 577.4h0M196.5 582.4h0M190.4 575.2h0M196.7 574.3h0M198.8 564.6h0M197.9 577.8h0M190.1 569.8h0M184.3 577.3h0M180.7 586.4h0M182.4 577.5h0M184.7 577.2h0M195.7 578.4h0M195.5 584.3h0M187.3 566.9h0M187.4 572.6h0M187.4 569.9h0M189.9 574.8h0M191.9 586.3h0M184.5 570.8h0M180.0 581.5h0M190.7 573.3h0M191.9 573.9h0M194.1 568.4h0M165.7 568.9h0M192.4 579.4h0M189.5 572.8h0M195.5 575.7h0M188.0 573.7h0M196.2 571.4h0M188.4 576.6h0M200.2 578.2h0M184.7 570.3h0M191.3 570.3h0M192.0 578.6h0M185.2 570.8h0M187.3 578.9h0M192.5 580.4h0M198.4 575.0h0M195.0 574.9h0M196.1 578.4h0M202.9 575.5h0M198.2 567.0h0M189.2 577.5h0M195.3 573.0h0M186.0 579.3h0M218.4 569.3h0M186.8 578.4h0M195.4 578.3h0M186.6 580.0h0M184.3 586.5h0M201.6 578.4h0M188.7 573.9h0M180.1 572.9h0M201.2 569.5h0M198.7 579.0h0M194.0 579.8h0M195.0 576.9h0M187.7 566.1h0M189.9 580.1h0M183.8 567.8h0M194.2 575.6h0M205.9 572.4h0M196.3 572.5h0M186.1 580.9h0M195.2 579.1h0M192.0 571.1h0M201.1 575.1h0M184.5 580.2h0M195.7 575.2h0M195.7 570.8h0M182.5 581.8h0M192.9 575.5h0M190.7 567.9h0M182.1 567.4h0M194.5 579.9h0M195.3 559.8h0M192.2 573.1h0M194.1 566.0h0M185.2 579.5h0M185.5 571.6h0M200.2 581.2h0M197.0 579.7h0M190.7 576.9h0M187.7 576.7h0M191.7 579.5h0M180.1 578.7h0M190.0 573.3h0M195.7 571.7h0M182.1 574.5h0M193.2 571.9h0M195.7 580.7h0M184.5 579.7h0M186.9 572.5h0M187.5 576.4h0M192.2 569.0h0M193.1 568.7h0M191.7 576.3h0M192.6 573.8h0M179.6 586.6h0M194.6 578.8h0M187.9 565.9h0M193.2 578.6h0M179.5 579.8h0M192.1 578.2h0M192.9 590.7h0M186.0 576.6h0M192.4 574.6h0M199.0 576.2h0M194.1 577.3h0M189.7 579.1h0M173.3 575.4h0M195.3 569.7h0M197.2 579.3h0M203.3 579.2h0M172.6 566.0h0M199.4 582.9h0M195.6 575.0h0M200.8 579.7h0M192.5 567.7h0M198.3 572.4h0M190.4 582.3h0M187.5 581.9h0M191.5 576.2h0M185.0 570.0h0M200.3 571.2h0M196.2 572.5h0M188.7 573.4h0M191.7 569.4h0M189.9 574.8h0M187.4 566.2h0M181.7 584.9h0M193.2 578.7h0M195.7 578.6h0M193.2 575.9h0M193.0 577.6h0M196.7 576.5h0M193.1 572.0h0M183.0 578.0h0M198.5 574.2h0M200.6 567.7h0M187.4 576.0h0M193.2 571.7h0M187.3 581.5h0M190.3 582.6h0M189.3 573.2h0M190.2 581.1h0M176.7 578.0h0M184.8 578.1h0M190.6 579.2h0M198.1 578.9h0M194.9 579.5h0M189.2 580.4h0M197.7 580.7h0M188.4 584.0h0M190.5 582.7h0M189.8 573.0h0M191.1 579.7h0M194.4 566.0h0M178.2 571.6h0M179.7 586.4h0M197.2 578.6h0M192.3 581.0h0M191.5 574.7h0M187.0 570.7h0M199.0 573.7h0M196.4 579.8h0M195.4 569.5h0M184.2 582.4h0M199.5 580.0h0M204.2 576.0h0M186.1 573.6h0M193.5 582.0h0M192.3 571.1h0M184.1 571.8h0M190.1 579.6h0M194.8 574.8h0M185.5 578.6h0M190.9 571.9h0M188.6 571.0h0M193.0 580.4h0M192.9 580.9h0M194.9 572.1h0M200.7 576.0h0M192.3 580.2h0M184.9 577.1h0M193.0 571.3h0M176.8 575.4h0M196.7 573.6h0M200.3 575.3h0M199.6 579.5h0M193.6 574.0h0M193.3 578.2h0M182.6 574.5h0M180.4 572.5h0M193.4 580.1h0M187.7 580.1h0M180.5 583.1h0M198.8 573.2h0M190.5 567.6h0M184.9 582.4h0M187.3 575.8h0M200.7 570.3h0M183.8 570.7h0M195.8 581.1h0M197.1 576.1h0M192.2 580.3h0M202.5 585.5h0M195.2 571.9h0M181.9 573.3h0M195.8 576.7h0M205.1 572.6h0M198.4 584.9h0M198.3 571.4h0M193.8 576.1h0M182.8 564.2h0M193.6 575.4h0M192.9 576.3h0M184.6 571.3h0M181.5 566.9h0M193.8 572.4h0M189.2 571.1h0M197.5 576.0h0M183.5 575.7h0M195.9 575.8h0M200.6 573.7h0M192.6 580.9h0M193.9 580.3h0M187.8 572.7h0M184.6 575.4h0M179.2 581.7h0M193.4 577.1h0M192.0 566.3h0M194.7 582.4h0M197.2 570.7h0M196.6 574.9h0M198.5 570.8h0M194.9 572.9h0M198.2 573.7h0M201.5 580.2h0M198.3 572.3h0M196.4 589.8h0M183.2 564.5h0M199.9 575.9h0M192.1 576.5h0M193.4 573.4h0M190.4 568.4h0M197.2 588.0h0M186.7 577.6h0M183.4 581.6h0M204.2 580.4h0M194.9 579.9h0M182.3 571.1h0M186.8 578.2h0M195.4 577.3h0M192.3 572.9h0M195.3 577.3h0M191.1 579.5h0M186.5 569.8h0M198.5 579.5h0M185.8 579.1h0M180.3 580.0h0M199.5 580.1h0M190.4 578.8h0M203.9 573.3h0M190.9 577.9h0M205.5 576.2h0M193.2 576.9h0M190.5 578.5h0M189.8 580.6h0M193.4 575.2h0M191.8 580.5h0M199.3 571.3h0M188.6 569.8h0M194.6 577.3h0M198.0 575.1h0M185.0 575.9h0M185.2 584.8h0M204.3 578.8h0M199.8 568.8h0M176.9 571.3h0M190.8 580.3h0M183.3 570.7h0M192.0 577.7h0M195.0 575.7h0M198.2 575.8h0M190.3 572.0h0M202.1 579.2h0M191.7 583.7h0M191.5 577.9h0M173.2 571.1h0M185.0 578.1h0M192.3 578.4h0M191.1 573.5h0M197.0 577.7h0M189.5 576.8h0M187.3 570.2h0M203.0 575.6h0M182.5 569.8h0M186.7 567.9h0M183.3 580.7h0M205.2 574.7h0M189.9 573.6h0M199.9 575.7h0M203.2 574.6h0M193.2 572.5h0M191.0 576.6h0M209.1 581.1h0M197.3 571.5h0M183.6 571.1h0M191.4 579.9h0M190.0 569.4h0M188.5 578.2h0M191.4 579.0h0M192.1 576.0h0M192.6 575.2h0M177.1 574.5h0M191.3 583.5h0M197.2 584.6h0M182.4 583.3h0M187.2 577.3h0M175.6 577.5h0M198.8 577.8h0M182.8 569.4h0M195.8 577.1h0M195.5 584.5h0M198.9 589.2h0M190.1 571.9h0M194.0 578.1h0M191.2 578.0h0M183.5 584.6h0M191.1 577.2h0M183.4 577.5h0M181.6 570.9h0M194.5 572.3h0M184.7 582.2h0M184.1 575.5h0M193.0 578.4h0M195.0 572.5h0M186.0 579.7h0M187.8 568.0h0M184.7 568.5h0M169.5 569.8h0M194.4 584.5h0M184.7 576.8h0M186.0 570.6h0M194.2 580.9h0M203.6 571.3h0M195.8 570.9h0M198.4 576.4h0M195.9 570.5h0M183.9 577.7h0M180.9 577.3h0M197.8 569.3h0M185.0 587.6h0M195.1 579.3h0M195.7 574.1h0M179.7 581.6h0M187.8 572.6h0M196.0 576.7h0M196.2 577.6h0M190.1 574.4h0M182.4 576.7h0M196.4 584.9h0M179.1 571.1h0M192.8 572.4h0M186.3 582.7h0M185.9 566.9h0M195.9 577.7h0M184.1 572.2h0M196.3 571.4h0M190.3 581.4h0M190.1 578.5h0M205.9 583.7h0M193.6 574.1h0M179.9 576.7h0M193.0 585.7h0M200.3 580.0h0M187.5 573.4h0M191.1 579.8h0M189.7 575.3h0M185.3 580.5h0M192.5 569.0h0M184.9 566.9h0M196.4 566.7h0M182.3 576.0h0M196.6 581.6h0M191.8 574.4h0M194.8 579.0h0M188.1 577.0h0M201.6 572.2h0M188.1 573.1h0M173.2 576.8h0M182.5 566.0h0M162.9 589.4h0M164.4 587.8h0M210.9 579.5h0M202.0 567.5h0M186.0 568.7h0M173.4 573.0h0M179.4 568.8h0M197.9 576.5h0M191.6 570.9h0M205.9 573.7h0M186.7 574.1h0M187.2 577.7h0M193.8 581.4h0M177.5 579.4h0M192.4 582.7h0M192.6 573.2h0M193.5 574.8h0M194.2 572.8h0M170.3 576.4h0M183.6 570.8h0M186.9 562.3h0M198.5 578.5h0M160.0 593.4h0M180.5 585.2h0M182.8 576.3h0M160.0 569.2h0M183.3 586.2h0M180.1 568.6h0M187.4 584.5h0M180.0 584.0h0M174.3 574.0h0M210.0 581.1h0M195.2 567.1h0M197.8 577.6h0M187.4 583.2h0M173.1 582.3h0M207.3 582.7h0M191.6 570.7h0M181.3 568.9h0M208.9 573.4h0M201.8 572.5h0M175.9 579.1h0M181.9 578.1h0M206.8 570.5h0M197.4 564.9h0M184.0 571.8h0M189.7 583.3h0M188.6 573.4h0M182.3 583.2h0M181.0 581.5h0M206.8 576.9h0M197.1 576.7h0M192.1 570.4h0M212.2 575.1h0M180.4 583.9h0M190.5 576.3h0M181.6 593.6h0M183.8 562.2h0M210.8 594.8h0M176.5 580.7h0M190.4 582.6h0M200.0 582.1h0M211.5 571.2h0M196.0 587.9h0M173.5 573.6h0M189.5 582.7h0M206.3 566.3h0M169.6 583.0h0M166.6 582.3h0M190.0 584.9h0M193.0 590.6h0M198.8 584.8h0M182.5 580.5h0M198.8 581.6h0M191.4 573.4h0M177.5 582.3h0M207.9 580.8h0M190.1 573.1h0M179.4 583.6h0M201.9 569.7h0M176.6 587.0h0M183.4 573.2h0M193.4 567.7h0M211.4 581.2h0M191.5 581.5h0M184.3 564.8h0M167.1 583.1h0M175.8 575.8h0M177.8 577.1h0M167.3 592.6h0M187.2 582.1h0M199.0 591.6h0M187.7 576.6h0M185.6 563.9h0M204.4 568.6h0M164.2 573.5h0M195.1 573.6h0M211.1 577.0h0M191.4 578.4h0M195.4 576.5h0M208.3 583.6h0M209.8 576.7h0M185.5 579.8h0M197.5 585.7h0M185.3 563.4h0M190.3 580.6h0M202.8 582.3h0M175.0 576.2h0M192.5 555.5h0M183.2 578.4h0M182.1 571.1h0M224.6 570.6h0M184.6 570.9h0M202.0 587.6h0M214.4 577.6h0M176.5 576.2h0M187.7 592.5h0M185.5 585.3h0M181.1 574.4h0M177.6 576.2h0M201.1 576.3h0M197.7 581.2h0M162.3 581.2h0M184.1 593.3h0M199.6 586.4h0M191.1 567.3h0M200.3 570.7h0M200.3 563.7h0M207.9 570.1h0M187.2 573.7h0M184.5 576.8h0M172.3 569.6h0M201.6 578.0h0M194.5 562.2h0M170.1 572.5h0M174.5 581.1h0M197.3 573.0h0M202.4 579.8h0M190.6 569.6h0M177.2 578.4h0M193.1 577.9h0M181.6 575.1h0M169.8 576.9h0M189.0 572.8h0M184.5 577.2h0M189.6 583.5h0M199.7 568.2h0M175.5 561.2h0M189.6 584.8h0M204.6 585.3h0M200.7 568.4h0M187.2 580.8h0M166.2 566.8h0M191.1 573.4h0M175.4 565.1h0M211.5 568.2h0M202.8 578.9h0M211.7 575.6h0M188.8 581.7h0M171.1 591.1h0M186.1 567.7h0M184.5 570.8h0M179.9 585.8h0M198.1 580.2h0M196.5 580.3h0M184.3 592.4h0M185.9 574.4h0M185.8 589.3h0M204.9 567.2h0M197.2 587.3h0M203.7 571.8h0M186.4 574.3h0M182.8 575.1h0M204.7 574.2h0M183.8 581.5h0M187.0 569.4h0M200.7 581.7h0M168.2 569.5h0M192.1 575.2h0M183.0 565.5h0M189.5 584.2h0M172.9 578.8h0M167.8 577.8h0M188.1 579.5h0M177.9 579.4h0M193.4 571.7h0M184.1 589.7h0M190.8 578.0h0M219.3 568.5h0M187.7 569.1h0M178.2 580.2h0M180.7 585.4h0M189.2 560.8h0M197.8 586.9h0M202.6 565.8h0M196.9 576.9h0M198.9 581.1h0M180.1 567.7h0M164.3 573.7h0M179.4 567.1h0M194.3 575.7h0M176.7 571.0h0M174.7 577.5h0M187.9 580.3h0M194.5 578.3h0M191.4 578.6h0M185.4 566.4h0M184.4 571.8h0M188.9 575.6h0M177.3 583.8h0M190.6 570.9h0M202.8 580.4h0M188.1 576.4h0M212.1 585.8h0M200.2 582.7h0M202.0 583.8h0M199.4 576.4h0M179.7 583.0h0M193.0 589.6h0M187.6 572.0h0M184.0 568.0h0M194.2 575.5h0M202.9 582.9h0M187.4 576.2h0M187.4 588.8h0M184.1 571.5h0M164.2 577.9h0M194.3 585.0h0M189.4 590.5h0M199.3 567.6h0M164.4 588.3h0M179.4 580.8h0M191.6 576.9h0M192.8 568.9h0M195.2 572.0h0M198.5 575.1h0M191.8 579.5h0M167.7 578.8h0M160.0 580.1h0M177.1 581.2h0M182.9 592.0h0M199.3 581.7h0M195.2 573.5h0M186.9 566.8h0M213.3 568.6h0M162.9 573.8h0M186.7 571.8h0M191.5 572.9h0M169.4 579.5h0M160.4 576.7h0M165.3 581.1h0M167.6 580.0h0M169.7 570.6h0M160.0 582.0h0M168.3 574.7h0M163.4 580.4h0M174.2 573.0h0M161.4 577.9h0M160.3 584.1h0M165.2 578.5h0M164.0 578.7h0M177.3 579.6h0M173.7 578.5h0M171.7 578.9h0M166.5 573.8h0M167.3 568.9h0M160.0 577.7h0M161.2 573.2h0M168.1 578.3h0M163.7 581.2h0M167.1 579.1h0M170.6 577.2h0M169.9 568.9h0M166.0 576.1h0M170.2 576.4h0M163.7 575.5h0M166.2 580.5h0M168.1 577.5h0M162.9 571.5h0M164.7 582.1h0M166.6 579.1h0M166.8 583.7h0M160.0 585.6h0M160.0 580.0h0M161.9 583.6h0M166.3 578.1h0M165.1 583.3h0M169.1 575.5h0M187.3 596.9h0M215.1 600.0h0M204.7 603.5h0M212.2 609.0h0M217.6 596.9h0M183.2 593.7h0M200.4 614.6h0M209.2 590.2h0M212.4 597.7h0M212.5 593.3h0M239.2 586.0h0M198.7 601.5h0M203.3 604.1h0M177.8 606.0h0M190.5 605.0h0M214.2 599.1h0M208.9 601.1h0M197.3 599.0h0M179.2 619.7h0M210.9 602.1h0M211.9 600.3h0M192.8 594.9h0M168.1 597.7h0M176.1 609.4h0M196.2 596.5h0M180.7 595.0h0M204.0 602.3h0M203.0 589.8h0M193.6 597.9h0M180.2 596.3h0M198.1 603.9h0M190.3 610.3h0M209.7 595.4h0M210.7 600.2h0M195.5 597.6h0M209.6 599.3h0M200.7 597.1h0M190.0 599.5h0M180.3 607.8h0M214.0 597.1h0" stroke="#000" stroke-width="1.45" stroke-linecap="square" fill="none"/>
<path d="M301.4 605.3h0M300.4 611.4h0M309.7 606.4h0M309.7 599.3h0M300.3 611.4h0M318.7 606.5h0M313.0 608.2h0M301.9 606.0h0M308.8 607.7h0M301.4 614.4h0M315.3 608.1h0M316.5 599.8h0M305.4 605.3h0M309.3 602.2h0M308.0 607.3h0M306.6 606.7h0M312.0 605.3h0M310.1 614.2h0M302.9 608.9h0M304.6 616.4h0M305.8 605.4h0M307.4 610.5h0M311.0 605.7h0M297.5 609.6h0M310.8 607.1h0M310.9 603.5h0M312.0 606.0h0M310.5 609.8h0M295.3 616.1h0M312.1 603.8h0M315.0 608.6h0M312.5 613.9h0M306.1 603.3h0M301.7 611.7h0M304.1 608.7h0M311.9 602.1h0M329.1 605.5h0M304.1 606.8h0M311.2 608.1h0M310.7 605.9h0M313.3 612.4h0M317.3 610.5h0M315.7 609.1h0M304.5 600.7h0M317.6 611.5h0M305.2 613.8h0M317.1 600.9h0M305.9 610.4h0M298.0 609.7h0M304.8 608.2h0M305.3 599.7h0M299.5 616.4h0M307.6 605.5h0M320.8 609.6h0M297.8 610.5h0M314.3 606.0h0M306.4 610.2h0M303.9 610.0h0M314.2 616.0h0M313.5 609.6h0M308.8 609.8h0M293.3 611.5h0M312.6 610.5h0M295.7 608.4h0M303.5 617.0h0M303.8 601.1h0M306.2 605.2h0M309.7 617.0h0M307.1 605.7h0M311.0 608.6h0M307.7 602.3h0M299.0 610.2h0M306.6 611.4h0M316.3 604.9h0M308.4 613.9h0M314.8 611.1h0M314.1 598.5h0M304.1 606.8h0M305.7 605.6h0M308.8 612.9h0M313.4 612.9h0M312.8 612.4h0M311.3 609.4h0M308.1 609.5h0M309.3 605.3h0M316.4 609.2h0M309.3 596.2h0M306.7 613.5h0M315.1 604.0h0M317.8 602.3h0M302.4 609.6h0M300.6 613.8h0M299.0 613.9h0M299.6 611.2h0M313.3 609.9h0M310.3 603.9h0M303.2 603.4h0M309.2 603.5h0M316.0 607.1h0M315.1 602.5h0M312.8 607.7h0M299.9 610.0h0M311.1 609.8h0M306.3 609.5h0M320.5 603.9h0M306.2 603.2h0M301.6 613.0h0M311.5 602.8h0M302.7 606.4h0M309.2 607.2h0M297.8 606.4h0M311.2 605.2h0M316.6 609.8h0M318.6 605.2h0M300.9 615.8h0M311.5 609.4h0M296.5 602.5h0M311.2 606.5h0M319.4 599.5h0M305.6 608.3h0M304.4 609.5h0M314.0 606.4h0M319.7 611.0h0M310.1 603.6h0M311.4 609.3h0M301.5 604.1h0M314.4 608.7h0M306.9 609.6h0M299.2 610.7h0M307.5 610.0h0M308.6 603.5h0M303.2 606.4h0M310.9 610.7h0M316.1 606.6h0M308.4 604.2h0M303.1 612.6h0M313.2 598.5h0M305.5 612.9h0M306.4 606.9h0M299.1 607.9h0M300.2 612.1h0M302.9 612.8h0M313.1 608.8h0M312.1 613.8h0M308.6 609.5h0M315.9 608.5h0M304.6 608.5h0M303.0 612.4h0M305.3 613.2h0M312.2 602.9h0M298.5 612.1h0M303.6 608.1h0M309.2 605.5h0M300.5 615.4h0M311.5 612.0h0M321.3 608.9h0M303.5 616.1h0M315.3 610.8h0M302.6 621.9h0M314.7 604.3h0M306.9 604.8h0M307.1 618.7h0M304.0 601.4h0M307.2 614.2h0M317.3 614.7h0M294.6 609.9h0M313.9 614.4h0M304.3 612.1h0M311.3 608.7h0M308.9 613.3h0M311.2 609.7h0M300.5 616.3h0M323.3 605.2h0M308.5 606.9h0M311.4 600.7h0M314.2 610.6h0M308.1 605.4h0M299.2 611.1h0M316.3 604.2h0M305.3 617.8h0M309.6 613.2h0M316.1 600.7h0M312.8 602.9h0M319.7 604.5h0M307.6 612.4h0M305.6 617.0h0M301.8 609.2h0M311.3 604.0h0M298.3 616.5h0M306.8 606.8h0M302.7 608.0h0M309.2 605.0h0M298.3 608.5h0M309.9 612.3h0M307.5 610.4h0M310.5 605.2h0M306.5 603.5h0M312.2 610.3h0M317.3 606.3h0M312.7 605.9h0M305.4 615.5h0M312.9 616.9h0M299.7 616.9h0M316.5 607.5h0M318.1 603.5h0M309.8 608.9h0M307.1 603.7h0M307.9 606.0h0M301.0 614.2h0M301.7 611.3h0M323.0 608.9h0M304.2 610.0h0M306.2 606.5h0M311.5 611.3h0M317.5 613.2h0M308.6 606.5h0M325.3 600.7h0M293.4 607.3h0M296.5 603.7h0M319.4 595.2h0M307.0 620.0h0M313.0 602.4h0M315.4 607.0h0M310.0 605.5h0M305.0 601.8h0M320.0 596.0h0M324.7 607.7h0M311.5 605.0h0M304.0 610.8h0M318.2 606.4h0M307.9 600.8h0M308.0 613.1h0M317.1 608.5h0M327.1 607.3h0M302.6 623.0h0M310.0 610.6h0M301.4 608.9h0M306.7 605.9h0M323.8 609.1h0M320.8 602.3h0M318.3 615.2h0M311.0 606.7h0M327.3 602.9h0M315.1 606.1h0M325.7 600.8h0M297.4 613.3h0M316.8 608.5h0M307.6 607.4h0M302.3 613.4h0M319.8 605.5h0M298.2 617.5h0M313.1 616.5h0M292.3 611.0h0M304.7 609.7h0M300.2 612.3h0M306.6 595.7h0M323.4 596.1h0M306.6 612.3h0M290.5 617.5h0M305.6 617.2h0M317.5 612.8h0M310.3 606.9h0M311.4 616.6h0M307.3 608.4h0M289.5 613.3h0M308.4 610.6h0M310.2 606.5h0M308.0 599.6h0M307.9 601.4h0M304.6 614.6h0M308.1 610.7h0M323.1 614.6h0M307.5 605.2h0M302.5 604.7h0M315.8 609.6h0M296.7 614.9h0M307.0 604.3h0M305.2 612.3h0M309.9 613.1h0M310.4 613.2h0M315.2 606.6h0M301.3 614.2h0M311.2 604.1h0M310.5 602.5h0M304.0 611.5h0M306.0 608.1h0M300.1 606.9h0M311.9 604.8h0M306.9 603.9h0M305.3 603.2h0M305.4 606.2h0M310.4 621.3h0M310.2 614.3h0M315.2 610.7h0M319.8 605.0h0M316.0 612.4h0M313.1 605.2h0M311.6 603.1h0M305.2 613.9h0M308.6 607.6h0M303.3 617.5h0M309.8 602.6h0M308.2 609.5h0M313.0 606.2h0M302.0 611.2h0M317.6 608.1h0M316.0 601.8h0M307.3 622.9h0M299.8 613.2h0M307.8 614.0h0M292.8 614.9h0M304.2 603.8h0M301.2 617.7h0M298.3 611.1h0M304.0 608.8h0M314.9 602.9h0M305.0 609.1h0M310.1 600.0h0M317.9 607.4h0M286.9 611.8h0M305.6 605.1h0M309.5 617.5h0M307.0 611.0h0M306.5 612.7h0M313.0 613.4h0M309.1 605.6h0M313.8 607.9h0M302.8 617.9h0M302.3 612.4h0M300.1 609.4h0M298.5 616.8h0M310.5 609.2h0M303.4 611.9h0M310.6 616.4h0M302.4 613.5h0M312.1 600.3h0M306.1 603.5h0M307.3 604.9h0M311.7 611.2h0M318.7 606.6h0M319.6 601.8h0M323.5 603.0h0M309.0 603.7h0M306.9 604.4h0M310.2 604.6h0M318.0 609.5h0M317.6 604.3h0M304.2 611.8h0M314.0 605.6h0M299.7 611.1h0M310.9 609.1h0M307.6 609.4h0M302.5 609.4h0M305.5 613.1h0M316.7 613.8h0M303.3 607.7h0M310.7 607.8h0M301.9 607.1h0M308.8 612.2h0M330.7 613.1h0M301.7 617.0h0M310.8 606.3h0M307.3 601.6h0M299.9 616.6h0M326.7 604.5h0M304.1 610.3h0M317.1 607.1h0M313.9 614.8h0M302.7 601.7h0M311.4 619.2h0M302.4 610.4h0M322.2 601.4h0M301.1 605.5h0M305.7 606.9h0M310.7 600.9h0M297.4 618.9h0M305.2 606.3h0M312.1 611.6h0M303.8 611.1h0M302.9 601.1h0M309.7 603.3h0M307.6 604.6h0M314.6 609.4h0M292.2 612.1h0M307.0 609.7h0M311.0 608.1h0M313.9 604.0h0M316.7 617.1h0M309.6 601.3h0M321.2 592.8h0M312.1 607.0h0M313.5 604.2h0M302.1 608.1h0M318.4 609.3h0M312.9 618.3h0M307.5 601.2h0M311.9 601.6h0M307.7 614.2h0M301.6 616.4h0M303.7 604.0h0M304.8 617.3h0M314.5 602.2h0M313.3 609.8h0M318.8 615.4h0M306.2 617.2h0M316.2 612.4h0M299.7 604.3h0M307.0 610.6h0M298.3 617.7h0M318.3 605.8h0M314.1 614.7h0M308.1 608.7h0M294.6 603.9h0M306.0 612.0h0M310.9 611.4h0M315.4 612.3h0M312.2 613.2h0M304.7 612.7h0M298.3 612.2h0M302.8 614.8h0M317.4 602.2h0M322.0 603.3h0M303.7 614.3h0M314.6 604.5h0M310.2 613.3h0M305.8 617.6h0M316.8 601.6h0M313.7 602.5h0M303.9 603.1h0M307.6 597.1h0M309.1 605.1h0M314.2 614.6h0M312.9 608.5h0M304.7 617.8h0M300.2 602.6h0M302.0 607.1h0M327.9 606.2h0M316.0 606.0h0M302.5 614.0h0M313.1 602.4h0M298.0 613.7h0M299.2 610.0h0M301.5 606.8h0M311.4 612.8h0M313.9 608.7h0M309.7 604.6h0M309.0 618.9h0M309.2 605.5h0M305.3 607.3h0M318.1 607.3h0M310.3 607.2h0M305.8 610.8h0M305.4 610.7h0M295.2 608.7h0M311.8 609.2h0M304.4 611.0h0M306.1 606.3h0M307.9 602.3h0M304.4 615.1h0M309.9 601.7h0M299.7 613.0h0M298.4 594.6h0M309.0 606.8h0M314.4 610.0h0M327.0 603.8h0M299.4 608.4h0M295.3 612.7h0M314.2 604.0h0M308.7 607.0h0M291.7 621.6h0M321.5 611.6h0M307.7 601.9h0M306.2 608.3h0M314.5 612.4h0M312.1 609.7h0M303.9 612.7h0M318.3 607.2h0M303.8 601.0h0M313.9 602.2h0M301.1 604.7h0M310.3 616.3h0M309.0 608.5h0M301.1 621.6h0M308.0 610.0h0M307.0 605.0h0M313.8 614.9h0M307.9 602.5h0M314.7 605.0h0M311.2 608.9h0M318.8 607.2h0M318.2 605.0h0M319.0 606.9h0M301.6 611.5h0M312.4 598.3h0M325.2 605.4h0M290.9 617.5h0M304.9 601.9h0M310.9 607.4h0M304.4 611.0h0M307.2 600.9h0M304.7 606.3h0M312.3 611.0h0M319.2 608.6h0M298.7 609.8h0M309.0 614.7h0M311.0 608.1h0M312.3 610.7h0M303.0 614.0h0M303.5 610.2h0M312.6 612.2h0M304.6 610.7h0M317.1 609.6h0M307.5 606.8h0M305.3 609.6h0M306.6 599.1h0M300.6 611.1h0M310.7 612.0h0M311.6 608.0h0M308.2 619.1h0M289.6 612.8h0M302.5 602.4h0M313.7 607.6h0M317.6 612.8h0M303.3 618.8h0M308.4 603.9h0M308.1 618.1h0M319.1 608.1h0M312.5 611.2h0M307.2 613.6h0M297.0 620.2h0M323.7 611.4h0M310.4 599.5h0M311.7 607.0h0M300.8 608.1h0M296.7 610.8h0M310.2 611.4h0M312.3 612.2h0M313.0 617.6h0M307.4 619.0h0M306.9 600.8h0M306.1 611.9h0M308.6 603.1h0M311.1 604.5h0M303.9 615.8h0M298.4 610.5h0M309.4 599.9h0M306.9 608.6h0M320.1 607.2h0M296.6 610.3h0M300.9 614.7h0M312.0 609.6h0M308.4 612.1h0M309.3 598.7h0M320.0 602.4h0M308.6 602.7h0M296.8 611.1h0M316.1 609.4h0M314.5 607.1h0M306.2 604.9h0M292.8 611.5h0M313.5 605.5h0M303.3 607.6h0M308.2 605.9h0M309.2 611.7h0M311.7 603.6h0M315.6 610.9h0M308.0 613.7h0M303.1 615.5h0M311.2 607.1h0M309.3 606.2h0M307.2 608.4h0M323.9 599.7h0M302.4 613.2h0M314.9 609.0h0M318.6 616.6h0M296.9 619.3h0M308.6 613.2h0M307.8 612.2h0M303.5 610.8h0M312.8 604.4h0M302.9 611.8h0M305.3 602.1h0M304.5 607.7h0M303.6 613.3h0M309.7 594.8h0M299.2 603.3h0M307.2 609.7h0M314.5 612.0h0M303.7 610.8h0M307.8 609.5h0M303.3 607.1h0M307.4 614.5h0M310.8 607.8h0M301.7 608.5h0M301.8 612.3h0M312.0 609.5h0M312.1 601.1h0M304.1 609.8h0M314.1 609.5h0M297.6 613.7h0M309.7 610.8h0M307.1 610.7h0M317.5 607.0h0M316.0 607.5h0M299.5 613.2h0M304.5 607.9h0M311.9 606.6h0M299.4 609.2h0M297.1 618.5h0M310.7 611.7h0M311.0 612.0h0M317.4 600.6h0M304.3 604.8h0M320.0 610.1h0M311.8 601.2h0M320.2 610.3h0M305.9 608.1h0M301.4 609.0h0M304.2 614.8h0M315.0 599.9h0M314.7 607.1h0M300.0 595.4h0M303.2 617.6h0M303.8 613.1h0M324.2 606.3h0M306.3 605.1h0M318.5 607.7h0M302.5 613.7h0M311.2 609.7h0M312.1 610.3h0M308.0 608.5h0M318.1 617.2h0M318.2 594.4h0M307.3 613.9h0M313.3 598.1h0M319.1 595.9h0M310.7 609.4h0M318.0 600.1h0M309.2 606.6h0M316.4 610.0h0M310.7 608.4h0M309.0 605.7h0M295.8 617.0h0M298.4 609.8h0M306.5 612.2h0M304.1 604.5h0M309.7 617.7h0M305.2 614.1h0M313.8 601.1h0M310.3 607.8h0M302.0 605.8h0M313.1 606.7h0M317.5 602.4h0M297.4 616.6h0M305.2 613.0h0M305.3 607.5h0M323.1 598.2h0M309.7 602.2h0M301.9 606.8h0M318.5 606.0h0M299.5 606.5h0M325.0 600.9h0M309.8 607.0h0M301.8 612.9h0M304.8 606.0h0M310.9 613.5h0M306.5 609.8h0M311.1 602.8h0M311.3 608.9h0M311.1 606.3h0M307.1 610.0h0M313.4 604.4h0M299.3 611.2h0M318.3 596.6h0M302.8 612.5h0M311.9 608.9h0M305.2 611.2h0M309.2 615.6h0M309.2 614.8h0M306.0 608.5h0M306.0 607.2h0M319.3 595.2h0M316.5 613.8h0M323.0 608.0h0M310.4 611.4h0M305.8 605.5h0M309.2 601.0h0M307.1 608.3h0M296.6 608.5h0M306.6 614.2h0M312.7 604.7h0M303.6 610.1h0M297.9 613.2h0M315.5 606.6h0M306.3 614.3h0M315.6 611.7h0M304.5 599.6h0M300.3 609.6h0M303.3 613.1h0M302.3 612.9h0M308.1 613.5h0M321.5 610.1h0M301.7 605.1h0M312.6 605.3h0M318.5 609.1h0M315.2 594.2h0M304.6 608.9h0M308.2 612.2h0M319.8 606.5h0M303.3 607.1h0M308.8 606.9h0M307.6 615.1h0M309.1 609.6h0M314.8 607.7h0M300.5 619.5h0M315.8 607.4h0M313.4 610.1h0M304.0 604.4h0M308.4 600.7h0M317.4 616.3h0M313.1 608.4h0M312.4 606.8h0M322.2 612.9h0M314.4 603.9h0M302.9 621.3h0M301.9 607.6h0M305.8 610.8h0M316.8 607.4h0M311.7 606.0h0M311.7 608.2h0M315.1 605.7h0M316.1 605.2h0M301.5 603.7h0M306.8 615.8h0M308.2 610.7h0M296.3 600.7h0M314.5 606.8h0M307.8 605.9h0M301.7 612.0h0M318.4 604.7h0M304.6 608.8h0M312.2 605.7h0M318.2 598.3h0M312.6 609.9h0M300.0 611.5h0M312.0 607.0h0M305.2 609.4h0M308.1 610.3h0M298.6 616.1h0M316.3 607.7h0M302.9 611.2h0M294.2 611.0h0M311.8 612.8h0M307.7 609.7h0M315.4 601.2h0M317.1 611.5h0M310.0 607.2h0M310.0 603.4h0M308.9 604.5h0M303.9 602.3h0M308.2 608.8h0M302.6 603.4h0M312.4 608.1h0M305.7 606.9h0M307.2 606.6h0M313.4 606.4h0M308.7 606.0h0M305.2 600.4h0M317.0 605.1h0M315.9 613.8h0M304.4 612.1h0M305.9 612.8h0M302.2 612.0h0M312.8 609.9h0M312.4 619.0h0M313.2 604.9h0M318.0 603.0h0M302.9 603.6h0M304.7 611.2h0M306.5 606.3h0M310.7 599.4h0M300.2 617.4h0M322.4 610.0h0M304.6 607.8h0M315.8 607.6h0M306.7 608.7h0M301.3 604.3h0M314.8 616.2h0M304.5 605.9h0M320.8 610.6h0M297.3 612.7h0M308.9 606.5h0M318.3 613.4h0M316.8 605.9h0M319.8 611.6h0M303.4 605.9h0M306.5 602.0h0M306.5 602.7h0M314.1 607.8h0M314.0 607.5h0M305.4 606.5h0M307.9 606.3h0M313.5 615.1h0M299.1 616.3h0M302.8 601.5h0M315.8 611.8h0M306.3 610.2h0M303.4 604.3h0M311.1 617.5h0M296.3 613.2h0M309.7 608.3h0M309.3 606.7h0M308.1 594.8h0M306.1 607.3h0M307.9 609.6h0M312.1 604.9h0M315.4 605.9h0M299.1 608.7h0M311.7 599.0h0M303.9 607.8h0M320.9 604.8h0M320.7 619.1h0M301.6 613.0h0M310.5 601.6h0M315.1 607.6h0M309.2 613.7h0M306.9 605.7h0M312.0 609.7h0M307.2 611.1h0M319.9 605.8h0M311.0 608.5h0M317.2 613.8h0M315.3 610.3h0M301.0 613.5h0M320.9 607.1h0M314.7 605.4h0M304.1 612.8h0M317.4 610.8h0M308.7 607.1h0M308.8 611.5h0M315.7 604.5h0M311.9 603.9h0M317.0 603.5h0M308.1 615.9h0M312.8 603.7h0M317.0 602.9h0M317.2 600.1h0M298.9 607.6h0M300.5 613.2h0M304.6 609.0h0M303.7 614.8h0M304.4 618.8h0M331.8 605.2h0M297.5 614.1h0M313.3 609.7h0M299.8 613.8h0M313.1 596.0h0M315.5 610.4h0M316.0 597.8h0M305.8 602.6h0M311.1 606.9h0M308.9 608.2h0M306.5 616.0h0M311.4 608.0h0M309.8 616.5h0M308.1 599.6h0M303.1 617.3h0M310.7 610.3h0M312.6 611.5h0M305.4 614.5h0M302.3 612.1h0M311.0 610.1h0M314.5 607.4h0M319.9 603.4h0M305.5 610.9h0M302.6 606.1h0M310.5 607.3h0M315.4 600.6h0M301.6 615.5h0M317.8 606.0h0M293.1 603.7h0M313.8 605.4h0M307.8 595.3h0M310.6 606.7h0M317.0 606.9h0M312.5 605.0h0M297.9 613.1h0M307.0 604.0h0M304.8 602.8h0M309.0 605.3h0M302.6 606.9h0M314.4 608.7h0M302.0 597.9h0M304.1 607.2h0M313.7 603.9h0M313.3 605.9h0M310.9 600.6h0M307.1 610.7h0M308.9 616.4h0M311.9 620.2h0M313.6 614.9h0M321.9 607.6h0M316.6 604.1h0M303.6 598.7h0M313.6 602.6h0M316.9 605.0h0M312.1 598.8h0M311.6 607.3h0M315.7 597.8h0M307.6 612.8h0M305.3 610.0h0M298.9 612.3h0M322.4 607.8h0M308.6 612.5h0M320.9 603.4h0M319.0 605.7h0M305.1 611.1h0M307.8 605.1h0M313.3 609.0h0M309.4 607.2h0M302.8 615.5h0M303.0 614.3h0M307.5 618.9h0M309.9 613.2h0M312.1 608.1h0M303.8 604.8h0M306.1 623.8h0M296.2 602.8h0M301.7 595.4h0M319.6 604.3h0M309.9 606.8h0M313.5 610.5h0M302.4 607.1h0M312.9 607.3h0M301.2 613.6h0M312.7 609.9h0M316.3 609.5h0M325.1 598.2h0M293.9 616.6h0M307.8 609.7h0M305.8 613.1h0M314.2 601.7h0M307.3 612.3h0M321.4 603.9h0M307.0 605.4h0M312.6 605.8h0M298.7 608.9h0M303.0 606.1h0M309.3 606.5h0M309.1 602.4h0M310.8 607.4h0M308.2 617.2h0M311.9 608.8h0M304.8 606.9h0M320.9 610.1h0M318.5 611.7h0M313.5 611.4h0M310.7 612.3h0M309.8 602.1h0M310.3 607.4h0M310.3 601.1h0M303.5 613.9h0M320.3 608.1h0M307.2 613.0h0M321.4 601.8h0M303.0 608.2h0M307.1 598.0h0M313.8 605.0h0M306.4 610.9h0M315.7 606.7h0M311.7 610.8h0M309.1 619.0h0M307.8 608.5h0M294.9 605.3h0M318.8 604.8h0M311.1 609.4h0M306.5 604.4h0M312.8 602.8h0M306.3 600.8h0M306.6 615.1h0M301.8 612.5h0M305.0 609.0h0M311.2 606.5h0M305.8 610.2h0M302.5 613.5h0M320.3 606.8h0M310.6 605.7h0M307.7 609.2h0M300.4 613.7h0M304.4 616.0h0M317.6 608.7h0M313.3 604.8h0M298.7 614.4h0M303.9 612.0h0M316.8 611.0h0M312.8 607.1h0M305.0 620.3h0M310.6 609.1h0M307.4 604.1h0M310.3 606.4h0M308.6 612.6h0M306.5 613.1h0M315.7 606.5h0M300.6 616.7h0M298.8 609.2h0M307.5 605.5h0M299.5 614.1h0M316.3 604.8h0M308.7 605.4h0M312.0 610.6h0M309.2 615.1h0M315.5 613.0h0M311.8 607.6h0M316.3 611.9h0M310.4 606.2h0M312.2 616.4h0M308.6 611.4h0M315.4 612.1h0M299.1 620.5h0M315.2 604.5h0M310.1 612.6h0M324.0 606.1h0M311.6 609.5h0M301.8 604.7h0M315.0 609.1h0M300.0 615.9h0M304.7 614.6h0M300.6 610.1h0M309.8 612.4h0M329.7 605.5h0M312.8 607.6h0M310.4 612.6h0M304.9 607.1h0M307.1 616.3h0M311.3 605.9h0M313.6 607.8h0M310.8 607.8h0M302.5 604.4h0M315.7 600.6h0M304.1 602.8h0M294.7 615.4h0M301.5 605.1h0M308.5 612.4h0M317.3 599.1h0M290.1 613.3h0M310.6 606.0h0M299.1 617.8h0M311.0 612.1h0M309.4 605.4h0M304.7 608.0h0M309.5 611.0h0M301.9 617.0h0M299.9 614.6h0M308.7 603.3h0M302.1 612.6h0M323.1 598.9h0M304.1 604.7h0M309.8 612.4h0M311.5 612.5h0M304.8 612.1h0M306.5 610.2h0M307.1 616.4h0M318.5 613.5h0M313.5 607.3h0M302.1 613.3h0M297.1 611.8h0M305.4 612.0h0M309.5 608.5h0M315.0 612.1h0M309.4 605.6h0M298.7 616.2h0M303.4 605.7h0M313.7 615.8h0M304.2 610.4h0M301.6 611.0h0M310.1 603.7h0M301.8 605.5h0M322.6 610.0h0M320.0 613.9h0M303.6 607.0h0M300.4 612.0h0M314.7 613.7h0M320.2 605.6h0M302.5 609.8h0M300.3 611.0h0M307.5 613.8h0M310.2 613.3h0M305.6 606.5h0M308.4 613.9h0M305.2 619.5h0M301.1 612.0h0M297.9 613.4h0M311.8 612.0h0M307.4 606.7h0M305.5 614.7h0M307.6 613.6h0M309.9 607.1h0M308.2 606.5h0M302.4 603.8h0M316.5 601.4h0M303.9 609.3h0M311.4 597.5h0M302.5 602.8h0M309.4 602.8h0M310.5 616.5h0M293.4 609.3h0M303.9 610.9h0M304.7 610.5h0M300.4 612.3h0M311.2 611.9h0M305.7 609.5h0M316.4 610.2h0M296.5 615.9h0M323.1 599.2h0M311.2 612.7h0M297.4 606.7h0M307.1 604.2h0M308.8 604.3h0M310.1 604.3h0M312.9 605.7h0M311.8 606.2h0M314.8 611.2h0M312.0 612.9h0M309.1 602.8h0M311.8 621.2h0M308.9 616.2h0M312.2 609.0h0M305.9 608.3h0M304.1 611.7h0M308.9 607.6h0M315.2 604.6h0M309.9 605.2h0M316.5 617.9h0M314.3 613.8h0M304.8 602.5h0M320.6 598.5h0M322.6 590.2h0M320.6 599.4h0M311.1 609.3h0M307.3 611.5h0M310.7 596.9h0M315.4 605.6h0M303.7 611.2h0M305.9 613.1h0M295.9 615.4h0M304.7 608.2h0M305.8 600.2h0M317.2 610.0h0M314.6 610.7h0M302.8 612.4h0M312.9 607.5h0M313.7 608.8h0M304.7 606.4h0M306.1 611.1h0M310.6 605.9h0M305.5 616.3h0M312.5 611.3h0M318.1 600.1h0M306.6 604.9h0M304.8 613.0h0M310.8 604.7h0M308.6 608.8h0M295.2 611.3h0M293.5 616.0h0M305.3 606.1h0M304.0 602.9h0M304.0 605.6h0M310.8 607.8h0M304.8 612.6h0M315.3 599.9h0M304.0 606.2h0M307.7 604.9h0M313.8 597.2h0M307.6 608.3h0M310.9 605.6h0M296.5 609.5h0M313.6 612.7h0M308.3 615.1h0M313.7 608.1h0M316.4 604.5h0M320.5 604.4h0M303.5 602.7h0M303.3 601.8h0M303.1 612.6h0M307.8 612.7h0M305.2 611.2h0M310.1 607.4h0M315.7 608.5h0M309.1 601.5h0M312.7 610.9h0M315.4 604.9h0M303.6 602.4h0M306.4 609.7h0M313.0 603.3h0M302.5 612.2h0M308.0 609.7h0M307.4 610.3h0M299.1 613.1h0M311.5 603.4h0M315.0 608.4h0M278.5 604.0h0M311.3 604.4h0M289.7 616.1h0M314.5 602.5h0M309.2 606.6h0M319.2 603.5h0M289.3 610.9h0M308.6 604.9h0M289.9 599.2h0M312.4 619.0h0M298.4 614.0h0M302.0 609.3h0M295.8 596.9h0M297.4 608.2h0M304.8 611.2h0M317.9 606.4h0M326.0 611.9h0M302.4 612.6h0M295.5 595.6h0M300.9 612.7h0M299.1 606.2h0M300.8 610.8h0M317.3 615.5h0M307.5 611.9h0M311.7 619.1h0M306.2 603.9h0M307.3 623.9h0M316.3 606.0h0M298.2 609.0h0M319.6 619.2h0M306.6 602.7h0M298.6 611.7h0M304.0 617.3h0M314.3 614.9h0M303.1 611.4h0M310.2 605.8h0M305.8 618.7h0M310.1 608.8h0M315.5 611.7h0M306.8 611.6h0M308.2 606.0h0M313.4 616.7h0M303.1 617.2h0M300.1 612.5h0M294.6 608.6h0M299.8 604.6h0M293.1 604.8h0M297.1 618.4h0M310.5 610.7h0M301.1 606.8h0M308.8 609.4h0M307.3 607.8h0M303.5 611.2h0M294.0 610.2h0M287.0 597.8h0M316.7 600.4h0M303.2 611.6h0M307.9 615.6h0M298.9 598.7h0M284.8 614.0h0M312.9 611.4h0M315.1 611.8h0M312.1 605.5h0M287.8 609.2h0M305.1 614.0h0M319.9 612.9h0M298.7 612.5h0M304.3 601.6h0M303.9 614.0h0M316.4 618.2h0M305.4 605.9h0M297.4 614.2h0M278.5 595.3h0M305.7 603.8h0M303.0 610.8h0M302.9 607.7h0M295.5 619.0h0M289.7 597.7h0M311.1 595.0h0M299.2 596.7h0M288.9 613.8h0M303.7 617.3h0M290.7 607.6h0M305.2 621.7h0M316.1 605.1h0M302.8 611.5h0M291.5 606.2h0M301.2 611.4h0M300.9 600.4h0M292.6 614.4h0M308.8 621.0h0M289.3 611.5h0M313.4 597.5h0M313.5 611.0h0M304.2 611.0h0M308.2 603.5h0M299.1 604.4h0M297.9 601.0h0M293.7 597.0h0M292.1 615.1h0M294.4 600.6h0M320.5 612.8h0M304.8 609.8h0M290.1 616.0h0M307.0 604.2h0M295.8 600.9h0M298.7 619.9h0M309.4 607.0h0M319.2 618.5h0M296.5 616.8h0M295.2 605.8h0M297.3 605.5h0M309.3 609.5h0M313.5 613.1h0M308.1 615.1h0M288.8 615.0h0M315.2 610.4h0M311.1 619.9h0M290.3 611.5h0M285.4 623.9h0M311.6 611.6h0M286.8 605.8h0M298.7 615.9h0M317.2 611.2h0M298.6 597.1h0M306.0 606.5h0M304.0 612.6h0M294.3 621.6h0M313.4 618.7h0M301.9 599.0h0M307.2 610.8h0M312.2 606.9h0M312.5 595.4h0M324.4 609.2h0M298.5 601.4h0M296.2 616.5h0M297.0 609.7h0M304.7 620.2h0M323.4 610.7h0M312.0 615.3h0M300.6 608.6h0M323.3 625.5h0M300.7 607.6h0M312.4 609.3h0M311.3 602.3h0M315.2 617.3h0M306.8 602.0h0M291.3 614.8h0M305.8 613.0h0M305.3 618.5h0M299.7 610.0h0M307.7 609.5h0M301.7 604.6h0M311.5 609.9h0M308.2 613.9h0M305.6 613.0h0M278.5 606.4h0M312.2 613.0h0M299.6 613.3h0M305.1 612.0h0M303.0 598.9h0M317.5 617.1h0M307.5 607.5h0M294.1 616.0h0M306.0 593.4h0M293.1 614.4h0M313.6 608.4h0M290.2 620.0h0M309.9 612.1h0M314.9 615.3h0M325.2 608.4h0M303.9 620.2h0M311.2 611.2h0M303.7 607.2h0M299.4 610.4h0M346.4 613.8h0M304.1 600.8h0M296.1 605.2h0M300.0 615.2h0M320.0 619.0h0M308.1 615.5h0M305.3 603.8h0M291.7 607.4h0M285.2 605.1h0M299.6 613.2h0M309.7 608.5h0M323.1 598.7h0M303.4 606.4h0M278.8 602.3h0M306.6 610.5h0M319.8 608.9h0M304.2 610.4h0M311.5 613.4h0M316.1 592.5h0M296.5 607.1h0M314.8 610.7h0M292.6 610.9h0M312.0 626.0h0M300.6 623.4h0M313.1 612.7h0M300.1 620.1h0M303.8 612.6h0M297.1 614.5h0M302.5 605.3h0M316.2 610.7h0M297.3 602.1h0M279.3 609.8h0M316.9 610.2h0M287.2 600.0h0M291.8 593.7h0M300.4 619.2h0M292.8 620.2h0M303.5 601.3h0M309.8 616.7h0M293.7 605.0h0M318.4 611.1h0M321.2 600.3h0M288.9 615.7h0M317.9 600.8h0M302.3 605.2h0M282.2 611.1h0M280.4 618.8h0M284.4 602.7h0M280.2 615.3h0M281.4 617.5h0M283.1 596.6h0M279.3 608.4h0M281.9 618.3h0M278.5 601.6h0M283.0 606.9h0M281.3 626.0h0M280.6 605.5h0M280.6 602.2h0M281.8 617.4h0M281.4 621.1h0M289.5 614.8h0M281.7 626.0h0M280.6 612.8h0M278.9 614.9h0M281.5 602.1h0M278.5 611.3h0M280.7 623.1h0M283.2 603.1h0M280.5 609.9h0M281.1 603.2h0M286.6 617.5h0M279.4 603.1h0M280.7 609.4h0M278.5 625.6h0M280.7 609.7h0M278.5 607.9h0M279.6 604.8h0M278.5 614.3h0M279.3 625.4h0M279.3 605.9h0M278.7 610.7h0M280.7 613.8h0M282.4 611.5h0M280.9 609.2h0M283.1 623.5h0M281.1 609.3h0M278.5 604.0h0M284.9 608.7h0M279.0 617.7h0M284.4 608.0h0M280.8 601.7h0M279.9 601.9h0M280.2 616.3h0M285.4 620.7h0M278.5 609.1h0M285.8 605.1h0M278.5 609.2h0M283.5 615.1h0M280.3 616.1h0M282.6 608.5h0M278.5 619.1h0M284.0 604.5h0M284.6 608.1h0M284.7 621.9h0M284.9 608.4h0M282.3 608.9h0M287.1 612.8h0M283.8 609.3h0M284.0 607.5h0M278.5 611.0h0M279.8 607.8h0M280.3 607.9h0M278.5 621.3h0M280.3 609.3h0M280.3 619.1h0M284.2 618.6h0M283.7 599.6h0M284.3 605.5h0M283.0 611.2h0M283.5 611.8h0M283.4 612.9h0M281.3 610.9h0M278.7 605.6h0M280.4 626.0h0M284.1 605.0h0M281.9 613.2h0M282.8 604.5h0M282.1 610.3h0M280.1 596.1h0M283.9 618.3h0M280.9 608.2h0M285.1 626.0h0M284.4 610.9h0M285.1 615.1h0M279.8 605.4h0M283.8 604.5h0M281.8 608.1h0M283.2 608.5h0M284.0 614.8h0M282.2 613.7h0M282.5 604.1h0M279.4 626.0h0M282.7 610.6h0M286.1 609.6h0M278.7 594.6h0M285.6 615.1h0M281.2 622.5h0M287.0 602.7h0M281.6 618.0h0M281.9 609.6h0M280.1 614.3h0M283.8 602.5h0M286.4 608.8h0M282.0 611.6h0M278.5 612.7h0M283.7 610.2h0M281.7 609.9h0M279.4 611.6h0M280.9 612.6h0M282.9 608.9h0M283.8 613.2h0M278.5 624.6h0M278.5 605.7h0M278.5 615.2h0M279.6 610.4h0M300.3 586.1h0M321.0 586.3h0M332.2 590.0h0M315.5 593.5h0M321.5 591.5h0M315.2 595.9h0M321.6 590.6h0M323.4 589.1h0M322.1 581.8h0M321.4 597.0h0M325.5 595.6h0M320.1 595.2h0M314.5 588.7h0M314.8 584.4h0M323.0 594.8h0M313.7 588.4h0M322.1 589.8h0M312.2 585.9h0M310.2 587.3h0M320.8 585.7h0M316.6 587.0h0M318.4 587.4h0M308.8 588.1h0M320.0 584.4h0M320.9 588.5h0M316.2 594.9h0M318.2 590.4h0M307.4 594.9h0M316.3 593.0h0M325.7 589.2h0" stroke="#000" stroke-width="1.45" stroke-linecap="square" fill="none"/>
<path d="M420.9 622.7h0M422.3 612.0h0M436.0 608.0h0M426.9 601.3h0M419.0 602.4h0M428.9 615.4h0M428.4 615.5h0M431.6 610.5h0M421.6 609.1h0M436.7 599.2h0M417.6 605.7h0M428.7 606.5h0M440.2 603.5h0M427.9 604.1h0M426.0 613.9h0M420.1 612.0h0M414.7 613.0h0M425.8 613.2h0M428.2 599.6h0M428.5 610.5h0M436.2 604.5h0M425.7 605.3h0M422.5 608.1h0M428.5 609.7h0M425.5 606.9h0M424.0 613.7h0M420.5 611.9h0M438.1 605.9h0M427.0 610.2h0M434.3 604.1h0M424.9 606.8h0M420.2 618.7h0M421.0 609.5h0M433.0 615.9h0M425.1 606.0h0M421.4 604.9h0M434.0 613.8h0M422.8 605.9h0M427.0 605.8h0M441.3 594.2h0M423.3 609.6h0M424.6 604.5h0M436.2 610.6h0M423.1 611.4h0M432.5 602.8h0M425.2 610.0h0M429.1 612.9h0M429.2 604.3h0M434.3 608.3h0M425.0 607.1h0M431.6 615.1h0M437.9 599.6h0M431.4 611.7h0M428.1 602.6h0M428.1 602.1h0M427.8 606.9h0M429.6 597.4h0M439.7 596.6h0M424.5 613.8h0M435.8 608.6h0M438.6 597.8h0M442.7 598.1h0M422.2 609.8h0M422.6 618.1h0M425.0 609.5h0M433.3 604.2h0M438.1 608.4h0M424.3 615.8h0M428.1 619.5h0M422.0 609.9h0M427.7 608.5h0M430.7 612.3h0M433.0 599.9h0M421.6 618.5h0M420.1 613.3h0M435.6 606.9h0M427.9 605.5h0M432.8 602.3h0M430.1 610.6h0M419.4 610.3h0M438.9 615.7h0M418.0 603.9h0M429.0 607.1h0M424.9 605.8h0M431.0 596.4h0M430.7 610.4h0M431.9 603.6h0M423.7 608.3h0M429.7 607.4h0M419.4 608.0h0M420.0 609.7h0M438.7 604.8h0M423.0 608.8h0M438.4 610.6h0M430.7 601.7h0M426.2 604.2h0M432.1 602.9h0M439.4 613.9h0M425.7 611.1h0M427.7 621.3h0M428.0 609.7h0M428.9 607.7h0M427.5 615.9h0M422.5 612.3h0M429.4 612.5h0M422.2 611.4h0M429.5 604.5h0M434.3 609.8h0M435.3 601.7h0M423.3 608.6h0M435.8 614.2h0M440.3 609.6h0M426.7 605.5h0M430.9 607.6h0M428.2 614.1h0M430.1 614.3h0M426.6 611.8h0M426.7 597.3h0M421.8 608.6h0M433.3 605.6h0M424.7 606.5h0M433.5 601.9h0M431.3 615.6h0M420.5 612.7h0M423.1 613.9h0M428.0 610.1h0M417.0 616.9h0M432.6 600.7h0M422.2 620.6h0M435.3 597.7h0M425.6 606.4h0M435.0 606.5h0M429.2 612.4h0M427.3 613.0h0M429.7 599.9h0M424.4 607.8h0M421.4 605.6h0M421.5 608.1h0M417.0 607.6h0M425.3 611.2h0M421.4 613.4h0M425.5 607.8h0M441.8 601.6h0M430.9 605.7h0M422.4 605.5h0M414.3 605.6h0M425.5 607.9h0M417.5 613.2h0M418.5 607.1h0M417.5 611.3h0M428.1 608.6h0M432.9 611.0h0M436.5 598.1h0M420.9 606.6h0M422.9 606.4h0M416.6 610.5h0M430.2 611.8h0M419.5 607.5h0M431.8 614.5h0M414.1 616.0h0M412.7 620.6h0M427.9 614.5h0M434.0 609.7h0M420.3 609.4h0M414.9 622.3h0M431.3 603.1h0M431.0 611.7h0M418.6 616.0h0M424.5 617.8h0M430.1 605.6h0M428.7 615.1h0M422.3 611.8h0M427.3 619.3h0M436.0 605.1h0M423.6 607.7h0M432.0 609.2h0M436.0 607.3h0M433.7 611.7h0M429.7 613.2h0M437.1 609.7h0M426.1 606.0h0M416.7 606.5h0M430.9 615.2h0M437.0 604.0h0M430.5 609.9h0M440.7 605.2h0M435.1 611.1h0M415.7 607.6h0M432.8 608.9h0M424.6 617.3h0M422.5 623.6h0M425.0 604.3h0M429.3 607.3h0M433.8 605.0h0M423.1 605.7h0M425.9 607.8h0M425.4 610.1h0M428.1 611.4h0M418.6 613.0h0M420.8 616.2h0M428.2 600.9h0M432.3 620.2h0M429.5 604.1h0M434.2 607.3h0M436.6 606.2h0M429.6 618.4h0M425.4 604.3h0M436.0 610.1h0M426.1 615.7h0M418.9 610.6h0M420.4 614.5h0M429.9 600.0h0M435.2 610.6h0M436.5 611.6h0M426.8 611.0h0M412.7 622.4h0M432.8 603.1h0M436.2 610.8h0M430.7 609.5h0M428.7 601.0h0M427.4 606.2h0M430.3 599.8h0M419.3 618.6h0M433.6 612.8h0M433.0 602.5h0M416.1 610.0h0M423.0 611.5h0M421.8 608.5h0M430.9 608.9h0M423.2 609.7h0M429.2 603.7h0M430.2 609.2h0M432.7 604.7h0M417.8 609.3h0M412.8 615.5h0M434.4 593.9h0M433.3 608.0h0M427.3 611.1h0M424.1 603.4h0M424.3 618.6h0M429.7 610.9h0M433.7 609.5h0M419.0 611.6h0M438.1 611.7h0M427.5 599.7h0M430.6 594.8h0M426.3 605.5h0M429.5 604.0h0M436.2 608.1h0M437.4 603.8h0M428.4 609.0h0M435.4 605.9h0M440.7 606.4h0M438.0 608.8h0M431.0 603.2h0M424.6 603.7h0M417.0 623.4h0M406.7 621.5h0M429.8 603.8h0M432.5 609.4h0M413.1 614.2h0M423.4 600.5h0M435.6 605.3h0M426.9 603.2h0M425.2 610.2h0M417.8 618.4h0M426.7 603.3h0M434.0 599.2h0M414.8 619.0h0M429.5 608.9h0M436.6 605.2h0M424.1 603.3h0M418.1 607.6h0M421.3 618.3h0M441.4 604.2h0M422.5 611.1h0M425.8 612.7h0M424.9 602.6h0M444.8 605.8h0M430.5 616.8h0M434.1 602.5h0M428.9 613.6h0M419.7 614.8h0M420.9 603.8h0M418.9 612.4h0M437.5 604.3h0M433.2 605.1h0M421.0 608.3h0M434.5 606.8h0M424.3 605.5h0M425.7 614.7h0M425.8 602.7h0M429.2 606.8h0M440.1 606.4h0M435.9 610.6h0M424.8 607.9h0M427.7 608.5h0M422.3 612.7h0M425.3 609.6h0M434.4 611.5h0M429.7 614.6h0M431.4 608.9h0M432.3 604.1h0M439.1 594.9h0M423.9 602.0h0M418.1 612.3h0M429.1 606.8h0M423.4 612.6h0M426.3 609.7h0M431.2 603.4h0M426.3 612.9h0M428.5 612.1h0M422.9 610.0h0M423.2 607.3h0M420.3 607.3h0M444.4 604.1h0M434.5 609.9h0M436.6 607.6h0M424.8 605.9h0M426.6 611.5h0M432.2 609.6h0M418.2 608.7h0M421.6 600.6h0M437.0 607.8h0M443.2 601.7h0M442.3 610.1h0M425.1 624.5h0M446.1 613.6h0M424.6 611.9h0M428.6 611.2h0M423.5 608.2h0M428.0 612.3h0M428.6 608.1h0M441.6 599.5h0M423.9 613.9h0M430.1 603.3h0M436.1 601.6h0M431.0 602.4h0M433.3 610.4h0M434.3 612.9h0M432.1 610.0h0M431.1 600.3h0M422.7 606.3h0M431.7 601.2h0M411.1 617.5h0M421.4 613.4h0M418.3 610.1h0M426.6 619.1h0M435.9 603.5h0M424.5 605.0h0M422.6 609.8h0M432.0 605.0h0M422.9 615.3h0M421.5 607.2h0M419.7 612.9h0M425.6 612.2h0M426.0 619.9h0M425.4 615.4h0M424.7 603.6h0M422.1 607.0h0M438.2 609.9h0M432.2 604.1h0M439.6 599.6h0M436.0 605.3h0M434.8 603.3h0M423.1 612.7h0M432.1 604.8h0M430.2 603.3h0M426.2 596.9h0M432.9 609.0h0M435.6 600.6h0M438.3 612.6h0M430.1 609.2h0M439.8 609.2h0M422.1 610.3h0M422.7 601.3h0M430.0 605.8h0M425.2 607.2h0M434.0 608.4h0M420.6 605.3h0M430.2 604.1h0M430.6 610.0h0M421.2 617.6h0M421.3 613.9h0M420.0 617.1h0M424.5 615.3h0M422.0 610.2h0M415.4 609.8h0M424.2 613.5h0M433.6 607.5h0M428.9 613.9h0M434.4 605.3h0M434.0 610.3h0M430.9 608.3h0M418.2 610.9h0M431.8 607.6h0M422.9 600.2h0M435.3 613.8h0M424.3 613.4h0M416.6 611.7h0M415.5 616.2h0M429.1 609.8h0M427.8 613.3h0M438.6 601.0h0M418.9 606.9h0M426.4 617.8h0M435.8 607.9h0M433.9 601.8h0M428.2 610.1h0M421.2 603.2h0M421.2 606.7h0M423.9 609.5h0M445.2 608.4h0M412.7 611.9h0M431.4 608.8h0M425.1 613.0h0M423.6 614.9h0M433.8 591.9h0M433.5 609.2h0M422.3 605.3h0M407.7 613.9h0M431.1 609.4h0M427.8 608.0h0M429.5 613.4h0M414.4 611.2h0M425.8 607.0h0M434.4 606.1h0M428.1 608.4h0M424.9 604.3h0M434.5 605.7h0M429.6 606.4h0M423.8 609.6h0M419.5 611.5h0M433.1 598.0h0M419.0 607.1h0M423.1 612.0h0M414.8 617.2h0M419.4 605.8h0M422.3 610.5h0M429.8 608.3h0M425.5 611.4h0M420.7 610.1h0M428.4 612.2h0M433.3 612.7h0M424.2 605.9h0M430.3 609.0h0M431.0 613.3h0M433.3 612.8h0M425.6 606.1h0M424.8 614.6h0M425.2 602.1h0M426.1 605.8h0M433.6 600.2h0M435.1 605.3h0M421.7 611.3h0M416.4 620.5h0M427.3 607.3h0M434.4 614.1h0M425.1 613.6h0M418.5 605.0h0M425.8 608.1h0M440.1 598.9h0M439.2 606.1h0M425.2 601.7h0M427.7 615.0h0M427.7 611.2h0M428.1 612.1h0M426.0 614.9h0M439.9 606.6h0M425.2 613.7h0M431.3 606.8h0M427.0 614.7h0M433.2 598.8h0M441.3 614.1h0M420.8 613.0h0M415.1 611.7h0M428.1 605.1h0M435.2 609.7h0M431.1 607.9h0M430.6 611.4h0M424.7 613.4h0M441.4 608.5h0M434.9 605.1h0M416.6 615.4h0M420.8 615.1h0M408.0 615.2h0M419.4 609.0h0M429.7 602.4h0M430.4 603.6h0M413.6 615.9h0M436.7 613.3h0M418.3 612.2h0M428.4 612.7h0M428.6 602.6h0M424.1 617.7h0M424.5 614.7h0M419.5 601.9h0M424.5 609.3h0M421.8 614.7h0M433.1 597.6h0M428.0 609.8h0M432.2 613.3h0M433.8 618.3h0M424.2 610.1h0M424.4 621.3h0M439.1 603.6h0M426.0 608.4h0M422.3 612.0h0M431.4 602.0h0M426.1 610.2h0M435.3 605.1h0M419.2 609.5h0M420.6 607.5h0M434.5 612.8h0M432.8 606.4h0M431.2 607.9h0M450.9 603.8h0M420.1 613.7h0M425.3 617.2h0M421.2 610.5h0M436.4 602.1h0M423.8 609.0h0M422.0 608.8h0M430.5 613.1h0M427.8 607.8h0M432.2 609.5h0M416.0 607.7h0M421.3 610.7h0M431.8 609.6h0M428.4 605.4h0M433.9 608.9h0M434.5 607.2h0M419.5 603.6h0M437.1 597.8h0M421.3 607.3h0M422.4 616.9h0M441.8 607.4h0M412.3 610.2h0M429.0 611.0h0M416.6 614.2h0M425.3 603.9h0M419.0 621.3h0M436.5 606.6h0M427.8 612.5h0M428.5 605.8h0M422.8 608.6h0M425.9 600.6h0M430.6 613.7h0M435.3 609.8h0M427.6 607.3h0M431.8 617.1h0M428.8 602.7h0M425.9 600.8h0M422.0 608.8h0M438.8 609.9h0M419.2 609.7h0M427.4 609.7h0M429.4 601.3h0M426.4 605.3h0M434.3 611.2h0M424.3 610.2h0M430.5 595.9h0M427.0 604.4h0M420.2 615.7h0M429.5 610.9h0M424.1 610.2h0M416.5 612.5h0M431.6 607.1h0M439.5 604.3h0M424.6 605.0h0M435.2 609.2h0M422.3 617.7h0M427.8 603.6h0M434.9 608.5h0M419.1 616.8h0M428.5 606.2h0M423.6 604.0h0M435.0 606.9h0M421.8 607.3h0M423.9 611.2h0M432.0 611.6h0M407.5 617.2h0M421.0 616.7h0M436.6 605.8h0M421.4 619.1h0M426.2 607.4h0M427.9 609.3h0M418.4 606.1h0M426.4 602.2h0M428.9 612.3h0M427.9 611.3h0M426.4 612.5h0M439.3 607.4h0M426.2 611.4h0M419.8 616.4h0M428.2 610.4h0M427.1 608.2h0M430.9 604.5h0M439.9 606.0h0M428.2 609.7h0M444.3 616.6h0M425.8 609.3h0M434.1 602.1h0M422.1 612.8h0M421.9 618.3h0M417.5 609.0h0M435.8 609.2h0M432.4 614.0h0M418.0 612.2h0M419.5 610.8h0M417.5 614.0h0M429.8 610.5h0M425.8 610.6h0M433.4 611.1h0M430.7 606.6h0M422.6 608.0h0M439.9 600.1h0M425.9 613.3h0M417.8 619.0h0M433.7 609.1h0M431.9 610.6h0M421.8 608.8h0M431.7 601.4h0M442.4 604.5h0M437.9 598.2h0M426.2 612.2h0M428.7 614.7h0M428.0 597.4h0M423.8 613.5h0M424.5 613.4h0M431.7 614.6h0M430.9 612.5h0M417.2 610.0h0M424.6 612.0h0M428.9 614.8h0M436.3 606.0h0M433.3 606.2h0M424.8 609.9h0M425.0 614.5h0M428.3 603.4h0M435.3 608.1h0M431.1 607.3h0M428.0 604.9h0M413.5 613.6h0M425.8 614.8h0M427.3 610.8h0M422.8 616.3h0M424.1 618.0h0M430.4 606.5h0M428.9 605.7h0M431.4 608.8h0M426.7 604.8h0M428.7 605.1h0M430.1 613.8h0M426.7 605.5h0M427.6 609.1h0M423.7 604.5h0M432.2 609.1h0M431.1 602.1h0M426.5 607.1h0M430.3 615.8h0M422.8 614.6h0M426.2 622.0h0M430.5 616.3h0M427.5 603.3h0M416.2 611.4h0M420.3 607.9h0M433.6 606.4h0M433.2 605.2h0M421.8 614.9h0M434.5 611.3h0M426.7 610.5h0M433.2 613.2h0M427.9 595.1h0M447.0 608.4h0M418.8 606.7h0M439.9 597.0h0M432.8 610.9h0M423.1 615.6h0M430.1 609.1h0M425.4 615.5h0M430.9 603.4h0M425.0 614.9h0M441.6 605.5h0M430.3 602.2h0M433.4 605.6h0M417.4 618.2h0M418.6 616.0h0M435.6 604.0h0M436.3 605.9h0M423.5 620.9h0M436.4 614.9h0M437.0 606.3h0M420.4 600.6h0M427.0 604.4h0M437.5 604.3h0M423.3 609.5h0M422.6 607.8h0M423.2 610.5h0M428.5 610.5h0M422.2 612.3h0M427.2 601.5h0M419.5 602.2h0M422.4 616.3h0M432.2 607.1h0M429.5 611.7h0M431.7 604.1h0M429.5 611.7h0M425.1 610.7h0M428.9 606.3h0M424.5 610.7h0M420.8 616.8h0M428.8 610.7h0M430.1 608.6h0M437.5 608.9h0M417.7 608.1h0M440.0 599.1h0M433.0 610.5h0M423.4 608.5h0M427.7 597.5h0M428.4 608.7h0M416.2 611.4h0M435.2 599.8h0M420.1 620.1h0M424.4 614.7h0M423.7 618.7h0M424.6 598.9h0M433.8 608.9h0M433.7 610.2h0M429.2 606.6h0M419.8 604.6h0M438.7 602.8h0M422.0 605.6h0M421.1 606.5h0M421.5 607.0h0M437.3 609.2h0M435.3 615.0h0M424.7 609.7h0M421.5 619.7h0M431.7 612.9h0M425.8 610.8h0M429.2 612.0h0M416.2 617.4h0M436.0 610.7h0M417.9 610.4h0M430.6 609.6h0M421.8 615.4h0M426.0 604.4h0M432.6 616.5h0M437.3 608.8h0M427.9 608.6h0M420.3 610.0h0M435.8 607.8h0M421.2 610.2h0M430.7 611.4h0M434.5 609.8h0M432.3 609.6h0M431.2 610.5h0M418.0 616.5h0M436.2 608.9h0M417.8 611.8h0M431.5 605.3h0M418.0 597.0h0M434.3 604.1h0M439.9 603.7h0M426.4 608.8h0M426.9 607.4h0M435.3 607.6h0M431.2 610.8h0M438.2 603.4h0M415.5 617.8h0M439.4 602.6h0M412.9 608.6h0M426.5 609.4h0M428.2 612.0h0M435.7 617.5h0M439.1 599.7h0M436.5 613.4h0M428.2 608.2h0M418.3 609.8h0M426.0 610.4h0M427.2 605.5h0M424.1 614.6h0M435.5 595.3h0M425.5 611.2h0M421.4 604.1h0M431.6 602.8h0M433.3 609.9h0M424.1 608.7h0M418.9 610.5h0M428.7 609.0h0M435.9 604.9h0M417.3 612.5h0M436.2 603.2h0M445.4 602.5h0M433.7 595.4h0M423.2 615.8h0M434.9 612.2h0M420.0 608.4h0M432.1 609.0h0M429.2 604.8h0M428.1 608.0h0M436.6 604.1h0M413.0 616.9h0M434.1 593.7h0M434.4 612.9h0M425.8 606.1h0M436.9 605.7h0M427.5 615.8h0M426.1 617.3h0M426.4 598.7h0M417.1 612.4h0M433.5 612.7h0M424.2 609.8h0M423.8 608.1h0M416.6 618.0h0M425.4 608.1h0M425.3 607.0h0M429.9 607.9h0M424.4 611.4h0M435.9 597.4h0M435.4 607.9h0M423.8 604.6h0M423.4 611.9h0M423.7 607.8h0M429.7 611.8h0M423.2 610.0h0M430.5 611.2h0M423.8 614.1h0M444.0 608.3h0M441.2 603.4h0M435.3 611.1h0M432.2 608.7h0M423.8 610.9h0M417.0 613.4h0M439.9 611.8h0M434.5 609.0h0M416.8 607.7h0M427.1 611.2h0M441.7 607.9h0M421.0 619.9h0M434.6 609.1h0M425.1 612.2h0M435.4 605.7h0M424.3 609.4h0M425.1 608.6h0M430.7 604.6h0M439.9 604.3h0M424.6 607.4h0M431.9 613.6h0M420.8 607.4h0M436.1 606.3h0M427.8 606.4h0M434.5 613.1h0M438.0 608.5h0M419.8 614.7h0M428.4 613.0h0M414.2 618.5h0M423.4 608.1h0M439.9 609.0h0M427.5 599.6h0M422.9 609.2h0M437.7 605.7h0M426.5 608.7h0M426.1 606.0h0M416.9 611.1h0M437.6 601.6h0M420.8 608.2h0M422.3 613.4h0M430.7 612.3h0M422.1 606.4h0M427.7 603.9h0M437.4 609.5h0M426.4 608.5h0M422.3 610.2h0M413.9 609.4h0M441.0 601.3h0M427.6 606.9h0M437.6 607.3h0M429.1 611.0h0M425.0 607.5h0M423.9 609.4h0M418.7 613.5h0M431.2 604.0h0M432.0 614.3h0M419.8 609.2h0M423.9 616.2h0M431.3 610.7h0M424.5 613.6h0M421.8 614.8h0M438.0 596.1h0M433.1 612.0h0M414.4 600.2h0M440.9 604.9h0M429.0 614.4h0M426.3 604.9h0M424.8 613.8h0M421.2 609.0h0M426.6 612.8h0M428.7 605.7h0M435.7 610.2h0M417.2 617.3h0M426.8 602.5h0M424.5 602.4h0M429.2 607.8h0M433.3 611.7h0M421.1 604.3h0M427.3 618.5h0M431.0 602.6h0M424.8 618.2h0M428.8 609.5h0M422.4 616.8h0M428.9 605.7h0M434.4 609.9h0M435.2 608.5h0M433.1 611.9h0M426.9 609.2h0M442.7 606.1h0M422.5 617.3h0M428.6 605.8h0M425.6 616.6h0M424.4 602.7h0M418.7 616.2h0M419.7 608.9h0M425.7 611.9h0M433.2 612.9h0M420.4 618.6h0M426.3 620.7h0M422.3 613.0h0M443.4 625.7h0M428.5 600.5h0M441.1 609.1h0M425.0 609.6h0M424.9 610.9h0M429.8 607.7h0M426.6 603.7h0M418.6 617.0h0M441.2 605.1h0M435.6 612.0h0M418.0 618.7h0M430.6 614.7h0M425.8 605.7h0M425.7 611.8h0M425.4 605.7h0M429.1 605.7h0M441.1 605.3h0M422.9 601.1h0M434.3 607.5h0M430.1 616.5h0M433.7 617.9h0M424.9 600.6h0M425.2 601.3h0M429.7 602.0h0M415.8 615.6h0M432.6 608.4h0M442.2 607.3h0M427.2 610.5h0M429.0 616.1h0M417.1 609.6h0M431.7 599.5h0M431.1 606.9h0M427.0 607.9h0M424.3 610.4h0M433.1 596.9h0M419.4 613.5h0M414.7 606.1h0M414.3 617.5h0M425.8 606.6h0M425.5 605.7h0M435.2 601.4h0M406.6 609.7h0M436.1 606.3h0M426.4 609.5h0M420.4 614.4h0M430.4 603.3h0M437.5 610.5h0M420.2 610.6h0M432.8 610.8h0M434.9 608.8h0M432.5 603.3h0M439.1 602.7h0M423.8 602.8h0M413.3 617.0h0M436.3 607.2h0M423.5 604.3h0M423.6 605.6h0M432.6 615.4h0M424.7 605.2h0M429.6 606.8h0M422.6 615.9h0M425.3 608.4h0M438.2 608.2h0M425.5 608.8h0M430.3 609.2h0M429.5 602.5h0M438.8 602.0h0M431.3 605.4h0M419.8 601.2h0M426.5 614.6h0M423.6 610.5h0M430.7 625.7h0M426.0 612.2h0M427.4 608.6h0M439.9 606.8h0M426.2 605.4h0M419.5 605.1h0M439.9 598.6h0M425.1 612.0h0M437.3 612.1h0M425.0 607.0h0M423.4 601.9h0M428.9 612.9h0M433.5 610.9h0M435.6 602.5h0M431.1 601.9h0M434.3 603.1h0M442.8 597.6h0M416.6 610.9h0M423.5 610.7h0M434.4 606.6h0M423.8 608.5h0M424.4 604.6h0M426.9 602.8h0M423.9 606.5h0M437.7 603.6h0M440.8 607.1h0M422.7 609.6h0M426.0 621.9h0M432.2 606.1h0M415.2 611.2h0M433.6 603.8h0M424.6 612.3h0M423.7 613.2h0M425.9 620.7h0M420.0 609.2h0M433.3 609.0h0M415.1 607.7h0M433.5 608.8h0M434.5 611.4h0M421.8 621.6h0M422.9 620.6h0M433.9 610.4h0M428.9 611.8h0M419.6 617.9h0M425.7 610.3h0M427.4 612.4h0M424.2 602.4h0M442.8 611.4h0M426.2 609.9h0M427.9 599.7h0M434.8 607.0h0M436.6 609.8h0M424.8 610.7h0M422.9 605.3h0M422.7 613.7h0M438.0 607.1h0M416.0 624.9h0M432.5 613.2h0M423.5 613.9h0M430.5 607.7h0M430.0 605.5h0M422.8 618.3h0M421.9 600.3h0M417.7 603.8h0M425.9 607.5h0M426.0 609.3h0M434.2 601.2h0M420.9 611.0h0M417.3 615.5h0M441.9 606.2h0M436.7 607.2h0M425.3 606.0h0M428.9 605.9h0M420.4 620.7h0M425.4 611.7h0M416.3 613.5h0M423.4 607.6h0M427.9 609.2h0M421.5 608.2h0M421.6 611.1h0M430.8 612.2h0M425.0 614.9h0M419.9 609.9h0M435.7 602.0h0M427.6 607.3h0M429.4 620.1h0M423.8 601.4h0M427.5 602.8h0M436.2 606.4h0M422.8 601.6h0M425.4 615.7h0M427.7 609.0h0M435.1 601.1h0M423.5 603.2h0M433.6 606.0h0M432.3 601.2h0M430.6 604.1h0M424.6 608.8h0M430.0 600.4h0M415.0 618.0h0M417.2 603.4h0M430.6 599.6h0M415.6 609.8h0M424.3 614.9h0M411.6 614.7h0M433.9 612.5h0M426.6 612.1h0M428.1 614.0h0M427.4 601.0h0M438.1 606.0h0M418.1 613.7h0M434.3 600.3h0M424.9 617.5h0M439.8 605.9h0M423.4 611.6h0M429.3 603.2h0M432.6 594.5h0M428.3 613.4h0M429.2 603.2h0M431.7 602.6h0M421.9 607.7h0M430.1 608.4h0M419.9 615.6h0M432.4 605.9h0M439.6 600.1h0M428.7 610.8h0M425.1 609.7h0M433.9 607.1h0M430.8 600.8h0M413.3 612.8h0M430.3 609.6h0M438.7 605.8h0M414.2 615.6h0M434.1 597.0h0M435.6 608.6h0M422.2 614.5h0M424.5 614.9h0M436.3 611.4h0M428.2 606.3h0M435.2 615.0h0M444.5 606.8h0M432.4 609.1h0M425.8 615.9h0M435.7 605.4h0M425.6 609.2h0M427.7 613.5h0M421.6 610.6h0M433.0 611.7h0M432.9 605.7h0M426.8 605.7h0M441.9 607.3h0M438.7 608.8h0M434.3 603.6h0M419.3 606.1h0M421.4 614.7h0M436.9 598.2h0M431.8 617.1h0M430.6 618.5h0M446.2 602.1h0M425.9 597.1h0M422.8 608.1h0M433.7 607.8h0M416.0 610.7h0M420.9 615.3h0M434.4 604.8h0M428.0 622.1h0M418.9 613.6h0M426.4 613.2h0M428.8 600.1h0M435.5 605.0h0M443.6 603.3h0M438.2 605.7h0M432.5 607.3h0M434.0 610.4h0M437.9 606.3h0M431.8 609.0h0M408.3 613.9h0M408.2 611.1h0M423.5 599.9h0M415.7 608.3h0M423.3 604.6h0M421.5 614.1h0M438.1 605.2h0M422.3 606.8h0M433.4 610.1h0M424.3 604.3h0M432.2 601.1h0M439.7 609.3h0M427.4 606.8h0M422.2 614.5h0M421.7 606.8h0M428.2 610.0h0M423.5 615.7h0M418.4 610.0h0M421.0 602.0h0M425.7 609.0h0M429.2 615.1h0M420.9 604.6h0M420.5 614.5h0M429.3 614.6h0M439.8 609.5h0M420.0 601.1h0M426.8 614.3h0M413.2 601.4h0M442.9 611.7h0M419.4 603.6h0M430.3 616.8h0M435.9 597.1h0M421.4 612.1h0M440.6 606.2h0M430.6 615.6h0M418.6 616.0h0M423.9 614.0h0M413.4 625.6h0M419.1 618.5h0M426.9 610.5h0M424.7 610.1h0M421.9 596.6h0M416.7 610.8h0M430.0 617.4h0M418.9 616.5h0M412.7 609.8h0M425.7 600.0h0M440.1 609.0h0M422.3 602.3h0M438.0 616.2h0M434.0 619.9h0M410.2 611.3h0M431.7 621.9h0M431.9 615.6h0M408.2 613.4h0M411.3 609.2h0M417.7 601.9h0M422.7 606.1h0M415.4 608.5h0M439.3 621.3h0M425.6 603.3h0M419.5 606.0h0M415.8 613.6h0M418.7 611.9h0M420.9 608.5h0M430.3 602.6h0M412.0 606.2h0M418.5 610.4h0M429.1 602.5h0M438.8 607.9h0M409.4 617.7h0M430.1 606.7h0M424.3 599.7h0M413.6 609.4h0M418.5 614.6h0M420.8 613.4h0M412.6 614.6h0M434.6 622.5h0M431.6 615.3h0M428.7 610.2h0M417.8 608.0h0M427.2 618.0h0M431.3 611.2h0M432.4 598.7h0M426.7 611.6h0M411.6 608.2h0M403.4 610.1h0M436.0 610.4h0M436.5 610.6h0M415.0 617.5h0M450.2 614.5h0M423.4 611.2h0M422.1 606.9h0M418.6 611.8h0M422.0 612.9h0M437.1 604.0h0M433.9 609.7h0M440.4 608.2h0M422.3 611.7h0M411.6 603.8h0M416.2 601.2h0M402.4 618.0h0M429.4 613.7h0M416.4 605.2h0M429.1 616.1h0M419.0 588.3h0M421.6 614.5h0M437.3 594.9h0M423.3 612.9h0M435.2 603.1h0M425.0 595.4h0M437.5 606.0h0M438.8 601.7h0M411.9 604.9h0M427.3 611.3h0M424.6 610.0h0M410.4 611.2h0M404.6 595.4h0M398.0 610.8h0M448.1 621.4h0M443.5 610.8h0M434.4 608.4h0M415.7 623.3h0M423.6 621.8h0M400.9 603.3h0M413.6 605.8h0M427.0 614.1h0M435.4 607.9h0M430.7 614.7h0M425.2 616.2h0M421.1 610.0h0M416.0 608.9h0M419.7 622.6h0M430.2 607.6h0M418.1 605.0h0M416.0 595.8h0M421.4 600.1h0M422.7 615.1h0M426.1 606.6h0M418.0 604.8h0M411.6 601.9h0M404.7 602.4h0M418.9 613.0h0M428.8 616.2h0M420.3 599.3h0M433.0 618.2h0M438.8 612.7h0M424.2 612.8h0M432.2 606.1h0M431.3 619.5h0M434.1 622.0h0M416.5 613.0h0M428.3 601.7h0M425.7 610.4h0M418.3 605.8h0M411.9 615.2h0M420.8 604.4h0M425.8 592.2h0M407.9 605.3h0M417.3 607.7h0M417.0 611.7h0M412.5 600.5h0M414.3 614.7h0M435.2 609.0h0M423.5 608.4h0M423.6 602.6h0M414.8 598.9h0M431.6 605.3h0M430.4 603.7h0M426.1 599.8h0M426.6 609.1h0M428.4 607.2h0M415.2 608.0h0M437.4 599.3h0M412.1 615.3h0M422.2 608.3h0M421.6 603.7h0M422.3 617.8h0M421.8 620.8h0M420.6 611.7h0M404.8 607.7h0M404.6 600.4h0M422.2 601.2h0M418.1 614.5h0M422.1 614.4h0M439.8 624.5h0M430.4 607.1h0M429.5 602.5h0M410.1 616.7h0M434.0 598.6h0M408.5 612.3h0M426.9 613.2h0M400.1 618.9h0M428.4 612.1h0M427.0 614.2h0M434.1 617.9h0M411.5 620.8h0M425.6 622.0h0M425.4 608.7h0M406.5 622.4h0M418.7 607.0h0M436.1 608.2h0M410.2 605.0h0M412.9 606.2h0M412.6 618.8h0M414.8 607.2h0M420.7 613.7h0M435.2 611.4h0M438.6 610.2h0M415.8 595.8h0M421.2 611.8h0M410.1 606.4h0M428.8 606.3h0M416.5 618.3h0M429.2 611.9h0M451.1 613.4h0M416.3 610.6h0M422.2 609.4h0M424.5 601.7h0M409.1 618.8h0M420.4 606.9h0M415.3 606.1h0M421.8 604.9h0M422.5 604.0h0M432.8 605.0h0M425.0 617.9h0M442.7 615.4h0M412.0 613.8h0M418.9 613.2h0M434.3 604.3h0M430.1 612.9h0M422.1 615.7h0M432.6 601.0h0M427.7 613.8h0M421.4 609.4h0M414.2 603.7h0M430.1 604.8h0M430.6 615.0h0M438.6 619.4h0M432.8 603.8h0M429.6 604.5h0M426.7 608.7h0M421.3 604.8h0M412.7 603.1h0M400.3 607.4h0M398.0 615.1h0M402.5 613.7h0M398.5 613.8h0M398.7 609.2h0M403.3 624.3h0M405.3 611.0h0M400.6 611.3h0M400.6 601.8h0M404.3 616.9h0M400.9 614.2h0M404.2 606.5h0M398.9 614.1h0M398.8 620.6h0M398.7 601.3h0M398.0 615.3h0M404.5 600.6h0M398.6 608.1h0M398.0 612.6h0M398.5 616.9h0M399.5 609.4h0M398.0 607.1h0M402.4 621.3h0M399.9 609.3h0M399.8 610.4h0M400.9 621.5h0M400.9 620.6h0M400.7 605.0h0M399.3 609.5h0M399.5 605.8h0M398.6 606.0h0M402.5 610.4h0M398.1 612.2h0M399.5 610.9h0M399.5 602.3h0M403.0 601.6h0M400.6 607.9h0M401.3 606.2h0M401.0 600.3h0M400.3 607.7h0M398.9 602.9h0M400.1 606.1h0M400.5 611.4h0M400.4 614.8h0M403.0 604.7h0M403.3 610.9h0M398.9 607.5h0M400.3 604.3h0M403.4 611.6h0M400.3 608.9h0M401.8 607.9h0M401.9 617.6h0M398.0 613.9h0M399.3 604.2h0M398.3 608.5h0M403.7 601.9h0M401.2 611.2h0M399.3 610.5h0M400.0 609.6h0M399.2 610.4h0M398.0 605.5h0M398.7 606.6h0M403.8 601.8h0M398.0 608.8h0M400.3 601.2h0M401.7 612.9h0M398.0 607.2h0M402.4 621.1h0M398.2 615.9h0M398.0 607.0h0M402.8 621.8h0M400.9 597.9h0M401.2 603.7h0M399.7 610.0h0M402.7 607.2h0M398.5 606.5h0M404.7 606.3h0M401.7 598.8h0M398.1 604.6h0M399.0 621.0h0M402.8 621.4h0M400.1 606.0h0M399.5 599.2h0M398.9 618.9h0M398.0 616.0h0M403.1 606.1h0M403.7 604.9h0M398.0 604.8h0M398.9 620.7h0M404.0 608.1h0M398.0 610.6h0M400.5 626.0h0M400.0 609.5h0M400.4 609.6h0M402.9 613.3h0M398.0 612.5h0M399.0 609.0h0M400.4 605.6h0M398.9 602.7h0M398.2 621.2h0M399.0 616.6h0M399.3 601.2h0M403.0 606.4h0M400.7 613.3h0M398.0 614.1h0M401.1 607.9h0M398.0 601.5h0M401.1 607.0h0M398.0 610.8h0M398.0 609.4h0M403.4 621.8h0M399.1 610.3h0M400.0 610.8h0M401.5 604.9h0M400.6 623.0h0M398.1 612.2h0M398.0 605.8h0M398.0 602.6h0M401.1 609.1h0M400.7 603.4h0M445.9 592.2h0M452.0 591.8h0M448.0 587.5h0M427.1 586.3h0M439.9 590.1h0M437.0 586.1h0M438.9 589.7h0M439.8 595.4h0M432.5 590.7h0M440.2 583.4h0M433.8 587.1h0M438.2 594.4h0M445.0 586.9h0M435.7 592.6h0M433.0 583.6h0M439.8 581.0h0M449.4 586.2h0M458.1 586.8h0M445.9 586.9h0M440.7 592.3h0M440.8 587.8h0M440.5 587.4h0M443.8 590.6h0M445.1 595.1h0M443.0 590.4h0M435.8 584.4h0M437.5 590.5h0M447.9 585.5h0M443.4 581.5h0M434.3 595.1h0" stroke="#000" stroke-width="1.45" stroke-linecap="square" fill="none"/>
<text x="50.8" y="540" font-size="15" font-weight="bold" fill="#000" stroke="#000" stroke-width="0.3">94</text>
<text x="122.8" y="618.5" font-size="15" font-weight="bold" fill="#000" stroke="#000" stroke-width="0.3">1</text>
<text x="170.2" y="539.8" font-size="15" font-weight="bold" fill="#000" stroke="#000" stroke-width="0.3">95</text>
<text x="238.0" y="618" font-size="15" font-weight="bold" fill="#000" stroke="#000" stroke-width="0.3">1</text>
<text x="289.7" y="539.7" font-size="15" font-weight="bold" fill="#000" stroke="#000" stroke-width="0.3">2</text>
<text x="358.4" y="618.1" font-size="15" font-weight="bold" fill="#000" stroke="#000" stroke-width="0.3">0</text>
<text x="410.2" y="539.7" font-size="15" font-weight="bold" fill="#000" stroke="#000" stroke-width="0.3">2</text>
<text x="483.0" y="618" font-size="15" font-weight="bold" fill="#000" stroke="#000" stroke-width="0.3">0</text>
<line x1="144.8" y1="668.3" x2="144.8" y2="778.0" stroke="#333" stroke-width="1.6"/>
<line x1="37.5" y1="668.3" x2="37.5" y2="777.0" stroke="#bbb" stroke-width="1.0" stroke-dasharray="1 2"/>
<line x1="42.5" y1="776.0" x2="139.8" y2="776.0" stroke="#999" stroke-width="1.1" stroke-dasharray="1.2 2.4"/>
<text x="44.0" y="787.0" font-size="5.5" text-anchor="middle" fill="#777">10</text>
<text x="47.2" y="783.3" font-size="4.5" fill="#888">0</text>
<text x="65.5" y="787.0" font-size="5.5" text-anchor="middle" fill="#777">10</text>
<text x="68.7" y="783.3" font-size="4.5" fill="#888">1</text>
<text x="90.5" y="787.0" font-size="5.5" text-anchor="middle" fill="#777">10</text>
<text x="93.7" y="783.3" font-size="4.5" fill="#888">2</text>
<text x="116.0" y="787.0" font-size="5.5" text-anchor="middle" fill="#777">10</text>
<text x="119.2" y="783.3" font-size="4.5" fill="#888">3</text>
<text x="141.5" y="787.0" font-size="5.5" text-anchor="middle" fill="#777">10</text>
<text x="144.7" y="783.3" font-size="4.5" fill="#888">4</text>
<line x1="40.0" y1="740.0" x2="144.8" y2="740.0" stroke="#666" stroke-width="1.2"/>
<line x1="264.4" y1="668.3" x2="264.4" y2="778.0" stroke="#333" stroke-width="1.6"/>
<line x1="156.7" y1="668.3" x2="156.7" y2="778.0" stroke="#444" stroke-width="1.4"/>
<line x1="161.7" y1="776.0" x2="259.4" y2="776.0" stroke="#999" stroke-width="1.1" stroke-dasharray="1.2 2.4"/>
<text x="163.2" y="787.0" font-size="5.5" text-anchor="middle" fill="#777">10</text>
<text x="166.4" y="783.3" font-size="4.5" fill="#888">0</text>
<text x="184.7" y="787.0" font-size="5.5" text-anchor="middle" fill="#777">10</text>
<text x="187.9" y="783.3" font-size="4.5" fill="#888">1</text>
<text x="209.7" y="787.0" font-size="5.5" text-anchor="middle" fill="#777">10</text>
<text x="212.9" y="783.3" font-size="4.5" fill="#888">2</text>
<text x="235.2" y="787.0" font-size="5.5" text-anchor="middle" fill="#777">10</text>
<text x="238.4" y="783.3" font-size="4.5" fill="#888">3</text>
<text x="260.7" y="787.0" font-size="5.5" text-anchor="middle" fill="#777">10</text>
<text x="263.9" y="783.3" font-size="4.5" fill="#888">4</text>
<line x1="186.3" y1="668.3" x2="186.3" y2="777.0" stroke="#666" stroke-width="1.1"/>
<line x1="384.0" y1="668.3" x2="384.0" y2="778.0" stroke="#333" stroke-width="1.6"/>
<line x1="276.7" y1="668.3" x2="276.7" y2="778.0" stroke="#444" stroke-width="1.4"/>
<line x1="281.7" y1="776.0" x2="379.0" y2="776.0" stroke="#999" stroke-width="1.1" stroke-dasharray="1.2 2.4"/>
<text x="283.2" y="787.0" font-size="5.5" text-anchor="middle" fill="#777">10</text>
<text x="286.4" y="783.3" font-size="4.5" fill="#888">0</text>
<text x="304.7" y="787.0" font-size="5.5" text-anchor="middle" fill="#777">10</text>
<text x="307.9" y="783.3" font-size="4.5" fill="#888">1</text>
<text x="329.7" y="787.0" font-size="5.5" text-anchor="middle" fill="#777">10</text>
<text x="332.9" y="783.3" font-size="4.5" fill="#888">2</text>
<text x="355.2" y="787.0" font-size="5.5" text-anchor="middle" fill="#777">10</text>
<text x="358.4" y="783.3" font-size="4.5" fill="#888">3</text>
<text x="380.7" y="787.0" font-size="5.5" text-anchor="middle" fill="#777">10</text>
<text x="383.9" y="783.3" font-size="4.5" fill="#888">4</text>
<line x1="306.0" y1="668.3" x2="306.0" y2="777.0" stroke="#666" stroke-width="1.1"/>
<line x1="306.0" y1="741.0" x2="384.0" y2="741.0" stroke="#666" stroke-width="1.2"/>
<line x1="505.2" y1="668.3" x2="505.2" y2="778.0" stroke="#333" stroke-width="1.6"/>
<line x1="397.5" y1="668.3" x2="397.5" y2="778.0" stroke="#444" stroke-width="1.4"/>
<line x1="402.5" y1="776.0" x2="500.2" y2="776.0" stroke="#999" stroke-width="1.1" stroke-dasharray="1.2 2.4"/>
<text x="404.0" y="787.0" font-size="5.5" text-anchor="middle" fill="#777">10</text>
<text x="407.2" y="783.3" font-size="4.5" fill="#888">0</text>
<text x="425.5" y="787.0" font-size="5.5" text-anchor="middle" fill="#777">10</text>
<text x="428.7" y="783.3" font-size="4.5" fill="#888">1</text>
<text x="450.5" y="787.0" font-size="5.5" text-anchor="middle" fill="#777">10</text>
<text x="453.7" y="783.3" font-size="4.5" fill="#888">2</text>
<text x="476.0" y="787.0" font-size="5.5" text-anchor="middle" fill="#777">10</text>
<text x="479.2" y="783.3" font-size="4.5" fill="#888">3</text>
<text x="501.5" y="787.0" font-size="5.5" text-anchor="middle" fill="#777">10</text>
<text x="504.7" y="783.3" font-size="4.5" fill="#888">4</text>
<line x1="427.0" y1="668.3" x2="427.0" y2="777.0" stroke="#666" stroke-width="1.1"/>
<line x1="427.0" y1="739.7" x2="505.2" y2="739.7" stroke="#666" stroke-width="1.2"/>
<line x1="30.1" y1="673.0" x2="30.1" y2="789.0" stroke="#000" stroke-width="3.0"/>
<path d="M25.1 674.0 L30.1 663.0 L35.1 674.0 Z" fill="#000"/>
<line x1="45.0" y1="794.2" x2="492.8" y2="794.2" stroke="#000" stroke-width="3.0"/>
<path d="M491.8 788.7 L504.6 794.2 L491.8 799.7 Z" fill="#000"/>
<text transform="translate(23.3 722.8) rotate(-90)" font-size="15.5" text-anchor="middle" fill="#000" stroke="#000" stroke-width="0.3">CD62L</text>
<text x="246.2" y="812.0" font-size="15.5" fill="#000" stroke="#000" stroke-width="0.3">CD45RA</text>
<path d="M47.5 743.5h0M60.2 743.7h0M55.5 748.8h0M40.7 743.8h0M47.1 748.1h0M46.1 737.8h0M41.3 733.2h0M56.6 737.0h0M53.7 737.1h0M47.3 751.6h0M49.8 747.0h0M50.5 734.3h0M43.7 729.9h0M58.3 749.2h0M49.5 740.3h0M51.5 742.7h0M59.0 734.9h0M49.2 743.3h0M38.2 740.2h0M47.4 743.6h0M43.1 737.6h0M52.7 747.2h0M54.2 741.2h0M38.0 743.6h0M39.6 742.8h0M42.8 733.2h0M60.0 741.4h0M48.1 732.4h0M46.1 734.1h0M41.9 739.2h0M38.0 735.8h0M56.9 745.2h0M44.6 743.4h0M51.1 746.7h0M43.8 752.3h0M50.2 742.6h0M47.6 730.5h0M48.8 749.5h0M51.7 736.7h0M65.6 732.9h0M40.1 741.6h0M65.3 739.5h0M42.5 747.6h0M42.2 747.1h0M54.7 738.8h0M60.9 743.7h0M49.7 746.9h0M46.0 743.5h0M50.3 741.9h0M52.3 745.7h0M45.4 750.4h0M53.9 740.5h0M43.9 736.0h0M50.0 746.7h0M46.5 741.5h0M59.7 752.0h0M42.2 744.1h0M61.7 744.7h0M50.7 741.3h0M62.0 739.0h0M50.9 742.8h0M45.3 749.2h0M50.8 740.2h0M55.9 741.8h0M56.2 742.2h0M43.7 744.3h0M51.9 742.2h0M49.6 744.8h0M44.8 752.3h0M56.2 741.9h0M53.7 741.4h0M50.3 736.3h0M42.3 741.2h0M62.2 746.1h0M54.0 747.6h0M54.7 745.9h0M44.7 749.4h0M47.7 746.8h0M47.2 749.6h0M40.7 744.6h0M51.6 747.3h0M46.4 747.5h0M51.3 732.7h0M40.5 741.6h0M55.8 734.6h0M56.1 742.0h0M64.6 742.9h0M57.9 737.3h0M47.5 749.0h0M55.3 741.7h0M56.5 750.2h0M49.9 748.6h0M48.0 752.0h0M57.3 736.0h0M49.0 733.6h0M48.3 743.7h0M52.4 747.7h0M63.2 744.7h0M48.4 746.6h0M54.7 748.5h0M55.7 737.1h0M47.3 742.7h0M45.7 741.4h0M49.9 746.1h0M51.2 733.9h0M38.0 740.4h0M39.0 749.3h0M46.4 741.6h0M43.7 739.0h0M53.3 752.9h0M57.7 751.5h0M49.5 741.3h0M50.9 741.5h0M56.7 737.2h0M55.7 742.2h0M42.6 750.7h0M47.4 738.1h0M56.7 740.7h0M62.0 752.2h0M50.7 733.2h0M52.4 738.4h0M56.7 739.8h0M47.9 739.2h0M59.6 754.2h0M48.4 747.6h0M39.5 747.6h0M44.0 752.6h0M44.6 747.0h0M41.7 747.3h0M64.8 741.4h0M42.3 731.1h0M48.4 748.0h0M48.2 737.5h0M63.5 736.7h0M59.9 738.6h0M38.0 733.4h0M54.9 743.4h0M46.7 742.0h0M47.5 751.2h0M55.6 736.7h0M51.3 747.2h0M44.8 744.7h0M47.9 753.3h0M58.6 746.4h0M55.6 736.8h0M44.5 743.1h0M47.5 750.7h0M48.3 737.6h0M54.7 738.1h0M49.2 747.1h0M44.1 744.4h0M61.8 755.7h0M57.5 745.9h0M43.6 747.5h0M47.2 745.4h0M53.2 747.9h0M38.3 750.3h0M50.4 738.4h0M50.6 744.4h0M47.9 748.1h0M59.8 750.1h0M50.4 754.9h0M62.1 735.2h0M51.7 747.4h0M40.4 742.8h0M67.0 738.8h0M48.9 745.9h0M60.6 744.4h0M52.5 741.9h0M40.9 737.2h0M50.6 743.8h0M49.2 739.2h0M60.6 743.4h0M55.5 748.0h0M40.6 741.9h0M38.0 743.9h0M56.9 742.7h0M57.2 743.5h0M41.6 736.9h0M67.5 733.7h0M56.4 747.5h0M48.8 747.4h0M41.8 747.7h0M39.4 743.2h0M47.4 740.0h0M40.5 740.9h0M49.3 739.7h0M52.8 744.7h0M56.0 744.1h0M45.7 750.9h0M53.3 743.1h0M55.2 727.2h0M39.3 731.1h0M59.0 738.8h0M51.2 742.3h0M49.1 745.8h0M38.0 730.3h0M48.4 746.9h0M45.7 740.9h0M52.0 730.6h0M49.3 743.9h0M48.6 736.6h0M53.2 747.8h0M39.6 744.3h0M51.1 736.9h0M64.5 750.0h0M47.4 755.4h0M52.2 742.2h0M45.4 742.9h0M54.8 731.4h0M50.4 739.4h0M48.3 744.0h0M38.0 740.3h0M51.2 740.5h0M46.8 736.8h0M47.2 741.1h0M51.1 747.6h0M56.1 747.5h0M49.4 749.4h0M56.8 749.1h0M53.2 734.7h0M50.2 739.7h0M42.4 740.8h0M52.9 754.8h0M56.2 744.5h0M54.5 739.8h0M57.1 735.7h0M47.3 744.9h0M40.4 745.1h0M50.8 757.5h0M43.9 737.3h0M53.2 740.7h0M67.9 744.4h0M42.9 748.0h0M52.4 747.7h0M52.4 739.2h0M54.1 743.0h0M57.6 733.3h0M57.0 749.3h0M48.4 738.8h0M42.1 733.4h0M49.4 734.0h0M46.4 743.1h0M59.7 742.5h0M43.2 741.2h0M38.0 737.8h0M53.9 749.4h0M39.6 747.5h0M45.4 740.3h0M46.5 736.5h0M54.4 734.2h0M52.4 748.8h0M46.7 735.2h0M52.3 747.8h0M54.0 749.1h0M52.5 748.4h0M47.5 744.4h0M48.8 743.0h0M52.4 741.1h0M41.6 739.1h0M51.5 744.0h0M44.9 753.0h0M55.4 743.2h0M53.9 747.2h0M58.4 742.6h0M62.8 737.2h0M50.7 744.2h0M48.8 746.6h0M48.5 742.2h0M53.8 735.4h0M47.5 740.0h0M44.5 742.5h0M54.9 740.4h0M41.1 728.9h0M48.9 749.4h0M38.0 740.7h0M48.4 744.6h0M46.7 736.2h0M52.4 736.7h0M53.2 751.4h0M63.1 742.8h0M56.0 743.2h0M61.6 744.7h0M41.8 733.4h0M62.2 743.3h0M48.2 740.9h0M47.1 747.6h0M50.5 746.4h0M42.5 748.0h0M55.0 743.6h0M40.1 735.0h0M57.7 733.5h0M51.9 734.6h0M38.0 733.1h0M65.0 748.6h0M57.4 751.1h0M51.6 742.7h0M57.9 742.7h0M51.9 740.8h0M45.6 742.3h0M39.2 736.7h0M56.6 748.7h0M49.7 744.2h0M39.2 750.6h0M55.0 732.9h0M58.9 741.1h0M43.5 745.4h0M52.8 739.3h0M43.1 742.1h0M55.1 747.4h0M45.6 746.0h0M42.0 741.8h0M45.6 748.7h0M43.4 732.8h0M52.7 746.4h0M38.0 748.9h0M46.8 738.8h0M46.8 737.7h0M50.1 742.4h0M59.5 745.6h0M61.8 743.4h0M43.8 740.6h0M50.2 743.3h0M44.5 740.1h0M55.6 749.8h0M53.1 740.9h0M52.6 733.8h0M57.8 754.6h0M57.3 751.2h0M54.9 738.7h0M39.7 740.0h0M47.3 744.1h0M73.4 740.9h0M46.4 749.4h0M57.3 744.8h0M38.0 734.4h0M47.6 737.4h0M50.9 733.4h0M50.3 741.6h0M44.6 733.3h0M45.9 737.7h0M38.0 737.2h0M50.3 747.9h0M66.7 743.5h0M54.5 730.8h0M45.2 748.1h0M48.5 748.0h0M57.1 746.9h0M40.5 741.4h0M39.5 737.0h0M53.5 743.4h0M50.1 740.8h0M53.8 746.5h0M62.5 744.2h0M42.3 726.1h0M55.5 749.6h0M50.1 745.8h0M39.5 735.6h0M42.1 743.5h0M44.5 739.5h0M49.1 741.8h0M40.9 750.7h0M57.8 745.0h0M38.0 748.8h0M49.3 735.4h0M57.8 750.2h0M57.2 738.7h0M48.2 754.0h0M53.5 742.2h0M38.0 743.0h0M47.3 746.6h0M60.2 737.7h0M57.3 744.5h0M50.0 743.8h0M57.9 744.4h0M40.6 740.6h0M60.4 751.7h0M50.2 747.2h0M49.0 747.7h0M49.3 746.2h0M52.9 738.2h0M61.6 734.4h0M54.1 738.8h0M59.6 751.5h0M56.4 732.2h0M47.8 741.6h0M49.8 740.5h0M55.4 750.8h0M48.4 737.3h0M48.3 737.3h0M49.2 743.0h0M43.6 743.2h0M40.2 740.4h0M49.2 735.5h0M39.4 733.6h0M43.7 738.7h0M58.7 738.8h0M49.8 743.0h0M51.9 744.6h0M39.9 741.9h0M45.6 745.4h0M45.8 751.9h0M49.6 749.7h0M56.5 739.3h0M38.0 746.1h0M45.1 732.0h0M52.4 742.5h0M57.1 748.8h0M43.7 750.2h0M54.3 753.2h0M48.5 746.8h0M47.2 745.7h0M45.2 735.9h0M46.4 735.9h0M47.6 748.6h0M48.1 739.8h0M49.3 746.1h0M46.9 748.7h0M50.1 746.3h0M54.9 731.3h0M50.8 746.3h0M54.3 745.2h0M50.1 741.8h0M50.0 745.3h0M65.9 744.3h0M44.1 738.9h0M49.8 752.6h0M46.4 737.6h0M53.6 731.5h0M49.9 749.7h0M51.7 748.6h0M47.6 750.4h0M56.4 731.2h0M48.1 745.0h0M38.0 744.7h0M51.4 743.9h0M55.0 748.2h0M48.8 741.2h0M61.0 753.7h0M49.2 742.2h0M40.6 737.6h0M55.2 748.1h0M49.6 740.4h0M47.6 740.5h0M44.9 739.4h0M38.1 736.9h0M58.8 742.1h0M46.9 739.7h0M50.6 746.1h0M47.8 733.6h0M50.3 752.1h0M46.9 745.0h0M51.9 749.5h0M55.3 747.4h0M44.0 750.9h0M45.7 739.6h0M51.7 742.7h0M54.6 740.7h0M38.0 741.4h0M39.0 744.8h0M42.3 747.1h0M53.8 750.3h0M60.3 741.7h0M58.6 738.8h0M61.9 748.9h0M55.1 750.5h0M48.4 735.9h0M38.1 740.7h0M56.7 746.5h0M47.6 743.5h0M61.1 750.6h0M46.8 742.6h0M58.4 736.2h0M49.8 739.9h0M51.6 748.7h0M51.0 752.4h0M60.8 733.5h0M38.1 744.3h0M47.8 742.4h0M38.0 738.6h0M56.9 748.0h0M46.8 738.7h0M38.5 738.6h0M60.2 748.8h0M60.0 748.2h0M47.8 743.4h0M49.4 746.4h0M40.6 735.0h0M57.3 741.0h0M50.2 742.6h0M51.9 741.7h0M57.6 744.2h0M56.2 740.7h0M38.0 737.8h0M43.1 750.2h0M51.6 745.4h0M47.9 748.7h0M47.1 743.3h0M38.0 740.5h0M59.2 752.5h0M53.2 741.4h0M46.7 738.7h0M49.4 739.1h0M45.6 746.9h0M55.8 737.6h0M52.1 739.0h0M51.4 750.7h0M43.7 742.2h0M58.9 739.8h0M47.2 742.5h0M44.3 755.7h0M45.9 738.3h0M55.7 737.1h0M56.8 749.1h0M60.8 736.4h0M50.5 744.2h0M58.6 742.5h0M43.3 739.1h0M47.4 746.6h0M47.9 739.0h0M62.0 742.0h0M39.8 740.1h0M41.8 745.6h0M51.0 753.6h0M49.8 740.0h0M55.4 738.8h0M51.6 741.7h0M49.2 739.9h0M47.0 745.5h0M49.3 734.5h0M45.0 740.5h0M56.9 746.1h0M51.4 744.3h0M53.3 735.3h0M51.4 743.5h0M56.5 741.5h0M48.5 739.4h0M47.4 746.4h0M47.3 737.4h0M46.8 741.5h0M60.3 735.2h0M38.0 733.9h0M58.3 738.3h0M53.8 752.7h0M48.6 750.6h0M44.3 753.3h0M46.5 735.2h0M40.8 736.4h0M49.2 747.7h0M49.9 750.2h0M67.8 735.8h0M63.1 741.3h0M39.6 741.6h0M58.7 748.1h0M58.1 741.7h0M58.5 735.0h0M62.0 747.4h0M46.1 742.0h0M61.9 740.5h0M51.3 741.0h0M62.0 738.9h0M52.0 746.0h0M50.5 739.1h0M43.5 740.3h0M49.4 744.7h0M53.4 747.3h0M55.1 745.4h0M62.8 753.1h0M42.2 749.7h0M53.4 740.6h0M50.0 743.7h0M55.4 734.3h0M54.5 729.2h0M58.3 736.7h0M49.6 744.7h0M44.0 746.3h0M43.9 736.5h0M46.6 737.0h0M43.7 755.2h0M49.2 744.6h0M46.0 735.0h0M42.9 743.6h0M45.2 732.0h0M51.0 735.1h0M52.9 746.4h0M39.4 749.1h0M55.0 740.2h0M44.7 737.0h0M49.9 728.6h0M45.8 735.3h0M38.0 752.7h0M46.8 741.7h0M45.6 750.4h0M51.3 746.6h0M59.4 737.1h0M48.6 745.3h0M38.9 741.5h0M43.3 737.5h0M59.2 738.3h0M48.7 756.1h0M40.5 747.1h0M50.1 745.5h0M45.2 744.2h0M51.5 746.8h0M51.2 749.0h0M53.1 746.3h0M44.1 733.8h0M50.5 757.6h0M39.2 745.7h0M50.7 742.6h0M47.2 741.8h0M57.5 745.8h0M55.0 740.6h0M60.2 740.4h0M48.2 730.1h0M45.9 750.4h0M53.5 739.5h0M53.2 750.1h0M38.0 744.8h0M49.1 751.0h0M63.6 752.9h0M53.6 737.6h0M38.0 741.6h0M39.4 735.5h0M45.2 743.7h0M58.2 733.2h0M38.0 739.4h0M57.7 755.0h0M51.0 745.2h0M60.3 747.3h0M57.1 736.1h0M75.2 739.3h0M50.2 744.1h0M57.8 742.3h0M41.7 754.2h0M40.7 747.9h0M48.5 740.3h0M52.0 727.9h0M41.5 741.9h0M51.5 734.2h0M54.1 738.6h0M53.8 741.3h0M56.7 735.2h0M40.9 752.2h0M63.8 741.5h0M54.3 739.7h0M50.1 748.6h0M44.2 740.4h0M55.9 753.1h0M46.9 745.7h0M70.5 735.5h0M76.7 734.9h0M49.6 720.4h0M40.9 724.0h0M54.3 723.5h0M64.0 741.7h0M53.6 735.5h0M44.2 756.9h0M40.8 743.5h0M41.0 740.4h0M39.4 746.1h0M56.2 743.3h0M64.5 728.9h0M63.9 741.8h0M57.1 746.3h0M46.1 749.0h0M48.9 747.2h0M38.1 725.9h0M48.6 735.5h0M40.9 727.5h0M47.3 731.6h0M43.7 748.1h0M49.9 727.1h0M43.2 718.5h0M57.7 750.3h0M48.0 732.8h0M62.2 735.2h0M58.0 724.7h0M38.0 728.8h0M60.7 739.9h0M55.1 727.4h0M41.9 729.7h0M58.5 730.3h0M52.4 722.5h0M63.1 734.3h0M46.1 733.1h0M54.8 744.6h0M45.6 731.6h0M62.4 737.6h0M63.1 747.4h0M56.3 733.0h0M38.2 749.4h0M56.9 741.2h0M38.0 729.8h0M49.1 749.6h0M48.2 736.4h0M50.2 739.1h0M57.0 744.5h0M57.9 726.2h0M38.0 734.8h0M52.0 736.1h0M57.7 749.2h0M39.6 742.3h0M40.5 753.4h0M39.8 737.0h0M45.3 731.6h0M56.0 746.0h0M51.6 753.1h0M63.7 758.2h0M44.9 732.3h0M57.5 729.7h0M46.3 759.6h0M38.0 728.2h0M38.0 723.4h0M48.1 739.2h0M47.9 731.1h0M57.6 731.2h0M47.7 754.1h0M51.5 741.3h0M54.8 742.2h0M86.2 752.6h0M84.2 730.4h0M72.0 750.1h0M67.8 739.2h0M63.6 726.1h0M51.8 735.9h0M59.3 742.4h0M68.8 727.5h0M48.6 745.5h0M46.0 744.3h0M68.5 721.8h0M49.0 737.5h0M79.6 743.1h0M53.9 755.0h0M59.3 748.3h0M49.0 755.8h0M57.1 738.6h0M54.1 754.8h0M51.3 742.9h0M67.3 741.6h0M55.2 746.3h0M61.0 736.1h0M53.4 713.4h0M65.1 740.6h0M44.1 744.5h0M55.7 731.6h0M63.3 731.3h0M50.3 740.9h0M44.1 749.8h0M42.7 734.6h0M52.0 758.1h0M51.8 736.3h0M58.3 723.6h0M58.2 761.6h0M40.1 735.9h0M72.6 743.4h0M56.9 746.4h0M75.8 717.2h0M74.1 733.1h0M45.8 728.1h0M49.8 731.4h0M38.0 755.7h0M75.8 763.0h0M55.1 744.8h0M40.6 756.4h0M46.5 740.4h0M49.7 733.8h0M38.0 746.7h0M45.8 739.1h0M38.0 740.3h0M55.0 750.8h0M61.9 739.8h0M61.7 731.5h0M51.3 717.8h0M44.8 728.2h0M45.8 758.9h0M48.5 737.9h0M56.5 716.6h0M53.3 717.0h0M38.2 738.6h0M49.4 733.9h0M56.5 746.3h0M39.7 739.8h0M64.5 731.8h0M50.3 734.3h0M55.5 726.9h0M48.1 738.8h0M53.6 721.0h0M63.7 745.8h0M59.2 724.1h0M56.3 727.7h0M53.5 744.8h0M54.8 729.8h0M64.4 733.8h0M43.4 733.4h0M52.4 746.6h0M52.3 730.4h0M44.4 750.4h0M38.0 726.1h0M70.4 729.6h0M49.4 754.8h0M56.8 727.8h0M46.8 741.4h0M61.8 736.6h0M56.0 749.4h0M60.3 747.1h0M49.1 766.9h0M42.5 719.2h0M59.7 748.0h0M57.6 721.5h0M42.6 731.0h0M38.0 718.6h0M71.5 726.6h0M64.2 739.1h0M42.1 731.8h0M50.4 733.4h0M39.9 721.5h0M39.9 733.6h0M50.3 713.5h0M60.1 740.3h0M60.0 741.2h0M44.5 752.5h0M56.2 747.0h0M38.0 737.2h0M57.7 742.0h0M53.6 738.0h0M62.3 748.9h0M56.6 718.0h0M44.0 750.2h0M67.1 733.1h0M41.7 745.3h0M49.5 738.9h0M58.9 733.4h0M62.7 729.9h0M53.8 720.3h0M60.6 768.3h0M46.8 724.8h0M38.0 721.0h0M47.4 746.2h0M43.2 724.4h0M61.1 745.8h0M56.4 755.4h0M51.8 739.1h0M56.6 730.6h0M42.6 756.6h0M50.9 728.7h0M61.1 749.2h0M53.2 745.2h0M47.5 741.0h0M41.2 741.7h0M56.0 751.8h0M61.5 728.2h0M59.3 720.4h0M53.2 731.1h0M51.0 722.7h0M60.4 739.5h0M52.2 735.1h0M68.4 752.3h0M65.9 735.6h0M70.9 718.5h0M46.3 733.4h0M68.3 741.3h0M65.0 734.8h0M80.5 752.8h0M42.6 714.9h0M57.2 750.8h0M65.7 754.6h0M38.0 740.2h0M38.0 722.2h0M55.1 718.8h0M58.4 738.8h0M56.1 724.2h0M47.4 726.2h0M54.0 736.7h0M65.6 725.1h0M47.7 735.0h0M53.3 718.6h0M38.0 743.3h0M63.5 723.0h0M44.5 751.6h0M43.9 730.7h0M51.5 731.2h0M54.7 748.1h0M43.0 743.7h0M73.2 732.8h0M59.4 728.5h0M52.0 733.4h0M61.7 739.7h0M38.0 738.5h0M57.9 745.9h0M72.0 739.2h0M54.5 745.0h0M38.0 741.2h0M49.9 749.1h0M50.1 737.6h0M73.2 740.3h0M46.9 736.5h0M41.2 724.1h0M43.3 749.1h0M59.3 738.2h0M61.1 719.1h0M76.2 715.9h0M61.0 709.2h0M80.2 725.7h0M48.4 713.6h0M61.5 718.5h0M56.0 706.4h0M45.4 715.3h0M70.0 722.3h0M62.7 720.2h0M51.8 716.6h0M59.1 721.9h0M46.0 718.7h0M63.9 714.6h0M67.1 721.2h0M77.8 713.8h0M64.6 717.1h0M61.6 712.7h0M72.8 717.3h0M74.5 721.5h0M42.3 715.1h0M44.3 701.5h0M59.5 697.7h0M76.3 691.0h0M52.3 709.3h0M45.6 715.3h0M55.2 711.0h0M59.2 711.0h0M63.9 725.1h0M66.3 721.8h0M63.8 694.2h0M55.6 721.7h0M53.2 704.6h0M65.7 710.1h0M48.2 711.5h0M39.5 746.6h0M40.2 743.9h0M38.5 747.2h0M41.9 742.5h0M39.3 763.6h0M40.8 738.5h0M39.1 734.7h0M38.5 746.7h0M39.6 742.9h0M39.6 740.8h0M39.8 736.6h0M40.5 741.8h0M38.0 730.3h0M40.8 733.0h0M39.3 733.2h0M38.6 741.6h0M39.2 743.0h0M38.0 738.4h0M38.0 727.2h0M38.9 742.5h0M38.1 749.2h0M41.0 737.8h0M38.2 746.5h0M39.7 734.4h0M39.1 733.1h0M42.5 729.1h0M40.2 750.5h0M38.0 740.8h0M39.7 749.4h0M38.6 734.7h0M39.3 739.5h0M38.0 752.8h0M41.5 737.4h0M38.1 740.0h0M38.6 735.6h0M42.7 746.4h0M42.1 740.1h0M39.3 742.9h0M39.9 740.9h0M38.0 742.7h0" stroke="#000" stroke-width="1.45" stroke-linecap="square" fill="none"/>
<path d="M165.0 742.3h0M172.3 747.7h0M173.9 732.4h0M165.5 744.3h0M172.1 744.0h0M167.0 748.6h0M164.7 745.3h0M169.0 746.1h0M168.6 746.6h0M175.8 741.1h0M163.2 754.4h0M176.4 751.2h0M178.0 740.5h0M164.2 747.2h0M164.2 743.6h0M165.4 731.3h0M169.8 744.0h0M169.5 756.3h0M168.3 742.9h0M157.5 748.8h0M168.9 735.8h0M157.5 737.6h0M171.7 744.6h0M170.6 740.8h0M168.8 750.7h0M175.3 743.1h0M168.4 745.5h0M161.8 741.7h0M162.6 748.8h0M169.9 749.8h0M170.6 730.6h0M166.6 737.1h0M164.1 743.4h0M162.6 748.0h0M162.1 744.6h0M175.8 744.9h0M170.1 747.5h0M164.4 760.7h0M167.5 767.5h0M168.4 744.8h0M161.2 748.4h0M167.8 746.9h0M166.9 737.4h0M175.3 730.4h0M178.2 735.6h0M161.4 741.9h0M182.9 750.8h0M174.3 733.3h0M177.0 747.7h0M162.0 734.2h0M169.6 765.6h0M181.0 740.7h0M160.2 741.1h0M173.3 750.1h0M160.5 760.4h0M157.5 740.3h0M157.5 747.3h0M174.3 748.4h0M164.0 729.9h0M163.4 727.2h0M171.3 749.2h0M168.8 739.5h0M167.5 753.8h0M158.4 753.0h0M167.7 748.2h0M168.0 743.0h0M173.2 758.3h0M178.9 746.0h0M160.3 739.8h0M163.8 740.5h0M178.7 754.3h0M164.4 740.5h0M158.9 746.7h0M174.8 745.0h0M180.2 745.3h0M157.5 745.0h0M161.4 746.3h0M165.0 759.4h0M175.4 755.3h0M175.1 737.7h0M174.4 740.5h0M170.1 742.6h0M167.0 742.0h0M172.8 751.7h0M172.7 736.3h0M169.7 741.9h0M178.2 728.9h0M172.5 749.5h0M172.0 746.0h0M173.0 735.8h0M166.4 757.6h0M162.1 750.1h0M177.5 739.5h0M170.2 735.2h0M157.5 735.9h0M161.6 741.3h0M157.5 746.8h0M175.0 748.7h0M162.2 737.6h0M157.5 755.7h0M175.4 732.9h0M165.2 725.0h0M168.2 745.5h0M164.5 756.3h0M168.4 733.8h0M170.4 752.1h0M166.5 749.6h0M169.9 739.8h0M172.3 734.6h0M176.2 746.0h0M170.8 744.8h0M169.9 750.2h0M172.9 746.6h0M162.2 753.3h0M169.1 735.5h0M175.9 741.1h0M161.9 745.4h0M161.9 746.8h0M157.5 744.3h0M157.5 747.5h0M163.3 751.3h0M172.6 758.1h0M160.2 738.7h0M188.2 749.2h0M173.5 737.3h0M163.0 749.2h0M157.5 746.9h0M162.8 749.0h0M172.0 731.4h0M173.4 756.7h0M163.8 760.6h0M170.9 738.0h0M175.7 747.6h0M167.2 740.8h0M178.5 740.5h0M174.3 741.8h0M170.1 745.1h0M164.4 744.4h0M166.1 751.3h0M171.4 738.6h0M164.8 740.6h0M171.9 739.4h0M179.6 743.5h0M181.3 737.4h0M163.2 736.7h0M173.0 747.6h0M176.9 753.7h0M163.9 734.7h0M169.3 730.6h0M170.9 738.5h0M169.5 757.9h0M160.9 744.0h0M177.1 750.1h0M171.3 751.6h0M164.9 747.4h0M166.5 735.6h0M162.7 739.9h0M163.3 740.2h0M160.9 743.7h0M158.0 733.0h0M161.2 755.3h0M167.5 743.4h0M160.5 744.5h0M167.1 728.8h0M159.3 755.9h0M178.7 743.8h0M163.2 736.7h0M166.6 747.6h0M173.9 742.3h0M179.0 744.9h0M174.2 740.0h0M173.5 747.6h0M157.5 740.7h0M173.4 752.7h0M166.4 744.8h0M168.7 738.7h0M173.1 757.6h0M157.5 737.7h0M168.0 743.1h0M179.0 752.3h0M169.4 740.0h0M157.5 750.6h0M170.2 753.6h0M157.5 742.1h0M159.8 748.4h0M171.7 746.8h0M174.4 736.7h0M180.2 738.1h0M169.1 754.0h0M162.1 750.3h0M164.7 731.7h0M162.1 742.0h0M164.3 741.2h0M157.5 739.0h0M184.3 739.2h0M166.0 744.6h0M170.0 738.6h0M164.8 740.5h0M157.5 739.3h0M157.9 737.5h0M167.3 738.9h0M177.9 741.0h0M177.3 747.3h0M167.9 746.2h0M166.1 735.8h0M174.4 738.6h0M168.3 743.0h0M161.9 734.8h0M169.9 749.9h0M158.0 754.2h0M171.7 738.9h0M167.2 721.9h0M167.1 740.3h0M165.2 742.3h0M168.2 749.5h0M165.8 734.8h0M164.2 738.3h0M170.8 750.3h0M162.7 741.1h0M168.5 735.4h0M159.5 745.5h0M172.4 742.5h0M170.6 740.1h0M170.9 740.8h0M170.2 755.6h0M171.0 745.0h0M170.0 733.5h0M168.9 742.7h0M168.5 744.2h0M168.1 749.3h0M170.6 733.4h0M174.1 741.7h0M165.5 738.4h0M160.0 746.8h0M173.5 748.5h0M166.1 743.3h0M160.4 733.9h0M168.2 748.3h0M168.3 750.6h0M172.4 741.0h0M159.6 737.2h0M165.3 743.7h0M164.5 743.4h0M169.8 747.9h0M165.4 735.0h0M165.0 736.8h0M165.8 738.5h0M161.8 755.9h0M157.5 753.8h0M170.3 741.3h0M169.2 755.8h0M164.6 742.0h0M167.5 744.3h0M169.5 754.2h0M165.9 730.4h0M170.4 740.0h0M158.7 730.8h0M158.8 738.6h0M160.7 745.2h0M166.1 745.6h0M163.4 756.7h0M170.8 730.9h0M161.3 748.7h0M173.5 741.3h0M166.8 744.6h0M169.6 731.5h0M161.7 758.4h0M170.3 753.5h0M166.0 747.7h0M170.0 749.5h0M169.1 745.5h0M164.4 746.9h0M157.5 752.1h0M172.0 739.9h0M159.7 743.9h0M173.1 747.1h0M169.8 751.6h0M163.1 754.4h0M165.0 751.1h0M174.7 743.3h0M161.7 734.5h0M177.9 746.3h0M171.7 749.3h0M167.1 748.2h0M171.9 744.7h0M159.7 737.8h0M174.5 746.7h0M165.4 745.7h0M164.5 743.4h0M171.9 749.6h0M170.7 746.3h0M172.7 749.0h0M166.4 740.4h0M169.3 754.5h0M159.3 731.1h0M165.8 746.1h0M160.6 737.4h0M173.0 745.2h0M162.5 748.6h0M168.9 741.0h0M165.5 763.6h0M166.3 748.3h0M177.2 739.9h0M157.5 738.1h0M171.7 752.0h0M170.8 747.0h0M164.5 736.1h0M162.4 743.9h0M166.4 741.4h0M160.0 732.7h0M169.8 739.0h0M174.5 746.5h0M163.0 728.2h0M161.8 754.0h0M166.2 745.2h0M166.1 746.8h0M163.3 746.4h0M176.1 754.2h0M162.1 753.3h0M173.0 745.8h0M170.7 737.6h0M160.9 734.9h0M167.4 739.7h0M173.4 746.1h0M162.5 748.4h0M161.0 729.9h0M164.9 743.1h0M176.9 744.1h0M162.0 753.0h0M175.6 758.8h0M162.1 745.2h0M173.2 755.7h0M168.4 736.4h0M168.5 743.9h0M170.3 726.4h0M174.1 762.3h0M176.7 745.5h0M178.1 736.7h0M168.6 745.1h0M157.5 747.9h0M173.5 739.7h0M165.7 730.3h0M170.7 755.9h0M157.5 756.5h0M157.5 737.2h0M169.8 742.4h0M165.3 750.1h0M174.9 755.5h0M164.0 752.3h0M166.0 744.2h0M162.3 741.4h0M167.6 740.9h0M162.5 741.3h0M170.6 741.4h0M166.3 739.5h0M165.8 751.9h0M167.1 745.5h0M168.1 745.5h0M174.1 742.2h0M168.5 733.7h0M177.8 745.3h0M159.4 738.9h0M157.5 742.4h0M162.7 736.0h0M171.9 752.6h0M173.4 743.4h0M173.2 746.7h0M164.8 734.2h0M157.5 732.8h0M157.5 731.1h0M172.7 738.0h0M157.5 741.6h0M162.9 750.1h0M168.3 735.4h0M157.5 735.7h0M181.9 751.3h0M165.8 758.5h0M157.5 733.1h0M170.2 739.8h0M167.0 746.8h0M164.4 747.3h0M165.5 744.8h0M164.9 741.5h0M160.1 745.6h0M168.0 745.1h0M173.2 758.1h0M164.0 746.1h0M162.1 754.3h0M159.9 745.3h0M163.4 743.4h0M162.6 748.5h0M167.4 738.2h0M166.8 738.0h0M175.1 743.0h0M178.7 748.0h0M162.9 745.5h0M175.0 754.4h0M170.8 735.1h0M180.6 735.6h0M169.3 729.5h0M157.5 729.2h0M169.7 749.5h0M166.9 741.0h0M172.6 750.9h0M171.6 749.9h0M172.7 734.8h0M180.3 752.6h0M168.5 736.3h0M174.7 740.6h0M176.5 734.8h0M163.6 732.9h0M159.7 737.9h0M160.2 745.9h0M167.4 755.0h0M158.4 744.6h0M163.9 751.8h0M174.7 741.2h0M159.8 738.6h0M171.3 738.0h0M175.4 741.2h0M165.2 745.0h0M167.5 732.7h0M178.8 746.0h0M164.7 755.9h0M183.4 747.9h0M170.6 737.2h0M157.5 733.2h0M165.4 751.2h0M164.5 739.7h0M172.3 735.9h0M160.3 739.8h0M173.1 741.5h0M162.6 743.2h0M164.2 732.3h0M177.1 738.8h0M177.1 737.0h0M164.9 731.5h0M169.3 728.7h0M158.2 752.9h0M160.9 732.7h0M184.2 756.8h0M171.7 734.6h0M173.3 738.3h0M177.6 755.1h0M171.2 733.0h0M170.5 744.0h0M167.8 754.9h0M161.4 739.2h0M157.5 747.8h0M157.5 741.6h0M170.1 745.9h0M157.5 748.0h0M168.7 748.3h0M166.8 738.4h0M165.4 742.9h0M157.5 747.6h0M161.8 738.3h0M175.6 729.1h0M168.7 750.7h0M157.5 732.0h0M182.1 748.9h0M166.7 736.6h0M168.5 750.9h0M182.9 738.6h0M166.2 754.3h0M166.3 751.0h0M157.5 750.1h0M157.5 744.5h0M172.1 744.4h0M157.5 752.8h0M162.0 745.5h0M163.8 753.6h0M162.5 741.5h0M171.7 730.6h0M179.6 733.3h0M183.4 764.0h0M162.1 753.0h0M170.6 749.2h0M168.1 750.0h0M178.4 745.6h0M166.5 744.6h0M168.5 740.5h0M175.5 737.7h0M174.4 741.6h0M167.9 739.1h0M172.0 750.6h0M165.9 721.6h0M172.7 743.3h0M162.0 747.4h0M161.9 731.8h0M159.7 759.7h0M162.6 755.3h0M166.4 753.5h0M167.2 759.1h0M162.5 758.5h0M157.5 742.3h0M170.6 744.8h0M159.8 743.9h0M172.2 743.8h0M167.1 741.8h0M162.3 742.5h0M174.3 749.4h0M158.7 734.3h0M167.4 749.7h0M173.5 747.3h0M157.5 741.4h0M164.6 751.8h0M157.5 735.2h0M165.0 750.1h0M170.4 752.2h0M166.5 741.9h0M161.9 743.6h0M171.4 741.6h0M160.2 733.3h0M172.2 724.1h0M172.8 749.0h0M163.6 749.1h0M170.4 738.2h0M160.7 747.2h0M176.2 745.0h0M167.8 739.6h0M162.8 745.6h0M171.3 741.7h0M170.9 739.6h0M165.3 742.0h0M170.1 758.7h0M165.5 746.0h0M164.6 746.1h0M161.8 754.7h0M163.4 732.6h0M179.2 751.5h0M171.2 762.2h0M181.1 752.3h0M166.0 749.2h0M165.9 754.0h0M171.7 753.1h0M163.6 752.5h0M172.1 741.4h0M165.6 744.7h0M166.4 739.1h0M160.6 739.7h0M168.8 756.5h0M164.6 739.1h0M175.5 737.7h0M163.2 745.8h0M169.5 750.6h0M164.5 764.2h0M166.8 738.8h0M165.7 738.4h0M164.2 740.8h0M157.8 748.4h0M176.2 736.0h0M162.2 749.2h0M167.9 740.1h0M157.9 746.4h0M167.5 731.6h0M172.1 764.3h0M164.2 738.4h0M168.7 745.2h0M177.7 746.2h0M181.0 742.6h0M157.5 734.6h0M160.5 734.1h0M157.5 746.4h0M176.0 736.9h0M173.2 741.0h0M166.9 740.7h0M181.8 748.5h0M157.5 737.7h0M158.9 729.3h0M162.1 760.4h0M168.0 753.6h0M176.0 735.5h0M159.9 735.7h0M167.8 734.1h0M158.0 752.6h0M167.1 753.4h0M163.6 751.7h0M168.8 734.8h0M165.7 743.6h0M176.7 752.4h0M164.9 751.1h0M160.0 741.8h0M171.5 745.5h0M178.2 747.0h0M169.8 741.8h0M168.3 754.6h0M169.3 750.8h0M163.6 749.3h0M170.9 741.3h0M179.1 751.2h0M157.5 763.5h0M177.3 744.4h0M172.6 734.9h0M159.0 737.0h0M164.2 747.9h0M164.7 726.4h0M181.1 746.0h0M158.2 748.2h0M164.2 749.2h0M163.1 735.2h0M157.5 732.5h0M160.7 754.0h0M164.8 732.6h0M165.1 744.2h0M177.9 730.0h0M173.2 751.3h0M164.2 742.8h0M175.8 755.9h0M170.7 741.7h0M175.0 746.8h0M176.0 733.8h0M164.4 740.6h0M159.6 741.3h0M166.5 747.0h0M163.2 750.9h0M175.2 753.5h0M168.8 742.6h0M181.4 736.8h0M163.3 729.3h0M175.9 749.3h0M180.3 745.5h0M157.5 749.2h0M167.2 740.0h0M167.7 747.1h0M173.9 748.4h0M166.5 748.8h0M162.8 745.8h0M178.5 746.7h0M161.3 740.1h0M165.7 738.8h0M173.7 752.8h0M174.5 737.4h0M172.3 740.6h0M166.4 753.3h0M165.5 753.2h0M166.6 741.6h0M168.5 758.3h0M173.1 740.1h0M170.3 736.2h0M164.9 733.5h0M168.9 744.9h0M157.5 740.0h0M164.4 744.8h0M162.7 741.8h0M168.2 737.5h0M169.1 733.6h0M167.2 738.1h0M178.2 746.5h0M167.0 743.3h0M162.1 753.0h0M164.2 748.5h0M174.5 758.3h0M159.2 747.5h0M157.8 736.0h0M170.2 737.8h0M170.4 747.5h0M171.3 737.8h0M169.0 758.7h0M162.2 735.6h0M165.9 748.6h0M167.8 730.1h0M163.8 747.2h0M160.0 741.5h0M170.3 741.7h0M160.2 743.3h0M161.0 748.2h0M164.4 745.2h0M170.6 745.4h0M166.7 728.5h0M169.2 756.1h0M170.7 738.4h0M167.7 755.5h0M184.4 736.3h0M186.6 735.5h0M171.4 740.8h0M168.8 752.7h0M160.8 747.4h0M181.4 740.6h0M176.7 750.5h0M177.0 742.6h0M169.4 733.1h0M157.5 738.5h0M169.7 750.0h0M175.8 740.9h0M157.5 746.9h0M171.0 735.0h0M182.2 744.8h0M158.8 737.7h0M173.2 743.2h0M158.0 753.1h0M166.6 759.0h0M170.6 754.8h0M158.1 746.3h0M170.7 737.6h0M172.6 739.8h0M166.9 735.6h0M162.6 743.0h0M171.6 751.3h0M165.9 742.2h0M162.5 727.6h0M162.6 735.0h0M163.7 731.9h0M182.2 746.5h0M164.7 728.8h0M172.3 730.5h0M162.7 708.9h0M159.0 743.1h0M163.0 740.2h0M163.6 712.1h0M181.7 750.9h0M177.3 737.3h0M172.9 731.7h0M174.3 712.7h0M161.8 743.1h0M165.0 734.3h0M180.2 773.7h0M166.6 726.1h0M183.2 714.2h0M160.8 742.4h0M158.0 721.0h0M157.5 729.9h0M175.5 747.0h0M172.3 727.6h0M190.9 718.5h0M167.7 713.2h0M171.4 716.3h0M179.7 744.6h0M191.1 736.1h0M174.6 770.1h0M157.5 747.5h0M175.2 722.5h0M173.0 726.6h0M164.8 735.1h0M169.0 736.0h0M161.3 730.1h0M171.9 719.2h0M173.0 736.6h0M166.3 726.1h0M170.1 732.5h0M167.3 737.4h0M167.2 745.9h0M183.6 728.7h0M167.0 735.7h0M183.2 752.6h0M166.0 726.3h0M157.5 732.2h0M169.5 708.0h0M179.0 723.6h0M162.6 721.2h0M160.9 719.5h0M162.3 722.2h0M169.1 738.1h0M157.5 747.1h0M157.5 745.3h0M177.5 725.5h0M157.5 734.9h0M157.5 726.7h0M175.2 751.0h0M165.0 732.5h0M170.7 746.3h0M173.1 749.8h0M174.1 759.5h0M163.0 718.5h0M166.8 744.6h0M184.9 739.0h0M161.7 744.4h0M176.8 745.1h0M175.3 751.7h0M176.6 720.6h0M168.1 707.7h0M163.7 733.7h0M174.7 741.0h0M178.4 731.9h0M161.4 725.8h0M179.6 754.6h0M169.7 735.9h0M157.5 731.9h0M177.6 732.6h0M162.5 739.7h0M164.2 727.9h0M163.2 723.3h0M183.0 738.0h0M157.5 740.9h0M175.1 741.8h0M162.9 739.1h0M158.8 761.9h0M167.4 732.0h0M157.5 724.4h0M169.3 750.9h0M175.4 717.7h0M177.1 735.9h0M172.3 750.7h0M177.8 733.0h0M160.4 749.9h0M166.3 728.7h0M161.3 747.1h0M173.5 723.6h0M175.9 736.9h0M169.8 725.3h0M180.0 738.1h0M160.5 725.4h0M163.4 727.1h0M164.7 710.3h0M167.0 753.6h0M181.1 725.1h0M159.7 734.7h0M169.1 729.5h0M181.0 728.3h0M157.5 703.9h0M168.1 738.5h0M189.2 740.4h0M157.8 744.8h0M178.8 753.5h0M178.3 719.7h0M180.2 771.9h0M175.3 717.9h0M173.4 736.6h0M170.0 712.8h0M167.0 739.9h0M167.7 730.2h0M177.4 736.3h0M171.3 733.6h0M165.5 729.8h0M157.5 740.8h0M170.1 769.9h0M160.0 742.9h0M192.0 742.7h0M171.0 730.8h0M159.5 724.8h0M175.5 727.5h0M159.4 729.3h0M164.3 731.7h0M182.7 730.5h0M157.5 738.3h0M158.8 722.5h0M171.6 727.8h0M171.7 725.8h0M157.5 709.9h0M178.1 719.5h0M157.5 705.2h0M157.5 731.0h0M189.5 747.8h0M158.4 733.3h0M172.1 735.1h0M158.3 724.6h0M175.7 730.4h0M184.6 722.0h0M169.0 727.1h0M176.4 737.3h0M176.2 736.0h0M160.9 737.1h0M173.4 760.6h0M182.8 726.2h0M168.1 751.4h0M167.4 726.6h0M168.2 729.2h0M167.0 750.7h0M180.9 721.2h0M164.0 723.4h0M178.1 723.9h0M179.4 738.4h0M176.6 758.2h0M176.1 742.6h0M157.5 720.5h0M173.8 741.2h0M176.1 728.8h0M165.2 714.5h0M178.7 754.1h0M186.4 741.1h0M163.0 747.3h0M170.3 770.8h0M167.8 752.7h0M164.4 733.8h0M170.7 725.2h0M167.2 724.6h0M170.4 720.8h0M157.5 750.6h0M167.4 740.4h0M185.9 734.2h0M174.0 756.3h0M168.5 714.5h0M169.6 727.6h0M170.3 741.8h0M173.3 762.2h0M171.3 755.6h0M176.8 765.7h0M176.6 740.1h0M180.8 728.4h0M182.1 735.1h0M170.3 713.3h0M172.7 723.2h0M192.7 735.7h0M157.5 767.4h0M166.3 725.9h0M171.2 728.1h0M182.1 735.7h0M178.8 733.6h0M176.2 744.5h0M165.9 741.7h0M179.8 739.4h0M167.1 750.8h0M187.6 717.9h0M186.8 734.3h0M169.0 750.5h0M194.0 734.5h0M157.5 726.2h0M170.0 742.9h0M182.4 740.1h0M157.9 755.1h0M157.5 746.9h0M159.9 740.1h0M185.1 723.9h0M170.1 741.6h0M164.7 735.0h0M169.4 708.2h0M174.1 729.6h0M178.1 747.0h0M188.7 736.4h0M179.7 742.3h0M166.2 731.1h0M166.2 719.7h0M167.0 743.7h0M175.3 738.3h0M162.6 741.7h0M161.3 737.0h0M169.7 739.3h0M165.7 738.4h0M169.6 745.6h0M157.5 728.1h0M176.6 744.5h0M185.6 719.0h0M159.8 748.7h0M157.5 753.0h0M193.2 737.7h0M170.6 762.2h0M169.2 742.0h0M174.1 751.0h0M181.2 734.9h0M171.7 728.4h0M157.5 750.5h0M158.3 721.3h0M166.0 740.3h0M160.7 728.1h0M172.1 714.3h0M160.3 745.7h0M157.9 753.0h0M160.9 741.6h0M183.9 730.6h0M184.6 717.4h0M157.5 760.5h0M157.5 753.7h0M160.5 746.9h0M157.9 747.2h0M157.5 735.8h0M157.5 717.5h0M157.5 713.7h0M158.3 763.9h0M159.2 734.3h0M158.6 734.9h0M158.6 741.7h0M158.7 761.4h0M158.1 728.1h0M160.9 750.7h0M158.4 742.9h0M159.9 728.0h0M159.1 736.7h0M160.5 735.7h0M157.7 736.3h0M158.1 733.1h0M159.5 743.6h0M158.7 731.7h0M157.5 736.2h0M159.5 732.0h0M157.9 752.4h0M159.0 723.8h0M160.5 740.9h0M160.3 742.9h0M158.4 730.0h0M158.4 752.6h0M157.6 731.6h0M157.7 748.3h0M159.1 742.2h0M158.5 748.2h0M160.0 762.2h0M158.0 737.4h0M157.5 740.9h0M160.1 722.6h0M158.8 746.4h0M158.6 768.7h0M158.2 746.9h0M158.5 721.1h0M157.5 760.5h0M160.3 720.2h0M158.8 717.9h0M158.9 757.3h0M158.5 754.1h0M158.2 741.5h0M160.2 725.2h0M157.8 756.3h0M158.3 730.7h0M158.8 708.5h0M162.4 712.2h0M157.5 755.7h0M158.5 733.8h0M158.1 724.2h0M157.5 759.2h0M157.6 733.6h0M158.9 746.2h0M158.5 719.3h0M158.8 731.8h0M157.5 724.7h0M160.4 733.9h0M158.9 732.0h0M158.3 753.4h0M157.5 737.6h0M157.5 740.0h0M158.4 742.6h0M158.6 724.8h0M158.8 743.2h0M157.5 750.7h0M159.9 727.7h0M159.4 762.4h0M157.5 729.8h0M157.5 737.8h0M159.4 768.2h0M157.5 736.6h0M157.6 730.6h0M157.5 757.0h0M157.8 739.1h0M159.5 746.9h0M158.4 740.3h0M158.4 716.7h0M157.5 741.4h0M157.5 722.1h0M159.8 739.4h0M161.7 745.7h0M158.6 731.5h0M159.3 734.9h0M158.4 734.2h0M160.5 725.7h0M158.8 735.0h0M158.7 752.5h0M160.7 727.5h0M159.8 723.8h0M157.5 737.9h0M159.3 743.9h0M160.3 726.8h0M160.0 734.3h0M157.5 732.7h0" stroke="#000" stroke-width="1.45" stroke-linecap="square" fill="none"/>
<path d="M290.3 748.3h0M279.8 751.5h0M282.5 748.8h0M293.5 756.1h0M292.1 746.9h0M289.1 748.6h0M291.4 753.9h0M306.5 744.4h0M288.2 737.3h0M297.0 740.2h0M296.8 751.7h0M285.1 739.3h0M298.3 735.6h0M290.3 733.5h0M298.9 751.6h0M296.9 752.0h0M293.7 750.9h0M286.3 755.2h0M285.9 755.9h0M301.4 752.4h0M290.0 749.3h0M295.9 755.8h0M279.7 748.4h0M293.9 746.1h0M298.7 763.6h0M288.9 743.6h0M297.0 753.9h0M293.3 745.6h0M296.1 743.9h0M288.9 745.1h0M287.2 746.3h0M300.0 764.1h0M297.9 740.5h0M288.6 745.2h0M292.3 753.2h0M292.5 752.0h0M297.4 742.8h0M289.0 755.6h0M299.5 749.2h0M291.4 752.5h0M291.2 753.7h0M302.3 740.9h0M299.7 748.9h0M295.1 749.9h0M289.7 754.4h0M292.0 749.6h0M291.8 739.7h0M294.5 744.1h0M293.9 747.8h0M297.3 743.0h0M281.7 761.3h0M291.1 743.4h0M296.0 735.9h0M295.4 751.8h0M296.2 742.7h0M289.4 748.5h0M295.1 750.8h0M291.8 753.5h0M294.9 744.9h0M289.3 747.9h0M298.9 739.1h0M300.6 744.1h0M291.8 739.2h0M291.6 754.6h0M296.6 743.1h0M292.2 744.9h0M288.4 741.1h0M295.8 745.8h0M290.5 743.7h0M291.2 748.9h0M292.1 747.4h0M296.2 749.6h0M291.2 750.7h0M297.7 744.5h0M295.0 744.5h0M297.6 740.2h0M291.2 742.1h0M292.1 741.9h0M291.4 739.0h0M300.7 753.9h0M291.1 752.6h0M298.0 744.4h0M306.5 743.4h0M302.8 746.1h0M291.7 760.5h0M287.8 742.0h0M294.2 751.4h0M288.6 754.2h0M290.1 750.1h0M284.6 746.8h0M290.1 745.6h0M287.7 743.0h0M298.3 753.2h0M291.4 752.8h0M295.8 751.8h0M291.3 745.6h0M283.8 742.6h0M302.9 739.4h0M291.0 756.7h0M299.6 747.3h0M290.1 747.8h0M285.7 745.1h0M295.4 747.5h0M291.5 744.5h0M291.3 736.7h0M291.4 744.4h0M292.2 737.0h0M296.3 746.1h0M287.0 750.0h0M294.5 746.8h0M294.3 749.5h0M296.4 735.6h0M286.3 761.8h0M303.0 747.9h0M293.9 747.7h0M290.4 756.1h0M292.1 739.1h0M286.9 749.2h0M290.1 749.4h0M291.3 749.0h0M298.1 746.8h0M289.2 751.6h0M291.3 742.2h0M291.8 744.2h0M282.3 752.2h0M286.6 752.4h0M294.5 740.7h0M295.9 753.3h0M301.0 746.3h0M304.4 754.9h0M289.3 756.9h0M294.9 738.0h0M291.8 757.5h0M291.0 744.1h0M302.6 756.0h0M296.8 744.7h0M296.3 753.2h0M287.0 741.7h0M277.5 754.4h0M287.9 755.8h0M292.4 749.6h0M306.5 737.7h0M296.0 740.4h0M293.4 751.9h0M286.3 753.0h0M295.7 758.4h0M283.1 750.3h0M291.1 730.3h0M290.1 742.4h0M293.4 745.3h0M290.2 744.7h0M294.3 742.2h0M293.6 730.2h0M293.2 742.1h0M300.0 745.5h0M285.2 739.8h0M286.9 748.4h0M283.2 748.8h0M300.0 739.3h0M293.8 743.0h0M300.0 746.7h0M294.4 740.6h0M293.6 757.3h0M295.9 752.7h0M291.5 743.2h0M288.9 730.4h0M294.4 745.0h0M292.9 755.8h0M295.8 757.0h0M290.9 747.1h0M290.2 741.8h0M290.5 743.2h0M289.7 749.3h0M293.2 754.6h0M302.3 744.1h0M288.5 741.5h0M281.5 744.0h0M284.2 746.3h0M300.2 740.2h0M301.9 755.8h0M289.2 758.5h0M290.3 751.5h0M288.1 741.8h0M296.5 745.8h0M293.1 740.9h0M303.3 753.1h0M290.7 737.1h0M293.3 756.3h0M289.9 749.3h0M303.1 737.3h0M288.3 745.4h0M291.4 741.4h0M294.6 743.6h0M287.6 746.3h0M295.3 735.9h0M305.2 754.4h0M290.9 743.6h0M297.0 760.7h0M284.2 758.2h0M296.8 746.8h0M289.6 737.2h0M290.5 748.5h0M284.8 761.8h0M290.2 759.1h0M287.6 744.1h0M297.4 736.5h0M289.4 739.3h0M287.2 749.1h0M294.0 734.7h0M290.0 751.8h0M297.5 748.8h0M290.7 749.9h0M286.8 746.4h0M298.9 749.9h0M284.4 746.4h0M297.8 736.5h0M294.0 743.7h0M290.1 746.9h0M284.2 744.9h0M289.7 766.2h0M286.7 750.1h0M295.8 748.5h0M293.5 746.1h0M292.1 740.1h0M290.8 748.2h0M293.0 747.5h0M292.8 739.3h0M285.3 753.0h0M294.8 748.7h0M293.5 751.4h0M291.9 757.4h0M303.4 743.8h0M286.0 739.3h0M283.8 747.5h0M293.3 759.9h0M294.0 755.7h0M295.5 743.1h0M301.2 734.0h0M299.5 753.6h0M289.5 742.0h0M294.1 741.1h0M295.1 748.6h0M297.6 743.9h0M300.4 748.1h0M291.9 746.2h0M285.5 753.0h0M293.2 745.3h0M289.0 747.4h0M294.0 748.7h0M301.4 752.2h0M283.5 757.5h0M285.5 748.5h0M292.0 736.0h0M300.1 736.8h0M278.9 751.0h0M297.7 753.4h0M285.2 737.2h0M303.5 725.8h0M286.8 746.9h0M291.0 741.2h0M287.7 759.3h0M290.2 755.3h0M297.0 754.0h0M297.2 757.2h0M294.1 740.0h0M287.8 754.0h0M289.9 750.0h0M295.7 745.8h0M289.4 746.7h0M287.3 752.8h0M290.0 756.2h0M300.1 749.4h0M293.0 754.0h0M289.6 755.0h0M295.5 746.8h0M293.1 753.2h0M299.3 753.8h0M302.5 754.7h0M288.3 747.2h0M292.3 742.4h0M281.6 737.3h0M297.0 735.7h0M299.1 733.4h0M296.2 743.3h0M298.7 747.2h0M284.9 748.4h0M300.5 740.7h0M296.8 747.9h0M293.0 729.9h0M288.1 740.2h0M301.1 745.9h0M299.6 754.5h0M290.8 744.2h0M302.8 739.4h0M288.8 760.8h0M296.7 744.3h0M293.6 738.4h0M287.4 756.7h0M294.2 742.9h0M283.9 744.4h0M294.0 737.4h0M297.4 740.7h0M301.2 754.2h0M306.5 743.4h0M286.7 734.9h0M301.9 750.0h0M293.3 750.1h0M299.5 752.4h0M293.2 739.9h0M290.5 740.9h0M284.2 745.8h0M280.4 746.0h0M295.1 760.2h0M291.4 737.2h0M281.1 742.0h0M290.7 739.9h0M291.6 740.3h0M296.4 744.1h0M301.9 741.5h0M296.9 746.0h0M291.6 755.5h0M297.3 758.3h0M289.9 747.7h0M292.2 752.0h0M286.3 734.5h0M295.3 747.0h0M278.9 747.2h0M290.5 746.6h0M288.1 728.3h0M295.2 749.6h0M299.0 737.8h0M282.6 758.6h0M292.9 757.1h0M291.3 755.2h0M291.8 750.5h0M285.4 754.6h0M290.3 755.4h0M299.7 754.8h0M291.5 745.4h0M294.8 741.4h0M295.8 743.7h0M290.0 746.3h0M301.7 754.1h0M288.8 747.6h0M290.6 749.6h0M277.5 741.3h0M295.7 745.8h0M297.2 749.1h0M294.9 747.2h0M289.6 763.7h0M297.5 739.7h0M297.6 738.2h0M293.2 741.4h0M285.8 744.5h0M293.3 748.3h0M287.1 739.1h0M289.8 749.1h0M287.5 750.2h0M300.4 737.4h0M300.3 752.4h0M292.5 750.4h0M291.3 751.4h0M290.6 748.4h0M288.3 750.0h0M294.8 745.7h0M291.4 762.6h0M286.0 745.4h0M291.4 749.1h0M297.5 736.2h0M292.6 755.5h0M284.9 739.6h0M289.7 739.1h0M292.0 752.2h0M287.2 739.5h0M292.6 738.2h0M296.9 736.4h0M302.5 743.9h0M288.2 740.3h0M288.7 759.4h0M294.5 761.4h0M284.2 760.0h0M294.0 746.3h0M282.9 751.4h0M293.1 737.9h0M290.1 749.9h0M293.5 758.5h0M296.0 734.5h0M294.5 755.0h0M299.3 753.0h0M298.1 742.7h0M291.3 747.2h0M292.5 730.6h0M298.0 736.4h0M299.8 747.2h0M297.5 755.5h0M302.9 749.7h0M286.1 761.6h0M295.0 746.4h0M294.1 743.0h0M290.7 747.2h0M293.0 749.6h0M291.5 757.0h0M291.0 760.1h0M292.0 745.6h0M289.4 747.8h0M291.5 733.3h0M293.0 743.2h0M290.9 754.3h0M298.1 743.1h0M284.1 740.9h0M291.2 745.3h0M290.3 753.9h0M298.3 749.7h0M283.8 741.4h0M306.5 735.1h0M285.3 748.3h0M295.1 747.8h0M293.1 751.1h0M295.3 761.1h0M299.0 751.1h0M291.0 742.3h0M289.3 748.9h0M298.9 746.7h0M292.9 762.5h0M292.8 753.3h0M293.4 747.7h0M284.0 745.7h0M296.0 745.4h0M301.4 744.3h0M296.7 744.1h0M282.4 744.0h0M293.2 734.2h0M302.0 751.3h0M285.1 748.3h0M290.8 753.8h0M285.7 731.1h0M294.2 745.0h0M305.6 741.9h0M292.8 749.5h0M298.3 742.8h0M297.5 749.2h0M292.5 742.8h0M302.0 756.8h0M281.4 747.6h0M289.5 755.7h0M278.6 746.6h0M301.4 742.7h0M279.9 748.4h0M296.5 746.0h0M289.6 748.3h0M295.0 758.2h0M284.6 756.0h0M298.7 751.2h0M285.2 760.2h0M287.9 754.8h0M287.1 747.5h0M283.7 747.9h0M291.9 759.3h0M286.8 747.0h0M285.7 733.9h0M295.4 752.7h0M284.8 753.7h0M300.1 744.8h0M288.1 747.2h0M298.6 755.5h0M298.9 745.8h0M288.9 738.2h0M286.6 761.6h0M278.6 746.3h0M290.5 750.4h0M291.2 757.4h0M288.5 755.1h0M294.1 753.7h0M294.8 751.6h0M301.5 755.0h0M302.1 739.6h0M296.1 751.4h0M282.0 742.9h0M289.1 746.8h0M290.2 746.8h0M291.0 745.8h0M292.0 732.6h0M292.4 747.8h0M291.7 734.4h0M292.2 746.6h0M296.4 752.8h0M285.8 738.4h0M290.6 740.3h0M290.1 748.9h0M297.9 743.3h0M291.1 739.7h0M289.2 735.3h0M290.6 748.0h0M306.1 748.0h0M293.5 746.2h0M288.8 751.8h0M292.3 750.1h0M293.3 747.9h0M292.2 750.1h0M300.4 753.7h0M302.6 735.6h0M292.3 751.4h0M292.7 742.1h0M291.3 741.9h0M293.8 751.1h0M302.9 755.0h0M303.5 747.0h0M294.8 753.4h0M302.4 752.9h0M295.7 748.4h0M295.6 750.5h0M296.5 742.7h0M300.4 756.0h0M295.2 754.7h0M293.0 747.4h0M296.3 758.6h0M290.2 749.2h0M295.2 744.2h0M301.5 750.5h0M297.9 745.8h0M295.2 745.6h0M288.5 757.8h0M293.8 751.1h0M299.0 730.2h0M291.5 754.0h0M293.5 752.5h0M285.0 736.0h0M306.5 737.1h0M293.1 753.2h0M297.4 761.0h0M288.8 750.3h0M297.0 751.4h0M293.2 747.3h0M279.3 741.6h0M292.8 739.7h0M297.4 735.6h0M292.2 753.7h0M295.9 747.5h0M288.6 748.2h0M288.7 742.2h0M297.0 744.4h0M281.1 746.1h0M299.9 747.0h0M292.1 747.1h0M298.0 733.8h0M298.4 751.3h0M293.6 736.9h0M288.5 747.1h0M295.9 744.2h0M293.3 749.7h0M280.2 742.4h0M291.3 753.9h0M287.6 736.8h0M299.8 751.0h0M296.1 739.0h0M294.0 750.9h0M285.5 743.9h0M282.7 753.3h0M299.3 752.7h0M297.4 745.8h0M290.4 749.3h0M285.3 755.6h0M287.6 753.2h0M293.3 747.0h0M301.3 750.7h0M295.8 744.4h0M290.4 750.8h0M290.0 750.8h0M293.8 737.8h0M298.8 744.9h0M300.7 751.0h0M297.0 734.3h0M288.6 739.4h0M294.4 737.8h0M287.9 743.7h0M299.5 740.1h0M294.6 753.8h0M287.3 742.8h0M302.6 745.8h0M296.8 742.3h0M294.5 743.5h0M303.5 739.4h0M282.6 748.6h0M306.5 750.4h0M285.3 762.0h0M286.7 743.5h0M292.8 739.6h0M285.5 744.9h0M302.0 751.2h0M290.0 747.8h0M288.6 739.9h0M295.3 753.3h0M298.8 745.5h0M294.4 756.6h0M294.6 754.3h0M295.7 743.4h0M287.3 740.1h0M287.4 756.3h0M295.1 746.2h0M288.6 739.3h0M300.6 737.4h0M302.4 749.2h0M294.1 756.3h0M285.9 761.9h0M284.1 730.0h0M300.8 764.2h0M300.5 748.8h0M299.9 744.2h0M300.4 746.5h0M296.4 751.3h0M290.1 740.5h0M289.4 751.7h0M297.8 740.3h0M291.7 756.2h0M288.0 747.3h0M292.8 756.0h0M283.0 748.3h0M289.9 753.9h0M287.7 753.5h0M288.5 753.2h0M290.0 747.9h0M277.9 755.3h0M289.5 748.1h0M295.3 755.8h0M295.8 743.8h0M287.9 751.5h0M292.0 756.3h0M288.3 746.4h0M285.0 737.3h0M299.0 748.9h0M291.3 751.4h0M281.3 757.8h0M306.0 735.9h0M292.8 732.6h0M295.3 751.1h0M278.9 750.0h0M297.7 744.1h0M297.8 745.3h0M283.4 750.0h0M290.1 753.2h0M306.5 742.1h0M283.9 760.4h0M293.1 745.0h0M292.0 742.8h0M288.8 740.5h0M288.7 738.1h0M299.0 740.1h0M287.9 755.2h0M291.5 740.2h0M298.5 747.5h0M290.8 732.3h0M294.4 752.7h0M284.5 758.9h0M297.3 757.7h0M289.1 747.8h0M294.6 751.6h0M287.6 759.6h0M290.5 741.6h0M292.7 741.8h0M286.1 748.9h0M306.5 755.1h0M279.7 738.4h0M287.5 765.2h0M290.7 750.0h0M277.5 751.6h0M296.8 753.4h0M295.7 752.0h0M293.1 743.0h0M296.8 734.9h0M290.1 746.5h0M286.6 753.3h0M288.6 758.4h0M287.9 750.5h0M291.6 756.5h0M284.2 756.9h0M304.3 741.5h0M296.0 745.3h0M294.0 729.9h0M285.0 745.1h0M293.4 741.9h0M299.7 749.3h0M289.8 748.7h0M291.8 747.5h0M303.4 754.4h0M298.5 755.1h0M281.0 748.8h0M294.8 745.9h0M283.7 752.8h0M297.8 754.4h0M293.6 757.6h0M297.3 742.0h0M296.7 752.6h0M293.8 751.3h0M301.9 747.0h0M291.1 744.7h0M297.4 753.7h0M291.9 736.7h0M286.5 746.3h0M299.8 748.4h0M284.1 744.2h0M297.2 749.9h0M299.4 742.0h0M292.7 749.8h0M292.2 753.4h0M290.7 755.2h0M300.6 742.3h0M285.2 761.2h0M284.0 752.4h0M291.9 729.6h0M288.4 746.7h0M299.2 740.0h0M292.3 750.7h0M295.9 736.9h0M294.4 752.9h0M281.8 741.1h0M295.6 754.5h0M288.4 757.8h0M286.9 747.6h0M289.9 754.1h0M301.0 749.3h0M303.3 754.4h0M283.5 740.8h0M282.2 756.5h0M285.5 748.3h0M306.5 740.0h0M296.3 742.3h0M280.7 740.8h0M287.9 741.5h0M295.7 751.2h0M301.4 737.5h0M294.6 750.1h0M294.6 736.5h0M291.6 739.1h0M286.1 754.9h0M289.3 745.5h0M301.5 739.0h0M287.9 751.8h0M295.3 746.8h0M299.6 739.2h0M280.9 744.9h0M292.2 736.9h0M290.8 745.9h0M296.1 751.5h0M285.1 740.3h0M300.7 748.0h0M293.0 736.5h0M287.0 748.0h0M296.3 745.6h0M291.6 757.6h0M293.4 745.0h0M293.6 746.4h0M291.7 729.0h0M293.5 751.3h0M293.3 733.8h0M290.9 740.8h0M306.5 750.1h0M295.0 757.4h0M292.6 751.4h0M277.5 747.4h0M283.0 739.0h0M288.4 742.8h0M289.9 752.4h0M294.0 734.7h0M286.8 735.7h0M290.8 758.9h0M288.1 748.6h0M282.2 748.0h0M295.7 747.4h0M295.2 734.3h0M294.7 749.7h0M286.4 750.6h0M299.4 747.4h0M293.7 742.4h0M292.0 746.0h0M287.9 750.9h0M280.6 747.0h0M295.7 748.9h0M293.9 754.0h0M284.7 735.9h0M283.7 757.1h0M291.7 738.9h0M291.5 739.5h0M300.4 754.7h0M298.0 754.4h0M277.5 748.7h0M306.5 754.8h0M294.1 733.1h0M297.7 741.0h0M284.9 748.9h0M290.3 754.3h0M284.4 750.3h0M281.5 754.8h0M294.5 746.4h0M297.3 744.7h0M287.0 759.9h0M292.0 749.8h0M302.0 746.1h0M285.9 746.3h0M292.1 740.7h0M286.7 748.0h0M283.3 729.2h0M300.5 745.3h0M295.1 748.0h0M284.5 743.9h0M291.8 744.6h0M291.8 748.3h0M306.5 747.2h0M290.9 746.1h0M295.6 755.2h0M277.5 750.2h0M300.3 742.1h0M296.5 752.0h0M288.3 742.3h0M283.6 747.3h0M291.8 750.9h0M294.9 749.3h0M291.1 738.5h0M287.6 734.0h0M296.0 731.0h0M280.2 750.1h0M289.9 744.4h0M293.2 740.9h0M286.7 741.0h0M295.2 749.8h0M285.1 745.3h0M281.2 756.1h0M291.0 734.2h0M278.7 738.6h0M294.0 742.0h0M292.9 727.7h0M287.2 742.0h0M288.5 750.9h0M297.3 744.0h0M292.8 757.2h0M295.1 749.1h0M293.3 743.4h0M298.0 748.7h0M293.6 741.7h0M290.9 752.1h0M290.2 742.3h0M285.4 743.1h0M290.9 743.4h0M306.4 738.4h0M290.6 742.0h0M301.9 745.0h0M283.3 745.5h0M295.5 747.3h0M295.8 746.6h0M294.6 743.5h0M298.1 746.4h0M295.2 744.9h0M298.5 762.4h0M299.9 759.3h0M299.7 753.6h0M286.8 741.1h0M285.5 729.9h0M292.2 752.8h0M288.7 750.2h0M298.6 743.5h0M288.9 750.7h0M295.8 743.2h0M291.4 738.2h0M293.4 758.3h0M289.9 747.8h0M283.7 728.9h0M296.2 753.3h0M283.6 746.6h0M292.9 749.7h0M299.5 746.9h0M280.7 746.2h0M299.5 747.1h0M295.0 749.2h0M295.2 748.1h0M282.1 747.7h0M280.0 747.8h0M292.8 745.2h0M296.5 756.7h0M287.9 764.2h0M291.6 750.9h0M295.6 762.2h0M297.3 747.0h0M287.2 746.6h0M300.3 750.6h0M291.8 751.7h0M296.2 731.6h0M294.1 743.2h0M289.3 738.7h0M281.9 750.6h0M285.2 761.1h0M292.7 744.2h0M294.3 752.3h0M288.4 745.7h0M288.4 735.2h0M296.9 741.6h0M282.8 754.5h0M296.5 753.9h0M295.2 753.1h0M290.2 741.9h0M300.5 740.7h0M284.8 735.3h0M297.7 741.0h0M289.3 729.4h0M305.5 745.5h0M295.8 740.0h0M290.1 752.0h0M300.6 737.4h0M291.2 750.4h0M287.5 735.4h0M299.2 743.7h0M297.2 749.6h0M299.9 760.1h0M295.2 744.3h0M292.7 742.1h0M288.1 740.3h0M290.6 742.5h0M287.8 752.8h0M285.3 746.9h0M288.7 741.6h0M295.6 747.1h0M284.9 741.7h0M297.1 737.5h0M287.5 752.9h0M301.8 739.1h0M295.4 743.8h0M294.8 743.2h0M291.2 753.5h0M290.3 756.7h0M298.6 750.0h0M303.8 744.6h0M285.8 743.8h0M289.8 746.7h0M293.4 727.3h0M297.9 752.7h0M298.2 749.3h0M304.4 733.4h0M299.2 756.3h0M298.8 736.2h0M295.7 745.3h0M293.5 753.5h0M290.6 746.9h0M304.3 747.8h0M287.7 740.1h0M287.8 746.9h0M302.0 754.7h0M288.6 750.6h0M302.5 746.1h0M286.5 746.9h0M292.3 756.0h0M291.3 761.6h0M295.8 752.4h0M284.1 739.3h0M293.3 743.6h0M287.5 739.8h0M305.0 737.5h0M293.1 739.2h0M280.7 754.4h0M292.8 752.8h0M284.2 743.8h0M296.9 749.2h0M284.8 745.2h0M284.9 748.9h0M290.7 761.3h0M288.7 747.9h0M293.1 751.6h0M289.9 747.7h0M289.7 754.9h0M291.0 744.5h0M289.1 758.4h0M282.0 751.3h0M288.8 731.4h0M286.9 745.9h0M306.5 754.8h0M287.4 744.3h0M298.2 757.2h0M292.7 742.4h0M283.1 737.7h0M281.1 744.0h0M293.8 743.4h0M296.2 739.9h0M298.9 740.9h0M285.2 745.9h0M289.6 747.1h0M297.2 730.5h0M300.6 752.2h0M291.7 737.4h0M292.5 737.8h0M298.0 765.1h0M292.7 750.2h0M295.3 732.0h0M298.8 749.0h0M289.4 751.8h0M290.7 754.2h0M292.4 728.0h0M298.1 743.1h0M301.6 753.1h0M287.3 738.8h0M300.7 748.1h0M294.7 739.2h0M289.6 744.8h0M301.2 733.8h0M284.5 756.3h0M298.7 746.4h0M298.9 758.6h0M296.7 742.3h0M299.7 745.2h0M278.7 747.8h0M285.2 738.7h0M292.4 743.4h0M297.3 751.4h0M292.9 752.4h0M289.6 761.6h0M296.7 754.3h0M288.2 741.7h0M293.1 747.3h0M299.7 750.1h0M300.8 749.4h0M299.9 746.8h0M296.3 744.9h0M301.8 737.8h0M306.5 738.9h0M294.8 743.5h0M290.9 749.3h0M294.6 729.1h0M299.1 750.9h0M289.2 758.2h0M288.4 738.4h0M292.0 747.5h0M297.0 747.7h0M297.0 740.8h0M279.6 752.7h0M282.0 743.8h0M297.5 750.1h0M295.9 743.8h0M291.4 742.4h0M291.9 751.3h0M282.8 747.7h0M290.2 748.3h0M294.7 744.9h0M284.2 739.6h0M293.2 746.1h0M292.6 746.2h0M293.7 745.2h0M299.6 759.1h0M292.1 751.6h0M296.1 751.7h0M290.9 745.0h0M292.4 743.8h0M288.1 755.8h0M289.0 746.8h0M306.5 741.7h0M290.7 738.2h0M299.1 744.4h0M300.4 740.4h0M301.6 745.7h0M294.3 745.7h0M289.0 745.1h0M291.3 741.2h0M288.1 745.3h0M281.2 743.1h0M301.4 745.1h0M293.3 748.2h0M300.3 747.0h0M290.1 743.9h0M290.6 751.6h0M298.7 742.4h0M295.4 749.2h0M300.6 750.3h0M304.9 753.6h0M301.2 745.5h0M294.5 736.1h0M294.1 753.6h0M291.0 732.8h0M287.2 746.2h0M296.6 764.2h0M297.5 733.0h0M279.0 749.7h0M292.7 746.5h0M303.8 756.7h0M287.7 754.2h0M285.1 750.8h0M300.9 749.4h0M281.9 736.9h0M300.6 755.3h0M296.7 754.0h0M305.2 752.8h0M300.6 745.2h0M291.6 750.0h0M294.8 741.4h0M285.6 755.5h0M293.2 749.8h0M288.1 753.0h0M286.5 748.8h0M290.9 748.1h0M299.0 746.9h0M292.8 754.6h0M287.5 752.8h0M292.4 743.7h0M293.6 750.6h0M290.6 754.0h0M300.8 741.3h0M298.5 745.8h0M292.3 737.7h0M298.3 739.5h0M277.5 740.3h0M293.6 744.0h0M288.5 739.3h0M294.8 758.5h0M299.5 743.1h0M277.5 745.6h0M291.1 734.4h0M290.4 734.9h0M282.2 741.6h0M302.8 750.0h0M300.7 741.3h0M284.9 745.6h0M281.7 756.3h0M298.2 737.4h0M287.4 753.3h0M292.9 746.7h0M299.3 741.0h0M287.8 748.8h0M286.8 742.4h0M291.7 743.5h0M282.0 753.0h0M294.8 746.2h0M291.4 746.8h0M298.0 747.8h0M284.4 745.0h0M299.8 743.3h0M292.3 735.3h0M290.6 746.0h0M301.3 753.9h0M302.6 738.9h0M305.5 741.3h0M294.8 746.5h0M296.7 754.8h0M301.4 739.4h0M294.0 743.5h0M292.8 740.2h0M291.3 749.2h0M291.4 755.6h0M299.8 746.7h0M299.2 747.2h0M291.6 745.6h0M288.7 751.7h0M296.2 740.4h0M292.6 746.1h0M291.4 747.0h0M295.6 742.9h0M300.3 739.8h0M285.5 757.7h0M291.0 751.2h0M291.5 744.6h0M287.9 751.2h0M289.1 749.6h0M298.6 746.8h0M287.3 744.2h0M289.7 742.7h0M306.5 748.4h0M298.2 752.5h0M294.8 736.9h0M288.1 748.8h0M292.8 740.8h0M301.8 750.5h0M285.3 752.1h0M285.2 752.6h0M295.0 736.3h0M300.0 748.7h0M296.0 746.0h0M288.1 745.5h0M282.8 742.7h0M293.2 746.9h0M282.6 751.8h0M288.5 745.7h0M294.8 743.1h0M296.6 737.4h0M292.0 750.3h0M289.7 730.6h0M291.3 737.6h0M285.0 753.4h0M295.2 744.5h0M288.3 739.4h0M296.1 767.5h0M283.7 741.6h0M289.2 752.3h0M296.3 752.5h0M298.6 740.9h0M298.7 746.9h0M294.1 752.0h0M298.2 742.7h0M284.7 747.6h0M303.7 757.2h0M291.1 763.8h0M293.7 754.2h0M288.8 737.2h0M290.9 758.3h0M289.7 733.6h0M298.0 748.6h0M302.2 757.0h0M300.8 742.6h0M284.9 746.4h0M290.1 748.7h0M277.5 742.6h0M288.4 723.4h0M289.5 748.6h0M277.5 730.4h0M297.9 702.7h0M286.1 744.5h0M280.5 724.9h0M284.6 767.6h0M287.8 733.6h0M277.5 731.2h0M277.6 710.0h0M285.9 749.4h0M289.5 746.2h0M292.1 728.0h0M281.4 727.4h0M293.8 711.7h0M289.5 748.7h0M287.6 757.5h0M295.9 705.0h0M282.7 722.3h0M291.9 743.0h0M286.3 763.4h0M289.2 739.7h0M277.5 734.5h0M289.8 737.0h0M290.7 736.3h0M299.9 725.2h0M289.4 754.5h0M298.7 755.9h0M277.6 717.2h0M287.9 736.2h0M292.4 725.2h0M286.1 733.2h0M277.5 710.8h0M277.5 745.8h0M286.1 736.6h0M292.2 755.2h0M294.4 736.6h0M296.4 740.0h0M298.5 721.7h0M282.6 731.0h0M292.2 720.6h0M306.5 728.7h0M300.5 727.5h0M284.4 755.3h0M291.5 730.8h0M283.9 745.1h0M285.0 715.1h0M291.5 741.5h0M287.5 730.6h0M296.6 725.5h0M283.7 730.8h0M277.5 721.7h0M298.0 737.3h0M298.9 763.2h0M293.9 738.1h0M294.8 733.1h0M285.6 739.6h0M296.4 755.2h0M277.5 728.3h0M294.5 740.0h0M295.1 718.0h0M296.4 724.7h0M296.7 731.0h0M277.5 728.6h0M293.6 742.4h0M277.5 721.8h0M290.4 734.8h0M281.8 723.6h0M285.4 741.1h0M286.2 738.3h0M290.0 733.4h0M290.1 721.8h0M303.8 734.2h0M278.1 728.9h0M299.5 761.4h0M291.4 729.6h0M293.5 730.1h0M299.8 749.2h0M292.9 738.3h0M298.1 739.0h0M295.6 728.4h0M295.4 724.5h0M280.4 725.8h0M300.7 743.4h0M294.8 746.5h0M290.1 736.5h0M287.8 723.5h0M277.5 734.0h0M290.5 729.2h0M296.7 753.1h0M289.1 726.4h0M295.0 737.4h0M290.2 736.7h0M294.2 748.1h0M284.2 696.8h0M297.9 718.1h0M285.7 732.5h0M280.9 753.7h0M299.1 728.2h0M283.8 720.7h0M297.2 717.3h0M292.2 738.5h0M290.0 765.0h0M279.8 742.0h0M302.6 744.6h0M297.1 746.6h0M295.7 733.3h0M295.5 733.1h0M306.5 728.7h0M277.5 716.3h0M294.0 750.9h0M287.4 726.7h0M303.0 739.4h0M284.9 740.3h0M284.5 739.5h0M300.1 705.6h0M287.0 747.1h0M280.0 765.8h0M293.4 737.7h0M295.9 747.0h0M278.4 729.5h0M296.5 732.4h0M285.1 755.3h0M306.5 731.8h0M277.5 734.6h0M289.5 742.6h0M277.5 728.2h0M291.9 757.0h0M290.0 743.0h0M277.5 735.6h0M293.7 732.0h0M289.4 733.5h0M277.5 735.8h0M301.5 738.2h0M291.3 749.1h0M288.2 743.0h0M287.7 722.1h0M299.3 725.5h0M298.9 718.6h0M277.5 738.8h0M296.2 727.1h0M288.5 748.8h0M299.5 745.7h0M292.7 745.6h0M291.3 739.9h0M282.9 721.7h0M277.5 719.8h0M288.0 730.7h0M295.5 730.1h0M293.6 718.3h0M300.1 738.6h0M286.5 733.8h0M289.2 735.0h0M288.9 753.0h0M290.8 737.2h0M292.3 729.7h0M299.3 742.1h0M286.0 726.8h0M304.7 708.8h0M299.8 747.8h0M306.5 727.6h0M284.1 764.1h0M295.6 741.6h0M288.3 735.4h0M291.1 738.9h0M286.8 734.3h0M300.8 729.5h0M293.2 738.6h0M283.6 737.9h0M297.0 732.0h0M288.5 731.2h0M294.3 719.8h0M282.0 734.5h0M294.6 739.2h0M282.6 733.9h0M306.5 740.0h0M277.5 746.6h0M280.1 743.5h0M291.3 735.0h0M295.7 719.9h0M277.5 732.2h0M299.6 747.7h0M295.9 754.6h0M300.8 740.6h0M282.0 740.2h0M287.9 739.1h0M287.6 733.8h0M291.5 736.6h0M285.1 720.7h0M280.7 735.1h0M291.9 724.2h0M288.0 732.9h0M277.5 720.8h0M277.5 740.0h0M288.9 727.4h0M298.6 719.8h0M287.4 742.7h0M289.0 727.1h0M294.5 745.6h0M296.2 730.2h0M289.9 748.7h0M298.9 739.0h0M283.9 747.4h0M293.2 722.8h0M284.0 745.9h0M284.6 739.5h0M303.0 715.3h0M302.6 722.2h0M292.2 745.8h0M279.1 742.7h0M277.5 744.7h0M289.5 737.0h0M287.4 743.8h0M278.6 722.5h0M290.1 751.3h0M287.5 724.6h0M287.9 728.7h0M284.1 728.7h0M285.9 720.9h0M295.2 753.5h0M288.3 738.2h0M280.3 729.2h0M277.5 739.3h0M285.6 751.9h0M301.5 734.6h0M300.4 752.6h0M294.0 743.0h0M289.2 727.8h0M287.4 760.7h0M285.4 741.0h0M283.4 740.1h0M277.5 725.7h0M280.6 746.5h0M295.0 727.4h0M292.9 734.8h0M283.2 740.9h0M277.5 738.6h0M281.6 748.6h0M280.1 739.7h0M290.6 726.1h0M306.5 740.2h0M295.8 730.3h0M302.5 745.8h0M284.0 732.6h0M277.5 739.4h0M287.1 738.4h0M293.8 719.5h0M286.9 752.9h0M292.6 726.0h0M277.5 728.2h0M284.7 721.2h0M306.5 745.2h0M295.9 764.0h0M295.9 740.9h0M297.3 740.7h0M298.3 717.8h0M280.4 739.1h0M288.9 753.2h0M291.5 742.0h0M293.7 748.7h0M286.8 732.4h0M291.3 746.0h0M286.5 730.3h0M306.2 732.8h0M291.9 744.5h0M289.1 762.6h0M293.4 744.1h0M277.5 745.5h0M291.5 740.2h0M277.5 743.1h0M289.5 750.4h0M289.0 745.0h0M284.5 742.1h0M298.8 711.7h0M277.5 766.7h0M277.5 725.4h0M288.2 729.1h0M304.3 739.4h0M282.9 735.3h0M282.6 751.7h0M286.7 726.8h0M292.0 754.1h0M297.8 731.2h0M281.1 743.6h0M284.9 723.4h0M298.0 735.6h0M291.5 727.1h0M277.5 738.2h0M291.1 741.5h0M295.3 710.9h0M294.0 744.8h0M277.5 742.1h0M296.7 735.1h0M281.4 749.6h0M302.9 752.9h0M288.3 734.2h0M277.5 707.2h0M278.4 747.4h0M277.5 741.7h0M277.5 752.1h0M280.2 738.8h0M279.0 736.9h0M277.8 747.6h0M277.8 747.7h0M278.3 728.6h0M278.1 758.4h0M278.6 760.4h0M277.8 734.9h0M279.0 732.4h0M278.2 705.3h0M277.5 743.3h0M277.9 744.7h0M277.5 731.8h0M278.2 759.4h0M278.2 745.9h0M278.5 729.9h0M280.6 750.8h0M277.8 740.0h0M278.6 725.4h0M279.2 715.8h0M282.2 720.7h0M279.4 740.6h0M280.2 766.3h0M278.1 743.5h0M278.0 739.9h0M278.8 736.4h0M278.8 759.1h0M277.9 740.2h0M278.6 753.4h0M277.5 736.3h0M279.6 717.7h0M278.2 729.2h0M278.8 743.4h0M279.0 733.9h0M279.4 726.9h0M280.9 746.8h0M278.5 731.5h0M279.4 750.1h0M279.5 753.6h0M280.2 742.2h0M279.5 745.8h0M277.5 706.4h0M279.8 731.3h0M277.5 736.0h0M277.5 776.0h0M279.5 733.6h0M279.1 732.7h0M277.5 742.5h0M277.8 713.4h0M279.0 738.5h0M278.7 728.2h0M278.5 757.7h0M278.7 728.5h0M279.5 753.4h0M277.5 737.7h0M278.5 726.4h0M277.5 725.9h0M279.6 731.2h0M277.5 741.4h0M277.7 742.7h0M277.5 728.1h0M278.9 726.5h0M280.5 729.3h0M278.9 753.2h0M277.5 740.3h0M277.6 739.6h0M278.1 741.9h0M277.5 726.8h0M277.5 742.5h0M278.9 736.7h0M277.5 763.4h0M278.3 743.0h0M277.5 732.5h0M278.3 733.5h0M278.7 759.7h0M279.1 733.5h0M279.2 739.4h0M277.5 753.4h0M278.3 731.6h0M277.5 764.9h0M278.4 724.6h0M279.4 742.6h0M277.5 725.1h0M278.2 755.9h0M278.1 733.3h0M278.9 737.2h0M277.5 743.8h0M277.5 739.8h0M279.0 754.2h0M279.7 767.5h0M278.8 724.5h0M278.5 743.0h0M280.1 757.0h0M278.5 727.6h0M280.0 738.3h0M278.6 726.4h0M277.5 754.9h0M278.7 746.3h0M278.5 743.1h0M277.6 730.1h0M277.5 709.0h0M279.2 767.8h0M279.5 715.3h0M280.8 728.0h0M278.5 741.7h0M277.9 750.0h0M279.5 732.1h0M279.3 770.2h0M277.7 759.9h0M277.7 753.4h0M278.5 728.9h0M277.9 751.1h0M277.6 749.5h0M278.1 740.0h0M277.5 729.6h0M279.0 762.6h0M278.6 737.8h0M278.3 741.3h0M281.1 737.4h0M278.0 739.7h0M277.5 726.2h0M278.7 757.8h0M277.5 736.8h0M278.9 729.6h0M279.5 715.5h0M279.0 710.7h0M280.6 728.8h0" stroke="#000" stroke-width="1.45" stroke-linecap="square" fill="none"/>
<path d="M408.1 744.9h0M412.6 748.5h0M410.9 744.6h0M422.8 751.8h0M416.5 756.0h0M417.8 765.1h0M410.3 749.0h0M411.4 744.0h0M407.5 741.8h0M412.8 745.3h0M419.0 745.1h0M414.9 731.6h0M411.9 749.6h0M408.2 738.9h0M424.4 743.3h0M415.1 738.1h0M421.0 731.5h0M421.8 733.2h0M399.8 732.6h0M406.0 724.0h0M404.5 748.5h0M413.9 762.1h0M417.5 746.1h0M423.9 761.5h0M409.3 746.0h0M426.5 764.9h0M421.9 738.1h0M404.2 760.5h0M413.5 741.2h0M411.4 757.9h0M410.4 738.8h0M415.1 750.7h0M407.0 757.9h0M413.1 749.0h0M417.2 753.6h0M412.8 737.8h0M408.3 751.1h0M403.4 742.1h0M409.0 752.1h0M407.1 759.0h0M412.2 749.3h0M412.1 744.1h0M413.3 738.0h0M404.2 746.2h0M409.7 741.7h0M409.4 739.4h0M406.0 754.9h0M413.1 740.1h0M428.0 745.3h0M408.2 752.4h0M416.6 758.1h0M420.9 745.0h0M416.2 752.5h0M404.9 740.9h0M417.4 735.8h0M418.8 725.7h0M407.5 737.5h0M414.5 743.0h0M414.2 740.9h0M410.5 743.6h0M413.4 738.3h0M413.5 742.7h0M419.9 749.5h0M415.5 749.7h0M414.6 738.3h0M415.5 749.6h0M413.9 742.5h0M410.0 738.5h0M405.8 746.7h0M411.3 735.8h0M409.9 741.8h0M416.4 744.9h0M422.7 754.7h0M416.1 750.3h0M411.0 745.7h0M415.6 749.9h0M413.3 727.3h0M421.9 755.0h0M413.4 753.3h0M402.5 743.4h0M421.9 751.4h0M409.0 749.2h0M418.8 748.3h0M418.5 758.2h0M411.2 742.6h0M415.6 743.7h0M421.5 756.3h0M408.1 749.4h0M404.6 743.9h0M412.9 742.1h0M408.9 737.2h0M418.5 733.9h0M412.8 744.0h0M411.0 749.8h0M416.9 750.0h0M415.5 753.5h0M413.2 740.1h0M410.8 740.2h0M421.9 748.9h0M413.3 751.9h0M413.8 741.7h0M428.0 745.9h0M411.7 747.9h0M415.4 735.8h0M403.3 750.5h0M410.7 745.0h0M407.9 741.3h0M410.5 752.6h0M418.3 743.6h0M417.8 739.6h0M418.1 748.9h0M418.9 748.2h0M409.5 737.5h0M419.0 756.3h0M413.4 743.0h0M417.3 748.9h0M415.7 753.7h0M409.3 746.2h0M411.1 740.8h0M422.9 728.9h0M416.1 734.1h0M402.8 752.2h0M404.7 755.0h0M414.4 750.6h0M413.7 754.1h0M416.6 735.6h0M421.4 748.6h0M418.2 723.0h0M408.6 753.1h0M413.5 738.3h0M404.1 743.3h0M414.8 754.2h0M411.4 738.5h0M416.5 749.7h0M413.4 734.0h0M420.3 745.2h0M416.9 742.1h0M412.9 760.3h0M424.3 750.7h0M418.4 749.3h0M405.6 742.1h0M410.7 735.2h0M415.0 745.6h0M412.3 738.7h0M411.2 738.5h0M416.1 731.6h0M410.4 738.8h0M407.4 750.2h0M408.3 738.9h0M410.0 736.5h0M411.9 746.3h0M420.7 753.5h0M408.4 748.1h0M414.0 748.3h0M412.1 743.3h0M408.7 743.5h0M412.6 734.5h0M409.8 743.5h0M419.3 730.8h0M415.7 762.5h0M423.2 750.9h0M414.9 743.2h0M406.0 748.4h0M412.2 746.5h0M413.4 730.7h0M406.6 738.0h0M420.3 740.4h0M410.6 755.1h0M405.3 752.6h0M414.8 751.8h0M418.3 766.0h0M416.4 746.6h0M417.5 750.2h0M409.7 747.9h0M419.5 744.8h0M402.5 750.2h0M420.5 745.0h0M422.4 730.2h0M405.8 751.7h0M410.7 736.1h0M416.1 757.0h0M411.6 759.4h0M399.9 749.1h0M416.4 733.7h0M412.3 742.1h0M417.9 752.4h0M413.1 747.8h0M420.0 735.5h0M418.7 747.5h0M411.4 746.6h0M419.6 748.5h0M415.6 742.1h0M410.3 747.4h0M418.5 736.0h0M405.8 754.6h0M428.0 748.2h0M413.2 747.6h0M408.0 745.7h0M410.9 739.7h0M416.5 740.4h0M400.9 743.1h0M411.3 735.0h0M412.4 744.7h0M413.5 739.5h0M416.0 742.7h0M419.7 745.5h0M407.4 732.2h0M408.8 742.7h0M416.9 745.2h0M417.0 736.9h0M408.4 738.5h0M419.8 736.0h0M414.1 738.1h0M413.6 742.8h0M413.2 748.0h0M403.1 751.1h0M415.5 736.3h0M424.4 749.6h0M417.6 747.2h0M416.0 740.3h0M411.7 730.9h0M407.8 750.2h0M408.9 747.0h0M406.4 742.5h0M413.0 749.3h0M412.3 750.3h0M420.0 758.0h0M421.8 755.7h0M404.8 750.4h0M424.0 746.0h0M411.0 742.0h0M416.7 759.8h0M418.9 748.0h0M415.6 749.9h0M403.6 749.4h0M414.3 754.5h0M411.7 751.6h0M415.7 737.9h0M414.2 742.1h0M414.3 756.4h0M420.3 752.3h0M417.9 737.1h0M413.8 755.6h0M398.0 728.6h0M425.8 733.5h0M412.5 738.1h0M418.2 731.6h0M412.3 759.7h0M410.0 762.2h0M410.3 745.3h0M407.6 755.1h0M411.0 758.1h0M416.1 737.8h0M410.8 748.0h0M412.9 758.6h0M414.4 741.8h0M422.8 747.1h0M411.5 755.2h0M419.9 742.5h0M420.1 732.6h0M414.0 742.6h0M414.0 744.6h0M413.9 750.2h0M416.2 726.1h0M409.8 746.6h0M408.5 739.9h0M413.8 738.5h0M419.1 737.2h0M416.6 734.1h0M416.1 728.1h0M412.7 744.6h0M416.6 735.3h0M418.6 755.7h0M413.8 757.9h0M414.3 743.8h0M411.9 732.8h0M411.4 736.5h0M417.9 739.1h0M405.0 737.6h0M415.6 741.8h0M409.9 752.7h0M416.0 753.1h0M411.5 724.5h0M406.8 753.4h0M408.9 742.8h0M412.4 740.7h0M416.1 733.5h0M409.9 747.5h0M422.1 749.7h0M415.7 756.7h0M414.0 754.8h0M408.8 759.0h0M405.7 736.0h0M420.8 750.4h0M415.8 731.9h0M415.5 745.2h0M415.7 743.7h0M413.7 729.9h0M408.4 744.1h0M414.3 720.6h0M412.1 744.2h0M416.0 757.3h0M420.9 750.2h0M411.8 749.1h0M419.5 753.1h0M409.5 739.1h0M415.9 748.6h0M411.3 743.4h0M416.2 746.6h0M423.7 744.5h0M415.4 756.6h0M409.4 749.1h0M413.6 739.8h0M421.9 743.5h0M413.8 748.0h0M411.8 759.5h0M416.8 763.4h0M416.7 736.2h0M413.7 746.3h0M418.5 752.5h0M410.5 737.2h0M407.9 723.8h0M406.5 732.4h0M413.6 752.7h0M407.2 754.2h0M420.0 737.6h0M406.0 743.4h0M404.9 747.5h0M416.7 737.2h0M413.8 748.1h0M416.6 743.7h0M419.5 730.4h0M412.6 753.6h0M411.7 746.0h0M409.6 732.9h0M420.0 742.8h0M412.8 729.8h0M413.2 732.5h0M414.0 739.5h0M411.9 732.1h0M411.4 740.9h0M415.9 742.1h0M418.7 729.0h0M410.6 742.1h0M407.7 745.2h0M415.9 754.8h0M414.1 743.2h0M411.3 754.6h0M420.3 746.6h0M408.6 757.9h0M412.9 737.6h0M414.9 752.6h0M412.5 744.1h0M410.5 737.4h0M405.6 742.9h0M407.3 748.9h0M406.6 739.2h0M418.8 759.5h0M414.5 738.9h0M415.8 744.6h0M405.4 749.0h0M422.9 744.9h0M423.1 739.0h0M409.0 752.9h0M404.7 750.7h0M416.6 751.1h0M418.2 753.9h0M413.5 757.5h0M414.6 747.8h0M412.3 756.1h0M423.8 729.2h0M408.3 742.7h0M410.9 749.2h0M409.9 735.8h0M411.0 733.4h0M413.8 744.9h0M412.0 740.9h0M415.8 743.1h0M419.8 734.9h0M417.7 741.7h0M415.8 753.8h0M413.5 753.7h0M406.7 753.9h0M403.0 753.0h0M419.9 741.4h0M418.2 750.1h0M414.4 741.0h0M414.7 751.5h0M421.2 744.3h0M411.7 733.3h0M412.3 745.8h0M415.6 736.6h0M415.4 748.5h0M403.7 739.9h0M413.7 751.6h0M422.1 734.8h0M403.1 752.7h0M407.9 747.1h0M409.2 744.5h0M411.0 751.2h0M416.1 739.5h0M408.5 743.6h0M406.4 747.3h0M414.1 744.5h0M405.5 726.3h0M414.4 753.0h0M412.1 738.4h0M413.4 746.0h0M418.4 740.9h0M415.5 749.0h0M419.4 758.5h0M416.7 756.2h0M417.9 753.7h0M420.2 755.0h0M420.6 730.0h0M418.3 761.4h0M421.2 738.3h0M420.2 752.2h0M413.4 754.2h0M425.1 737.5h0M417.4 740.7h0M407.9 744.9h0M420.6 744.0h0M422.2 746.0h0M416.3 749.0h0M418.3 758.0h0M408.8 746.6h0M416.4 750.0h0M425.0 729.2h0M421.0 749.7h0M406.0 746.9h0M410.9 743.9h0M413.9 753.6h0M420.6 758.4h0M411.3 747.9h0M400.8 757.4h0M417.0 748.1h0M411.9 754.7h0M408.9 728.3h0M416.3 749.6h0M412.7 753.9h0M402.5 745.6h0M424.3 733.7h0M409.9 766.3h0M417.3 752.0h0M420.8 731.3h0M415.7 749.5h0M414.3 721.6h0M414.9 731.4h0M414.4 758.5h0M407.9 752.5h0M415.9 748.4h0M415.8 750.3h0M410.9 750.1h0M411.2 742.9h0M411.7 740.1h0M411.3 738.7h0M416.6 744.6h0M423.0 748.5h0M409.1 746.1h0M427.3 744.5h0M419.2 749.1h0M420.9 745.4h0M418.0 733.5h0M411.4 746.8h0M418.4 744.6h0M412.1 744.8h0M411.3 737.5h0M418.3 743.8h0M413.0 748.7h0M409.9 751.2h0M414.5 738.3h0M408.8 726.7h0M415.2 735.6h0M411.2 757.1h0M412.6 748.2h0M416.8 745.5h0M416.7 745.3h0M422.5 741.3h0M413.0 748.0h0M411.2 748.8h0M407.9 762.8h0M418.3 759.4h0M419.7 746.6h0M404.9 756.9h0M421.2 739.6h0M425.8 744.6h0M403.5 736.3h0M415.7 745.8h0M414.7 750.1h0M416.2 752.9h0M415.6 744.2h0M410.9 742.2h0M413.3 742.7h0M408.6 736.3h0M416.0 754.4h0M412.0 732.7h0M405.0 752.5h0M422.0 739.0h0M402.3 742.2h0M408.0 741.3h0M413.0 736.2h0M413.1 746.1h0M417.4 741.9h0M403.7 730.9h0M408.9 747.3h0M417.5 728.0h0M416.2 754.1h0M404.6 733.0h0M418.8 733.7h0M419.1 748.6h0M411.0 741.1h0M412.8 757.8h0M422.1 760.5h0M420.2 740.7h0M423.9 749.8h0M418.2 746.6h0M411.2 748.2h0M411.1 755.8h0M414.7 755.4h0M419.4 745.9h0M405.0 750.8h0M415.8 742.6h0M417.9 744.4h0M411.6 737.1h0M412.6 744.1h0M414.8 751.6h0M418.3 745.6h0M419.1 762.7h0M414.3 741.8h0M420.4 746.7h0M409.6 741.8h0M420.9 739.6h0M414.0 741.6h0M410.1 751.7h0M407.5 744.7h0M418.7 742.7h0M409.3 742.3h0M419.3 747.7h0M413.9 748.7h0M425.3 752.8h0M407.7 750.6h0M409.5 756.9h0M411.3 745.8h0M407.4 758.0h0M412.1 744.1h0M421.7 750.8h0M424.5 739.5h0M415.9 739.8h0M420.3 748.5h0M413.0 736.3h0M417.0 747.9h0M413.8 758.2h0M416.1 751.5h0M416.3 749.9h0M413.6 732.7h0M409.2 762.1h0M415.3 748.7h0M423.4 741.9h0M412.8 740.1h0M420.2 750.6h0M416.7 728.2h0M410.6 736.0h0M412.1 734.9h0M414.4 750.6h0M413.4 751.7h0M413.8 723.5h0M415.5 739.3h0M404.0 756.7h0M414.4 753.7h0M406.5 738.5h0M418.2 746.6h0M403.5 756.9h0M416.2 728.8h0M423.0 756.9h0M421.4 744.9h0M411.1 746.9h0M412.4 747.1h0M409.6 759.6h0M408.1 755.7h0M418.8 748.7h0M421.6 727.6h0M425.5 741.5h0M415.3 764.8h0M412.9 732.3h0M414.2 731.8h0M410.7 742.3h0M417.2 750.4h0M420.4 760.8h0M413.9 741.3h0M424.6 729.8h0M412.6 748.7h0M414.9 756.4h0M418.2 740.0h0M410.9 735.7h0M413.6 753.7h0M415.1 741.7h0M419.9 744.8h0M420.9 748.6h0M415.0 747.7h0M403.7 756.9h0M405.5 752.8h0M410.5 745.0h0M411.7 740.4h0M410.1 756.9h0M407.6 755.8h0M418.6 737.4h0M410.8 740.1h0M402.2 751.8h0M407.4 740.4h0M420.0 748.1h0M416.2 742.2h0M423.0 734.1h0M407.1 747.3h0M416.4 740.3h0M417.3 762.7h0M412.5 746.9h0M405.0 747.4h0M416.5 751.3h0M417.5 738.9h0M406.9 742.0h0M418.2 736.6h0M415.0 748.8h0M415.6 747.4h0M420.5 747.5h0M402.7 743.9h0M417.0 737.3h0M415.6 720.4h0M410.9 754.3h0M420.4 739.5h0M419.7 736.7h0M423.5 757.0h0M417.2 742.4h0M409.8 748.1h0M411.5 742.3h0M413.3 738.0h0M415.6 743.5h0M417.0 752.1h0M423.1 751.9h0M414.4 751.8h0M408.5 740.5h0M417.7 748.8h0M409.6 748.3h0M419.4 748.8h0M409.8 753.4h0M416.9 749.4h0M415.0 747.0h0M413.0 731.7h0M414.8 751.1h0M426.2 739.1h0M414.5 755.0h0M411.4 735.6h0M411.5 752.2h0M406.0 741.5h0M405.4 746.5h0M410.4 730.8h0M423.5 748.7h0M411.8 753.7h0M404.2 743.3h0M416.1 752.8h0M416.1 751.6h0M417.8 731.5h0M421.3 752.5h0M421.8 748.8h0M414.0 743.4h0M420.5 754.0h0M412.7 749.8h0M414.8 749.8h0M414.1 764.1h0M416.2 753.3h0M420.2 735.3h0M414.6 737.4h0M416.2 745.9h0M409.5 752.7h0M406.8 739.2h0M422.3 744.5h0M416.6 746.1h0M410.3 746.0h0M411.8 751.5h0M400.1 740.3h0M415.0 744.6h0M405.6 736.2h0M409.5 746.7h0M405.9 764.9h0M425.1 737.7h0M415.2 735.2h0M418.4 752.9h0M414.9 739.4h0M414.1 723.0h0M421.8 742.0h0M422.7 752.6h0M412.5 749.1h0M416.5 763.7h0M417.0 730.2h0M412.6 749.8h0M406.2 743.9h0M410.3 735.1h0M412.4 748.9h0M402.9 745.1h0M424.1 745.6h0M403.8 749.7h0M416.0 739.0h0M409.2 725.3h0M413.9 738.3h0M414.6 754.2h0M407.2 729.6h0M406.9 733.1h0M418.7 763.4h0M418.5 740.0h0M413.3 747.5h0M424.6 723.8h0M407.3 732.4h0M413.7 753.3h0M413.4 741.4h0M414.5 752.2h0M421.9 732.8h0M413.3 741.1h0M415.1 740.9h0M410.3 756.1h0M416.0 729.1h0M413.9 742.7h0M418.4 752.9h0M409.9 738.1h0M411.1 742.4h0M418.3 748.1h0M417.7 756.0h0M422.8 736.7h0M416.0 741.4h0M412.9 738.4h0M418.1 751.6h0M412.6 739.2h0M413.8 749.2h0M418.2 742.6h0M417.7 754.1h0M408.1 731.1h0M400.2 739.6h0M421.0 731.5h0M417.0 750.9h0M416.6 738.5h0M416.9 753.7h0M421.4 748.2h0M415.5 749.6h0M418.3 738.9h0M414.3 737.3h0M421.1 760.6h0M403.3 738.7h0M413.4 736.9h0M414.3 746.5h0M425.3 765.3h0M417.3 738.0h0M401.6 747.3h0M418.7 748.9h0M416.3 737.6h0M415.0 734.8h0M414.8 750.0h0M416.6 741.1h0M410.5 746.2h0M415.1 731.4h0M408.1 747.3h0M412.0 745.7h0M398.2 745.1h0M403.7 748.4h0M409.7 750.2h0M420.8 747.1h0M425.2 753.1h0M411.5 750.7h0M420.4 758.3h0M418.9 730.9h0M417.2 738.1h0M411.4 723.6h0M416.1 759.4h0M410.7 734.9h0M416.6 747.2h0M412.3 756.9h0M413.7 739.8h0M415.0 749.2h0M417.1 756.1h0M410.7 735.3h0M416.1 751.9h0M407.8 762.3h0M422.3 737.6h0M422.0 746.1h0M414.3 746.0h0M414.3 755.0h0M408.8 735.6h0M415.5 743.2h0M422.0 731.7h0M414.1 733.4h0M413.9 748.7h0M418.2 743.4h0M420.3 741.6h0M403.7 741.2h0M418.0 732.7h0M412.8 741.6h0M419.5 738.2h0M416.5 744.7h0M409.2 747.8h0M411.1 764.9h0M408.4 742.1h0M409.5 746.7h0M407.5 737.7h0M426.1 738.4h0M411.8 753.8h0M424.6 738.3h0M415.1 747.0h0M411.8 761.7h0M415.8 746.6h0M416.1 745.7h0M409.6 744.3h0M411.4 735.9h0M408.2 745.7h0M417.7 735.2h0M425.0 743.0h0M408.0 741.5h0M413.1 750.1h0M413.1 738.3h0M413.4 748.2h0M410.5 740.0h0M411.8 747.1h0M404.3 749.6h0M405.2 732.6h0M421.7 740.8h0M414.7 747.4h0M403.5 746.3h0M410.8 747.5h0M412.3 746.8h0M410.4 758.8h0M428.0 761.4h0M408.1 746.3h0M418.2 736.5h0M414.5 754.1h0M426.7 743.5h0M412.5 729.0h0M413.5 750.5h0M412.7 751.1h0M407.6 734.7h0M416.4 740.6h0M419.8 742.0h0M421.4 740.4h0M419.5 747.8h0M422.9 746.2h0M417.5 748.0h0M419.7 746.9h0M417.3 733.9h0M410.8 749.8h0M412.9 740.7h0M405.6 731.3h0M411.4 743.3h0M417.1 742.4h0M418.0 738.1h0M411.2 756.1h0M419.7 742.0h0M411.4 740.9h0M415.5 750.9h0M407.0 734.0h0M411.9 730.5h0M409.5 745.0h0M410.6 742.9h0M421.2 745.3h0M423.9 763.6h0M415.1 740.7h0M413.8 731.5h0M405.0 750.3h0M410.3 754.2h0M409.4 741.0h0M420.9 733.7h0M419.9 743.2h0M415.2 745.4h0M420.6 745.4h0M424.5 748.5h0M410.6 747.9h0M419.6 750.5h0M419.6 744.1h0M418.5 748.4h0M414.7 750.0h0M406.6 739.1h0M418.3 752.5h0M413.0 737.8h0M412.1 747.8h0M415.1 745.0h0M409.0 745.3h0M414.7 750.8h0M411.9 754.4h0M408.6 757.6h0M415.0 739.3h0M414.6 737.4h0M404.7 748.2h0M406.0 743.9h0M415.3 744.2h0M412.0 760.1h0M407.2 743.1h0M408.1 742.6h0M411.1 743.8h0M415.1 744.6h0M419.3 751.3h0M408.8 744.3h0M404.9 755.2h0M416.6 741.7h0M422.0 759.4h0M413.1 734.5h0M403.2 749.1h0M420.6 735.4h0M408.5 746.3h0M404.3 752.6h0M409.0 761.3h0M409.5 752.6h0M416.1 745.9h0M417.1 732.3h0M420.3 744.3h0M417.3 741.0h0M415.2 746.6h0M412.9 744.9h0M408.4 746.8h0M406.6 744.0h0M413.3 743.3h0M423.8 737.7h0M422.5 735.0h0M415.1 743.3h0M413.8 738.0h0M404.3 748.8h0M410.9 754.9h0M411.9 759.2h0M413.3 744.3h0M415.9 746.8h0M416.8 747.2h0M409.5 740.6h0M413.7 738.9h0M417.7 736.4h0M413.5 747.6h0M417.7 728.0h0M423.8 742.3h0M408.1 746.3h0M414.9 737.4h0M413.4 749.0h0M403.8 745.8h0M422.7 746.0h0M417.9 750.7h0M419.8 751.3h0M411.1 750.9h0M414.1 732.5h0M413.5 753.1h0M413.0 725.6h0M423.7 741.2h0M414.8 745.1h0M419.2 739.3h0M418.7 730.5h0M417.0 753.7h0M416.3 746.0h0M406.8 754.4h0M416.0 759.1h0M405.4 747.7h0M414.8 752.1h0M416.8 747.8h0M418.6 755.8h0M422.6 738.0h0M414.6 742.7h0M411.0 739.8h0M414.4 738.9h0M406.9 734.9h0M413.1 739.8h0M424.4 754.1h0M417.5 754.4h0M415.1 744.2h0M415.3 755.8h0M409.2 755.9h0M407.6 754.9h0M416.8 755.6h0M415.4 727.3h0M421.6 744.8h0M409.7 751.6h0M420.9 734.3h0M412.4 735.0h0M414.4 745.2h0M414.4 740.2h0M418.2 740.2h0M419.2 738.1h0M417.3 750.4h0M423.4 723.6h0M412.1 742.4h0M421.7 757.9h0M421.9 739.5h0M414.0 748.0h0M416.7 744.4h0M412.8 747.8h0M425.5 740.5h0M409.5 748.0h0M409.3 744.2h0M416.1 719.4h0M411.0 745.5h0M407.2 743.4h0M410.1 749.9h0M415.6 746.2h0M410.6 741.8h0M410.5 762.8h0M412.2 758.9h0M412.1 745.3h0M401.4 749.6h0M408.6 744.9h0M411.3 735.4h0M422.1 749.7h0M409.6 750.3h0M418.4 734.6h0M417.5 757.2h0M415.5 743.9h0M412.5 741.2h0M413.6 741.5h0M414.5 744.4h0M405.6 747.3h0M408.6 748.8h0M417.2 738.5h0M418.8 741.6h0M414.6 748.1h0M409.9 749.2h0M412.7 751.8h0M412.0 737.9h0M425.8 739.6h0M411.8 749.2h0M414.6 738.9h0M412.9 755.0h0M412.3 739.2h0M415.3 742.6h0M410.1 746.4h0M404.8 742.5h0M402.1 756.5h0M421.0 732.0h0M408.4 732.7h0M414.1 752.6h0M405.5 752.7h0M415.2 735.2h0M416.5 745.5h0M414.4 748.1h0M404.7 750.4h0M417.0 757.7h0M420.3 754.3h0M418.0 743.7h0M404.5 752.4h0M416.6 732.4h0M414.5 746.0h0M426.3 738.4h0M420.1 735.5h0M411.9 756.5h0M407.7 742.8h0M422.0 750.2h0M419.4 741.8h0M415.2 751.9h0M411.1 747.1h0M411.3 747.8h0M410.3 755.0h0M410.1 748.5h0M413.1 737.1h0M410.7 746.5h0M417.4 738.8h0M417.9 753.0h0M417.8 742.7h0M415.6 730.8h0M421.4 748.1h0M414.3 755.1h0M410.9 760.2h0M417.3 738.4h0M403.4 749.0h0M419.0 740.2h0M407.4 750.2h0M417.6 742.7h0M415.1 747.6h0M408.9 743.4h0M423.3 751.7h0M413.9 746.1h0M417.9 755.1h0M411.2 744.3h0M411.8 726.3h0M419.8 744.2h0M408.2 747.6h0M409.6 735.5h0M414.7 739.4h0M408.2 752.9h0M406.3 736.8h0M424.2 737.4h0M411.2 749.4h0M411.4 752.7h0M415.6 749.6h0M420.1 745.0h0M407.4 744.8h0M407.8 740.3h0M415.7 739.9h0M416.0 735.0h0M404.6 733.0h0M411.3 726.1h0M408.1 752.9h0M408.7 765.9h0M407.3 761.4h0M409.1 741.3h0M420.1 740.7h0M426.2 738.0h0M414.7 735.8h0M410.9 736.6h0M414.9 746.3h0M401.5 722.5h0M415.3 769.0h0M424.5 731.7h0M414.6 757.5h0M398.5 735.0h0M419.9 743.0h0M426.5 723.1h0M400.5 703.6h0M404.2 706.9h0M410.4 716.1h0M409.6 709.8h0M428.0 729.9h0M413.1 727.5h0M398.3 722.0h0M428.0 737.3h0M401.6 722.3h0M404.5 738.4h0M401.4 725.1h0M408.8 731.3h0M414.3 757.7h0M411.9 732.8h0M415.7 718.3h0M412.8 756.0h0M412.0 721.4h0M410.1 706.0h0M409.9 727.1h0M398.0 717.9h0M398.0 741.7h0M424.3 749.8h0M415.4 751.3h0M418.5 751.2h0M405.5 720.6h0M428.0 717.3h0M406.9 712.0h0M424.0 734.0h0M413.3 742.7h0M399.6 725.0h0M424.9 741.6h0M424.5 727.0h0M411.4 710.0h0M423.6 728.8h0M419.0 730.3h0M416.8 741.0h0M408.1 756.3h0M410.9 728.8h0M398.0 746.1h0M420.9 743.8h0M406.5 729.4h0M420.4 710.9h0M417.6 748.7h0M408.3 721.4h0M412.3 744.4h0M409.6 717.0h0M421.8 738.6h0M401.1 732.2h0M415.7 720.8h0M428.0 723.4h0M402.5 719.3h0M417.7 723.5h0M409.7 754.1h0M405.4 738.0h0M413.0 735.9h0M413.0 725.6h0M408.9 730.2h0M410.1 736.3h0M416.2 732.4h0M419.5 719.3h0M413.6 735.8h0M415.6 716.8h0M416.4 735.1h0M402.4 719.2h0M410.6 741.9h0M422.7 743.0h0M411.1 712.7h0M409.8 741.3h0M418.5 735.1h0M414.8 711.1h0M413.0 745.1h0M408.4 746.9h0M406.0 756.1h0M412.0 712.7h0M411.5 751.5h0M405.6 714.6h0M416.9 732.1h0M420.9 721.4h0M406.0 746.2h0M418.0 724.1h0M407.0 748.9h0M410.8 752.1h0M401.7 723.1h0M410.3 732.1h0M405.3 741.7h0M403.6 705.1h0M421.2 749.3h0M398.0 718.6h0M412.7 721.0h0M416.0 744.0h0M416.6 739.4h0M413.4 736.4h0M416.4 735.5h0M410.5 698.1h0M404.7 748.2h0M413.5 725.2h0M404.0 722.7h0M408.4 738.6h0M418.8 744.3h0M400.8 756.3h0M410.1 723.7h0M411.7 729.1h0M417.1 737.5h0M398.0 741.5h0M413.5 736.3h0M417.6 715.4h0M424.4 762.2h0M419.6 729.7h0M411.6 745.4h0M407.9 740.7h0M415.6 764.5h0M402.4 731.5h0M421.1 740.8h0M403.6 713.8h0M408.5 731.7h0M421.2 724.4h0M411.5 764.0h0M408.7 727.3h0M422.4 738.4h0M398.0 739.5h0M414.6 726.8h0M401.8 740.4h0M416.8 738.5h0M402.7 743.0h0M410.7 737.4h0M409.8 738.7h0M419.6 732.5h0M419.5 730.0h0M408.3 728.4h0M418.2 737.5h0M406.1 709.2h0M421.7 736.2h0M411.2 743.5h0M411.3 759.5h0M415.8 745.8h0M411.7 727.1h0M421.9 732.0h0M418.0 698.8h0M410.4 719.9h0M416.5 715.0h0M428.0 712.3h0M409.6 743.5h0M405.5 720.7h0M427.1 740.3h0M411.4 733.2h0M399.5 732.9h0M415.0 737.2h0M406.1 733.7h0M401.0 725.0h0M417.4 712.8h0M409.0 716.3h0M418.5 731.6h0M416.1 705.7h0M406.3 720.4h0M408.8 722.2h0M415.8 736.2h0M410.2 737.0h0M410.3 717.9h0M411.6 748.4h0M413.0 742.4h0M415.5 716.0h0M400.8 749.0h0M403.4 714.2h0M421.1 725.7h0M414.5 742.2h0M428.0 731.3h0M412.9 743.6h0M406.7 756.3h0M419.4 737.8h0M403.5 733.0h0M422.2 741.6h0M401.1 738.9h0M416.7 695.4h0M419.1 736.1h0M410.6 745.7h0M422.9 732.7h0M417.7 723.9h0M410.5 723.1h0M406.7 742.1h0M405.2 722.2h0M402.0 694.8h0M405.4 737.5h0M425.1 724.5h0M407.5 743.0h0M417.8 738.1h0M412.6 743.7h0M409.8 742.1h0M422.9 715.9h0M419.2 730.9h0M418.9 740.4h0M425.5 772.5h0M403.0 730.6h0M399.9 732.4h0M419.4 731.2h0M413.5 741.2h0M415.9 734.5h0M413.8 714.6h0M398.0 753.7h0M405.7 721.5h0M405.0 721.3h0M414.7 718.3h0M405.8 734.0h0M414.7 736.3h0M424.2 733.2h0M412.5 710.7h0M421.2 719.6h0M428.0 723.2h0M411.3 738.1h0M404.1 729.5h0M415.7 710.6h0M418.6 723.0h0M420.4 737.7h0M418.0 760.4h0M417.3 730.3h0M415.7 737.3h0M408.9 748.2h0M407.6 746.5h0M408.2 722.0h0M403.2 707.1h0M419.7 736.0h0M398.0 745.6h0M399.7 730.2h0M413.7 750.3h0M417.0 730.1h0M414.5 743.0h0M407.6 743.6h0M409.1 765.5h0M407.2 736.5h0M408.2 732.2h0M399.5 723.3h0M406.3 757.1h0M419.9 727.9h0M409.3 727.1h0M415.7 720.0h0M398.0 756.6h0M414.2 734.3h0M419.9 714.0h0M415.7 722.1h0M415.5 756.2h0M406.0 735.0h0M401.1 723.7h0M398.0 723.9h0M423.3 734.9h0M421.1 708.9h0M406.0 743.3h0M399.8 702.0h0M418.4 722.7h0M419.1 724.5h0M417.5 717.0h0M405.8 718.1h0M398.0 722.8h0M417.2 735.5h0M403.2 708.3h0M421.2 730.2h0M427.8 733.6h0M417.1 715.0h0M407.1 742.0h0M405.3 732.3h0M416.2 722.8h0M406.1 730.5h0M418.2 726.3h0M402.4 726.1h0M405.9 712.4h0M410.3 726.2h0M415.1 728.6h0M416.1 720.2h0M407.4 740.0h0M405.5 726.3h0M401.0 719.5h0M417.0 748.3h0M405.6 713.4h0M416.9 720.6h0M425.8 733.4h0M420.2 726.6h0M409.6 719.2h0M408.7 733.4h0M404.2 723.3h0M421.5 732.1h0M407.3 762.5h0M426.3 744.6h0M418.2 721.4h0M398.0 740.8h0M410.0 729.3h0M404.0 723.5h0M415.1 731.8h0M410.7 740.6h0M409.5 715.1h0M413.3 737.8h0M400.6 730.3h0M426.2 763.6h0M413.9 708.2h0M405.1 732.3h0M420.8 737.8h0M405.7 749.6h0M417.2 699.3h0M406.7 743.0h0M402.1 727.8h0M423.2 726.7h0M409.3 734.4h0M416.5 721.7h0M418.0 743.5h0M407.2 739.2h0M416.4 729.3h0M413.2 744.5h0M413.8 726.1h0M416.8 749.4h0M403.4 748.9h0M402.2 722.7h0M428.0 738.8h0M407.7 721.9h0M411.7 725.8h0M411.2 719.8h0M405.3 701.1h0M400.2 735.7h0M421.9 724.3h0M411.7 709.8h0M418.1 735.3h0M405.6 719.2h0M401.2 718.3h0M413.8 738.8h0M421.1 741.8h0M424.8 694.4h0M402.8 713.9h0M407.4 745.7h0M421.0 746.3h0M415.6 733.5h0M421.6 735.0h0M408.3 756.0h0M425.2 727.2h0M420.9 729.9h0M416.0 746.4h0M403.2 742.1h0M405.1 750.4h0M425.9 695.6h0M420.3 744.3h0M412.8 732.6h0M412.3 744.1h0M419.0 736.2h0M423.7 722.0h0M406.2 730.3h0M428.0 754.1h0M425.5 749.9h0M420.1 740.7h0M411.6 726.3h0M417.8 700.8h0M410.8 731.0h0M403.6 702.1h0M407.4 720.8h0M428.0 729.1h0M409.8 721.7h0M398.0 753.5h0M403.4 700.9h0M417.6 737.8h0M422.1 756.6h0M409.1 729.6h0M405.0 730.1h0M426.3 717.5h0M413.2 757.6h0M401.9 727.9h0M412.4 718.5h0M402.3 730.7h0M408.3 729.9h0M414.9 758.5h0M405.5 757.0h0M414.2 711.2h0M400.0 718.0h0M419.0 740.2h0M413.3 730.4h0M411.6 744.9h0M410.0 722.0h0M413.8 730.2h0M405.2 715.4h0M405.8 709.5h0M408.7 724.7h0M411.3 711.0h0M415.0 737.0h0M398.9 739.8h0M410.9 714.0h0M415.5 746.3h0M413.0 718.4h0M427.1 711.3h0M414.6 720.5h0M404.1 712.7h0M407.7 708.9h0M406.5 742.5h0M407.8 748.3h0M410.1 722.9h0M412.9 728.0h0M403.1 709.8h0M419.3 721.5h0M413.9 735.4h0M422.6 741.5h0M399.5 758.1h0M414.8 734.2h0M415.5 731.8h0M399.9 708.5h0M399.9 735.9h0M412.4 706.3h0M411.8 742.4h0M414.4 730.0h0M426.4 740.0h0M413.4 730.4h0M414.9 712.7h0M409.4 736.9h0M400.1 727.0h0M408.6 751.9h0M403.9 762.1h0M403.6 710.4h0M410.9 738.9h0M422.5 732.1h0M417.7 705.4h0M409.3 731.4h0M415.1 715.7h0M417.6 729.6h0M413.7 723.8h0M410.3 758.3h0M416.2 717.2h0M417.5 756.8h0M415.5 713.2h0M414.1 747.6h0M400.8 724.3h0M416.4 736.8h0M412.1 741.5h0M398.0 715.7h0M422.0 744.0h0M415.4 735.2h0M428.0 707.8h0M425.9 738.3h0M405.4 713.3h0M428.0 728.8h0M412.0 735.1h0M413.1 754.6h0M410.0 746.9h0M418.0 769.3h0M421.4 720.2h0M416.6 714.7h0M407.4 718.6h0M421.7 730.8h0M411.8 770.8h0M410.5 737.0h0M412.7 719.3h0M400.4 742.2h0M404.8 718.5h0M420.5 730.9h0M401.8 744.9h0M408.0 729.4h0M418.1 748.9h0M410.6 735.8h0M423.3 748.7h0M407.0 692.6h0M412.1 739.1h0M406.9 733.9h0M411.4 735.4h0M419.9 730.0h0M418.4 745.1h0M407.4 741.0h0M415.5 717.6h0M422.7 722.7h0M398.0 726.4h0M405.4 703.8h0M417.3 719.7h0M415.2 760.9h0M402.6 717.1h0M405.4 716.6h0M411.8 730.3h0M411.1 755.3h0M407.6 733.0h0M407.7 758.2h0M413.8 740.1h0M410.9 731.5h0M410.4 741.1h0M408.4 755.8h0M407.3 727.8h0M411.8 735.7h0M413.6 730.5h0M416.1 759.3h0M412.8 738.5h0M408.7 698.7h0M418.4 730.9h0M405.7 725.9h0M398.0 697.9h0M411.9 714.4h0M408.8 724.1h0M412.6 740.3h0M415.6 733.6h0M414.1 743.4h0M418.0 738.8h0M411.5 716.3h0M403.6 726.9h0M413.7 717.3h0M403.1 733.4h0M411.5 746.7h0M398.0 750.1h0M411.6 723.1h0M409.5 716.2h0M428.0 743.8h0M409.8 731.6h0M398.3 714.2h0M398.9 755.2h0M398.8 712.1h0M399.2 721.1h0M398.9 726.5h0M398.9 735.9h0M400.1 741.4h0M398.0 756.9h0M398.0 733.0h0M398.0 729.4h0M399.0 743.4h0M398.0 725.8h0M398.8 694.6h0M398.6 722.7h0M399.3 750.7h0M400.3 740.9h0M398.6 702.4h0M398.7 726.8h0M399.3 762.6h0M398.0 755.7h0M399.8 726.5h0M399.6 745.9h0M399.8 732.8h0M398.0 733.5h0M398.0 732.4h0M399.8 756.7h0M400.2 757.6h0M398.6 731.8h0M399.5 726.7h0M399.3 688.7h0M399.6 731.3h0M398.2 731.9h0M398.6 737.4h0M398.5 738.3h0M401.5 726.3h0M400.0 725.5h0M398.9 755.9h0M399.6 704.1h0M399.6 708.3h0M398.0 733.7h0M399.8 721.9h0M398.0 714.2h0M398.0 752.5h0M398.7 733.2h0M398.0 728.5h0M398.0 736.3h0M400.5 722.6h0M399.4 722.6h0M398.0 738.8h0M399.6 740.0h0M399.5 711.8h0M400.0 717.7h0M399.9 726.8h0M400.4 750.3h0M400.2 758.7h0M398.0 745.4h0M400.8 724.9h0M399.8 752.3h0M399.2 755.0h0M399.1 750.5h0M399.1 746.7h0M399.5 751.2h0M400.2 729.6h0M398.9 717.1h0M398.1 731.0h0M398.7 746.8h0M398.1 731.6h0M399.3 720.2h0M398.3 729.4h0M398.3 731.6h0M399.6 759.8h0M399.6 690.3h0M398.7 728.1h0M400.0 719.0h0M401.8 689.0h0M400.0 752.9h0M399.5 726.5h0M401.6 748.3h0M400.2 732.0h0M398.4 698.4h0M399.3 740.8h0M399.7 738.9h0M399.3 707.7h0M399.4 720.2h0M399.0 726.8h0M398.4 762.1h0M398.1 749.2h0M399.5 691.6h0M399.5 720.6h0M398.3 751.4h0M399.6 717.9h0M399.8 729.5h0M401.3 741.6h0M398.3 762.4h0M399.7 714.8h0M398.2 765.0h0M399.3 713.0h0M398.3 752.7h0M400.5 729.7h0M399.2 720.4h0M398.0 736.6h0M400.8 721.4h0M402.3 734.7h0M400.5 758.5h0M399.8 713.1h0M398.0 721.2h0M399.3 732.3h0M400.0 742.6h0M399.7 698.0h0M399.9 730.5h0M399.9 738.7h0M398.0 746.1h0M398.0 727.9h0M398.0 741.3h0M400.4 721.0h0M398.0 735.9h0M400.3 710.2h0M398.0 751.1h0M400.3 745.5h0M399.8 737.6h0M398.7 730.8h0M399.9 727.7h0M398.8 716.5h0M399.7 712.0h0M398.7 714.6h0M398.8 720.0h0M398.4 711.9h0M398.5 730.5h0M398.0 732.5h0M399.7 703.3h0M399.3 752.4h0M399.5 727.7h0M399.8 737.2h0M399.5 739.9h0M398.0 744.0h0M398.0 709.1h0M401.2 762.2h0M399.9 716.4h0M398.2 734.7h0M398.2 728.5h0M400.7 722.1h0M400.5 715.2h0M398.0 696.6h0M398.6 762.3h0M399.5 719.0h0M399.3 758.1h0M398.8 710.8h0M398.0 732.2h0M398.9 697.1h0M400.4 725.6h0" stroke="#000" stroke-width="1.45" stroke-linecap="square" fill="none"/>
<text x="43" y="692.3" font-size="15" font-weight="bold" fill="#000" stroke="#000" stroke-width="0.3">36</text>
<text x="122.8" y="691.4" font-size="15" font-weight="bold" fill="#000" stroke="#000" stroke-width="0.3">3</text>
<text x="44.6" y="774.5" font-size="15" font-weight="bold" fill="#000" stroke="#000" stroke-width="0.3">60</text>
<text x="122.8" y="767" font-size="15" font-weight="bold" fill="#000" stroke="#000" stroke-width="0.3">1</text>
<text x="162" y="692.3" font-size="15" font-weight="bold" fill="#000" stroke="#000" stroke-width="0.3">47</text>
<text x="241" y="692.3" font-size="15" font-weight="bold" fill="#000" stroke="#000" stroke-width="0.3">2</text>
<text x="167" y="774.4" font-size="15" font-weight="bold" fill="#000" stroke="#000" stroke-width="0.3">51</text>
<text x="242.2" y="767.7" font-size="15" font-weight="bold" fill="#000" stroke="#000" stroke-width="0.3">0</text>
<text x="279.3" y="692.5" font-size="15" font-weight="bold" fill="#000" stroke="#000" stroke-width="0.3">47</text>
<text x="359.6" y="692.5" font-size="15" font-weight="bold" fill="#000" stroke="#000" stroke-width="0.3">1</text>
<text x="283.7" y="774.2" font-size="15" font-weight="bold" fill="#000" stroke="#000" stroke-width="0.3">52</text>
<text x="358.4" y="767" font-size="15" font-weight="bold" fill="#000" stroke="#000" stroke-width="0.3">0</text>
<text x="407.8" y="692.5" font-size="15" font-weight="bold" fill="#000" stroke="#000" stroke-width="0.3">49</text>
<text x="488.1" y="692.5" font-size="15" font-weight="bold" fill="#000" stroke="#000" stroke-width="0.3">1</text>
<text x="407.8" y="774.2" font-size="15" font-weight="bold" fill="#000" stroke="#000" stroke-width="0.3">50</text>
<text x="487" y="767" font-size="15" font-weight="bold" fill="#000" stroke="#000" stroke-width="0.3">0</text>
<rect x="286.0" y="647.3" width="8.2" height="8.4" fill="none" stroke="#888" stroke-width="1.3"/>
<rect x="297.40000000000003" y="647.3" width="8.2" height="8.4" fill="none" stroke="#888" stroke-width="1.3"/>
<rect x="14.0" y="554.6" width="9.4" height="8.2" fill="none" stroke="#888" stroke-width="1.3"/>
<rect x="14.0" y="542.8" width="9.4" height="8.2" fill="none" stroke="#888" stroke-width="1.3"/>
<text x="3.2" y="841.8" font-size="23" font-weight="bold" fill="#000" stroke="#000" stroke-width="0.3">C</text>
<line x1="20.5" y1="888.1" x2="516.8" y2="888.1" stroke="#000" stroke-width="2.0" stroke-dasharray="2 1.6"/>
<line x1="15.8" y1="888.1" x2="18" y2="888.1" stroke="#000" stroke-width="1.6"/>
<line x1="20.5" y1="911.3" x2="516.8" y2="911.3" stroke="#000" stroke-width="2.0" stroke-dasharray="2 1.6"/>
<line x1="15.8" y1="911.3" x2="18" y2="911.3" stroke="#000" stroke-width="1.6"/>
<line x1="20.5" y1="934.1" x2="516.8" y2="934.1" stroke="#000" stroke-width="2.0" stroke-dasharray="2 1.6"/>
<line x1="15.8" y1="934.1" x2="18" y2="934.1" stroke="#000" stroke-width="1.6"/>
<line x1="20.5" y1="957.1" x2="516.8" y2="957.1" stroke="#000" stroke-width="2.0" stroke-dasharray="2 1.6"/>
<line x1="15.8" y1="957.1" x2="18" y2="957.1" stroke="#000" stroke-width="1.6"/>
<line x1="18.7" y1="864.1" x2="18.7" y2="981.2" stroke="#000" stroke-width="2.6"/>
<line x1="15.5" y1="864.9" x2="19.5" y2="864.9" stroke="#000" stroke-width="1.6"/>
<text x="14.8" y="870.8" font-size="14" text-anchor="end" fill="#000" stroke="#000" stroke-width="0.3">10</text>
<text x="14.8" y="890.2" font-size="14" text-anchor="end" fill="#000" stroke="#000" stroke-width="0.3">8</text>
<text x="14.8" y="913.4" font-size="14" text-anchor="end" fill="#000" stroke="#000" stroke-width="0.3">6</text>
<text x="14.8" y="936.3" font-size="14" text-anchor="end" fill="#000" stroke="#000" stroke-width="0.3">4</text>
<text x="14.8" y="959.3" font-size="14" text-anchor="end" fill="#000" stroke="#000" stroke-width="0.3">2</text>
<text x="14.8" y="982.2" font-size="14" text-anchor="end" fill="#000" stroke="#000" stroke-width="0.3">0</text>
<rect x="20.9" y="868.9" width="7.6" height="111.1" fill="#000"/>
<rect x="28.5" y="975.7" width="2.8" height="4.3" fill="#000"/>
<rect x="31.2" y="976.2" width="6.9" height="3.8" fill="#000"/>
<text transform="translate(37.5 983.2) rotate(-90)" font-size="14.5" text-anchor="end" fill="#000" stroke="#000" stroke-width="0.3">Vb2</text>
<rect x="41.76" y="870.9" width="7.6" height="109.1" fill="#000"/>
<rect x="49.36" y="973.2" width="2.8" height="6.8" fill="#000"/>
<rect x="52.86" y="971.2" width="5.3" height="8.8" fill="#fff" stroke="#000" stroke-width="1.6"/>
<text transform="translate(55.5 983.2) rotate(-90)" font-size="14.5" text-anchor="end" fill="#000" stroke="#000" stroke-width="0.3">VB5.1</text>
<rect x="62.62" y="927.7" width="7.6" height="52.3" fill="#000"/>
<rect x="70.22" y="974.7" width="2.8" height="5.3" fill="#000"/>
<rect x="72.92" y="975.4" width="6.9" height="4.6" fill="#000"/>
<text transform="translate(76.9 983.2) rotate(-90)" font-size="14.5" text-anchor="end" fill="#000" stroke="#000" stroke-width="0.3">Vb13.2</text>
<rect x="83.48" y="931.8" width="7.6" height="48.2" fill="#000"/>
<rect x="91.08" y="976.2" width="2.8" height="3.8" fill="#000"/>
<rect x="93.78" y="976.7" width="6.9" height="3.3" fill="#000"/>
<text transform="translate(97.2 983.2) rotate(-90)" font-size="14.5" text-anchor="end" fill="#000" stroke="#000" stroke-width="0.3">Vb17</text>
<rect x="104.34" y="933.5" width="7.6" height="46.5" fill="#000"/>
<rect x="111.94" y="976.2" width="2.8" height="3.8" fill="#000"/>
<rect x="114.64" y="976.7" width="6.9" height="3.3" fill="#000"/>
<text transform="translate(119.1 983.2) rotate(-90)" font-size="14.5" text-anchor="end" fill="#000" stroke="#000" stroke-width="0.3">Vb13.1</text>
<rect x="125.2" y="939.5" width="7.6" height="40.5" fill="#000"/>
<rect x="132.8" y="977.0" width="2.8" height="3.0" fill="#000"/>
<rect x="135.5" y="977.4" width="6.9" height="2.6" fill="#000"/>
<text transform="translate(140.4 983.2) rotate(-90)" font-size="14.5" text-anchor="end" fill="#000" stroke="#000" stroke-width="0.3">Vb8</text>
<rect x="146.06" y="942.4" width="7.6" height="37.6" fill="#000"/>
<rect x="153.66" y="977.0" width="2.8" height="3.0" fill="#000"/>
<rect x="156.36" y="977.6" width="6.9" height="2.4" fill="#000"/>
<text transform="translate(160.5 983.2) rotate(-90)" font-size="14.5" text-anchor="end" fill="#000" stroke="#000" stroke-width="0.3">Vb20</text>
<rect x="166.92" y="942.4" width="7.6" height="37.6" fill="#000"/>
<rect x="174.52" y="977.4" width="2.8" height="2.6" fill="#000"/>
<rect x="177.22" y="977.7" width="6.9" height="2.3" fill="#000"/>
<text transform="translate(182.9 983.2) rotate(-90)" font-size="14.5" text-anchor="end" fill="#000" stroke="#000" stroke-width="0.3">Vb3</text>
<rect x="187.78" y="943.8" width="7.6" height="36.2" fill="#000"/>
<rect x="195.38" y="977.0" width="2.8" height="3.0" fill="#000"/>
<rect x="198.08" y="977.6" width="6.9" height="2.4" fill="#000"/>
<text transform="translate(204.4 983.2) rotate(-90)" font-size="14.5" text-anchor="end" fill="#000" stroke="#000" stroke-width="0.3">Vb1</text>
<rect x="208.64" y="954.2" width="7.6" height="25.8" fill="#000"/>
<rect x="216.24" y="977.4" width="2.8" height="2.6" fill="#000"/>
<rect x="218.94" y="977.8" width="6.9" height="2.2" fill="#000"/>
<text transform="translate(224.2 983.2) rotate(-90)" font-size="14.5" text-anchor="end" fill="#000" stroke="#000" stroke-width="0.3">Vb18</text>
<rect x="229.5" y="954.8" width="7.6" height="25.2" fill="#000"/>
<rect x="237.1" y="977.4" width="2.8" height="2.6" fill="#000"/>
<rect x="239.8" y="977.8" width="6.9" height="2.2" fill="#000"/>
<text transform="translate(245.5 983.2) rotate(-90)" font-size="14.5" text-anchor="end" fill="#000" stroke="#000" stroke-width="0.3">Vb21.3</text>
<rect x="250.36" y="956.5" width="7.6" height="23.5" fill="#000"/>
<rect x="257.96" y="977.8" width="2.8" height="2.2" fill="#000"/>
<rect x="260.66" y="978.0" width="6.9" height="2.0" fill="#000"/>
<text transform="translate(266.7 983.2) rotate(-90)" font-size="14.5" text-anchor="end" fill="#000" stroke="#000" stroke-width="0.3">Vb12</text>
<rect x="271.22" y="957.0" width="7.6" height="23.0" fill="#000"/>
<rect x="278.82" y="977.6" width="2.8" height="2.4" fill="#000"/>
<rect x="281.52" y="977.8" width="6.9" height="2.2" fill="#000"/>
<text transform="translate(285.7 983.2) rotate(-90)" font-size="14.5" text-anchor="end" fill="#000" stroke="#000" stroke-width="0.3">Vb4</text>
<rect x="292.08" y="957.0" width="7.6" height="23.0" fill="#000"/>
<rect x="299.68" y="976.7" width="2.8" height="3.3" fill="#000"/>
<rect x="302.38" y="977.2" width="6.9" height="2.8" fill="#000"/>
<text transform="translate(305.8 983.2) rotate(-90)" font-size="14.5" text-anchor="end" fill="#000" stroke="#000" stroke-width="0.3">Vb13.6</text>
<rect x="312.94" y="958.5" width="7.6" height="21.5" fill="#000"/>
<rect x="320.54" y="976.2" width="2.8" height="3.8" fill="#000"/>
<rect x="323.24" y="976.7" width="6.9" height="3.3" fill="#000"/>
<text transform="translate(328.9 983.2) rotate(-90)" font-size="14.5" text-anchor="end" fill="#000" stroke="#000" stroke-width="0.3">Vb14</text>
<rect x="333.8" y="961.7" width="7.6" height="18.3" fill="#000"/>
<rect x="341.4" y="973.2" width="2.8" height="6.8" fill="#000"/>
<rect x="344.1" y="975.4" width="6.9" height="4.6" fill="#000"/>
<text transform="translate(349.0 983.2) rotate(-90)" font-size="14.5" text-anchor="end" fill="#000" stroke="#000" stroke-width="0.3">Vb7.1</text>
<rect x="354.66" y="963.9" width="7.6" height="16.1" fill="#000"/>
<rect x="362.26" y="978.2" width="2.8" height="1.8" fill="#000"/>
<rect x="364.96" y="978.4" width="6.9" height="1.6" fill="#000"/>
<text transform="translate(367.0 983.2) rotate(-90)" font-size="14.5" text-anchor="end" fill="#000" stroke="#000" stroke-width="0.3">Vb7.2</text>
<rect x="375.52" y="965.2" width="7.6" height="14.8" fill="#000"/>
<rect x="383.12" y="978.4" width="2.8" height="1.6" fill="#000"/>
<rect x="385.82" y="978.4" width="6.9" height="1.6" fill="#000"/>
<text transform="translate(388.1 983.2) rotate(-90)" font-size="14.5" text-anchor="end" fill="#000" stroke="#000" stroke-width="0.3">Vb5.3</text>
<rect x="396.38" y="967.9" width="7.6" height="12.1" fill="#000"/>
<rect x="403.98" y="978.4" width="2.8" height="1.6" fill="#000"/>
<rect x="406.68" y="978.4" width="6.9" height="1.6" fill="#000"/>
<text transform="translate(410.3 983.2) rotate(-90)" font-size="14.5" text-anchor="end" fill="#000" stroke="#000" stroke-width="0.3">Vb9</text>
<rect x="417.24" y="970.6" width="7.6" height="9.4" fill="#000"/>
<rect x="424.84" y="978.4" width="2.8" height="1.6" fill="#000"/>
<rect x="427.54" y="978.4" width="6.9" height="1.6" fill="#000"/>
<text transform="translate(432.8 983.2) rotate(-90)" font-size="14.5" text-anchor="end" fill="#000" stroke="#000" stroke-width="0.3">Vb16</text>
<rect x="438.1" y="971.4" width="7.6" height="8.6" fill="#000"/>
<rect x="445.7" y="978.4" width="2.8" height="1.6" fill="#000"/>
<rect x="448.4" y="978.4" width="6.9" height="1.6" fill="#000"/>
<text transform="translate(452.4 983.2) rotate(-90)" font-size="14.5" text-anchor="end" fill="#000" stroke="#000" stroke-width="0.3">Vb5.2</text>
<rect x="458.96" y="972.5" width="7.6" height="7.5" fill="#000"/>
<rect x="466.56" y="974.4" width="2.8" height="5.6" fill="#000"/>
<rect x="470.06" y="975.5" width="5.3" height="4.5" fill="#fff" stroke="#000" stroke-width="1.6"/>
<text transform="translate(472.1 983.2) rotate(-90)" font-size="14.5" text-anchor="end" fill="#000" stroke="#000" stroke-width="0.3">Vb22</text>
<rect x="479.82" y="973.3" width="7.6" height="6.7" fill="#000"/>
<rect x="487.42" y="978.4" width="2.8" height="1.6" fill="#000"/>
<rect x="490.12" y="978.4" width="6.9" height="1.6" fill="#000"/>
<text transform="translate(495.1 983.2) rotate(-90)" font-size="14.5" text-anchor="end" fill="#000" stroke="#000" stroke-width="0.3">Vb11</text>
<rect x="500.68" y="975.2" width="7.6" height="4.8" fill="#000"/>
<rect x="508.28" y="976.2" width="2.8" height="3.8" fill="#000"/>
<rect x="510.98" y="977.2" width="6.9" height="2.8" fill="#000"/>
<text transform="translate(513.6 983.2) rotate(-90)" font-size="14.5" text-anchor="end" fill="#000" stroke="#000" stroke-width="0.3">Vb23</text>
<line x1="17.5" y1="979.8" x2="518" y2="979.8" stroke="#000" stroke-width="2.8"/>
<rect x="54.6" y="855.4" width="15.4" height="9.8" fill="#000"/>
<text x="76.2" y="865.1" font-size="14.3" fill="#000" stroke="#000" stroke-width="0.3">No mRNA</text>
<rect x="157.3" y="857.3" width="13" height="9" fill="#fff" stroke="#000" stroke-width="2"/>
<path d="M163.6 857.3 H170.3 V863.6 H166 V861.3 H163.6 Z" fill="#000"/>
<text x="176.9" y="866.1" font-size="14.2" fill="#000" stroke="#000" stroke-width="0.3">TRAC CD3</text>
<text x="248.7" y="863.4" font-size="9" fill="#000">pos</text>
<text x="267.6" y="866.1" font-size="14.3" fill="#000" stroke="#000" stroke-width="0.3">depleted</text>
<rect x="344.0" y="857.5" width="12.2" height="7.6" fill="#fff" stroke="#000" stroke-width="2"/>
<text x="361.3" y="866.1" font-size="14.4" fill="#000" stroke="#000" stroke-width="0.3">TRBC CD3</text>
<text x="434.6" y="863.4" font-size="9" fill="#000">pos</text>
<text x="452.3" y="866.1" font-size="14.3" fill="#000" stroke="#000" stroke-width="0.3">depleted</text>
</svg></body></html>
